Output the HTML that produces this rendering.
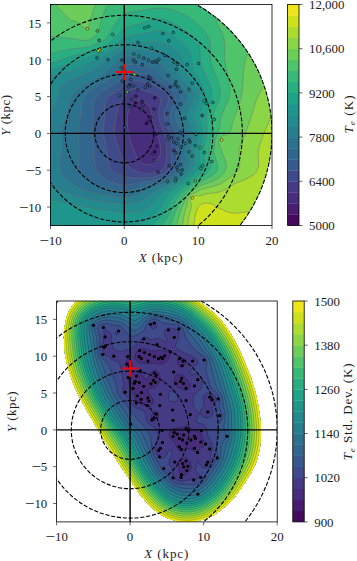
<!DOCTYPE html>
<html><head><meta charset="utf-8"><title>Te map</title>
<style>html,body{margin:0;padding:0;background:#fff}svg text{font-family:"Liberation Serif","DejaVu Serif",serif;fill:#1c1c1c}</style>
</head><body>
<svg width="357" height="561" viewBox="0 0 357 561" style="display:block">
<rect width="357" height="561" fill="#fff"/>
<defs>
<clipPath id="c1"><circle cx="124.3" cy="133.4" r="147.7"/></clipPath>
<clipPath id="f1"><rect x="50.5" y="4.5" width="221.5" height="221.0"/></clipPath>
<clipPath id="f2"><rect x="56.6" y="301.0" width="220.6" height="220.9"/></clipPath>
</defs>
<g clip-path="url(#f1)"><g clip-path="url(#c1)">
<g transform="scale(0.1)" stroke="#707070" stroke-opacity="0.8" stroke-width="6">
<path d="M475 2284l15 0 15 0 15 0 15 0 14 0 15 0 15 0 15 0 14 0 15 0 15 0 15 0 14 0 15 0 15 0 15 0 14 0 15 0 15 0 15 0 15 0 14 0 15 0 15 0 15 0 14 0 15 0 15 0 15 0 14 0 15 0 15 0 15 0 15 0 14 0 15 0 15 0 15 0 14 0 15 0 15 0 15 0 14 0 15 0 15 0 15 0 14 0 15 0 15 0 15 0 15 0 14 0 15 0 15 0 15 0 14 0 15 0 15 0 15 0 14 0 15 0 15 0 15 0 15 0 14 0 15 0 15 0 15 0 14 0 15 0 15 0 15 0 14 0 15 0 15 0 15 0 14 0 15 0 15 0 15 0 15 0 14 0 15 0 15 0 15 0 14 0 15 0 15 0 15 0 14 0 15 0 15 0 15 0 15 0 14 0 15 0 15 0 15 0 14 0 15 0 15 0 15 0 14 0 15 0 15 0 15 0 14 0 15 0 15 0 15 0 15 0 14 0 15 0 15 0 15 0 14 0 15 0 15 0 15 0 14 0 15 0 15 0 15 0 15 0 14 0 15 0 15 0 15 0 14 0 15 0 15 0 15 0 14 0 15 0 15 0 15 0 14 0 15 0 15 0 15 0 15 0 14 0 15 0 15 0 15 0 14 0 15 0 15 0 15 0 14 0 15 0 15 0 15 0 15 0 0-14 0-15 0-15 0-14 0-15 0-15 0-15 0-14 0-15 0-15 0-15 0-14 0-15 0-15 0-15 0-14 0-15 0-15 0-14 0-15 0-15 0-15 0-14 0-15 0-15 0-15 0-14 0-15 0-15 0-15 0-14 0-15 0-15 0-14 0-15 0-15 0-15 0-14 0-15 0-15 0-15 0-14 0-15 0-15 0-15 0-14 0-15 0-15 0-14 0-15 0-15 0-15 0-14 0-15 0-15 0-15 0-14 0-15 0-15 0-15 0-14 0-15 0-15 0-14 0-15 0-15 0-15 0-14 0-15 0-15 0-15 0-14 0-15 0-15 0-15 0-14 0-15 0-15 0-14 0-15 0-15 0-15 0-14 0-15 0-15 0-15 0-14 0-15 0-15 0-15 0-14 0-15 0-15 0-14 0-15 0-15 0-15 0-14 0-15 0-15 0-15 0-14 0-15 0-15 0-15 0-14 0-15 0-15 0-14 0-15 0-15 0-15 0-14 0-15 0-15 0-15 0-14 0-15 0-15 0-15 0-14 0-15 0-15 0-14 0-15 0-15 0-15 0-14 0-15 0-15 0-15 0-14 0-15 0-15 0-15 0-14 0-15 0-15 0-14 0-15 0-15 0-15 0-14 0-15 0-15 0-15 0-14 0-15 0-15 0-15 0-14 0-15 0-15 0-14-15 0-15 0-15 0-15 0-14 0-15 0-15 0-15 0-14 0-15 0-15 0-15 0-14 0-15 0-15 0-15 0-15 0-14 0-15 0-15 0-15 0-14 0-15 0-15 0-15 0-14 0-15 0-15 0-15 0-14 0-15 0-15 0-15 0-15 0-14 0-15 0-15 0-15 0-14 0-15 0-15 0-15 0-14 0-15 0-15 0-15 0-15 0-14 0-15 0-15 0-15 0-14 0-15 0-15 0-15 0-14 0-15 0-15 0-15 0-14 0-15 0-15 0-15 0-15 0-14 0-15 0-15 0-15 0-14 0-15 0-15 0-15 0-14 0-15 0-15 0-15 0-15 0-14 0-15 0-15 0-15 0-14 0-15 0-15 0-15 0-14 0-15 0-15 0-15 0-14 0-15 0-15 0-15 0-15 0-14 0-15 0-15 0-15 0-14 0-15 0-15 0-15 0-14 0-15 0-15 0-15 0-15 0-14 0-15 0-15 0-15 0-14 0-15 0-15 0-15 0-14 0-15 0-15 0-15 0-14 0-15 0-15 0-15 0-15 0-14 0-15 0-15 0-15 0-14 0-15 0-15 0-15 0-14 0-15 0-15 0-15 0-15 0-14 0-15 0-15 0-15 0-14 0-15 0-15 0-15 0-14 0-15 0-15 0-15 0-14 0-15 0-15 0-15 0-15 0 0 14 0 15 0 15 0 14 0 15 0 15 0 15 0 14 0 15 0 15 0 15 0 14 0 15 0 15 0 15 0 14 0 15 0 15 0 14 0 15 0 15 0 15 0 14 0 15 0 15 0 15 0 14 0 15 0 15 0 15 0 14 0 15 0 15 0 14 0 15 0 15 0 15 0 14 0 15 0 15 0 15 0 14 0 15 0 15 0 15 0 14 0 15 0 15 0 14 0 15 0 15 0 15 0 14 0 15 0 15 0 15 0 14 0 15 0 15 0 15 0 14 0 15 0 15 0 14 0 15 0 15 0 15 0 14 0 15 0 15 0 15 0 14 0 15 0 15 0 15 0 14 0 15 0 15 0 14 0 15 0 15 0 15 0 14 0 15 0 15 0 15 0 14 0 15 0 15 0 15 0 14 0 15 0 15 0 14 0 15 0 15 0 15 0 14 0 15 0 15 0 15 0 14 0 15 0 15 0 15 0 14 0 15 0 15 0 14 0 15 0 15 0 15 0 14 0 15 0 15 0 15 0 14 0 15 0 15 0 15 0 14 0 15 0 15 0 14 0 15 0 15 0 15 0 14 0 15 0 15 0 15 0 14 0 15 0 15 0 15 0 14 0 15 0 15 0 14 0 15 0 15 0 15 0 14 0 15 0 15 0 15 0 14 0 15 0 15 0 15 0 14 0 15 0 15 0 14z" fill="#460a5d" fill-rule="evenodd"/>
<path d="M475 2284l15 0 15 0 15 0 15 0 14 0 15 0 15 0 15 0 14 0 15 0 15 0 15 0 14 0 15 0 15 0 15 0 14 0 15 0 15 0 15 0 15 0 14 0 15 0 15 0 15 0 14 0 15 0 15 0 15 0 14 0 15 0 15 0 15 0 15 0 14 0 15 0 15 0 15 0 14 0 15 0 15 0 15 0 14 0 15 0 15 0 15 0 14 0 15 0 15 0 15 0 15 0 14 0 15 0 15 0 15 0 14 0 15 0 15 0 15 0 14 0 15 0 15 0 15 0 15 0 14 0 15 0 15 0 15 0 14 0 15 0 15 0 15 0 14 0 15 0 15 0 15 0 14 0 15 0 15 0 15 0 15 0 14 0 15 0 15 0 15 0 14 0 15 0 15 0 15 0 14 0 15 0 15 0 15 0 15 0 14 0 15 0 15 0 15 0 14 0 15 0 15 0 15 0 14 0 15 0 15 0 15 0 14 0 15 0 15 0 15 0 15 0 14 0 15 0 15 0 15 0 14 0 15 0 15 0 15 0 14 0 15 0 15 0 15 0 15 0 14 0 15 0 15 0 15 0 14 0 15 0 15 0 15 0 14 0 15 0 15 0 15 0 14 0 15 0 15 0 15 0 15 0 14 0 15 0 15 0 15 0 14 0 15 0 15 0 15 0 14 0 15 0 15 0 15 0 15 0 0-14 0-15 0-15 0-14 0-15 0-15 0-15 0-14 0-15 0-15 0-15 0-14 0-15 0-15 0-15 0-14 0-15 0-15 0-14 0-15 0-15 0-15 0-14 0-15 0-15 0-15 0-14 0-15 0-15 0-15 0-14 0-15 0-15 0-14 0-15 0-15 0-15 0-14 0-15 0-15 0-15 0-14 0-15 0-15 0-15 0-14 0-15 0-15 0-14 0-15 0-15 0-15 0-14 0-15 0-15 0-15 0-14 0-15 0-15 0-15 0-14 0-15 0-15 0-14 0-15 0-15 0-15 0-14 0-15 0-15 0-15 0-14 0-15 0-15 0-15 0-14 0-15 0-15 0-14 0-15 0-15 0-15 0-14 0-15 0-15 0-15 0-14 0-15 0-15 0-15 0-14 0-15 0-15 0-14 0-15 0-15 0-15 0-14 0-15 0-15 0-15 0-14 0-15 0-15 0-15 0-14 0-15 0-15 0-14 0-15 0-15 0-15 0-14 0-15 0-15 0-15 0-14 0-15 0-15 0-15 0-14 0-15 0-15 0-14 0-15 0-15 0-15 0-14 0-15 0-15 0-15 0-14 0-15 0-15 0-15 0-14 0-15 0-15 0-14 0-15 0-15 0-15 0-14 0-15 0-15 0-15 0-14 0-15 0-15 0-15 0-14 0-15 0-15 0-14-15 0-15 0-15 0-15 0-14 0-15 0-15 0-15 0-14 0-15 0-15 0-15 0-14 0-15 0-15 0-15 0-15 0-14 0-15 0-15 0-15 0-14 0-15 0-15 0-15 0-14 0-15 0-15 0-15 0-14 0-15 0-15 0-15 0-15 0-14 0-15 0-15 0-15 0-14 0-15 0-15 0-15 0-14 0-15 0-15 0-15 0-15 0-14 0-15 0-15 0-15 0-14 0-15 0-15 0-15 0-14 0-15 0-15 0-15 0-14 0-15 0-15 0-15 0-15 0-14 0-15 0-15 0-15 0-14 0-15 0-15 0-15 0-14 0-15 0-15 0-15 0-15 0-14 0-15 0-15 0-15 0-14 0-15 0-15 0-15 0-14 0-15 0-15 0-15 0-14 0-15 0-15 0-15 0-15 0-14 0-15 0-15 0-15 0-14 0-15 0-15 0-15 0-14 0-15 0-15 0-15 0-15 0-14 0-15 0-15 0-15 0-14 0-15 0-15 0-15 0-14 0-15 0-15 0-15 0-14 0-15 0-15 0-15 0-15 0-14 0-15 0-15 0-15 0-14 0-15 0-15 0-15 0-14 0-15 0-15 0-15 0-15 0-14 0-15 0-15 0-15 0-14 0-15 0-15 0-15 0-14 0-15 0-15 0-15 0-14 0-15 0-15 0-15 0-15 0 0 14 0 15 0 15 0 14 0 15 0 15 0 15 0 14 0 15 0 15 0 15 0 14 0 15 0 15 0 15 0 14 0 15 0 15 0 14 0 15 0 15 0 15 0 14 0 15 0 15 0 15 0 14 0 15 0 15 0 15 0 14 0 15 0 15 0 14 0 15 0 15 0 15 0 14 0 15 0 15 0 15 0 14 0 15 0 15 0 15 0 14 0 15 0 15 0 14 0 15 0 15 0 15 0 14 0 15 0 15 0 15 0 14 0 15 0 15 0 15 0 14 0 15 0 15 0 14 0 15 0 15 0 15 0 14 0 15 0 15 0 15 0 14 0 15 0 15 0 15 0 14 0 15 0 15 0 14 0 15 0 15 0 15 0 14 0 15 0 15 0 15 0 14 0 15 0 15 0 15 0 14 0 15 0 15 0 14 0 15 0 15 0 15 0 14 0 15 0 15 0 15 0 14 0 15 0 15 0 15 0 14 0 15 0 15 0 14 0 15 0 15 0 15 0 14 0 15 0 15 0 15 0 14 0 15 0 15 0 15 0 14 0 15 0 15 0 14 0 15 0 15 0 15 0 14 0 15 0 15 0 15 0 14 0 15 0 15 0 15 0 14 0 15 0 15 0 14 0 15 0 15 0 15 0 14 0 15 0 15 0 15 0 14 0 15 0 15 0 15 0 14 0 15 0 15 0 14z" fill="#481c6e" fill-rule="evenodd"/>
<path d="M475 2284l15 0 15 0 15 0 15 0 14 0 15 0 15 0 15 0 14 0 15 0 15 0 15 0 14 0 15 0 15 0 15 0 14 0 15 0 15 0 15 0 15 0 14 0 15 0 15 0 15 0 14 0 15 0 15 0 15 0 14 0 15 0 15 0 15 0 15 0 14 0 15 0 15 0 15 0 14 0 15 0 15 0 15 0 14 0 15 0 15 0 15 0 14 0 15 0 15 0 15 0 15 0 14 0 15 0 15 0 15 0 14 0 15 0 15 0 15 0 14 0 15 0 15 0 15 0 15 0 14 0 15 0 15 0 15 0 14 0 15 0 15 0 15 0 14 0 15 0 15 0 15 0 14 0 15 0 15 0 15 0 15 0 14 0 15 0 15 0 15 0 14 0 15 0 15 0 15 0 14 0 15 0 15 0 15 0 15 0 14 0 15 0 15 0 15 0 14 0 15 0 15 0 15 0 14 0 15 0 15 0 15 0 14 0 15 0 15 0 15 0 15 0 14 0 15 0 15 0 15 0 14 0 15 0 15 0 15 0 14 0 15 0 15 0 15 0 15 0 14 0 15 0 15 0 15 0 14 0 15 0 15 0 15 0 14 0 15 0 15 0 15 0 14 0 15 0 15 0 15 0 15 0 14 0 15 0 15 0 15 0 14 0 15 0 15 0 15 0 14 0 15 0 15 0 15 0 15 0 0-14 0-15 0-15 0-14 0-15 0-15 0-15 0-14 0-15 0-15 0-15 0-14 0-15 0-15 0-15 0-14 0-15 0-15 0-14 0-15 0-15 0-15 0-14 0-15 0-15 0-15 0-14 0-15 0-15 0-15 0-14 0-15 0-15 0-14 0-15 0-15 0-15 0-14 0-15 0-15 0-15 0-14 0-15 0-15 0-15 0-14 0-15 0-15 0-14 0-15 0-15 0-15 0-14 0-15 0-15 0-15 0-14 0-15 0-15 0-15 0-14 0-15 0-15 0-14 0-15 0-15 0-15 0-14 0-15 0-15 0-15 0-14 0-15 0-15 0-15 0-14 0-15 0-15 0-14 0-15 0-15 0-15 0-14 0-15 0-15 0-15 0-14 0-15 0-15 0-15 0-14 0-15 0-15 0-14 0-15 0-15 0-15 0-14 0-15 0-15 0-15 0-14 0-15 0-15 0-15 0-14 0-15 0-15 0-14 0-15 0-15 0-15 0-14 0-15 0-15 0-15 0-14 0-15 0-15 0-15 0-14 0-15 0-15 0-14 0-15 0-15 0-15 0-14 0-15 0-15 0-15 0-14 0-15 0-15 0-15 0-14 0-15 0-15 0-14 0-15 0-15 0-15 0-14 0-15 0-15 0-15 0-14 0-15 0-15 0-15 0-14 0-15 0-15 0-14-15 0-15 0-15 0-15 0-14 0-15 0-15 0-15 0-14 0-15 0-15 0-15 0-14 0-15 0-15 0-15 0-15 0-14 0-15 0-15 0-15 0-14 0-15 0-15 0-15 0-14 0-15 0-15 0-15 0-14 0-15 0-15 0-15 0-15 0-14 0-15 0-15 0-15 0-14 0-15 0-15 0-15 0-14 0-15 0-15 0-15 0-15 0-14 0-15 0-15 0-15 0-14 0-15 0-15 0-15 0-14 0-15 0-15 0-15 0-14 0-15 0-15 0-15 0-15 0-14 0-15 0-15 0-15 0-14 0-15 0-15 0-15 0-14 0-15 0-15 0-15 0-15 0-14 0-15 0-15 0-15 0-14 0-15 0-15 0-15 0-14 0-15 0-15 0-15 0-14 0-15 0-15 0-15 0-15 0-14 0-15 0-15 0-15 0-14 0-15 0-15 0-15 0-14 0-15 0-15 0-15 0-15 0-14 0-15 0-15 0-15 0-14 0-15 0-15 0-15 0-14 0-15 0-15 0-15 0-14 0-15 0-15 0-15 0-15 0-14 0-15 0-15 0-15 0-14 0-15 0-15 0-15 0-14 0-15 0-15 0-15 0-15 0-14 0-15 0-15 0-15 0-14 0-15 0-15 0-15 0-14 0-15 0-15 0-15 0-14 0-15 0-15 0-15 0-15 0 0 14 0 15 0 15 0 14 0 15 0 15 0 15 0 14 0 15 0 15 0 15 0 14 0 15 0 15 0 15 0 14 0 15 0 15 0 14 0 15 0 15 0 15 0 14 0 15 0 15 0 15 0 14 0 15 0 15 0 15 0 14 0 15 0 15 0 14 0 15 0 15 0 15 0 14 0 15 0 15 0 15 0 14 0 15 0 15 0 15 0 14 0 15 0 15 0 14 0 15 0 15 0 15 0 14 0 15 0 15 0 15 0 14 0 15 0 15 0 15 0 14 0 15 0 15 0 14 0 15 0 15 0 15 0 14 0 15 0 15 0 15 0 14 0 15 0 15 0 15 0 14 0 15 0 15 0 14 0 15 0 15 0 15 0 14 0 15 0 15 0 15 0 14 0 15 0 15 0 15 0 14 0 15 0 15 0 14 0 15 0 15 0 15 0 14 0 15 0 15 0 15 0 14 0 15 0 15 0 15 0 14 0 15 0 15 0 14 0 15 0 15 0 15 0 14 0 15 0 15 0 15 0 14 0 15 0 15 0 15 0 14 0 15 0 15 0 14 0 15 0 15 0 15 0 14 0 15 0 15 0 15 0 14 0 15 0 15 0 15 0 14 0 15 0 15 0 14 0 15 0 15 0 15 0 14 0 15 0 15 0 15 0 14 0 15 0 15 0 15 0 14 0 15 0 15 0 14z" fill="#472d7b" fill-rule="evenodd"/>
<path d="M475 2284l15 0 15 0 15 0 15 0 14 0 15 0 15 0 15 0 14 0 15 0 15 0 15 0 14 0 15 0 15 0 15 0 14 0 15 0 15 0 15 0 15 0 14 0 15 0 15 0 15 0 14 0 15 0 15 0 15 0 14 0 15 0 15 0 15 0 15 0 14 0 15 0 15 0 15 0 14 0 15 0 15 0 15 0 14 0 15 0 15 0 15 0 14 0 15 0 15 0 15 0 15 0 14 0 15 0 15 0 15 0 14 0 15 0 15 0 15 0 14 0 15 0 15 0 15 0 15 0 14 0 15 0 15 0 15 0 14 0 15 0 15 0 15 0 14 0 15 0 15 0 15 0 14 0 15 0 15 0 15 0 15 0 14 0 15 0 15 0 15 0 14 0 15 0 15 0 15 0 14 0 15 0 15 0 15 0 15 0 14 0 15 0 15 0 15 0 14 0 15 0 15 0 15 0 14 0 15 0 15 0 15 0 14 0 15 0 15 0 15 0 15 0 14 0 15 0 15 0 15 0 14 0 15 0 15 0 15 0 14 0 15 0 15 0 15 0 15 0 14 0 15 0 15 0 15 0 14 0 15 0 15 0 15 0 14 0 15 0 15 0 15 0 14 0 15 0 15 0 15 0 15 0 14 0 15 0 15 0 15 0 14 0 15 0 15 0 15 0 14 0 15 0 15 0 15 0 15 0 0-14 0-15 0-15 0-14 0-15 0-15 0-15 0-14 0-15 0-15 0-15 0-14 0-15 0-15 0-15 0-14 0-15 0-15 0-14 0-15 0-15 0-15 0-14 0-15 0-15 0-15 0-14 0-15 0-15 0-15 0-14 0-15 0-15 0-14 0-15 0-15 0-15 0-14 0-15 0-15 0-15 0-14 0-15 0-15 0-15 0-14 0-15 0-15 0-14 0-15 0-15 0-15 0-14 0-15 0-15 0-15 0-14 0-15 0-15 0-15 0-14 0-15 0-15 0-14 0-15 0-15 0-15 0-14 0-15 0-15 0-15 0-14 0-15 0-15 0-15 0-14 0-15 0-15 0-14 0-15 0-15 0-15 0-14 0-15 0-15 0-15 0-14 0-15 0-15 0-15 0-14 0-15 0-15 0-14 0-15 0-15 0-15 0-14 0-15 0-15 0-15 0-14 0-15 0-15 0-15 0-14 0-15 0-15 0-14 0-15 0-15 0-15 0-14 0-15 0-15 0-15 0-14 0-15 0-15 0-15 0-14 0-15 0-15 0-14 0-15 0-15 0-15 0-14 0-15 0-15 0-15 0-14 0-15 0-15 0-15 0-14 0-15 0-15 0-14 0-15 0-15 0-15 0-14 0-15 0-15 0-15 0-14 0-15 0-15 0-15 0-14 0-15 0-15 0-14-15 0-15 0-15 0-15 0-14 0-15 0-15 0-15 0-14 0-15 0-15 0-15 0-14 0-15 0-15 0-15 0-15 0-14 0-15 0-15 0-15 0-14 0-15 0-15 0-15 0-14 0-15 0-15 0-15 0-14 0-15 0-15 0-15 0-15 0-14 0-15 0-15 0-15 0-14 0-15 0-15 0-15 0-14 0-15 0-15 0-15 0-15 0-14 0-15 0-15 0-15 0-14 0-15 0-15 0-15 0-14 0-15 0-15 0-15 0-14 0-15 0-15 0-15 0-15 0-14 0-15 0-15 0-15 0-14 0-15 0-15 0-15 0-14 0-15 0-15 0-15 0-15 0-14 0-15 0-15 0-15 0-14 0-15 0-15 0-15 0-14 0-15 0-15 0-15 0-14 0-15 0-15 0-15 0-15 0-14 0-15 0-15 0-15 0-14 0-15 0-15 0-15 0-14 0-15 0-15 0-15 0-15 0-14 0-15 0-15 0-15 0-14 0-15 0-15 0-15 0-14 0-15 0-15 0-15 0-14 0-15 0-15 0-15 0-15 0-14 0-15 0-15 0-15 0-14 0-15 0-15 0-15 0-14 0-15 0-15 0-15 0-15 0-14 0-15 0-15 0-15 0-14 0-15 0-15 0-15 0-14 0-15 0-15 0-15 0-14 0-15 0-15 0-15 0-15 0 0 14 0 15 0 15 0 14 0 15 0 15 0 15 0 14 0 15 0 15 0 15 0 14 0 15 0 15 0 15 0 14 0 15 0 15 0 14 0 15 0 15 0 15 0 14 0 15 0 15 0 15 0 14 0 15 0 15 0 15 0 14 0 15 0 15 0 14 0 15 0 15 0 15 0 14 0 15 0 15 0 15 0 14 0 15 0 15 0 15 0 14 0 15 0 15 0 14 0 15 0 15 0 15 0 14 0 15 0 15 0 15 0 14 0 15 0 15 0 15 0 14 0 15 0 15 0 14 0 15 0 15 0 15 0 14 0 15 0 15 0 15 0 14 0 15 0 15 0 15 0 14 0 15 0 15 0 14 0 15 0 15 0 15 0 14 0 15 0 15 0 15 0 14 0 15 0 15 0 15 0 14 0 15 0 15 0 14 0 15 0 15 0 15 0 14 0 15 0 15 0 15 0 14 0 15 0 15 0 15 0 14 0 15 0 15 0 14 0 15 0 15 0 15 0 14 0 15 0 15 0 15 0 14 0 15 0 15 0 15 0 14 0 15 0 15 0 14 0 15 0 15 0 15 0 14 0 15 0 15 0 15 0 14 0 15 0 15 0 15 0 14 0 15 0 15 0 14 0 15 0 15 0 15 0 14 0 15 0 15 0 15 0 14 0 15 0 15 0 15 0 14 0 15 0 15 0 14zM1435 1638l-14-8-14-9-16-14-11-15-4-5-5-10-7-14-3-7-3-8-5-15-4-15-7-14-7-15-3-8-3-7-7-15-5-13-6-16-5-15-4-12-4-17-4-15-3-15-3-14-3-15-3-15-2-15-3-14-2-15-1-15 0-15-1-14 1-15 0-15 1-15 1-14 1-15 3-15 4-14 4-15 5-15 6-15 3-7 4-7 9-15 10-15 7-9 6-6 9-6 14-5 15 0 15 3 15 4 15 4 14 6 15 6 8 3 7 4 15 11 12 15 8 14 6 15 3 10 5 20 2 14 3 15 2 15 2 14 2 15 3 15 3 15 5 14 3 9 7 21 6 15 6 14 6 15 4 9 2 6 6 15 4 14 3 11 5 19 3 14 4 15 3 15 2 15 2 14 2 15 1 15 1 15 0 14-2 15-4 15-2 7-3 8-7 14-5 9-5 6-10 12-15 10-14 7-15 11-6 4-9 6-15 5-14 2-15-1-15-4-15-6z" fill="#443b84" fill-rule="evenodd"/>
<path d="M475 2284l15 0 15 0 15 0 15 0 14 0 15 0 15 0 15 0 14 0 15 0 15 0 15 0 14 0 15 0 15 0 15 0 14 0 15 0 15 0 15 0 15 0 14 0 15 0 15 0 15 0 14 0 15 0 15 0 15 0 14 0 15 0 15 0 15 0 15 0 14 0 15 0 15 0 15 0 14 0 15 0 15 0 15 0 14 0 15 0 15 0 15 0 14 0 15 0 15 0 15 0 15 0 14 0 15 0 15 0 15 0 14 0 15 0 15 0 15 0 14 0 15 0 15 0 15 0 15 0 14 0 15 0 15 0 15 0 14 0 15 0 15 0 15 0 14 0 15 0 15 0 15 0 14 0 15 0 15 0 15 0 15 0 14 0 15 0 15 0 15 0 14 0 15 0 15 0 15 0 14 0 15 0 15 0 15 0 15 0 14 0 15 0 15 0 15 0 14 0 15 0 15 0 15 0 14 0 15 0 15 0 15 0 14 0 15 0 15 0 15 0 15 0 14 0 15 0 15 0 15 0 14 0 15 0 15 0 15 0 14 0 15 0 15 0 15 0 15 0 14 0 15 0 15 0 15 0 14 0 15 0 15 0 15 0 14 0 15 0 15 0 15 0 14 0 15 0 15 0 15 0 15 0 14 0 15 0 15 0 15 0 14 0 15 0 15 0 15 0 14 0 15 0 15 0 15 0 15 0 0-14 0-15 0-15 0-14 0-15 0-15 0-15 0-14 0-15 0-15 0-15 0-14 0-15 0-15 0-15 0-14 0-15 0-15 0-14 0-15 0-15 0-15 0-14 0-15 0-15 0-15 0-14 0-15 0-15 0-15 0-14 0-15 0-15 0-14 0-15 0-15 0-15 0-14 0-15 0-15 0-15 0-14 0-15 0-15 0-15 0-14 0-15 0-15 0-14 0-15 0-15 0-15 0-14 0-15 0-15 0-15 0-14 0-15 0-15 0-15 0-14 0-15 0-15 0-14 0-15 0-15 0-15 0-14 0-15 0-15 0-15 0-14 0-15 0-15 0-15 0-14 0-15 0-15 0-14 0-15 0-15 0-15 0-14 0-15 0-15 0-15 0-14 0-15 0-15 0-15 0-14 0-15 0-15 0-14 0-15 0-15 0-15 0-14 0-15 0-15 0-15 0-14 0-15 0-15 0-15 0-14 0-15 0-15 0-14 0-15 0-15 0-15 0-14 0-15 0-15 0-15 0-14 0-15 0-15 0-15 0-14 0-15 0-15 0-14 0-15 0-15 0-15 0-14 0-15 0-15 0-15 0-14 0-15 0-15 0-15 0-14 0-15 0-15 0-14 0-15 0-15 0-15 0-14 0-15 0-15 0-15 0-14 0-15 0-15 0-15 0-14 0-15 0-15 0-14-15 0-15 0-15 0-15 0-14 0-15 0-15 0-15 0-14 0-15 0-15 0-15 0-14 0-15 0-15 0-15 0-15 0-14 0-15 0-15 0-15 0-14 0-15 0-15 0-15 0-14 0-15 0-15 0-15 0-14 0-15 0-15 0-15 0-15 0-14 0-15 0-15 0-15 0-14 0-15 0-15 0-15 0-14 0-15 0-15 0-15 0-15 0-14 0-15 0-15 0-15 0-14 0-15 0-15 0-15 0-14 0-15 0-15 0-15 0-14 0-15 0-15 0-15 0-15 0-14 0-15 0-15 0-15 0-14 0-15 0-15 0-15 0-14 0-15 0-15 0-15 0-15 0-14 0-15 0-15 0-15 0-14 0-15 0-15 0-15 0-14 0-15 0-15 0-15 0-14 0-15 0-15 0-15 0-15 0-14 0-15 0-15 0-15 0-14 0-15 0-15 0-15 0-14 0-15 0-15 0-15 0-15 0-14 0-15 0-15 0-15 0-14 0-15 0-15 0-15 0-14 0-15 0-15 0-15 0-14 0-15 0-15 0-15 0-15 0-14 0-15 0-15 0-15 0-14 0-15 0-15 0-15 0-14 0-15 0-15 0-15 0-15 0-14 0-15 0-15 0-15 0-14 0-15 0-15 0-15 0-14 0-15 0-15 0-15 0-14 0-15 0-15 0-15 0-15 0 0 14 0 15 0 15 0 14 0 15 0 15 0 15 0 14 0 15 0 15 0 15 0 14 0 15 0 15 0 15 0 14 0 15 0 15 0 14 0 15 0 15 0 15 0 14 0 15 0 15 0 15 0 14 0 15 0 15 0 15 0 14 0 15 0 15 0 14 0 15 0 15 0 15 0 14 0 15 0 15 0 15 0 14 0 15 0 15 0 15 0 14 0 15 0 15 0 14 0 15 0 15 0 15 0 14 0 15 0 15 0 15 0 14 0 15 0 15 0 15 0 14 0 15 0 15 0 14 0 15 0 15 0 15 0 14 0 15 0 15 0 15 0 14 0 15 0 15 0 15 0 14 0 15 0 15 0 14 0 15 0 15 0 15 0 14 0 15 0 15 0 15 0 14 0 15 0 15 0 15 0 14 0 15 0 15 0 14 0 15 0 15 0 15 0 14 0 15 0 15 0 15 0 14 0 15 0 15 0 15 0 14 0 15 0 15 0 14 0 15 0 15 0 15 0 14 0 15 0 15 0 15 0 14 0 15 0 15 0 15 0 14 0 15 0 15 0 14 0 15 0 15 0 15 0 14 0 15 0 15 0 15 0 14 0 15 0 15 0 15 0 14 0 15 0 15 0 14 0 15 0 15 0 15 0 14 0 15 0 15 0 15 0 14 0 15 0 15 0 15 0 14 0 15 0 15 0 14zM1480 1741l-13-2-17-4-15-3-14-3-15-4-15-3-15-4-15-4-11-4-18-8-13-7-17-12-14-13-6-4-9-10-5-5-10-12-14-18-9-14-6-12-9-18-6-14-5-15-6-15-4-12-6-17-5-15-4-11-6-19-5-14-4-10-6-20-5-15-3-10-6-19-3-15-3-14-2-15 1-15 1-15 1-14 2-15 3-15 2-15 3-14 2-15 3-15 3-15 2-14 3-15 2-15 2-14 2-15 3-15 3-15 5-14 6-15 8-15 10-15 6-6 6-8 9-10 4-5 10-12 12-18 3-5 6-9 9-15 11-15 4-4 12-10 17-8 15-4 15-1 14 1 15 3 15 3 15 4 7 2 8 2 14 4 15 4 15 4 15 4 14 3 15 4 13 4 17 6 14 6 7 3 8 4 15 9 15 16 5 15 2 15 0 14-1 15-3 15-3 15-3 14-3 15-3 15-1 15-1 14 0 15 1 15 1 14 3 15 4 15 2 6 2 9 5 14 5 15 2 6 4 9 6 15 5 14 6 15 6 15 3 10 6 19 4 15 3 15 2 9 3 20 2 15 1 15 1 14 1 15 0 15 1 15 0 14 0 15 0 15-1 15 0 14-1 15-2 15-2 14-3 15-5 15-6 15-4 7-5 7-10 12-15 11-13 7-16 6-15 5-9 4-20 6-15 4-15 4-15 2-14 0z" fill="#3e4a89" fill-rule="evenodd"/>
<path d="M475 2284l15 0 15 0 15 0 15 0 14 0 15 0 15 0 15 0 14 0 15 0 15 0 15 0 14 0 15 0 15 0 15 0 14 0 15 0 15 0 15 0 15 0 14 0 15 0 15 0 15 0 14 0 15 0 15 0 15 0 14 0 15 0 15 0 15 0 15 0 14 0 15 0 15 0 15 0 14 0 15 0 15 0 15 0 14 0 15 0 15 0 15 0 14 0 15 0 15 0 15 0 15 0 14 0 15 0 15 0 15 0 14 0 15 0 15 0 15 0 14 0 15 0 15 0 15 0 15 0 14 0 15 0 15 0 15 0 14 0 15 0 15 0 15 0 14 0 15 0 15 0 15 0 14 0 15 0 15 0 15 0 15 0 14 0 15 0 15 0 15 0 14 0 15 0 15 0 15 0 14 0 15 0 15 0 15 0 15 0 14 0 15 0 15 0 15 0 14 0 15 0 15 0 15 0 14 0 15 0 15 0 15 0 14 0 15 0 15 0 15 0 15 0 14 0 15 0 15 0 15 0 14 0 15 0 15 0 15 0 14 0 15 0 15 0 15 0 15 0 14 0 15 0 15 0 15 0 14 0 15 0 15 0 15 0 14 0 15 0 15 0 15 0 14 0 15 0 15 0 15 0 15 0 14 0 15 0 15 0 15 0 14 0 15 0 15 0 15 0 14 0 15 0 15 0 15 0 15 0 0-14 0-15 0-15 0-14 0-15 0-15 0-15 0-14 0-15 0-15 0-15 0-14 0-15 0-15 0-15 0-14 0-15 0-15 0-14 0-15 0-15 0-15 0-14 0-15 0-15 0-15 0-14 0-15 0-15 0-15 0-14 0-15 0-15 0-14 0-15 0-15 0-15 0-14 0-15 0-15 0-15 0-14 0-15 0-15 0-15 0-14 0-15 0-15 0-14 0-15 0-15 0-15 0-14 0-15 0-15 0-15 0-14 0-15 0-15 0-15 0-14 0-15 0-15 0-14 0-15 0-15 0-15 0-14 0-15 0-15 0-15 0-14 0-15 0-15 0-15 0-14 0-15 0-15 0-14 0-15 0-15 0-15 0-14 0-15 0-15 0-15 0-14 0-15 0-15 0-15 0-14 0-15 0-15 0-14 0-15 0-15 0-15 0-14 0-15 0-15 0-15 0-14 0-15 0-15 0-15 0-14 0-15 0-15 0-14 0-15 0-15 0-15 0-14 0-15 0-15 0-15 0-14 0-15 0-15 0-15 0-14 0-15 0-15 0-14 0-15 0-15 0-15 0-14 0-15 0-15 0-15 0-14 0-15 0-15 0-15 0-14 0-15 0-15 0-14 0-15 0-15 0-15 0-14 0-15 0-15 0-15 0-14 0-15 0-15 0-15 0-14 0-15 0-15 0-14-15 0-15 0-15 0-15 0-14 0-15 0-15 0-15 0-14 0-15 0-15 0-15 0-14 0-15 0-15 0-15 0-15 0-14 0-15 0-15 0-15 0-14 0-15 0-15 0-15 0-14 0-15 0-15 0-15 0-14 0-15 0-15 0-15 0-15 0-14 0-15 0-15 0-15 0-14 0-15 0-15 0-15 0-14 0-15 0-15 0-15 0-15 0-14 0-15 0-15 0-15 0-14 0-15 0-15 0-15 0-14 0-15 0-15 0-15 0-14 0-15 0-15 0-15 0-15 0-14 0-15 0-15 0-15 0-14 0-15 0-15 0-15 0-14 0-15 0-15 0-15 0-15 0-14 0-15 0-15 0-15 0-14 0-15 0-15 0-15 0-14 0-15 0-15 0-15 0-14 0-15 0-15 0-15 0-15 0-14 0-15 0-15 0-15 0-14 0-15 0-15 0-15 0-14 0-15 0-15 0-15 0-15 0-14 0-15 0-15 0-15 0-14 0-15 0-15 0-15 0-14 0-15 0-15 0-15 0-14 0-15 0-15 0-15 0-15 0-14 0-15 0-15 0-15 0-14 0-15 0-15 0-15 0-14 0-15 0-15 0-15 0-15 0-14 0-15 0-15 0-15 0-14 0-15 0-15 0-15 0-14 0-15 0-15 0-15 0-14 0-15 0-15 0-15 0-15 0 0 14 0 15 0 15 0 14 0 15 0 15 0 15 0 14 0 15 0 15 0 15 0 14 0 15 0 15 0 15 0 14 0 15 0 15 0 14 0 15 0 15 0 15 0 14 0 15 0 15 0 15 0 14 0 15 0 15 0 15 0 14 0 15 0 15 0 14 0 15 0 15 0 15 0 14 0 15 0 15 0 15 0 14 0 15 0 15 0 15 0 14 0 15 0 15 0 14 0 15 0 15 0 15 0 14 0 15 0 15 0 15 0 14 0 15 0 15 0 15 0 14 0 15 0 15 0 14 0 15 0 15 0 15 0 14 0 15 0 15 0 15 0 14 0 15 0 15 0 15 0 14 0 15 0 15 0 14 0 15 0 15 0 15 0 14 0 15 0 15 0 15 0 14 0 15 0 15 0 15 0 14 0 15 0 15 0 14 0 15 0 15 0 15 0 14 0 15 0 15 0 15 0 14 0 15 0 15 0 15 0 14 0 15 0 15 0 14 0 15 0 15 0 15 0 14 0 15 0 15 0 15 0 14 0 15 0 15 0 15 0 14 0 15 0 15 0 14 0 15 0 15 0 15 0 14 0 15 0 15 0 15 0 14 0 15 0 15 0 15 0 14 0 15 0 15 0 14 0 15 0 15 0 15 0 14 0 15 0 15 0 15 0 14 0 15 0 15 0 15 0 14 0 15 0 15 0 14zM1258 1769l-15-4-14-4-15-5-7-2-8-3-15-5-15-6-14-8-14-7-16-13-14-17-7-15-5-14-3-10-6-20-4-15-3-14-2-14-3-16-2-14-2-15-2-15-2-15-3-14-3-15-3-15-4-15-3-14-3-14-3-16-2-15-2-14-2-15-1-15-1-14-1-15-1-15 0-15 0-14 1-15 0-15 1-15 1-14 1-15 2-15 1-15 1-14 0-15 0-15 0-14 0-15 0-15 0-15 1-14 2-15 2-12 5-18 6-14 4-9 3-6 9-15 15-15 17-11 6-3 9-6 15-8 15-9 9-7 5-3 15-11 15-12 15-12 6-6 9-7 8-8 6-5 12-9 18-14 15-8 14-6 7-2 8-2 15-2 15-1 14 0 15 2 15 2 15 3 15 3 14 4 15 4 9 2 21 6 14 5 11 4 19 7 15 7 14 7 15 7 15 8 14 8 15 9 9 6 6 4 15 10 15 13 15 16 9 15 5 14 2 16-1 15-3 14-5 15-5 15-6 15-6 14-5 14-6 16-4 15-3 14-1 15 0 15 3 14 3 15 4 15 4 12 6 17 6 15 3 7 3 8 6 15 5 13 7 16 5 15 3 10 5 19 3 15 2 15 1 14 1 15 1 15 0 15 0 14 0 15-1 15-1 15 0 14 1 15 1 15 1 15 0 14 0 15-1 15-2 14-2 15-5 15-4 11-9 18-6 10-3 5-11 14-15 13-15 10-12 7-18 8-14 6-15 5-15 4-15 4-8 3-21 5-15 2-15 2-14 0-15 0-15 0-15 1-14 0-15 0-15 1-15 0-15 0-14 0-15-1-15 0-15-2-14-2-15-3-15-3z" fill="#38598c" fill-rule="evenodd"/>
<path d="M475 2284l15 0 15 0 15 0 15 0 14 0 15 0 15 0 15 0 14 0 15 0 15 0 15 0 14 0 15 0 15 0 15 0 14 0 15 0 15 0 15 0 15 0 14 0 15 0 15 0 15 0 14 0 15 0 15 0 15 0 14 0 15 0 15 0 15 0 15 0 14 0 15 0 15 0 15 0 14 0 15 0 15 0 15 0 14 0 15 0 15 0 15 0 14 0 15 0 15 0 15 0 15 0 14 0 15 0 15 0 15 0 14 0 15 0 15 0 15 0 14 0 15 0 15 0 15 0 15 0 14 0 15 0 15 0 15 0 14 0 15 0 15 0 15 0 14 0 15 0 15 0 15 0 14 0 15 0 15 0 15 0 15 0 14 0 15 0 15 0 15 0 14 0 15 0 15 0 15 0 14 0 15 0 15 0 15 0 15 0 14 0 15 0 15 0 15 0 14 0 15 0 15 0 15 0 14 0 15 0 15 0 15 0 14 0 15 0 15 0 15 0 15 0 14 0 15 0 15 0 15 0 14 0 15 0 15 0 15 0 14 0 15 0 15 0 15 0 15 0 14 0 15 0 15 0 15 0 14 0 15 0 15 0 15 0 14 0 15 0 15 0 15 0 14 0 15 0 15 0 15 0 15 0 14 0 15 0 15 0 15 0 14 0 15 0 15 0 15 0 14 0 15 0 15 0 15 0 15 0 0-14 0-15 0-15 0-14 0-15 0-15 0-15 0-14 0-15 0-15 0-15 0-14 0-15 0-15 0-15 0-14 0-15 0-15 0-14 0-15 0-15 0-15 0-14 0-15 0-15 0-15 0-14 0-15 0-15 0-15 0-14 0-15 0-15 0-14 0-15 0-15 0-15 0-14 0-15 0-15 0-15 0-14 0-15 0-15 0-15 0-14 0-15 0-15 0-14 0-15 0-15 0-15 0-14 0-15 0-15 0-15 0-14 0-15 0-15 0-15 0-14 0-15 0-15 0-14 0-15 0-15 0-15 0-14 0-15 0-15 0-15 0-14 0-15 0-15 0-15 0-14 0-15 0-15 0-14 0-15 0-15 0-15 0-14 0-15 0-15 0-15 0-14 0-15 0-15 0-15 0-14 0-15 0-15 0-14 0-15 0-15 0-15 0-14 0-15 0-15 0-15 0-14 0-15 0-15 0-15 0-14 0-15 0-15 0-14 0-15 0-15 0-15 0-14 0-15 0-15 0-15 0-14 0-15 0-15 0-15 0-14 0-15 0-15 0-14 0-15 0-15 0-15 0-14 0-15 0-15 0-15 0-14 0-15 0-15 0-15 0-14 0-15 0-15 0-14 0-15 0-15 0-15 0-14 0-15 0-15 0-15 0-14 0-15 0-15 0-15 0-14 0-15 0-15 0-14-15 0-15 0-15 0-15 0-14 0-15 0-15 0-15 0-14 0-15 0-15 0-15 0-14 0-15 0-15 0-15 0-15 0-14 0-15 0-15 0-15 0-14 0-15 0-15 0-15 0-14 0-15 0-15 0-15 0-14 0-15 0-15 0-15 0-15 0-14 0-15 0-15 0-15 0-14 0-15 0-15 0-15 0-14 0-15 0-15 0-15 0-15 0-14 0-15 0-15 0-15 0-14 0-15 0-15 0-15 0-14 0-15 0-15 0-15 0-14 0-15 0-15 0-15 0-15 0-14 0-15 0-15 0-15 0-14 0-15 0-15 0-15 0-14 0-15 0-15 0-15 0-15 0-14 0-15 0-15 0-15 0-14 0-15 0-15 0-15 0-14 0-15 0-15 0-15 0-14 0-15 0-15 0-15 0-15 0-14 0-15 0-15 0-15 0-14 0-15 0-15 0-15 0-14 0-15 0-15 0-15 0-15 0-14 0-15 0-15 0-15 0-14 0-15 0-15 0-15 0-14 0-15 0-15 0-15 0-14 0-15 0-15 0-15 0-15 0-14 0-15 0-15 0-15 0-14 0-15 0-15 0-15 0-14 0-15 0-15 0-15 0-15 0-14 0-15 0-15 0-15 0-14 0-15 0-15 0-15 0-14 0-15 0-15 0-15 0-14 0-15 0-15 0-15 0-15 0 0 14 0 15 0 15 0 14 0 15 0 15 0 15 0 14 0 15 0 15 0 15 0 14 0 15 0 15 0 15 0 14 0 15 0 15 0 14 0 15 0 15 0 15 0 14 0 15 0 15 0 15 0 14 0 15 0 15 0 15 0 14 0 15 0 15 0 14 0 15 0 15 0 15 0 14 0 15 0 15 0 15 0 14 0 15 0 15 0 15 0 14 0 15 0 15 0 14 0 15 0 15 0 15 0 14 0 15 0 15 0 15 0 14 0 15 0 15 0 15 0 14 0 15 0 15 0 14 0 15 0 15 0 15 0 14 0 15 0 15 0 15 0 14 0 15 0 15 0 15 0 14 0 15 0 15 0 14 0 15 0 15 0 15 0 14 0 15 0 15 0 15 0 14 0 15 0 15 0 15 0 14 0 15 0 15 0 14 0 15 0 15 0 15 0 14 0 15 0 15 0 15 0 14 0 15 0 15 0 15 0 14 0 15 0 15 0 14 0 15 0 15 0 15 0 14 0 15 0 15 0 15 0 14 0 15 0 15 0 15 0 14 0 15 0 15 0 14 0 15 0 15 0 15 0 14 0 15 0 15 0 15 0 14 0 15 0 15 0 15 0 14 0 15 0 15 0 14 0 15 0 15 0 15 0 14 0 15 0 15 0 15 0 14 0 15 0 15 0 15 0 14 0 15 0 15 0 14zM1184 1843l-15-4-14-3-15-5-10-3-20-8-14-6-15-8-15-8-15-10-7-4-7-7-11-8-4-4-13-11-15-15-13-14-3-5-8-10-7-13-6-17-4-14-3-15-2-14-2-16-1-14 0-15-1-15 0-14-1-15 0-15-1-15-1-14-1-15-2-15-1-15-2-14-1-15-2-15-2-15-1-14-1-15-1-15-1-14 0-15 0-15 0-15 0-14 0-15 1-15 1-15 0-14 1-15 1-15 0-15 1-14 0-15 0-15 0-14 0-15 0-15 0-15 1-14 1-11 3-19 4-15 5-14 3-9 3-6 8-15 4-4 8-11 7-6 9-8 5-5 13-10 17-12 15-10 11-7 18-11 7-4 8-4 15-8 14-9 15-8 15-9 11-6 18-12 6-3 9-6 14-9 16-9 9-6 6-3 14-9 15-12 7-5 8-6 13-9 16-9 15-5 15-4 15-3 14 0 15 0 15 2 15 2 11 2 18 5 15 4 15 4 7 2 8 3 14 5 15 6 15 7 15 8 14 10 8 5 7 5 13 10 17 11 5 4 9 6 14 9 16 10 7 4 8 5 14 10 15 12 15 12 7 6 8 8 6 6 9 11 12 19 6 14 3 15 0 15-2 15-3 14-5 15-6 15-5 11-9 18-6 15-6 15-4 15-3 14-2 13 0 17 1 14 3 15 3 15 5 15 3 7 2 7 6 15 6 15 6 15 6 14 3 10 7 20 4 15 4 14 2 15 2 15 1 14 0 15 0 15 0 15-1 14-1 15-1 15-1 15 0 14 0 15 1 15 1 15 0 14 0 15-1 15-2 12-3 17-4 15-6 15-8 14-8 14-12 16-13 15-5 4-12 10-17 13-15 9-15 8-15 6-15 6-7 3-7 2-15 5-15 4-13 3-16 4-15 3-15 3-15 2-14 2-15 2-15 3-15 3-14 3-15 3-8 2-7 1-15 4-15 3-14 3-15 3-15 2-15 2-14 2-15 2-15 1-15 0-14-1-15-2-15-2-15-3z" fill="#31668e" fill-rule="evenodd"/>
<path d="M475 2284l15 0 15 0 15 0 15 0 14 0 15 0 15 0 15 0 14 0 15 0 15 0 15 0 14 0 15 0 15 0 15 0 14 0 15 0 15 0 15 0 15 0 14 0 15 0 15 0 15 0 14 0 15 0 15 0 15 0 14 0 15 0 15 0 15 0 15 0 14 0 15 0 15 0 15 0 14 0 15 0 15 0 15 0 14 0 15 0 15 0 15 0 14 0 15 0 15 0 15 0 15 0 14 0 15 0 15 0 15 0 14 0 15 0 15 0 15 0 14 0 15 0 15 0 15 0 15 0 14 0 15 0 15 0 15 0 14 0 15 0 15 0 15 0 14 0 15 0 15 0 15 0 14 0 15 0 15 0 15 0 15 0 14 0 15 0 15 0 15 0 14 0 15 0 15 0 15 0 14 0 15 0 15 0 15 0 15 0 14 0 15 0 15 0 15 0 14 0 15 0 15 0 15 0 14 0 15 0 15 0 15 0 14 0 15 0 15 0 15 0 15 0 14 0 15 0 15 0 15 0 14 0 15 0 15 0 15 0 14 0 15 0 15 0 15 0 15 0 14 0 15 0 15 0 15 0 14 0 15 0 15 0 15 0 14 0 15 0 15 0 15 0 14 0 15 0 15 0 15 0 15 0 14 0 15 0 15 0 15 0 14 0 15 0 15 0 15 0 14 0 15 0 15 0 15 0 15 0 0-14 0-15 0-15 0-14 0-15 0-15 0-15 0-14 0-15 0-15 0-15 0-14 0-15 0-15 0-15 0-14 0-15 0-15 0-14 0-15 0-15 0-15 0-14 0-15 0-15 0-15 0-14 0-15 0-15 0-15 0-14 0-15 0-15 0-14 0-15 0-15 0-15 0-14 0-15 0-15 0-15 0-14 0-15 0-15 0-15 0-14 0-15 0-15 0-14 0-15 0-15 0-15 0-14 0-15 0-15 0-15 0-14 0-15 0-15 0-15 0-14 0-15 0-15 0-14 0-15 0-15 0-15 0-14 0-15 0-15 0-15 0-14 0-15 0-15 0-15 0-14 0-15 0-15 0-14 0-15 0-15 0-15 0-14 0-15 0-15 0-15 0-14 0-15 0-15 0-15 0-14 0-15 0-15 0-14 0-15 0-15 0-15 0-14 0-15 0-15 0-15 0-14 0-15 0-15 0-15 0-14 0-15 0-15 0-14 0-15 0-15 0-15 0-14 0-15 0-15 0-15 0-14 0-15 0-15 0-15 0-14 0-15 0-15 0-14 0-15 0-15 0-15 0-14 0-15 0-15 0-15 0-14 0-15 0-15 0-15 0-14 0-15 0-15 0-14 0-15 0-15 0-15 0-14 0-15 0-15 0-15 0-14 0-15 0-15 0-15 0-14 0-15 0-15 0-14-15 0-15 0-15 0-15 0-14 0-15 0-15 0-15 0-14 0-15 0-15 0-15 0-14 0-15 0-15 0-15 0-15 0-14 0-15 0-15 0-15 0-14 0-15 0-15 0-15 0-14 0-15 0-15 0-15 0-14 0-15 0-15 0-15 0-15 0-14 0-15 0-15 0-15 0-14 0-15 0-15 0-15 0-14 0-15 0-15 0-15 0-15 0-14 0-15 0-15 0-15 0-14 0-15 0-15 0-15 0-14 0-15 0-15 0-15 0-14 0-15 0-15 0-15 0-15 0-14 0-15 0-15 0-15 0-14 0-15 0-15 0-15 0-14 0-15 0-15 0-15 0-15 0-14 0-15 0-15 0-15 0-14 0-15 0-15 0-15 0-14 0-15 0-15 0-15 0-14 0-15 0-15 0-15 0-15 0-14 0-15 0-15 0-15 0-14 0-15 0-15 0-15 0-14 0-15 0-15 0-15 0-15 0-14 0-15 0-15 0-15 0-14 0-15 0-15 0-15 0-14 0-15 0-15 0-15 0-14 0-15 0-15 0-15 0-15 0-14 0-15 0-15 0-15 0-14 0-15 0-15 0-15 0-14 0-15 0-15 0-15 0-15 0-14 0-15 0-15 0-15 0-14 0-15 0-15 0-15 0-14 0-15 0-15 0-15 0-14 0-15 0-15 0-15 0-15 0 0 14 0 15 0 15 0 14 0 15 0 15 0 15 0 14 0 15 0 15 0 15 0 14 0 15 0 15 0 15 0 14 0 15 0 15 0 14 0 15 0 15 0 15 0 14 0 15 0 15 0 15 0 14 0 15 0 15 0 15 0 14 0 15 0 15 0 14 0 15 0 15 0 15 0 14 0 15 0 15 0 15 0 14 0 15 0 15 0 15 0 14 0 15 0 15 0 14 0 15 0 15 0 15 0 14 0 15 0 15 0 15 0 14 0 15 0 15 0 15 0 14 0 15 0 15 0 14 0 15 0 15 0 15 0 14 0 15 0 15 0 15 0 14 0 15 0 15 0 15 0 14 0 15 0 15 0 14 0 15 0 15 0 15 0 14 0 15 0 15 0 15 0 14 0 15 0 15 0 15 0 14 0 15 0 15 0 14 0 15 0 15 0 15 0 14 0 15 0 15 0 15 0 14 0 15 0 15 0 15 0 14 0 15 0 15 0 14 0 15 0 15 0 15 0 14 0 15 0 15 0 15 0 14 0 15 0 15 0 15 0 14 0 15 0 15 0 14 0 15 0 15 0 15 0 14 0 15 0 15 0 15 0 14 0 15 0 15 0 15 0 14 0 15 0 15 0 14 0 15 0 15 0 15 0 14 0 15 0 15 0 15 0 14 0 15 0 15 0 15 0 14 0 15 0 15 0 14zM1125 1902l-15-3-14-3-15-4-15-4-15-4-14-5-15-5-7-2-8-3-15-6-14-5-15-6-15-7-7-3-8-3-15-8-6-3-8-5-15-10-15-11-5-4-10-8-6-6-8-9-7-6-8-10-4-5-11-14-9-15-6-10-8-20-3-15-2-14-1-15 0-15 0-15 0-14 2-15 1-15 1-14 1-15 1-15 1-15 0-14 0-15 0-15-1-15-1-14-1-15-1-15-1-15-1-14 0-15-1-15 0-14 0-15 1-15 1-15 2-14 1-15 2-15 2-15 2-14 2-15 1-11 3-19 2-14 1-15 2-15 1-14 2-15 2-15 2-15 2-14 3-15 3-15 5-15 2-6 3-8 6-15 6-10 11-20 11-14 7-9 6-6 9-9 6-6 9-7 9-7 5-4 15-11 15-9 10-6 5-3 15-8 7-4 7-3 15-7 8-4 7-4 15-7 9-4 5-3 15-7 8-5 7-4 15-9 14-10 9-6 6-5 13-10 17-13 14-12 6-5 9-8 7-6 8-8 7-7 8-8 6-7 9-9 6-5 8-8 9-7 6-4 15-8 7-3 8-3 14-3 15-1 15-1 15 1 14 1 15 2 15 2 10 2 20 4 14 4 15 4 8 3 7 2 15 5 14 6 15 7 15 7 15 9 12 8 17 13 15 13 15 14 4 4 10 11 4 4 11 9 6 6 9 6 11 8 19 14 14 11 7 5 8 6 11 9 19 14 14 13 15 13 4 4 11 12 14 17 9 15 6 13 6 16 2 15 0 15-3 15-4 14-5 15-6 15-4 8-3 7-7 14-5 11-8 19-6 15-4 14-2 15 0 15 1 14 3 15 5 15 5 15 5 14 7 15 6 15 3 5 4 10 6 14 4 12 7 18 3 15 3 14 1 15 0 15 0 14-1 15-1 15-1 15-1 14-1 15-1 15 0 15-1 14 0 15 0 15 0 15 0 14-1 15-1 15-2 14-3 15-4 15-5 15-5 10-11 19-4 5-7 10-8 9-5 6-10 9-5 5-9 8-9 7-6 5-14 10-16 10-8 5-6 3-15 7-9 4-6 3-15 6-15 5-14 5-15 5-15 4-6 2-9 2-14 4-15 3-15 3-10 2-19 6-15 4-14 5-16 6-14 6-8 3-7 3-15 6-15 5-15 5-14 5-15 5-15 4-15 3-14 3-15 2-15 2-15 1-14 0-15-1-15-1-15-2-15-2-14-2-15-3-15-3z" fill="#2c728e" fill-rule="evenodd"/>
<path d="M475 2284l15 0 15 0 15 0 15 0 14 0 15 0 15 0 15 0 14 0 15 0 15 0 15 0 14 0 15 0 15 0 15 0 14 0 15 0 15 0 15 0 15 0 14 0 15 0 15 0 15 0 14 0 15 0 15 0 15 0 14 0 15 0 15 0 15 0 15 0 14 0 15 0 15 0 15 0 14 0 15 0 15 0 15 0 14 0 15 0 15 0 15 0 14 0 15 0 15 0 15 0 15 0 14 0 15 0 15 0 15 0 14 0 15 0 15 0 15 0 14 0 15 0 15 0 15 0 15 0 14 0 15 0 15 0 15 0 14 0 15 0 15 0 15 0 14 0 15 0 15 0 15 0 14 0 15 0 15 0 15 0 15 0 14 0 15 0 15 0 15 0 14 0 15 0 15 0 15 0 14 0 15 0 15 0 15 0 15 0 14 0 15 0 15 0 15 0 14 0 15 0 15 0 15 0 14 0 15 0 15 0 15 0 14 0 15 0 15 0 15 0 15 0 14 0 15 0 15 0 15 0 14 0 15 0 15 0 15 0 14 0 15 0 15 0 15 0 15 0 14 0 15 0 15 0 15 0 14 0 15 0 15 0 15 0 14 0 15 0 15 0 15 0 14 0 15 0 15 0 15 0 15 0 14 0 15 0 15 0 15 0 14 0 15 0 15 0 15 0 14 0 15 0 15 0 15 0 15 0 0-14 0-15 0-15 0-14 0-15 0-15 0-15 0-14 0-15 0-15 0-15 0-14 0-15 0-15 0-15 0-14 0-15 0-15 0-14 0-15 0-15 0-15 0-14 0-15 0-15 0-15 0-14 0-15 0-15 0-15 0-14 0-15 0-15 0-14 0-15 0-15 0-15 0-14 0-15 0-15 0-15 0-14 0-15 0-15 0-15 0-14 0-15 0-15 0-14 0-15 0-15 0-15 0-14 0-15 0-15 0-15 0-14 0-15 0-15 0-15 0-14 0-15 0-15 0-14 0-15 0-15 0-15 0-14 0-15 0-15 0-15 0-14 0-15 0-15 0-15 0-14 0-15 0-15 0-14 0-15 0-15 0-15 0-14 0-15 0-15 0-15 0-14 0-15 0-15 0-15 0-14 0-15 0-15 0-14 0-15 0-15 0-15 0-14 0-15 0-15 0-15 0-14 0-15 0-15 0-15 0-14 0-15 0-15 0-14 0-15 0-15 0-15 0-14 0-15 0-15 0-15 0-14 0-15 0-15 0-15 0-14 0-15 0-15 0-14 0-15 0-15 0-15 0-14 0-15 0-15 0-15 0-14 0-15 0-15 0-15 0-14 0-15 0-15 0-14 0-15 0-15 0-15 0-14 0-15 0-15 0-15 0-14 0-15 0-15 0-15 0-14 0-15 0-15 0-14-15 0-15 0-15 0-15 0-14 0-15 0-15 0-15 0-14 0-15 0-15 0-15 0-14 0-15 0-15 0-15 0-15 0-14 0-15 0-15 0-15 0-14 0-15 0-15 0-15 0-14 0-15 0-15 0-15 0-14 0-15 0-15 0-15 0-15 0-14 0-15 0-15 0-15 0-14 0-15 0-15 0-15 0-14 0-15 0-15 0-15 0-15 0-14 0-15 0-15 0-15 0-14 0-15 0-15 0-15 0-14 0-15 0-15 0-15 0-14 0-15 0-15 0-15 0-15 0-14 0-15 0-15 0-15 0-14 0-15 0-15 0-15 0-14 0-15 0-15 0-15 0-15 0-14 0-15 0-15 0-15 0-14 0-15 0-15 0-15 0-14 0-15 0-15 0-15 0-14 0-15 0-15 0-15 0-15 0-14 0-15 0-15 0-15 0-14 0-15 0-15 0-15 0-14 0-15 0-15 0-15 0-15 0-14 0-15 0-15 0-15 0-14 0-15 0-15 0-15 0-14 0-15 0-15 0-15 0-14 0-15 0-15 0-15 0-15 0-14 0-15 0-15 0-15 0-14 0-15 0-15 0-15 0-14 0-15 0-15 0-15 0-15 0-14 0-15 0-15 0-15 0-14 0-15 0-15 0-15 0-14 0-15 0-15 0-15 0-14 0-15 0-15 0-15 0-15 0 0 14 0 15 0 15 0 14 0 15 0 15 0 15 0 14 0 15 0 15 0 15 0 14 0 15 0 15 0 15 0 14 0 15 0 15 0 14 0 15 0 15 0 15 0 14 0 15 0 15 0 15 0 14 0 15 0 15 0 15 0 14 0 15 0 15 0 14 0 15 0 15 0 15 0 14 0 15 0 15 0 15 0 14 0 15 0 15 0 15 0 14 0 15 0 15 0 14 0 15 0 15 0 15 0 14 0 15 0 15 0 15 0 14 0 15 0 15 0 15 0 14 0 15 0 15 0 14 0 15 0 15 0 15 0 14 0 15 0 15 0 15 0 14 0 15 0 15 0 15 0 14 0 15 0 15 0 14 0 15 0 15 0 15 0 14 0 15 0 15 0 15 0 14 0 15 0 15 0 15 0 14 0 15 0 15 0 14 0 15 0 15 0 15 0 14 0 15 0 15 0 15 0 14 0 15 0 15 0 15 0 14 0 15 0 15 0 14 0 15 0 15 0 15 0 14 0 15 0 15 0 15 0 14 0 15 0 15 0 15 0 14 0 15 0 15 0 14 0 15 0 15 0 15 0 14 0 15 0 15 0 15 0 14 0 15 0 15 0 15 0 14 0 15 0 15 0 14 0 15 0 15 0 15 0 14 0 15 0 15 0 15 0 14 0 15 0 15 0 15 0 14 0 15 0 15 0 14zM1096 1961l-15-3-15-2-15-3-14-3-15-3-7-1-8-2-15-3-14-4-15-3-14-3-16-4-15-4-14-3-14-4-16-5-15-4-14-6-15-6-15-6-15-7-14-7-7-3-8-4-15-8-6-3-9-5-15-9-14-10-9-5-6-5-12-10-17-15-15-14-14-15-12-15-4-5-7-10-8-12-8-17-4-15-2-15 1-14 1-15 1-15 2-15 2-14 2-15 2-15 2-14 1-10 3-20 1-15 2-14 0-15 1-15 0-15 0-14 0-15 0-15-1-15 0-14 0-15 1-15 1-14 1-15 2-15 2-15 2-11 4-18 3-15 3-15 4-14 4-15 5-15 4-15 3-9 6-20 4-15 4-14 5-15 4-15 5-15 4-14 4-15 4-15 4-12 5-17 5-15 5-11 8-19 6-12 12-17 3-5 8-10 7-7 7-7 8-7 9-8 6-4 14-11 15-10 8-5 7-3 15-9 14-8 15-7 15-8 15-8 14-8 15-7 15-8 14-7 16-8 13-7 16-9 10-6 20-12 14-12 7-5 8-7 8-8 7-6 9-9 6-5 9-9 5-5 11-10 4-4 12-11 17-15 15-13 15-12 5-4 10-8 10-7 5-3 15-9 5-3 9-4 15-5 15-3 15-2 14-1 15 0 15 0 8 1 21 2 15 2 15 2 15 3 15 2 14 3 15 3 15 4 15 3 14 4 15 5 15 5 15 5 14 7 15 7 15 9 12 7 17 14 15 14 15 16 12 15 10 15 8 10 3 5 11 14 12 15 12 15 6 6 8 9 7 6 8 8 6 6 10 9 5 5 11 10 17 15 16 14 15 15 14 15 13 15 10 14 8 12 7 18 5 14 1 15-2 15-4 15-5 14-2 6-4 9-7 15-4 7-4 8-7 14-4 8-3 7-7 15-5 13-4 16-2 15-1 15 2 14 3 15 2 9 2 6 5 15 7 14 6 15 7 15 3 6 4 9 6 14 5 14 4 16 3 15 1 14 0 15-1 15-1 14-2 15-2 15-2 15-2 14-2 15-1 15-2 15 0 14-1 15 0 15 0 15 0 14 0 15 0 15-2 14-2 15-3 15-5 15-6 14-4 6-5 9-10 13-14 17-14 14-16 15-15 12-15 11-9 7-5 3-15 9-15 9-15 8-14 7-15 7-15 6-15 6-10 3-19 8-15 5-7 2-8 3-15 5-14 4-10 3-20 6-15 5-7 4-7 4-15 8-15 9-14 8-15 9-11 6-19 9-12 6-18 7-14 5-9 2-6 2-15 4-15 2-14 3-15 1-15 1-15 1-14 0-15 0-15-1-15-1-15-1-14-2-15-1-15-2-15-3-14-2z" fill="#277e8e" fill-rule="evenodd"/>
<path d="M475 2284l15 0 15 0 15 0 15 0 14 0 15 0 15 0 15 0 14 0 15 0 15 0 15 0 14 0 15 0 15 0 15 0 14 0 15 0 15 0 15 0 15 0 14 0 15 0 15 0 15 0 14 0 15 0 15 0 15 0 14 0 15 0 15 0 15 0 15 0 14 0 15 0 15 0 15 0 14 0 15 0 15 0 15 0 14 0 15 0 15 0 15 0 14 0 15 0 15 0 15 0 15 0 14 0 15 0 15 0 15 0 14 0 15 0 15 0 15 0 14 0 15 0 15 0 15 0 15 0 14 0 15 0 15 0 15 0 14 0 15 0 15 0 15 0 14 0 15 0 15 0 15 0 14 0 15 0 15 0 15 0 15 0 14 0 15 0 15 0 15 0 14 0 15 0 15 0 15 0 14 0 15 0 15 0 15 0 15 0 14 0 15 0 15 0 15 0 14 0 15 0 15 0 15 0 14 0 15 0 15 0 15 0 14 0 15 0 15 0 15 0 15 0 14 0 15 0 15 0 15 0 14 0 15 0 15 0 15 0 14 0 15 0 15 0 15 0 15 0 14 0 15 0 15 0 15 0 14 0 15 0 15 0 15 0 14 0 15 0 15 0 15 0 14 0 15 0 15 0 15 0 15 0 14 0 15 0 15 0 15 0 14 0 15 0 15 0 15 0 14 0 15 0 15 0 15 0 15 0 0-14 0-15 0-15 0-14 0-15 0-15 0-15 0-14 0-15 0-15 0-15 0-14 0-15 0-15 0-15 0-14 0-15 0-15 0-14 0-15 0-15 0-15 0-14 0-15 0-15 0-15 0-14 0-15 0-15 0-15 0-14 0-15 0-15 0-14 0-15 0-15 0-15 0-14 0-15 0-15 0-15 0-14 0-15 0-15 0-15 0-14 0-15 0-15 0-14 0-15 0-15 0-15 0-14 0-15 0-15 0-15 0-14 0-15 0-15 0-15 0-14 0-15 0-15 0-14 0-15 0-15 0-15 0-14 0-15 0-15 0-15 0-14 0-15 0-15 0-15 0-14 0-15 0-15 0-14 0-15 0-15 0-15 0-14 0-15 0-15 0-15 0-14 0-15 0-15 0-15 0-14 0-15 0-15 0-14 0-15 0-15 0-15 0-14 0-15 0-15 0-15 0-14 0-15 0-15 0-15 0-14 0-15 0-15 0-14 0-15 0-15 0-15 0-14 0-15 0-15 0-15 0-14 0-15 0-15 0-15 0-14 0-15 0-15 0-14 0-15 0-15 0-15 0-14 0-15 0-15 0-15 0-14 0-15 0-15 0-15 0-14 0-15 0-15 0-14 0-15 0-15 0-15 0-14 0-15 0-15 0-15 0-14 0-15 0-15 0-15 0-14 0-15 0-15 0-14-15 0-15 0-15 0-15 0-14 0-15 0-15 0-15 0-14 0-15 0-15 0-15 0-14 0-15 0-15 0-15 0-15 0-14 0-15 0-15 0-15 0-14 0-15 0-15 0-15 0-14 0-15 0-15 0-15 0-14 0-15 0-15 0-15 0-15 0-14 0-15 0-15 0-15 0-14 0-15 0-15 0-15 0-14 0-15 0-15 0-15 0-15 0-14 0-15 0-15 0-15 0-14 0-15 0-15 0-15 0-14 0-15 0-15 0-15 0-14 0-15 0-15 0-15 0-15 0-14 0-15 0-15 0-15 0-14 0-15 0-15 0-15 0-14 0-15 0-15 0-15 0-15 0-14 0-15 0-15 0-15 0-14 0-15 0-15 0-15 0-14 0-15 0-15 0-15 0-14 0-15 0-15 0-15 0-15 0-14 0-15 0-15 0-15 0-14 0-15 0-15 0-15 0-14 0-15 0-15 0-15 0-15 0-14 0-15 0-15 0-15 0-14 0-15 0-15 0-15 0-14 0-15 0-15 0-15 0-14 0-15 0-15 0-15 0-15 0-14 0-15 0-15 0-15 0-14 0-15 0-15 0-15 0-14 0-15 0-15 0-15 0-15 0-14 0-15 0-15 0-15 0-14 0-15 0-15 0-15 0-14 0-15 0-15 0-15 0-14 0-15 0-15 0-15 0-15 0 0 14 0 15 0 15 0 14 0 15 0 15 0 15 0 14 0 15 0 15 0 15 0 14 0 15 0 15 0 15 0 14 0 15 0 15 0 14 0 15 0 15 0 15 0 14 0 15 0 15 0 15 0 14 0 15 0 15 0 15 0 14 0 15 0 15 0 14 0 15 0 15 0 15 0 14 0 15 0 15 0 15 0 14 0 15 0 15 0 15 0 14 0 15 0 15 0 14 0 15 0 15 0 15 0 14 0 15 0 15 0 15 0 14 0 15 0 15 0 15 0 14 0 15 0 15 0 14 0 15 0 15 0 15 0 14 0 15 0 15 0 15 0 14 0 15 0 15 0 15 0 14 0 15 0 15 0 10 5-10 7-15 3-5 6-10 8-14 9-15 7-10 11-20 4-5 5-9 8-15 8-15 7-15 6-14 5-15 4-15 4-15 3-14 3-15 3-15 3-12 6-17 7-15 11-15 5-5 10-9 5-4 15-11 14-9 11-6 19-9 12-6 17-6 15-6 6-2 9-3 15-6 15-5 14-6 15-5 11-5 19-7 14-7 15-8 14-7 16-9 10-6 19-11 6-4 9-5 15-9 15-10 7-5 7-5 15-10 15-10 7-5 8-5 13-9 16-10 8-5 7-4 15-8 5-3 9-5 15-10 15-9 9-5 6-4 14-9 15-9 13-8 17-9 12-6 17-7 15-5 9-2 6-2 15-3 14-2 15-1 15-1 15 0 14 1 15 1 15 1 15 2 15 1 14 1 14 2 16 1 15 2 14 1 15 2 15 2 15 2 14 2 12 2 18 5 15 4 14 5 15 5 15 6 10 5 5 3 15 8 6 4 8 5 13 9 16 15 10 15 6 10 8 19 4 15 2 6 3 9 4 15 5 14 3 9 2 6 6 15 7 14 8 15 7 10 3 5 11 15 14 14 15 15 16 15 15 14 14 15 14 15 12 15 4 6 6 9 8 14 6 15 4 15 2 14 1 15-2 15-3 15-5 14-2 6-4 9-7 15-4 9-3 6-7 14-5 9-3 6-7 15-5 12-5 17-3 15 0 15 2 14 4 15 2 8 3 7 6 15 6 14 6 15 7 15 2 6 3 9 5 14 4 15 3 14 1 16 1 14-1 15-1 12-3 17-3 15-3 15-3 15-3 14-2 15-2 15-2 15-1 14-1 15 0 15 1 15 0 14 1 15 0 15-1 14-2 15-2 15-4 14-5 15-7 15-10 15-7 8-6 7-9 8-6 6-9 8-7 7-8 6-10 9-5 4-13 11-16 11-5 3-10 7-12 8-17 11-7 4-8 4-15 8-15 8-14 8-15 7-15 7-15 7-15 6-7 4-7 4-15 7-7 3-8 5-15 7-6 3-8 5-15 8-15 10-9 7-6 4-13 10-16 13-15 11-9 6-6 4-14 9-15 7-15 7-7 2-8 3-15 4-14 4-15 2-15 2-15 1-14 1-15 0-15 0-15 0-14 0-15-1-15 0-15 0-8-1-21-2-15-1-15-2-15-2-14-2-15-2-15-2-10-2-19-2-15-3-15-2-15-2-14-2-15-3-15-2-15-3-15-3-14-3-15-3-15-3-15-3-14-3-15-4-13-3-17-4-14-4-15-4-9-3-6-2-15-4-15-4-13-4-16-6-15-5-12-4-17-7-15-6-15-6-15-7-6-4-8-4-15-8-15-10-11-7-18-15-15-14-13-15-10-15-7-12-9-17-6-14 0 14 0 14 0 15 0 15 0 14 0 15 0 15 0 15 0 14 0 15 0 15 0 15 0 14 0 15 0 15 0 15 0 14 0 15 0 15 0 14 0 15 0 15 0 15 0 14 0 15 0 15 0 15 0 14 0 15 0 15 0 15 0 14 0 15 0 15 0 14z" fill="#238a8d" fill-rule="evenodd"/>
<path d="M475 2284l15 0 15 0 15 0 15 0 14 0 15 0 15 0 15 0 14 0 15 0 15 0 15 0 14 0 15 0 15 0 15 0 14 0 15 0 15 0 15 0 15 0 14 0 15 0 15 0 15 0 14 0 15 0 15 0 15 0 14 0 15 0 15 0 15 0 15 0 14 0 15 0 15 0 15 0 14 0 15 0 15 0 15 0 14 0 15 0 15 0 15 0 14 0 15 0 15 0 15 0 15 0 14 0 15 0 15 0 15 0 14 0 15 0 15 0 15 0 14 0 15 0 15 0 15 0 15 0 14 0 15 0 15 0 15 0 14 0 15 0 15 0 15 0 14 0 15 0 15 0 15 0 14 0 15 0 15 0 15 0 15 0 14 0 15 0 15 0 15 0 14 0 15 0 15 0 15 0 14 0 15 0 15 0 15 0 15 0 14 0 15 0 15 0 15 0 14 0 15 0 15 0 15 0 14 0 15 0 15 0 15 0 14 0 15 0 15 0 15 0 15 0 14 0 15 0 15 0 15 0 14 0 15 0 15 0 15 0 14 0 15 0 15 0 15 0 15 0 14 0 15 0 15 0 15 0 14 0 15 0 15 0 15 0 14 0 15 0 15 0 15 0 14 0 15 0 15 0 15 0 15 0 14 0 15 0 15 0 15 0 14 0 15 0 15 0 15 0 14 0 15 0 15 0 15 0 15 0 0-14 0-15 0-15 0-14 0-15 0-15 0-15 0-14 0-15 0-15 0-15 0-14 0-15 0-15 0-15 0-14 0-15 0-15 0-14 0-15 0-15 0-15 0-14 0-15 0-15 0-15 0-14 0-15 0-15 0-15 0-14 0-15 0-15 0-14 0-15 0-15 0-15 0-14 0-15 0-15 0-15 0-14 0-15 0-15 0-15 0-14 0-15 0-15 0-14 0-15 0-15 0-15 0-14 0-15 0-15 0-15 0-14 0-15 0-15 0-15 0-14 0-15 0-15 0-14 0-15 0-15 0-15 0-14 0-15 0-15 0-15 0-14 0-15 0-15 0-15 0-14 0-15 0-15 0-14 0-15 0-15 0-15 0-14 0-15 0-15 0-15 0-14 0-15 0-15 0-15 0-14 0-15 0-15 0-14 0-15 0-15 0-15 0-14 0-15 0-15 0-15 0-14 0-15 0-15 0-15 0-14 0-15 0-15 0-14 0-15 0-15 0-15 0-14 0-15 0-15 0-15 0-14 0-15 0-15 0-15 0-14 0-15 0-15 0-14 0-15 0-15 0-15 0-14 0-15 0-15 0-15 0-14 0-15 0-15 0-15 0-14 0-15 0-15 0-14 0-15 0-15 0-15 0-14 0-15 0-15 0-15 0-14 0-15 0-15 0-15 0-14 0-15 0-15 0-14-15 0-15 0-15 0-15 0-14 0-15 0-15 0-15 0-14 0-15 0-15 0-15 0-14 0-15 0-15 0-15 0-15 0-14 0-15 0-15 0-15 0-14 0-15 0-15 0-15 0-14 0-15 0-15 0-15 0-14 0-15 0-15 0-15 0-15 0-14 0-15 0-15 0-15 0-14 0-15 0-15 0-15 0-14 0-15 0-15 0-15 0-15 0-14 0-15 0-15 0-15 0-14 0-15 0-15 0-15 0-14 0-15 0-15 0-15 0-14 0-15 0-15 0-15 0-15 0-14 0-15 0-15 0-15 0-14 0-15 0-15 0-15 0-14 0-15 0-15 0-15 0-15 0-14 0-15 0-15 0-15 0-14 0-15 0-15 0-15 0-14 0-15 0-15 0-15 0-14 0-15 0-15 0-15 0-15 0-14 0-15 0-15 0-15 0-14 0-15 0-15 0-15 0-14 0-15 0-15 0-15 0-15 0-14 0-15 0-15 0-15 0-14 0-15 0-15 0-15 0-14 0-15 0-15 0-15 0-14 0-15 0-15 0-15 0-15 0-14 0-15 0-15 0-15 0-14 0-15 0-15 0-15 0-14 0-15 0-15 0-15 0-15 0-14 0-15 0-15 0-15 0-14 0-15 0-15 0-15 0-14 0-15 0-15 0-15 0-14 0-15 0-15 0-15 0-15 0 0 14 0 15 0 15 0 14 0 15 0 15 0 15 0 14 0 15 0 15 0 15 0 14 0 15 0 15 0 15 0 14 0 15 0 15 0 14 0 15 0 15 0 15 0 14 0 15 0 15 0 15 0 14 0 15 0 15 0 15 0 14 0 15 0 15 0 14 0 15 0 15 0 15 0 14 0 15 0 15 0 15 0 14 0 15 0 15 0 15 0 14 0 15 0 15 0 14 0 15 0 15 0 15 15-9 12-6 18-7 15-4 14-4 15-3 15-4 15-3 14-4 15-4 15-5 15-4 14-5 15-5 15-5 8-2 7-2 14-5 15-5 8-3 7-2 15-5 15-6 14-6 15-6 10-4 20-9 12-6 17-8 13-7 17-8 14-6 15-8 15-7 15-7 15-7 14-7 15-7 15-7 15-7 14-7 15-7 6-3 9-4 15-8 5-3 9-5 15-9 15-9 10-6 5-3 14-10 15-9 13-8 17-10 9-4 6-4 14-7 12-4 18-6 15-4 14-3 15-2 15-1 15-1 14 0 15 0 15 1 15 0 15 1 14 0 15-1 15-1 15-2 14-1 15-2 15-1 15 0 14-1 15 0 15 1 15 2 14 2 15 4 15 5 15 5 10 5 19 9 9 6 6 3 15 9 15 10 9 7 5 4 14 11 15 14 14 15 11 15 5 9 4 6 7 14 4 11 7 19 4 15 3 14 3 15 3 15 3 15 4 14 3 10 7 20 6 14 8 15 8 12 13 18 13 14 4 5 9 10 6 6 7 9 7 9 5 6 10 13 11 16 4 8 4 7 7 15 4 11 5 18 2 15 2 14-1 15-1 15-3 15-4 14-5 15-5 15-5 12-8 17-6 15-6 15-5 15-4 14-2 15-1 15 2 14 3 15 4 15 5 15 3 8 2 6 6 15 5 15 5 15 4 14 4 15 2 15 0 15-2 14-2 15-3 15-4 14-2 10-5 20-4 15-3 14-3 12-3 18-2 15-2 14 0 15 0 15 1 15 1 14 0 15 1 15-1 14-1 15-2 15-4 15-3 5-3 9-7 15-4 7-5 8-10 13-15 16-15 15-14 13-15 12-5 5-10 7-9 7-6 5-14 10-15 11-6 4-9 6-13 8-17 11-6 4-8 5-15 9-15 9-10 7-5 3-14 10-15 10-9 6-6 5-13 10-17 14-14 14-15 15-14 16-13 15-13 14-4 5-10 10-5 4-11 11-19 14-14 11-6 4-9 6-15 8-15 8-14 6-15 5-15 4-15 4-15 2-12 1-17 2-15 0-15-1-14 0-15-1-15-1-15-1-14-1-15-1-15-1-15-1-15-1-14-1-15-1-15-2-15-2-14-3-15-2-15-2-15-2-14-2-15-2-15-1-15-2-14-2-15-2-15-2-15-3-15-3-13-3-16-3-15-3-15-2-14-2-15-2-14-3-16-2-14-3-15-3-15-3-13-3-17-4-14-4-15-3-15-3-15-3-14-3-15-2-15-3-15-4-14-3-15-4-15-4-15-4-14-5-15-4-15-6-15-5-15-6 0 11 0 15 0 14 0 15 0 15 0 14 0 15 0 15 0 15 0 14 0 15 0 15 0 15 0 14 0 15 0 15 0 15 0 14 0 15 0 15 0 14z" fill="#1f968b" fill-rule="evenodd"/>
<path d="M475 2284l15 0 15 0 15 0 15 0 14 0 15 0 15 0 15 0 14 0 15 0 15 0 15 0 14 0 15 0 15 0 15 0 14 0 15 0 15 0 15 0 15 0 14 0 15 0 15 0 15 0 14 0 15 0 15 0 15 0 14 0 15 0 15 0 15 0 15 0 14 0 15 0 15 0 15 0 14 0 15 0 15 0 15 0 14 0 15 0 15 0 15 0 14 0 15 0 15 0 15 0 15 0 14 0 15 0 15 0 15 0 14 0 15 0 15 0 15 0 14 0 15 0 15 0 15 0 15 0 14 0 15 0 15 0 15 0 14 0 15 0 15 0 15 0 14 0 15 0 15 0 15 0 14 0 15 0 15 0 15 0 15 0 14 0 15 0 15 0 15 0 14 0 15 0 15 0 15 0 14 0 15 0 15 0 15 0 15 0 14 0 15 0 15 0 15 0 14 0 15 0 15 0 15 0 14 0 15 0 15 0 15 0 14 0 15 0 15 0 15 0 15 0 14 0 15 0 15 0 15 0 14 0 15 0 15 0 15 0 14 0 15 0 15 0 15 0 15 0 14 0 15 0 15 0 15 0 14 0 15 0 15 0 15 0 14 0 15 0 15 0 15 0 14 0 15 0 15 0 15 0 15 0 14 0 15 0 15 0 15 0 14 0 15 0 15 0 15 0 14 0 15 0 15 0 15 0 15 0 0-14 0-15 0-15 0-14 0-15 0-15 0-15 0-14 0-15 0-15 0-15 0-14 0-15 0-15 0-15 0-14 0-15 0-15 0-14 0-15 0-15 0-15 0-14 0-15 0-15 0-15 0-14 0-15 0-15 0-15 0-14 0-15 0-15 0-14 0-15 0-15 0-15 0-14 0-15 0-15 0-15 0-14 0-15 0-15 0-15 0-14 0-15 0-15 0-14 0-15 0-15 0-15 0-14 0-15 0-15 0-15 0-14 0-15 0-15 0-15 0-14 0-15 0-15 0-14 0-15 0-15 0-15 0-14 0-15 0-15 0-15 0-14 0-15 0-15 0-15 0-14 0-15 0-15 0-14 0-15 0-15 0-15 0-14 0-15 0-15 0-15 0-14 0-15 0-15 0-15 0-14 0-15 0-15 0-14 0-15 0-15 0-15 0-14 0-15 0-15 0-15 0-14 0-15 0-15 0-15 0-14 0-15 0-15 0-14 0-15 0-15 0-15 0-14 0-15 0-15 0-15 0-14 0-15 0-15 0-15 0-14 0-15 0-15 0-14 0-15 0-15 0-15 0-14 0-15 0-15 0-15 0-14 0-15 0-15 0-15 0-14 0-15 0-15 0-14 0-15 0-15 0-15 0-14 0-15 0-15 0-15 0-14 0-15 0-15 0-15 0-14 0-15 0-15 0-14-15 0-15 0-15 0-15 0-14 0-15 0-15 0-15 0-14 0-15 0-15 0-15 0-14 0-15 0-15 0-15 0-15 0-14 0-15 0-15 0-15 0-14 0-15 0-15 0-15 0-14 0-15 0-15 0-15 0-14 0-15 0-15 0-15 0-15 0-14 0-15 0-15 0-15 0-14 0-15 0-15 0-15 0-14 0-15 0-15 0-15 0-15 0-14 0-15 0-15 0-15 0-14 0-15 0-15 0-15 0-14 0-15 0-15 0-15 0-14 0-15 0-15 0-15 0-15 0-14 0-15 0-15 0-15 0-14 0-15 0-15 0-15 0-14 0-15 0-15 0-15 0-15 0-14 0-15 0-15 0-15 0-14 0-15 0-15 0-15 0-14 0-15 0-15 0-15 0-14 0-15 0-15 0-15 0-15 0-14 0-15 0-15 0-15 0-14 0-15 0-15 0-15 0-14 0-15 0-15 0-15 0-15 0-14 0-15 0-15 0-15 0-14 0-15 0-15 0-15 0-14 0-15 0-15 0-15 0-14 0-15 0-15 0-15 0-15 0-14 0-15 0-15 0-15 0-14 0-15 0-15 0-15 0-14 0-15 0-15 0-15 0-15 0-14 0-15 0-15 0-15 0-14 0-15 0-15 0-15 0-14 0-15 0-15 0-15 0-14 0-15 0-15 0-15 0-15 0 0 14 0 15 0 15 0 14 0 15 0 15 0 15 0 14 0 15 0 15 0 15 0 14 0 15 0 15 0 15 0 14 0 15 0 15 0 14 0 15 0 15 0 15 0 14 0 15 0 15 0 15 0 14 0 15 0 15 0 15 0 14 0 15 0 15 0 14 0 15 0 15 0 15 0 14 0 15 0 15 0 15 0 14 0 15 0 15 0 15 0 14 0 10 15-5 15-3 6-2 9-2 15-3 14-4 15-4 7-1 8-3 15-4 14-4 13-4 17-6 15-5 11-4 18-6 15-5 9-4 20-6 15-5 10-3 20-7 15-5 8-3 6-2 15-6 15-5 15-6 14-6 14-5 16-5 15-5 11-4 18-7 15-5 8-3 7-3 15-5 14-6 15-6 15-7 7-3 8-3 14-7 10-4 5-3 15-8 7-4 8-4 14-10 15-10 8-5 7-6 13-9 16-13 15-12 7-5 8-6 12-8 18-12 6-3 8-5 15-7 8-3 7-3 15-5 14-4 11-3 19-3 15-3 14-2 15-2 15-2 15-1 15-3 14-2 15-3 15-3 15-4 14-4 15-3 15-4 15-3 11-2 18-2 15-2 15 0 14 2 13 2 17 5 15 5 12 5 17 9 11 6 19 11 5 3 10 7 11 8 18 13 15 12 6 5 9 7 9 7 5 4 15 11 15 12 15 14 15 16 12 17 8 15 7 14 6 15 5 15 4 15 2 7 2 7 3 15 3 15 2 15 3 14 2 10 4 20 4 15 4 14 6 15 6 15 5 9 3 5 8 15 4 6 5 9 10 14 10 15 4 8 5 7 9 15 9 15 7 14 7 15 5 15 3 8 2 7 3 14 2 15 2 15 0 14-1 15-2 15-3 15-3 14-4 15-5 15-5 15-5 14-6 15-4 15-5 15-3 14-2 15-1 15 1 14 2 15 2 15 3 15 2 7 2 7 3 15 3 15 3 15 2 14 2 15 0 13 0 17-2 14-2 15-3 15-4 14-3 15-4 15-4 15-3 14-3 15-2 7-1 8-2 15-1 14-1 15 1 15 1 15 1 14 1 15 1 15 0 14 0 15-2 15-2 15-5 14-5 11-15 19-12 15-13 14-5 4-10 11-4 4-12 11-17 15-16 12-14 12-6 5-9 7-10 8-5 3-15 11-15 12-14 12-9 6-6 4-15 10-15 11-5 4-9 7-10 8-5 5-12 10-15 15-13 14-4 6-8 9-7 11-12 19-3 6-5 8-7 15-3 5-5 10-8 14-10 15-6 8-7 7-8 8-7 7-8 7-8 7-7 6-11 9-18 15-15 11-4 4-11 8-9 6-5 4-15 11-15 9-9 6-6 3-14 8-8 4-7 3-15 5-15 5-15 4-14 3-15 2-15 2-15 2-14 1-15 1-15 0-15 1-11 0-18 0-15 0-15 0-15 0-14 0-15-1-15 0-15 0-14 0-15 0-15 1-15-1-14 0-15-1-15 0-15-1-14 0-15 0-15 0-15 0-15 1-14 0-15 1-15 0-15 0-14-1-15-1-15-1-15 0-14-1-15 0-15 0-15 1-15 1-14 0-15 1-15 1-15 0-14-1-15 0-15 0-15 0-14 1-15 0-15 0-15 1-14 0-15 0-15-2-15-3-15-5 0 10 0 15 0 14z" fill="#1fa287" fill-rule="evenodd"/>
<path d="M1490 2284l19 0 15 0 15 0 14 0 15 0 15 0 15 0 14 0 15 0 15 0 15 0 15 0 14 0 15 0 15 0 15 0 14 0 15 0 15 0 15 0 14 0 15 0 15 0 15 0 15 0 14 0 15 0 15 0 15 0 14 0 15 0 15 0 15 0 14 0 15 0 15 0 15 0 14 0 15 0 15 0 15 0 15 0 14 0 15 0 15 0 15 0 14 0 15 0 15 0 15 0 14 0 15 0 15 0 15 0 15 0 14 0 15 0 15 0 15 0 14 0 15 0 15 0 15 0 14 0 15 0 15 0 15 0 14 0 15 0 15 0 15 0 15 0 14 0 15 0 15 0 15 0 14 0 15 0 15 0 15 0 14 0 15 0 15 0 15 0 15 0 0-14 0-15 0-15 0-14 0-15 0-15 0-15 0-14 0-15 0-15 0-15 0-14 0-15 0-15 0-15 0-14 0-15 0-15 0-14 0-15 0-15 0-15 0-14 0-15 0-15 0-15 0-14 0-15 0-15 0-15 0-14 0-15 0-15 0-14 0-15 0-15 0-15 0-14 0-15 0-15 0-15 0-14 0-15 0-15 0-15 0-14 0-15 0-15 0-14 0-15 0-15 0-15 0-14 0-15 0-15 0-15 0-14 0-15 0-15 0-15 0-14 0-15 0-15 0-14 0-15 0-15 0-15 0-14 0-15 0-15 0-15 0-14 0-15 0-15 0-15 0-14 0-15 0-15 0-14 0-15 0-15 0-15 0-14 0-15 0-15 0-15 0-14 0-15 0-15 0-15 0-14 0-15 0-15 0-14 0-15 0-15 0-15 0-14 0-15 0-15 0-15 0-14 0-15 0-15 0-15 0-14 0-15 0-15 0-14 0-15 0-15 0-15 0-14 0-15 0-15 0-15 0-14 0-15 0-15 0-15 0-14 0-15 0-15 0-14 0-15 0-15 0-15 0-14 0-15 0-15 0-15 0-14 0-15 0-15 0-15 0-14 0-15 0-15 0-14 0-15 0-15 0-15 0-14 0-15 0-15 0-15 0-14 0-15 0-15 0-15 0-14 0-15 0-15 0-14-15 0-15 0-15 0-15 0-14 0-15 0-15 0-15 0-14 0-15 0-15 0-15 0-14 0-15 0-15 0-15 0-15 0-14 0-15 0-15 0-15 0-14 0-15 0-15 0-15 0-14 0-15 0-15 0-15 0-14 0-15 0-15 0-15 0-15 0-14 0-15 0-15 0-15 0-14 0-15 0-15 0-15 0-14 0-15 0-15 0-15 0-15 0-14 0-15 0-15 0-15 0-14 0-15 0-15 0-15 0-14 0-15 0-15 0-15 0-14 0-15 0-15 0-15 0-15 0-14 0-15 0-15 0-15 0-14 0-15 0-15 0-15 0-14 0-15 0-15 0-15 0-15 0-14 0-15 0-15 0-15 0-14 0-15 0-15 0-15 0-14 0-15 0-15 0-15 0-14 0-15 0-15 0-15 0-15 0-14 0-15 0-15 0-15 0-14 0-15 0-15 0-15 0-14 0-15 0-15 0-15 0-15 0-14 0-15 0-15 0-15 0-14 0-15 0-15 0-15 0-14 0-15 0-15 0-15 0-14 0-15 0-15 0-15 0-15 0-14 0-15 0-15 0-15 0-14 0-15 0-15 0-15 0-14 0-15 0-15 0-15 0-15 0-14 0-15 0-15 0-15 0-14 0-15 0-15 0-15 0-14 0-15 0-15 0-15 0-14 0-15 0-15 0-15 0-15 0 0 14 0 15 0 15 0 14 0 15 0 15 0 15 0 14 0 15 0 15 0 15 0 14 0 15 0 15 0 15 0 14 0 15 0 15 0 14 0 15 0 15 0 15 0 14 0 15 0 15 0 15 0 14 0 15 0 15 0 15 0 14 0 15 0 15 0 14 0 15 0 15 0 15 0 14 0 15 0 15 0 15 0 14 12 0 18-3 15-3 15-4 14-4 15-5 15-5 15-5 14-5 15-6 11-4 19-7 14-6 6-2 9-3 15-4 15-4 10-3 19-5 15-4 15-4 9-2 20-5 15-4 15-4 8-2 7-1 14-4 15-4 15-4 15-5 14-4 15-5 7-2 8-3 15-5 15-6 14-5 15-6 11-5 19-8 13-6 16-10 9-5 6-4 14-11 15-14 15-14 15-16 15-15 14-15 15-14 15-14 15-13 15-11 9-7 5-3 15-9 15-8 15-7 6-2 8-4 15-5 15-4 15-5 14-3 15-4 15-3 15-4 15-3 14-5 15-4 15-5 15-4 14-5 15-4 15-4 15-4 14-3 15-2 15-2 15-1 14 0 15 2 14 2 16 4 15 5 14 6 15 6 15 8 15 8 13 8 16 10 7 4 8 5 15 10 14 9 9 6 6 4 15 10 15 10 8 5 7 4 14 10 15 10 8 6 7 5 13 9 16 13 15 13 4 4 11 12 12 17 3 5 4 10 4 15 3 15 2 14 1 12 2 18 1 14 0 15 1 15 0 15 1 14 1 15 2 15 3 15 3 14 4 15 5 15 5 15 5 14 6 15 6 12 8 17 6 14 9 16 6 13 8 16 7 14 7 16 6 15 5 14 5 15 4 15 3 11 3 18 1 15 1 15-1 14-2 15-2 13-4 17-5 14-4 15-6 15-5 15-5 14-5 15-5 15-4 15-2 8-3 21-2 15-1 14 1 15 0 15 1 15 2 14 1 15 1 15 1 15 0 14 0 15 0 15-1 7 0 8-2 14-2 15-3 15-3 14-4 15-3 15-3 15-3 14-3 15-2 15-1 11-1 18 0 15 0 15 2 15 1 14 2 15 2 15 1 14 0 15-1 15-2 15-4 14-7 15-8 14-13 16-15 14-16 13-15 12-6 5-9 7-9 8-6 4-13 10-16 14-15 12-4 4-11 9-7 5-7 7-11 8-4 4-15 11-15 13-15 15-14 12-5 4-10 9-7 6-8 7-7 8-8 7-6 7-8 11-4 4-11 15-9 15-6 10-10 19-5 9-2 6-7 14-5 11-10 19-5 8-4 7-9 14-11 15-6 7-6 8-9 10-4 5-10 11-15 15-15 15-15 15-14 15-15 15-15 14-15 14z" fill="#28ae80" fill-rule="evenodd"/>
<path d="M1591 2284l21 0 15 0 15 0 15 0 15 0 14 0 15 0 15 0 15 0 14 0 15 0 15 0 15 0 14 0 15 0 15 0 15 0 15 0 14 0 15 0 15 0 15 0 14 0 15 0 15 0 15 0 14 0 15 0 15 0 15 0 14 0 15 0 15 0 15 0 15 0 14 0 15 0 15 0 15 0 14 0 15 0 15 0 15 0 14 0 15 0 15 0 15 0 15 0 14 0 15 0 15 0 15 0 14 0 15 0 15 0 15 0 14 0 15 0 15 0 15 0 14 0 15 0 15 0 15 0 15 0 14 0 15 0 15 0 15 0 14 0 15 0 15 0 15 0 14 0 15 0 15 0 15 0 15 0 0-14 0-15 0-15 0-14 0-15 0-15 0-15 0-14 0-15 0-15 0-15 0-14 0-15 0-15 0-15 0-14 0-15 0-15 0-14 0-15 0-15 0-15 0-14 0-15 0-15 0-15 0-14 0-15 0-15 0-15 0-14 0-15 0-15 0-14 0-15 0-15 0-15 0-14 0-15 0-15 0-15 0-14 0-15 0-15 0-15 0-14 0-15 0-15 0-14 0-15 0-15 0-15 0-14 0-15 0-15 0-15 0-14 0-15 0-15 0-15 0-14 0-15 0-15 0-14 0-15 0-15 0-15 0-14 0-15 0-15 0-15 0-14 0-15 0-15 0-15 0-14 0-15 0-15 0-14 0-15 0-15 0-15 0-14 0-15 0-15 0-15 0-14 0-15 0-15 0-15 0-14 0-15 0-15 0-14 0-15 0-15 0-15 0-14 0-15 0-15 0-15 0-14 0-15 0-15 0-15 0-14 0-15 0-15 0-14 0-15 0-15 0-15 0-14 0-15 0-15 0-15 0-14 0-15 0-15 0-15 0-14 0-15 0-15 0-14 0-15 0-15 0-15 0-14 0-15 0-15 0-15 0-14 0-15 0-15 0-15 0-14 0-15 0-15 0-14 0-15 0-15 0-15 0-14 0-15 0-15 0-15 0-14 0-15 0-15 0-15 0-14 0-15 0-15 0-14-15 0-15 0-15 0-15 0-14 0-15 0-15 0-15 0-14 0-15 0-15 0-15 0-14 0-15 0-15 0-15 0-15 0-14 0-15 0-15 0-15 0-14 0-15 0-15 0-15 0-14 0-15 0-15 0-15 0-14 0-15 0-15 0-15 0-15 0-14 0-15 0-15 0-15 0-14 0-15 0-15 0-15 0-14 0-15 0-15 0-15 0-15 0-14 0-15 0-15 0-15 0-14 0-15 0-15 0-15 0-14 0-15 0-15 0-15 0-14 0-15 0-15 0-15 0-15 0-14 0-15 0-15 0-15 0-14 0-15 0-15 0-15 0-14 0-15 0-15 0-15 0-15 0-14 0-15 0-15 0-15 0-14 0-15 0-15 0-15 0-14 0-15 0-15 0-15 0-14 0-15 0-15 0-15 0-15 0-14 0-15 0-15 0-15 0-14 0-15 0-15 0-15 0-14 0-15 0-15 0-15 0-15 0-14 0-15 0-15 0-15 0-14 0-15 0-15 0-15 0-14 0-15 0-15 0-15 0-14 0-15 0-15 0-15 0-15 0-14 0-15 0-15 0-15 0-14 0-15 0-15 0-15 0-14 0-15 0-15 0-15 0-15 0-14 0-15 0-15 0-15 0-14 0-15 0-15 0-15 0-14 0-15 0-15 0-15 0-14 0-15 0-15 0-15 0-15 0 0 14 0 15 0 15 0 14 0 15 0 15 0 15 0 14 0 15 0 15 0 15 0 14 0 15 0 15 0 15 0 14 0 15 0 15 0 14 0 15 0 15 0 15 0 14 0 15 0 15 0 15 0 14 0 15 0 15 0 15 0 14 0 15 0 15 0 14 0 15 0 13 15-2 15-2 15-3 15-4 14-5 15-4 15-5 10-3 19-5 15-4 15-3 10-2 19-4 15-3 15-3 15-2 14-2 8-1 7-1 15-2 15-2 15-1 14-2 15-1 15-2 15-2 9-2 20-3 15-4 15-4 11-3 18-7 15-5 8-3 7-3 15-7 12-5 17-8 12-7 18-11 5-3 9-9 7-6 8-10 4-5 11-15 9-14 6-9 4-6 9-15 8-15 8-13 10-16 5-8 4-7 10-14 10-15 5-9 5-6 10-12 15-16 15-13 15-11 11-7 18-10 12-5 18-6 14-4 15-4 15-3 15-2 14-3 15-2 15-2 15-2 15-3 14-2 15-3 15-2 15-3 14-2 15-2 15-2 15-2 14-1 15-1 15-1 15 0 14 1 15 0 15 2 15 1 15 2 10 2 19 4 15 4 15 4 8 3 6 2 15 5 15 6 15 6 14 6 11 4 19 10 11 5 19 10 8 5 6 4 15 9 15 10 8 6 7 5 12 10 17 14 15 13 15 13 4 4 10 9 6 6 9 8 6 7 9 9 5 5 10 11 14 19 10 15 5 8 4 6 8 15 3 6 4 9 5 15 5 14 3 15 3 15 1 15 1 14 0 15 0 15 0 14 0 15-1 15 0 15 1 14 1 15 1 15 2 15 3 14 4 15 4 15 5 15 2 6 3 8 6 15 5 15 6 14 6 15 4 10 8 20 5 14 6 15 5 15 4 15 4 14 3 15 3 15 2 15 2 14 0 15 0 15-2 14-2 15-4 15-4 15-6 14-6 15-3 8-3 7-7 15-5 11-8 18-6 15-6 15-4 14-4 15-2 11-2 18-1 15 0 15-1 15 0 14 0 15 0 15-1 15-1 14-1 15-2 15-2 15-3 14-2 15-3 15-4 14-3 15-3 14-4 16-3 14-2 15-2 15-1 15 0 14 0 15 2 15 2 15 3 14 3 15 2 11 3 18 2 15 1 15-1 15-3 14-6 15-9 15-12 15-5 4-10 10-5 4-13 11-16 11-5 4-10 6-12 9-17 10-6 4-9 6-12 9-18 13-14 12-5 4-10 9-7 6-8 8-8 7-7 6-10 9-17 14-15 15-15 15-14 15-13 14-4 6-8 9-7 9-4 6-10 15-10 14-6 11-9 19-5 11-9 18-6 14-7 16-7 14-7 15-8 15-8 15-7 11-12 18-11 15-7 9-4 6-11 12-14 17-11 15-4 6-7 8z" fill="#38b977" fill-rule="evenodd"/>
<path d="M1677 2284l9 0 15 0 15 0 15 0 14 0 15 0 15 0 15 0 14 0 15 0 15 0 15 0 15 0 14 0 15 0 15 0 15 0 14 0 15 0 15 0 15 0 14 0 15 0 15 0 15 0 14 0 15 0 15 0 15 0 15 0 14 0 15 0 15 0 15 0 14 0 15 0 15 0 15 0 14 0 15 0 15 0 15 0 15 0 14 0 15 0 15 0 15 0 14 0 15 0 15 0 15 0 14 0 15 0 15 0 15 0 14 0 15 0 15 0 15 0 15 0 14 0 15 0 15 0 15 0 14 0 15 0 15 0 15 0 14 0 15 0 15 0 15 0 15 0 0-14 0-15 0-15 0-14 0-15 0-15 0-15 0-14 0-15 0-15 0-15 0-14 0-15 0-15 0-15 0-14 0-15 0-15 0-14 0-15 0-15 0-15 0-14 0-15 0-15 0-15 0-14 0-15 0-15 0-15 0-14 0-15 0-15 0-14 0-15 0-15 0-15 0-14 0-15 0-15 0-15 0-14 0-15 0-15 0-15 0-14 0-15 0-15 0-14 0-15 0-15 0-15 0-14 0-15 0-15 0-15 0-14 0-15 0-15 0-15 0-14 0-15 0-15 0-14 0-15 0-15 0-15 0-14 0-15 0-15 0-15 0-14 0-15 0-15 0-15 0-14 0-15 0-15 0-14 0-15 0-15 0-15 0-14 0-15 0-15 0-15 0-14 0-15 0-15 0-15 0-14 0-15 0-15 0-14 0-15 0-15 0-15 0-14 0-15 0-15 0-15 0-14 0-15 0-15 0-15 0-14 0-15 0-15 0-14 0-15 0-15 0-15 0-14 0-15 0-15 0-15 0-14 0-15 0-15 0-15 0-14 0-15 0-15 0-14 0-15 0-15 0-15 0-14 0-15 0-15 0-15 0-14 0-15 0-15 0-15 0-14 0-15 0-15 0-14 0-15 0-15 0-15 0-14 0-15 0-15 0-15 0-14 0-15 0-15 0-15 0-14 0-15 0-15 0-14-15 0-15 0-15 0-15 0-14 0-15 0-15 0-15 0-14 0-15 0-15 0-15 0-14 0-15 0-15 0-15 0-15 0-14 0-15 0-15 0-15 0-14 0-15 0-15 0-15 0-14 0-15 0-15 0-15 0-14 0-15 0-15 0-15 0-15 0-14 0-15 0-15 0-15 0-14 0-15 0-14 0 11 14 3 5 4 10 3 15 0 14 0 15-2 15-1 15-2 14-1 15 0 15 0 15 1 14 2 15 4 15 5 15 8 14 8 14 9 16 6 10 10 19 5 11 8 19 5 14 2 7 2 8 4 15 3 15 2 14 2 15 1 15 0 11 1 18 0 15 0 15 0 14-1 15 0 15 0 15 0 14 0 11 2 19 1 15 3 14 2 15 3 15 2 15 2 8 5 21 3 15 3 14 3 15 3 15 4 15 3 14 2 15 3 15 2 15 2 14 2 15 1 15 0 15 0 14 0 15-2 15-2 14-2 11-5 19-4 15-5 14-6 15-7 15-3 7-3 8-8 14-4 8-3 7-8 15-3 7-4 8-7 14-4 11-7 19-3 14-3 15-2 9-3 21-1 14-2 15-3 15-2 15-3 14-4 15-5 15-6 15-6 14-6 15-3 10-6 19-3 15-2 15-2 15-2 14-2 15-2 15-1 15 0 14 1 15 3 15 5 15 5 14 5 15 6 15 5 14 4 15 3 15 2 15-1 14-3 15-6 15-9 11-15 15-15 13-7 5-7 5-15 10-15 8-11 7-19 9-10 5-19 10-10 5-20 10-7 5-7 4-15 9-15 11-6 5-9 8-8 7-6 6-11 9-17 14-17 15-14 14-14 16-11 14-5 7-6 8-9 14-10 16-5 7-4 7-8 15-8 15-7 14-6 15-6 15-5 12-7 17-5 15-3 7-2 8-6 15-6 14-6 15-7 15-7 15-7 14-3 5-6 10-8 15-10 14zM795 399l20 3 15 2 15 0 14 0 15-2 14-3 16-7 14-7 15-10 9-6 6-5 11-10 4-4 8-10 7-11 8-19 5-15 4-14 3-15 3-15 3-14 3-12 6-18 5-15 4-12 6-17 5-15 4-11 6-18 6-15 2-7 4-8 6-15 5-9 3-5 10-15 14-15 16-14-13 0-15 0-15 0-15 0-14 0-15 0-15 0-15 0-14 0-15 0-15 0-15 0-15 0-14 0-15 0-15 0-15 0-14 0-15 0-15 0-15 0-14 0-15 0-15 0-15 0-15 0-14 0-15 0-15 0-15 0-14 0-15 0-15 0-15 0-14 0-15 0-15 0-15 0-14 0-15 0-15 0-15 0-15 0 0 14 0 15 0 15 0 14 0 15 0 15 0 15 0 14 0 15 0 15 0 15 0 14 0 15 0 15 0 15 0 14 0 15 0 15 0 14 0 15 0 15 0 15 0 14 0 13 15-1 15 0 15 0 15 1 14 1 12 1 18 2 15 1 14 2 15 1 15 2 15 1 14 2 15 1 15 1 15 2 14 1 15 2 15 3 15 3 15 4 9 2z" fill="#50c46a" fill-rule="evenodd"/>
<path d="M1753 2284l22 0 15 0 14 0 15 0 15 0 15 0 15 0 14 0 15 0 15 0 15 0 14 0 15 0 15 0 15 0 14 0 15 0 15 0 15 0 14 0 15 0 15 0 15 0 15 0 14 0 15 0 15 0 15 0 14 0 15 0 15 0 15 0 14 0 15 0 15 0 15 0 15 0 14 0 15 0 15 0 15 0 14 0 15 0 15 0 15 0 14 0 15 0 15 0 15 0 14 0 15 0 15 0 15 0 15 0 14 0 15 0 15 0 15 0 14 0 15 0 15 0 15 0 14 0 15 0 15 0 15 0 15 0 0-14 0-15 0-15 0-14 0-15 0-15 0-15 0-14 0-15 0-15 0-15 0-14 0-15 0-15 0-15 0-14 0-15 0-15 0-14 0-15 0-15 0-15 0-14 0-15 0-15 0-15 0-14 0-15 0-15 0-15 0-14 0-15 0-15 0-14 0-15 0-15 0-15 0-14 0-15 0-15 0-15 0-14 0-15 0-15 0-15 0-14 0-15 0-15 0-14 0-15 0-15 0-15 0-14 0-15 0-15 0-15 0-14 0-15 0-15 0-15 0-14 0-15 0-15 0-14 0-15 0-15 0-15 0-14 0-15 0-15 0-15 0-14 0-15 0-15 0-15 0-14 0-15 0-15 0-14 0-15 0-15 0-15 0-14 0-15 0-15 0-15 0-14 0-15 0-15 0-15 0-14 0-15 0-15 0-14 0-15 0-15 0-15 0-14 0-15 0-15 0-15 0-14 0-15 0-15 0-15 0-14 0-15 0-15 0-14 0-15 0-15 0-15 0-14 0-15 0-15 0-15 0-14 0-15 0-15 0-15 0-14 0-15 0-15 0-14 0-15 0-15 0-15 0-14 0-15 0-15 0-15 0-14 0-15 0-15 0-15 0-14 0-15 0-15 0-14 0-15 0-15 0-15 0-14 0-15 0-15 0-15 0-14 0-15 0-15 0-15 0-14 0-15 0-15 0-14-15 0-15 0-15 0-15 0-14 0-15 0-15 0-15 0-14 0-15 0-15 0-15 0-14 0-15 0-11 0 2 14 1 15 1 15 1 14 0 15 0 15 0 15 0 14 0 15 0 15-1 15 0 14 0 15 0 15 0 15 0 14 1 15 0 15 1 14 0 15 1 15 0 15 0 14 0 15-1 15-2 15-3 14-5 15-7 15-7 15-8 14-8 13-8 17-6 12-8 17-6 15-5 15-5 14-3 15-3 10-4 20-2 14-3 15-2 15-2 15-2 11-2 18-1 15-1 14-2 15-1 15-1 15 0 14-1 15-1 15-1 15-1 14-1 15-1 13-2 17-2 14-2 15-2 15-3 14-3 15-1 7-2 8-4 15-4 14-5 15-4 15-6 15-5 13-6 16-6 15-2 6-4 9-5 14-6 15-5 15-5 14-5 15-4 15-4 15-3 14-4 14-4 16-4 15-4 14-2 6-4 9-9 15-16 15-16 5-15 4-14 5-15 7-9 8-6 6-6 9-6 14-3 14 1 16 4 15 5 14 5 12 8 18 4 15 3 13 5 16 5 15 5 10 9 19 5 14 7 16 5 14 3 15 1 15 0 15-2 14-4 15-7 15-9 15-8 11-15 16-15 13-4 4-11 7-10 8-19 10-7 4-8 4-15 7-10 4-19 8-15 5-15 5-15 6-14 5-15 6-15 6-7 3-8 4-14 8-5 3-10 7-10 8-5 4-14 10-15 11-6 4-9 6-11 9-16 15-11 14-6 12-10 18-5 15-6 14-6 15-3 6-4 9-7 14-4 10-7 20-6 15-2 6-2 8-5 15-4 15-3 13-5 16-3 15-4 15-3 12-5 17-5 15-5 13-7 16zM823 266l7 6 15 7 14 1 15-5 9-9 6-7 4-8 4-14 3-15 3-15 3-15 4-14 4-15 4-15 5-15 5-14 5-15 5-15 5-15 5-13 6-16 5-15 4-10-15-4-15 0-15 0-14 0-15 0-15 0-15 0-14 0-15 0-15 0-15 0-14 0-15 0-15 0-15 0-15 0-14 0-15 0-15 0-15 0-14 0-15 0-15 0-15 0-14 0-15 0-15 0-15 0-13 0 12 14 11 15 5 8 5 7 10 12 14 17 14 15 16 15 15 14 14 15 13 15 11 15 6 7 7 7 8 7 15 6 12 2 17 3 15 5 15 7 15 10 5 5 9 8 7 6 8 9 8 6z" fill="#6ccd5a" fill-rule="evenodd"/>
<path d="M1817 2284l17 0 15 0 15 0 14 0 15 0 15 0 15 0 14 0 15 0 15 0 15 0 14 0 15 0 15 0 15 0 14 0 15 0 15 0 15 0 15 0 14 0 15 0 15 0 15 0 14 0 15 0 15 0 15 0 14 0 15 0 15 0 15 0 15 0 14 0 15 0 15 0 15 0 14 0 15 0 15 0 15 0 14 0 15 0 15 0 15 0 14 0 15 0 15 0 15 0 15 0 14 0 15 0 15 0 15 0 14 0 15 0 15 0 15 0 14 0 15 0 15 0 15 0 15 0 0-14 0-15 0-15 0-14 0-15 0-15 0-15 0-14 0-15 0-15 0-15 0-14 0-15 0-15 0-15 0-14 0-15 0-15 0-14 0-15 0-15 0-15 0-14 0-15 0-15 0-15 0-14 0-15 0-15 0-15 0-14 0-15 0-15 0-14 0-15 0-15 0-15 0-14 0-15 0-15 0-15 0-14 0-15 0-15 0-15 0-14 0-15 0-15 0-14 0-15 0-15 0-15 0-14 0-15 0-15 0-15 0-14 0-15 0-15 0-15 0-14 0-15 0-15 0-14 0-15 0-15 0-15 0-14 0-15 0-15 0-15 0-14 0-15 0-15 0-15 0-14 0-15 0-15 0-14 0-15 0-15 0-15 0-14 0-15 0-15 0-15 0-14 0-15 0-15 0-15 0-14 0-15 0-15 0-14 0-15 0-15 0-15 0-14 0-15 0-15 0-15 0-14 0-15-10 0-5 4-15 11-15 12-15 13-4 4-10 10-5 5-10 10-4 5-11 12-13 17-10 15-6 9-4 6-8 14-3 5-6 10-7 15-8 14-6 15-3 6-3 9-5 15-6 14-4 15-5 15-5 15-4 14-5 15-4 15-3 10-6 19-5 15-4 11-6 18-5 15-4 9-6 21-5 14-3 9-2 6-5 15-5 15-3 8-2 6-5 15-5 15-3 7-2 8-6 14-6 15-6 15-7 14-2 6-5 9-6 15-4 9-3 6-5 14-5 15-2 7-2 8-2 15-1 14 0 15 1 15 1 15 2 14 2 15 2 15 1 14 0 15-2 15-2 8-1 7-5 14-8 15-9 15-6 7-7 8-8 7-8 7-7 6-11 9-18 15-15 11-5 4-10 7-10 7-5 3-15 10-14 10-12 7-18 9-11 5-18 8-15 6-15 4-15 4-14 4-15 4-15 3-15 4-15 3-14 4-15 5-15 6-9 4-6 3-14 8-7 4-8 4-15 6-11 5-18 8-11 7-17 14-9 15-6 15-2 10-2 19-2 15-2 15-4 14-4 14-6 16-5 15-4 14-4 15-3 15-4 15-2 14-2 10-3 20-3 15-2 14-2 15-4 15-3 14z" fill="#8bd646" fill-rule="evenodd"/>
<path d="M1874 2284l19 0 15 0 15 0 14 0 15 0 15 0 15 0 14 0 15 0 15 0 15 0 14 0 15 0 15 0 15 0 15 0 14 0 15 0 15 0 15 0 14 0 15 0 15 0 15 0 14 0 15 0 15 0 15 0 15 0 14 0 15 0 15 0 15 0 14 0 15 0 15 0 15 0 14 0 15 0 15 0 15 0 14 0 15 0 15 0 15 0 15 0 14 0 15 0 15 0 15 0 14 0 15 0 15 0 15 0 14 0 15 0 15 0 15 0 15 0 0-14 0-15 0-15 0-14 0-15 0-15 0-15 0-14 0-15 0-15 0-15 0-14 0-15 0-15 0-15 0-14 0-15 0-15 0-14 0-15 0-15 0-15 0-14 0-15 0-15 0-15 0-14 0-15 0-15 0-15 0-14 0-15 0-15 0-14 0-15 0-15 0-15 0-14 0-15 0-15 0-15 0-14 0-15 0-15 0-15 0-14 0-15 0-15 0-14 0-15 0-15 0-15 0-14 0-15 0-15 0-15 0-14 0-15 0-15 0-15 0-14 0-15 0-15 0-14 0-15 0-15 0-15 0-14 0-15 0-15 0-15 0-14 0-15 0-15 0-15 0-14 0-15 0-15 0-14 0-10-8 10-7 9-4 5-10 15-8 15-8 14-7 15-6 15-6 15-7 14-3 9-3 6-6 15-6 15-6 14-6 15-3 7-3 8-6 15-6 14-6 15-5 15-3 8-3 6-5 15-5 15-5 15-5 14-4 15-3 14-3 16-1 14-1 15 0 15 1 15 1 14 1 15 1 15 0 14 0 15-1 15-2 15-3 14-5 15-3 6-4 9-10 15-13 14-17 14-15 9-11 7-18 9-11 6-19 8-15 6-14 6-15 6-7 3-8 3-15 6-14 6-15 7-15 7-15 9-10 6-19 13-15 10-11 7-19 11-7 3-7 4-15 6-14 5-16 5-14 3-15 3-15 2-15 1-14 2-15 1-15 2-15 3-15 3-14 4-15 5-15 5-15 3-14 1-15-1-15-1-15 2-14 6-12 10-3 6-4 9-1 15 3 14 2 8 2 7 4 15 0 14-3 15-3 12-5 18-4 14-4 15-2 9-4 21-2 14-3 15-2 15-1 15-2 14-1 7 0 8-2 15-2 14z" fill="#addc30" fill-rule="evenodd"/>
<path d="M1940 2284l12 0 15 0 15 0 14 0 15 0 15 0 15 0 14 0 15 0 15 0 15 0 15 0 14 0 15 0 15 0 15 0 14 0 15 0 15 0 15 0 14 0 15 0 15 0 15 0 15 0 14 0 15 0 15 0 15 0 14 0 15 0 15 0 15 0 14 0 15 0 15 0 15 0 14 0 15 0 15 0 15 0 15 0 14 0 15 0 15 0 15 0 14 0 15 0 15 0 15 0 14 0 15 0 15 0 15 0 15 0 0-14 0-15 0-15 0-14 0-15 0-15 0-15 0-14 0-15 0-15 0-15 0-14 0-15 0-15 0-15 0-14 0-15 0-15-8 15-7 15-12 14-18 14-15 7-14 5-12 4-18 4-15 3-14 3-15 2-13 3-17 2-14 2-15 1-15 2-15 0-15 1-14 1-15 2-15 2-11 1-18 3-15 2-15 2-15 2-14 1-15 0-15 0-15-2-14-3-15-3-15-5-15-5-15-6-14-7-15-7-15-7-15-7-14-8-14-9-16-10-6-4-9-5-14-6-12-4-18-4-15-1-15 1-14 3-15 5-15 7-6 4-9 6-8 8-6 9-4 6-6 15-5 13-5 16-4 15-4 15-2 8-1 7-3 14-2 15-2 15-2 15-2 14 0 15 0 15 0 14z" fill="#cde11d" fill-rule="evenodd"/>
</g>
</g>
<circle cx="124.3" cy="133.4" r="29.5" fill="none" stroke="#000" stroke-width="1.1" stroke-dasharray="4.1 1.8"/>
<circle cx="124.3" cy="133.4" r="59.1" fill="none" stroke="#000" stroke-width="1.1" stroke-dasharray="4.1 1.8"/>
<circle cx="124.3" cy="133.4" r="88.6" fill="none" stroke="#000" stroke-width="1.1" stroke-dasharray="4.1 1.8"/>
<circle cx="124.3" cy="133.4" r="118.1" fill="none" stroke="#000" stroke-width="1.1" stroke-dasharray="4.1 1.8"/>
<circle cx="124.3" cy="133.4" r="147.7" fill="none" stroke="#000" stroke-width="1.1" stroke-dasharray="4.1 1.8"/>
<path d="M124.3 4.5V225.5M50.5 133.4H272.0" stroke="#000" stroke-width="1.4" fill="none"/>
<g stroke="#000" stroke-width="0.5"><circle cx="87.5" cy="28.8" r="1.4" fill="#d2e21b"/><circle cx="97.4" cy="30.9" r="1.4" fill="#58c765"/><circle cx="112.8" cy="34.5" r="1.4" fill="#2ab07f"/><circle cx="99.1" cy="40.4" r="1.4" fill="#20928c"/><circle cx="99.5" cy="49.6" r="1.4" fill="#dfe318"/><circle cx="98.3" cy="50.8" r="1.4" fill="#dfe318"/><circle cx="97.0" cy="58.0" r="1.4" fill="#20928c"/><circle cx="107.9" cy="59.7" r="1.4" fill="#2a788e"/><circle cx="144.8" cy="27.8" r="1.4" fill="#1fa187"/><circle cx="148.6" cy="26.5" r="1.4" fill="#1f998a"/><circle cx="138.1" cy="42.5" r="1.4" fill="#2b758e"/><circle cx="151.4" cy="48.2" r="1.4" fill="#1f9a8a"/><circle cx="133.8" cy="54.0" r="1.4" fill="#218e8d"/><circle cx="138.8" cy="56.1" r="1.4" fill="#1e9c89"/><circle cx="143.8" cy="58.0" r="1.4" fill="#2a788e"/><circle cx="133.4" cy="60.1" r="1.4" fill="#30698e"/><circle cx="135.5" cy="62.2" r="1.4" fill="#33638d"/><circle cx="121.8" cy="60.1" r="1.4" fill="#3a538b"/><circle cx="148.6" cy="60.1" r="1.4" fill="#238a8d"/><circle cx="142.3" cy="64.6" r="1.4" fill="#3a548c"/><circle cx="152.8" cy="62.2" r="1.4" fill="#365c8d"/><circle cx="121.2" cy="67.7" r="1.4" fill="#306a8e"/><circle cx="123.9" cy="69.8" r="1.4" fill="#23888e"/><circle cx="134.5" cy="74.4" r="1.4" fill="#9bd93c"/><circle cx="148.6" cy="76.5" r="1.4" fill="#404688"/><circle cx="150.7" cy="78.6" r="1.4" fill="#3e4a89"/><circle cx="130.7" cy="79.7" r="1.4" fill="#33638d"/><circle cx="122.3" cy="81.1" r="1.4" fill="#38598c"/><circle cx="129.6" cy="84.9" r="1.4" fill="#453882"/><circle cx="147.6" cy="83.9" r="1.4" fill="#3e4a89"/><circle cx="149.7" cy="86.0" r="1.4" fill="#355f8d"/><circle cx="133.4" cy="86.0" r="1.4" fill="#2b748e"/><circle cx="162.8" cy="33.5" r="1.4" fill="#26818e"/><circle cx="173.3" cy="32.4" r="1.4" fill="#20928c"/><circle cx="168.7" cy="40.8" r="1.4" fill="#25848e"/><circle cx="198.6" cy="63.5" r="1.4" fill="#2c738e"/><circle cx="187.1" cy="64.6" r="1.4" fill="#26828e"/><circle cx="164.9" cy="55.5" r="1.4" fill="#2e6e8e"/><circle cx="155.4" cy="60.8" r="1.4" fill="#21908d"/><circle cx="158.9" cy="59.3" r="1.4" fill="#29798e"/><circle cx="156.8" cy="62.2" r="1.4" fill="#3a548c"/><circle cx="173.9" cy="62.2" r="1.4" fill="#20928c"/><circle cx="177.5" cy="64.6" r="1.4" fill="#26818e"/><circle cx="176.5" cy="69.2" r="1.4" fill="#34618d"/><circle cx="168.1" cy="75.5" r="1.4" fill="#30698e"/><circle cx="176.0" cy="81.8" r="1.4" fill="#2f6c8e"/><circle cx="175.0" cy="84.9" r="1.4" fill="#355e8d"/><circle cx="177.9" cy="87.0" r="1.4" fill="#2c718e"/><circle cx="170.2" cy="87.0" r="1.4" fill="#472d7b"/><circle cx="192.3" cy="83.2" r="1.4" fill="#23898e"/><circle cx="128.4" cy="86.7" r="1.4" fill="#34618d"/><circle cx="145.3" cy="87.3" r="1.4" fill="#365d8d"/><circle cx="137.9" cy="89.8" r="1.4" fill="#365d8d"/><circle cx="127.3" cy="91.9" r="1.4" fill="#4ec36b"/><circle cx="119.3" cy="95.7" r="1.4" fill="#2f6c8e"/><circle cx="135.7" cy="96.1" r="1.4" fill="#481b6d"/><circle cx="131.5" cy="99.3" r="1.4" fill="#3d4e8a"/><circle cx="154.7" cy="97.8" r="1.4" fill="#460a5d"/><circle cx="142.1" cy="101.4" r="1.4" fill="#482475"/><circle cx="135.3" cy="102.8" r="1.4" fill="#46085c"/><circle cx="143.2" cy="104.5" r="1.4" fill="#3d4d8a"/><circle cx="130.5" cy="106.6" r="1.4" fill="#39558c"/><circle cx="154.1" cy="109.1" r="1.4" fill="#463480"/><circle cx="141.7" cy="109.1" r="1.4" fill="#375a8c"/><circle cx="167.0" cy="113.5" r="1.4" fill="#3f4788"/><circle cx="150.9" cy="117.6" r="1.4" fill="#453581"/><circle cx="148.4" cy="121.4" r="1.4" fill="#46327e"/><circle cx="146.3" cy="123.5" r="1.4" fill="#460b5e"/><circle cx="167.4" cy="123.9" r="1.4" fill="#355e8d"/><circle cx="124.8" cy="127.7" r="1.4" fill="#31668e"/><circle cx="156.4" cy="134.0" r="1.4" fill="#481668"/><circle cx="168.5" cy="136.1" r="1.4" fill="#34618d"/><circle cx="171.6" cy="137.8" r="1.4" fill="#3c508b"/><circle cx="167.4" cy="139.9" r="1.4" fill="#2d708e"/><circle cx="177.9" cy="138.6" r="1.4" fill="#2e6d8e"/><circle cx="173.7" cy="142.0" r="1.4" fill="#31678e"/><circle cx="176.9" cy="143.5" r="1.4" fill="#2e6e8e"/><circle cx="156.8" cy="146.2" r="1.4" fill="#453581"/><circle cx="154.7" cy="151.9" r="1.4" fill="#46085c"/><circle cx="153.0" cy="154.0" r="1.4" fill="#3c508b"/><circle cx="173.7" cy="150.4" r="1.4" fill="#453781"/><circle cx="175.8" cy="152.9" r="1.4" fill="#32648e"/><circle cx="189.0" cy="89.4" r="1.4" fill="#228d8d"/><circle cx="180.5" cy="91.9" r="1.4" fill="#365c8d"/><circle cx="180.5" cy="104.1" r="1.4" fill="#2d718e"/><circle cx="204.3" cy="100.7" r="1.4" fill="#2fb47c"/><circle cx="206.4" cy="103.5" r="1.4" fill="#1fa187"/><circle cx="212.8" cy="102.4" r="1.4" fill="#1f9a8a"/><circle cx="202.2" cy="115.5" r="1.4" fill="#32648e"/><circle cx="184.7" cy="118.3" r="1.4" fill="#2f6b8e"/><circle cx="214.3" cy="119.3" r="1.4" fill="#25ab82"/><circle cx="180.5" cy="132.3" r="1.4" fill="#34608d"/><circle cx="182.6" cy="134.0" r="1.4" fill="#375a8c"/><circle cx="195.9" cy="134.4" r="1.4" fill="#20938c"/><circle cx="221.6" cy="139.9" r="1.4" fill="#ece51b"/><circle cx="189.0" cy="139.9" r="1.4" fill="#297b8e"/><circle cx="185.3" cy="143.5" r="1.4" fill="#25838e"/><circle cx="190.0" cy="142.0" r="1.4" fill="#2e6f8e"/><circle cx="195.3" cy="145.6" r="1.4" fill="#23898e"/><circle cx="200.1" cy="147.7" r="1.4" fill="#56c667"/><circle cx="189.0" cy="151.9" r="1.4" fill="#20938c"/><circle cx="204.3" cy="152.5" r="1.4" fill="#218f8d"/><circle cx="192.1" cy="156.1" r="1.4" fill="#23888e"/><circle cx="181.1" cy="146.6" r="1.4" fill="#2a778e"/><circle cx="153.8" cy="160.4" r="1.4" fill="#3b528b"/><circle cx="158.0" cy="172.0" r="1.4" fill="#3f4889"/><circle cx="169.2" cy="165.7" r="1.4" fill="#424186"/><circle cx="211.8" cy="161.5" r="1.4" fill="#22a884"/><circle cx="202.3" cy="165.7" r="1.4" fill="#2ab07f"/><circle cx="200.8" cy="168.4" r="1.4" fill="#22a785"/><circle cx="180.5" cy="164.6" r="1.4" fill="#33628d"/><circle cx="177.0" cy="167.1" r="1.4" fill="#33628d"/><circle cx="182.2" cy="169.9" r="1.4" fill="#2e6f8e"/><circle cx="178.0" cy="170.5" r="1.4" fill="#287d8e"/><circle cx="181.2" cy="174.1" r="1.4" fill="#2d708e"/><circle cx="175.9" cy="178.3" r="1.4" fill="#24878e"/><circle cx="175.5" cy="181.0" r="1.4" fill="#1f968b"/><circle cx="167.5" cy="181.4" r="1.4" fill="#26818e"/><circle cx="188.2" cy="183.5" r="1.4" fill="#1f978b"/><circle cx="195.3" cy="181.0" r="1.4" fill="#63cb5f"/><circle cx="192.4" cy="197.8" r="1.4" fill="#ece51b"/></g>
<path d="M115.8 72.0h17M124.3 63.8v16.5" stroke="#f00" stroke-width="1.8" fill="none"/>
</g>
<rect x="50.5" y="4.5" width="221.5" height="221.0" fill="none" stroke="#000" stroke-width="0.8"/>
<text x="50.5" y="244.9" font-size="12.9" text-anchor="middle"><tspan textLength="9.6" lengthAdjust="spacingAndGlyphs">−</tspan>10</text>
<text x="124.3" y="244.9" font-size="12.9" text-anchor="middle">0</text>
<text x="198.2" y="244.9" font-size="12.9" text-anchor="middle">10</text>
<text x="272.0" y="244.9" font-size="12.9" text-anchor="middle">20</text>
<text x="41.2" y="27.6" font-size="12.9" text-anchor="end">15</text>
<text x="41.2" y="64.5" font-size="12.9" text-anchor="end">10</text>
<text x="41.2" y="101.3" font-size="12.9" text-anchor="end">5</text>
<text x="41.2" y="138.1" font-size="12.9" text-anchor="end">0</text>
<text x="41.2" y="174.9" font-size="12.9" text-anchor="end"><tspan textLength="9.6" lengthAdjust="spacingAndGlyphs">−</tspan>5</text>
<text x="41.2" y="211.8" font-size="12.9" text-anchor="end"><tspan textLength="9.6" lengthAdjust="spacingAndGlyphs">−</tspan>10</text>
<rect x="287.6" y="214.45" width="11.4" height="11.05" fill="#460a5d"/>
<rect x="287.6" y="203.40" width="11.4" height="11.35" fill="#481c6e"/>
<rect x="287.6" y="192.35" width="11.4" height="11.35" fill="#472d7b"/>
<rect x="287.6" y="181.30" width="11.4" height="11.35" fill="#443b84"/>
<rect x="287.6" y="170.25" width="11.4" height="11.35" fill="#3e4a89"/>
<rect x="287.6" y="159.20" width="11.4" height="11.35" fill="#38598c"/>
<rect x="287.6" y="148.15" width="11.4" height="11.35" fill="#31668e"/>
<rect x="287.6" y="137.10" width="11.4" height="11.35" fill="#2c728e"/>
<rect x="287.6" y="126.05" width="11.4" height="11.35" fill="#277e8e"/>
<rect x="287.6" y="115.00" width="11.4" height="11.35" fill="#238a8d"/>
<rect x="287.6" y="103.95" width="11.4" height="11.35" fill="#1f968b"/>
<rect x="287.6" y="92.90" width="11.4" height="11.35" fill="#1fa287"/>
<rect x="287.6" y="81.85" width="11.4" height="11.35" fill="#28ae80"/>
<rect x="287.6" y="70.80" width="11.4" height="11.35" fill="#38b977"/>
<rect x="287.6" y="59.75" width="11.4" height="11.35" fill="#50c46a"/>
<rect x="287.6" y="48.70" width="11.4" height="11.35" fill="#6ccd5a"/>
<rect x="287.6" y="37.65" width="11.4" height="11.35" fill="#8bd646"/>
<rect x="287.6" y="26.60" width="11.4" height="11.35" fill="#addc30"/>
<rect x="287.6" y="15.55" width="11.4" height="11.35" fill="#cde11d"/>
<rect x="287.6" y="4.50" width="11.4" height="11.35" fill="#efe51c"/>
<rect x="287.6" y="4.5" width="11.4" height="221.0" fill="none" stroke="#000" stroke-width="0.8"/>
<text x="309.0" y="230.2" font-size="12.9">5000</text>
<text x="309.0" y="186.0" font-size="12.9">6400</text>
<text x="309.0" y="141.8" font-size="12.9">7800</text>
<text x="309.0" y="97.6" font-size="12.9">9200</text>
<text x="309.0" y="53.4" font-size="12.9">10,600</text>
<text x="309.0" y="9.2" font-size="12.9">12,000</text>
<path d="M50.5 225.5v3.5M124.3 225.5v3.5M198.2 225.5v3.5M272.0 225.5v3.5M50.5 22.9h-3.5M50.5 59.8h-3.5M50.5 96.6h-3.5M50.5 133.4h-3.5M50.5 170.2h-3.5M50.5 207.1h-3.5M299.0 225.5h3.5M299.0 181.3h3.5M299.0 137.1h3.5M299.0 92.9h3.5M299.0 48.7h3.5M299.0 4.5h3.5" stroke="#000" stroke-width="0.6" fill="none"/>
<text x="160.7" y="261.5" font-size="13" text-anchor="middle" textLength="44"><tspan font-style="italic">X</tspan> (kpc)</text>
<text transform="translate(10.3 115.3) rotate(-90)" font-size="13" text-anchor="middle" textLength="41"><tspan font-style="italic">Y</tspan> (kpc)</text>
<text transform="translate(353.0 114.5) rotate(-90)" font-size="13" text-anchor="middle" textLength="38"><tspan font-style="italic">T</tspan><tspan font-style="italic" font-size="9.2" dy="2.2">e</tspan><tspan dy="-2.2"> (K)</tspan></text>
<g clip-path="url(#f2)">
<clipPath id="c2"><path transform="scale(0.1)" d="M1773 5211l14 3 10 1 10 2 10 1 10 1 10 0 10 1 10 1 10 0 10-1 10 0 10-1 10 0 10 0 10-1 10-1 10-2 10-1 10-2 10-2 10-2 10-3 10-2 7-2 13-4 10-3 9-3 11-3 10-4 8-3 12-5 9-5 11-5 9-5 11-5 8-5 12-7 5-3 5-4 9-6 11-8 10-7 7-5 13-10 10-7 10-8 6-5 12-10 11-10 11-10 10-9 10-9 10-10 10-9 10-11 10-10 10-12 9-10 8-10 8-10 5-6 10-14 8-10 7-10 5-7 9-13 7-10 4-6 9-14 6-10 5-7 9-13 7-10 4-7 8-13 6-10 6-8 8-12 6-10 6-10 5-10 5-8 7-12 3-5 3-5 5-10 5-10 5-10 5-10 5-10 4-10 4-10 4-9 5-11 3-10 2-6 5-14 3-10 2-9 3-11 3-10 2-10 2-9 3-11 2-10 2-10 2-10 2-10 2-10 1-10 1-10 0-10 1-10 2-10 1-10 1-10 0-10 0-10 1-10 0-10 1-10 0-10 0-10 0-10 0-10 0-10 0-10-1-10 0-10-1-8 0-12 0-10-1-10-1-10-1-10 0-10-2-10-1-10-1-10-2-10-1-7-2-13-1-10-2-10-1-10-2-10-1-10-1-10-2-10-1-10-2-10-2-10-2-10-2-10-2-10-3-10-2-10-2-8-2-12-3-10-2-10-3-8-3-12-2-10-3-10-2-7-4-13-3-10-3-10-3-10-3-10-3-10-3-10-3-10-3-10-3-10-3-10-4-10-2-6-5-14-4-10-4-10-4-10-3-6-5-14-4-10-4-10-4-10-3-7-5-13-5-10-4-10-3-10-3-6-5-14-4-10-5-10-4-10-4-10-4-10-4-8-5-12-5-10-5-10-4-10-5-10-5-10-5-10-5-10-5-10-5-10-5-10-5-10-5-10-5-10-5-10-6-10-6-10-4-7-7-13-6-10-7-10-6-10-4-5-3-5-6-10-6-10-5-7-8-13-7-10-5-6-9-14-8-10-8-10-5-7-9-13-9-10-9-10-9-10-4-4-5-6-5-4-5-6-5-4-7-6-11-10-11-10-11-9-10-9-10-7-6-5-13-10-11-8-10-8-4-4-6-5-6-5-13-10-11-8-10-7-6-5-14-10-10-7-10-7-8-6-12-7-10-6-10-7-10-6-5-4-5-3-10-6-10-6-10-5-10-4-10-5-10-4-10-4-7-3-13-5-10-4-10-3-10-3-10-3-10-3-10-3-10-2-10-3-10-2-10-2-10-2-10-1-10-2-10-1-10-2-10-1-10-2-10-1-10-1-10 0-10-1-10-2-10-1-10 0-10-1-10-1-10-1-10 0-10-1-10-1-10 0-10-1-10-1-10-1-10 0-10-1-10-1-10 0-10 0-10 0-10 0-10-1-10 0-10-1-10 0-10 0-10 0-10 0-10 1-10 1-10 0-10 0-10 0-10 0-10 0-10 0-10 1-10 0-10 1-10 1-10 0-10 0-10 1-10 0-10 1-10 1-10 1-10 1-10 1-10 1-10 1-10 1-10 1-10 1-10 2-10 1-10 2-10 2-10 2-10 2-10 2-10 2-10 2-10 3-10 3-10 2-10 3-10 2-10 3-10 3-10 4-10 3-7 3-13 5-10 4-10 4-10 5-10 5-10 5-10 5-10 6-10 7-6 4-13 10-11 10-10 9-10 9-10 11-9 11-8 10-8 10-5 7-9 13-6 10-5 9-6 11-4 8-5 12-4 10-3 10-3 10-4 10-3 10-3 10-2 10-3 10-2 10-2 10-2 10-2 10-2 10-1 10-1 10-1 10 0 10-1 10-1 10 0 10-1 10-1 10 0 10-1 10 0 10 1 10 0 10 0 10 0 10 1 10 1 10 0 10 0 10 1 10 1 10 1 10 1 10 1 10 1 10 1 10 1 10 2 10 2 10 1 10 2 10 3 10 1 10 2 10 2 10 2 8 4 12 2 10 3 10 1 7 4 13 3 10 2 10 4 10 3 10 3 10 3 10 3 10 3 10 2 6 6 14 3 10 4 10 4 10 3 8 5 12 4 10 4 10 4 10 3 8 6 12 4 10 6 10 4 10 5 10 5 10 4 10 5 10 5 10 5 10 5 10 6 10 5 10 5 9 6 11 4 8 7 12 3 7 8 13 5 10 6 10 6 10 5 9 6 11 4 8 7 12 3 5 3 5 6 10 6 10 5 9 7 11 3 7 8 13 5 10 6 10 6 10 5 10 5 10 5 9 7 11 3 6 8 14 6 10 6 10 6 10 4 8 8 12 6 10 6 10 6 10 4 7 8 13 6 10 6 10 6 10 4 6 10 14 6 10 4 7 9 13 6 10 5 9 7 11 3 5 4 5 6 9 7 11 3 6 9 14 6 10 5 8 8 12 7 10 5 9 8 11 6 10 6 10 7 10 3 6 9 14 6 10 5 8 9 12 7 10 4 7 9 13 7 10 4 7 8 13 7 10 5 7 10 13 6 10 4 6 9 14 7 10 4 7 9 13 7 10 4 6 4 4 6 10 8 10 7 10 5 7 10 13 7 10 7 10 6 8 9 12 9 10 8 10 4 5 5 5 5 7 10 13 9 10 9 10 9 10 9 10 4 5 5 5 5 5 6 5 4 4 7 6 10 10 11 10 11 10 11 9 10 8 5 3 5 4 8 6 12 9 10 7 8 4 12 7 6 3 14 7 6 3 14 7 7 3 13 6 10 4 10 3 10 3 10 3 10 3 10 3 10 2 10 2z" clip-rule="evenodd"/></clipPath><g clip-path="url(#c2)"><g transform="scale(0.1)" stroke="#000" stroke-opacity="0.5" stroke-width="4.5">
<path d="M527 5271l10 0 10 0 10 0 10 0 10 0 10 0 10 0 10 0 10 0 10 0 10 0 10 0 10 0 10 0 10 0 10 0 10 0 10 0 10 0 10 0 10 0 10 0 10 0 10 0 10 0 10 0 10 0 10 0 10 0 10 0 10 0 10 0 10 0 10 0 10 0 10 0 10 0 10 0 10 0 10 0 10 0 10 0 10 0 10 0 10 0 10 0 10 0 10 0 10 0 10 0 10 0 10 0 10 0 10 0 10 0 10 0 10 0 10 0 10 0 10 0 10 0 10 0 10 0 10 0 10 0 10 0 10 0 10 0 10 0 10 0 10 0 10 0 10 0 10 0 10 0 10 0 10 0 10 0 10 0 10 0 10 0 10 0 10 0 10 0 10 0 10 0 10 0 10 0 10 0 10 0 10 0 10 0 10 0 10 0 10 0 10 0 10 0 10 0 10 0 10 0 10 0 10 0 10 0 10 0 10 0 10 0 10 0 10 0 10 0 10 0 10 0 10 0 10 0 10 0 10 0 10 0 10 0 10 0 10 0 10 0 10 0 10 0 10 0 10 0 10 0 10 0 10 0 10 0 10 0 10 0 10 0 10 0 10 0 10 0 10 0 10 0 10 0 10 0 10 0 10 0 10 0 10 0 10 0 10 0 10 0 10 0 10 0 10 0 10 0 10 0 10 0 10 0 10 0 10 0 10 0 10 0 10 0 10 0 10 0 10 0 10 0 10 0 10 0 10 0 10 0 10 0 10 0 10 0 10 0 10 0 10 0 10 0 10 0 10 0 10 0 10 0 10 0 10 0 10 0 10 0 10 0 10 0 10 0 10 0 10 0 10 0 10 0 10 0 10 0 10 0 10 0 10 0 10 0 10 0 10 0 10 0 10 0 10 0 10 0 10 0 10 0 10 0 10 0 10 0 10 0 10 0 10 0 10 0 10 0 10 0 10 0 10 0 10 0 10 0 10 0 10 0 10 0 10 0 10 0 10 0 10 0 10 0 10 0 10 0 10 0 10 0 10 0 10 0 0-10 0-10 0-10 0-10 0-10 0-10 0-10 0-10 0-10 0-10 0-10 0-10 0-10 0-10 0-10 0-10 0-10 0-10 0-10 0-10 0-10 0-10 0-10 0-10 0-10 0-10 0-10 0-10 0-10 0-10 0-10 0-10 0-10 0-10 0-10 0-10 0-10 0-10 0-10 0-10 0-10 0-10 0-10 0-10 0-10 0-10 0-10 0-10 0-10 0-10 0-10 0-10 0-10 0-10 0-10 0-10 0-10 0-10 0-10 0-10 0-10 0-10 0-10 0-10 0-10 0-10 0-10 0-10 0-10 0-10 0-10 0-10 0-10 0-10 0-10 0-10 0-10 0-10 0-10 0-10 0-10 0-10 0-10 0-10 0-10 0-10 0-10 0-10 0-10 0-10 0-10 0-10 0-10 0-10 0-10 0-10 0-10 0-10 0-10 0-10 0-10 0-10 0-10 0-10 0-10 0-10 0-10 0-10 0-10 0-10 0-10 0-10 0-10 0-10 0-10 0-10 0-10 0-10 0-10 0-10 0-10 0-10 0-10 0-10 0-10 0-10 0-10 0-10 0-10 0-10 0-10 0-10 0-10 0-10 0-10 0-10 0-10 0-10 0-10 0-10 0-10 0-10 0-10 0-10 0-10 0-10 0-10 0-10 0-10 0-10 0-10 0-10 0-10 0-10 0-10 0-10 0-10 0-10 0-10 0-10 0-10 0-10 0-10 0-10 0-10 0-10 0-10 0-10 0-10 0-10 0-10 0-10 0-10 0-10 0-10 0-10 0-10 0-10 0-10 0-10 0-10 0-10 0-10 0-10 0-10 0-10 0-10 0-10 0-10 0-10 0-10 0-10 0-10 0-10 0-10 0-10 0-10 0-10 0-10 0-10 0-10 0-10 0-10 0-10 0-10 0-10 0-10 0-10 0-10 0-10 0-10 0-10 0-10 0-10 0-10 0-10 0-10 0-10 0-10 0-10 0-10 0-10 0-10 0-10 0-10 0-10 0-10 0-10 0-10 0-10 0-10 0-10 0-10 0-10 0-10 0-10 0-10 0-10 0-10 0-10 0-10 0-10 0-10 0-10 0-10 0-10 0-10 0-10 0-10 0-10-10 0-10 0-10 0-10 0-10 0-10 0-10 0-10 0-10 0-10 0-10 0-10 0-10 0-10 0-10 0-10 0-10 0-10 0-10 0-10 0-10 0-10 0-10 0-10 0-10 0-10 0-10 0-10 0-10 0-10 0-10 0-10 0-10 0-10 0-10 0-10 0-10 0-10 0-10 0-10 0-10 0-10 0-10 0-10 0-10 0-10 0-10 0-10 0-10 0-10 0-10 0-10 0-10 0-10 0-10 0-10 0-10 0-10 0-10 0-10 0-10 0-10 0-10 0-10 0-10 0-10 0-10 0-10 0-10 0-10 0-10 0-10 0-10 0-10 0-10 0-10 0-10 0-10 0-10 0-10 0-10 0-10 0-10 0-10 0-10 0-10 0-10 0-10 0-10 0-10 0-10 0-10 0-10 0-10 0-10 0-10 0-10 0-10 0-10 0-10 0-10 0-10 0-10 0-10 0-10 0-10 0-10 0-10 0-10 0-10 0-10 0-10 0-10 0-10 0-10 0-10 0-10 0-10 0-10 0-10 0-10 0-10 0-10 0-10 0-10 0-10 0-10 0-10 0-10 0-10 0-10 0-10 0-10 0-10 0-10 0-10 0-10 0-10 0-10 0-10 0-10 0-10 0-10 0-10 0-10 0-10 0-10 0-10 0-10 0-10 0-10 0-10 0-10 0-10 0-10 0-10 0-10 0-10 0-10 0-10 0-10 0-10 0-10 0-10 0-10 0-10 0-10 0-10 0-10 0-10 0-10 0-10 0-10 0-10 0-10 0-10 0-10 0-10 0-10 0-10 0-10 0-10 0-10 0-10 0-10 0-10 0-10 0-10 0-10 0-10 0-10 0-10 0-10 0-10 0-10 0-10 0-10 0-10 0-10 0-10 0-10 0-10 0-10 0-10 0-10 0-10 0-10 0-10 0-10 0-10 0-10 0-10 0-10 0-10 0-10 0-10 0-10 0-10 0-10 0-10 0-10 0-10 0-10 0-10 0-10 0-10 0-10 0-10 0 0 10 0 10 0 10 0 10 0 10 0 10 0 10 0 10 0 10 0 10 0 10 0 10 0 10 0 10 0 10 0 10 0 10 0 10 0 10 0 10 0 10 0 10 0 10 0 10 0 10 0 10 0 10 0 10 0 10 0 10 0 10 0 10 0 10 0 10 0 10 0 10 0 10 0 10 0 10 0 10 0 10 0 10 0 10 0 10 0 10 0 10 0 10 0 10 0 10 0 10 0 10 0 10 0 10 0 10 0 10 0 10 0 10 0 10 0 10 0 10 0 10 0 10 0 10 0 10 0 10 0 10 0 10 0 10 0 10 0 10 0 10 0 10 0 10 0 10 0 10 0 10 0 10 0 10 0 10 0 10 0 10 0 10 0 10 0 10 0 10 0 10 0 10 0 10 0 10 0 10 0 10 0 10 0 10 0 10 0 10 0 10 0 10 0 10 0 10 0 10 0 10 0 10 0 10 0 10 0 10 0 10 0 10 0 10 0 10 0 10 0 10 0 10 0 10 0 10 0 10 0 10 0 10 0 10 0 10 0 10 0 10 0 10 0 10 0 10 0 10 0 10 0 10 0 10 0 10 0 10 0 10 0 10 0 10 0 10 0 10 0 10 0 10 0 10 0 10 0 10 0 10 0 10 0 10 0 10 0 10 0 10 0 10 0 10 0 10 0 10 0 10 0 10 0 10 0 10 0 10 0 10 0 10 0 10 0 10 0 10 0 10 0 10 0 10 0 10 0 10 0 10 0 10 0 10 0 10 0 10 0 10 0 10 0 10 0 10 0 10 0 10 0 10 0 10 0 10 0 10 0 10 0 10 0 10 0 10 0 10 0 10 0 10 0 10 0 10 0 10 0 10 0 10 0 10 0 10 0 10 0 10 0 10 0 10 0 10 0 10 0 10 0 10 0 10 0 10 0 10 0 10 0 10 0 10 0 10 0 10 0 10 0 10 0 10 0 10 0 10 0 10 0 10 0 10 0 10 0 10 0 10 0 10 0 10 0 10 0 10 0 10 0 10 0 10 0 10 0 10 0 10 0 10 0 10 0 10 0 10 0 10 0 10 0 10 0 10 0 10 0 10 0 10 0 10 0 10 0 10 0 10 0 10 0 10 0 10 0 10z" fill="#472d7b" fill-rule="evenodd"/>
<path d="M527 5271l10 0 10 0 10 0 10 0 10 0 10 0 10 0 10 0 10 0 10 0 10 0 10 0 10 0 10 0 10 0 10 0 10 0 10 0 10 0 10 0 10 0 10 0 10 0 10 0 10 0 10 0 10 0 10 0 10 0 10 0 10 0 10 0 10 0 10 0 10 0 10 0 10 0 10 0 10 0 10 0 10 0 10 0 10 0 10 0 10 0 10 0 10 0 10 0 10 0 10 0 10 0 10 0 10 0 10 0 10 0 10 0 10 0 10 0 10 0 10 0 10 0 10 0 10 0 10 0 10 0 10 0 10 0 10 0 10 0 10 0 10 0 10 0 10 0 10 0 10 0 10 0 10 0 10 0 10 0 10 0 10 0 10 0 10 0 10 0 10 0 10 0 10 0 10 0 10 0 10 0 10 0 10 0 10 0 10 0 10 0 10 0 10 0 10 0 10 0 10 0 10 0 10 0 10 0 10 0 10 0 10 0 10 0 10 0 10 0 10 0 10 0 10 0 10 0 10 0 10 0 10 0 10 0 10 0 10 0 10 0 10 0 10 0 10 0 10 0 10 0 10 0 10 0 10 0 10 0 10 0 10 0 10 0 10 0 10 0 10 0 10 0 10 0 10 0 10 0 10 0 10 0 10 0 10 0 10 0 10 0 10 0 10 0 10 0 10 0 10 0 10 0 10 0 10 0 10 0 10 0 10 0 10 0 10 0 10 0 10 0 10 0 10 0 10 0 10 0 10 0 10 0 10 0 10 0 10 0 10 0 10 0 10 0 10 0 10 0 10 0 10 0 10 0 10 0 10 0 10 0 10 0 10 0 10 0 10 0 10 0 10 0 10 0 10 0 10 0 10 0 10 0 10 0 10 0 10 0 10 0 10 0 10 0 10 0 10 0 10 0 10 0 10 0 10 0 10 0 10 0 10 0 10 0 10 0 10 0 10 0 10 0 10 0 10 0 10 0 10 0 10 0 10 0 10 0 10 0 10 0 10 0 10 0 10 0 10 0 10 0 10 0 10 0 10 0 0-10 0-10 0-10 0-10 0-10 0-10 0-10 0-10 0-10 0-10 0-10 0-10 0-10 0-10 0-10 0-10 0-10 0-10 0-10 0-10 0-10 0-10 0-10 0-10 0-10 0-10 0-10 0-10 0-10 0-10 0-10 0-10 0-10 0-10 0-10 0-10 0-10 0-10 0-10 0-10 0-10 0-10 0-10 0-10 0-10 0-10 0-10 0-10 0-10 0-10 0-10 0-10 0-10 0-10 0-10 0-10 0-10 0-10 0-10 0-10 0-10 0-10 0-10 0-10 0-10 0-10 0-10 0-10 0-10 0-10 0-10 0-10 0-10 0-10 0-10 0-10 0-10 0-10 0-10 0-10 0-10 0-10 0-10 0-10 0-10 0-10 0-10 0-10 0-10 0-10 0-10 0-10 0-10 0-10 0-10 0-10 0-10 0-10 0-10 0-10 0-10 0-10 0-10 0-10 0-10 0-10 0-10 0-10 0-10 0-10 0-10 0-10 0-10 0-10 0-10 0-10 0-10 0-10 0-10 0-10 0-10 0-10 0-10 0-10 0-10 0-10 0-10 0-10 0-10 0-10 0-10 0-10 0-10 0-10 0-10 0-10 0-10 0-10 0-10 0-10 0-10 0-10 0-10 0-10 0-10 0-10 0-10 0-10 0-10 0-10 0-10 0-10 0-10 0-10 0-10 0-10 0-10 0-10 0-10 0-10 0-10 0-10 0-10 0-10 0-10 0-10 0-10 0-10 0-10 0-10 0-10 0-10 0-10 0-10 0-10 0-10 0-10 0-10 0-10 0-10 0-10 0-10 0-10 0-10 0-10 0-10 0-10 0-10 0-10 0-10 0-10 0-10 0-10 0-10 0-10 0-10 0-10 0-10 0-10 0-10 0-10 0-10 0-10 0-10 0-10 0-10 0-10 0-10 0-10 0-10 0-10 0-10 0-10 0-10 0-10 0-10 0-10 0-10 0-10 0-10 0-10 0-10 0-10 0-10 0-10 0-10 0-10 0-10 0-10 0-10 0-10 0-10 0-10 0-10 0-10 0-10 0-10 0-10 0-10 0-10 0-10 0-10 0-10 0-10 0-10 0-10 0-10 0-10 0-10 0-10-10 0-10 0-10 0-10 0-10 0-10 0-10 0-10 0-10 0-10 0-10 0-10 0-10 0-10 0-10 0-10 0-10 0-10 0-10 0-10 0-10 0-10 0-10 0-10 0-10 0-10 0-10 0-10 0-10 0-10 0-10 0-10 0-10 0-10 0-10 0-10 0-10 0-10 0-10 0-10 0-10 0-10 0-10 0-10 0-10 0-10 0-10 0-10 0-10 0-10 0-10 0-10 0-10 0-10 0-10 0-10 0-10 0-10 0-10 0-10 0-10 0-10 0-10 0-10 0-10 0-10 0-10 0-10 0-10 0-10 0-10 0-10 0-10 0-10 0-10 0-10 0-10 0-10 0-10 0-10 0-10 0-10 0-10 0-10 0-10 0-10 0-10 0-10 0-10 0-10 0-10 0-10 0-10 0-10 0-10 0-10 0-10 0-10 0-10 0-10 0-10 0-10 0-10 0-10 0-10 0-10 0-10 0-10 0-10 0-10 0-10 0-10 0-10 0-10 0-10 0-10 0-10 0-10 0-10 0-10 0-10 0-10 0-10 0-10 0-10 0-10 0-10 0-10 0-10 0-10 0-10 0-10 0-10 0-10 0-10 0-10 0-10 0-10 0-10 0-10 0-10 0-10 0-10 0-10 0-10 0-10 0-10 0-10 0-10 0-10 0-10 0-10 0-10 0-10 0-10 0-10 0-10 0-10 0-10 0-10 0-10 0-10 0-10 0-10 0-10 0-10 0-10 0-10 0-10 0-10 0-10 0-10 0-10 0-10 0-10 0-10 0-10 0-10 0-10 0-10 0-10 0-10 0-10 0-10 0-10 0-10 0-10 0-10 0-10 0-10 0-10 0-10 0-10 0-10 0-10 0-10 0-10 0-10 0-10 0-10 0-10 0-10 0-10 0-10 0-10 0-10 0-10 0-10 0-10 0-10 0-10 0-10 0-10 0-10 0-10 0-10 0-10 0-10 0-10 0-10 0-10 0-10 0-10 0-10 0-10 0-10 0-10 0-10 0 0 10 0 10 0 10 0 10 0 10 0 10 0 10 0 10 0 10 0 10 0 10 0 10 0 10 0 10 0 10 0 10 0 10 0 10 0 10 0 10 0 10 0 10 0 10 0 10 0 10 0 10 0 10 0 10 0 10 0 10 0 10 0 10 0 10 0 10 0 10 0 10 0 10 0 10 0 10 0 10 0 10 0 10 0 10 0 10 0 10 0 10 0 10 0 10 0 10 0 10 0 10 0 10 0 10 0 10 0 10 0 10 0 10 0 10 0 10 0 10 0 10 0 10 0 10 0 10 0 10 0 10 0 10 0 10 0 10 0 10 0 10 0 10 0 10 0 10 0 10 0 10 0 10 0 10 0 10 0 10 0 10 0 10 0 10 0 10 0 10 0 10 0 10 0 10 0 10 0 10 0 10 0 10 0 10 0 10 0 10 0 10 0 10 0 10 0 10 0 10 0 10 0 10 0 10 0 10 0 10 0 10 0 10 0 10 0 10 0 10 0 10 0 10 0 10 0 10 0 10 0 10 0 10 0 10 0 10 0 10 0 10 0 10 0 10 0 10 0 10 0 10 0 10 0 10 0 10 0 10 0 10 0 10 0 10 0 10 0 10 0 10 0 10 0 10 0 10 0 10 0 10 0 10 0 10 0 10 0 10 0 10 0 10 0 10 0 10 0 10 0 10 0 10 0 10 0 10 0 10 0 10 0 10 0 10 0 10 0 10 0 10 0 10 0 10 0 10 0 10 0 10 0 10 0 10 0 10 0 10 0 10 0 10 0 10 0 10 0 10 0 10 0 10 0 10 0 10 0 10 0 10 0 10 0 10 0 10 0 10 0 10 0 10 0 10 0 10 0 10 0 10 0 10 0 10 0 10 0 10 0 10 0 10 0 10 0 10 0 10 0 10 0 10 0 10 0 10 0 10 0 10 0 10 0 10 0 10 0 10 0 10 0 10 0 10 0 10 0 10 0 10 0 10 0 10 0 10 0 10 0 10 0 10 0 10 0 10 0 10 0 10 0 10 0 10 0 10 0 10 0 10 0 10 0 10 0 10 0 10 0 10 0 10 0 10 0 10 0 10 0 10 0 10 0 10 0 10 0 10 0 10 0 10 0 10 0 10 0 10zM1467 4063l-6-2-14-5-10-4-10-5-10-4-6-2-14-5-10-4-10-7-5-4-5-5-3-5-6-10-4-10-3-10-2-10-3-10-2-10-3-10-4-8-7-12-8-10-5-6-10-14-5-10-3-10-3-10-2-10-2-10-2-10-2-10-1-10-1-10 0-10 1-10 3-10 4-10 3-5 4-5 6-9 10-10 10-9 10-7 10-4 10-3 10-2 10-1 10 1 10 4 10 9 6 11 4 10 4 10 4 10 5 10 7 10 10 8 10 2 10-4 6-6 4-4 5-6 5-8 7-12 3-6 9-14 8-10 11-10 12-6 10-1 10 1 10 3 5 3 5 4 6 6 4 7 7 13 3 10 1 10 1 10 0 10-1 10-1 8-2 12-3 10-3 10-4 10-6 10-9 10-13 10-10 4-10 3-10 2-9 1-11 2-10 3-9 5-7 10-2 10 2 10 5 10 7 10 4 5 5 5 5 6 4 4 6 9 7 11 3 8 4 12 1 10 0 10-2 10-3 6-9 14-11 9-10 4-10 1-10 0-10-2zM1527 4201l-10-10-3-10-1-10 1-10 3-9 6-11 4-6 4-4 6-6 7-4 13-5 10 2 5 3 5 6 5 14 1 10 0 10-3 10-3 8-8 12-12 10-10 4-10 0-10-4zM1817 4753l-10-7-4-5-4-10-3-10-1-10-2-10-2-10-3-10-3-10-3-10-3-10-2-10 0-10 2-10 5-10 9-10 13-10 11-6 9-4 11-2 10-1 10 2 10 3 10 6 10 9 10 13 5 10 4 10 2 10 2 10 0 10-1 10-1 10-4 10-4 10-3 6-9 14-10 10-11 9-10 6-10 5-10 3-10 0-10-1zM1287 3683l-10-6-6-6-4-4-3-6-5-10-2-8 0-12 1-10 4-10 5-10 10-8 7-2 13 2 10 7 9 11 4 10 3 10 0 10 0 10-1 10-3 10-8 10-14 4-10-2zM1417 3634l-9-3-11-4-10-4-10-6-7-6-11-10-7-10-3-10-1-10 2-10 2-10 4-10 4-10 6-10 8-10 11-10 12-7 6-3 14-3 10 0 10 0 10 2 10 3 10 3 10 2 10 3 10 3 10 2 10 1 10 1 10 0 10 0 10-1 10-1 10-1 10 0 10 0 10 0 10 0 10 1 10 1 10 1 10 1 10 2 10 3 10 5 10 10 5 12 1 10-3 10-3 7-6 13-4 6-10 14-9 10-11 9-10 7-9 4-11 4-10 3-10 2-10 0-10 0-10 0-10-2-10-2-10-2-10-2-10-1-10 0-10 0-10 1-10 1-10 1-10 1-10 0-10 1-10 0-10-1-10-1zM1807 4514l-9-3-11-7-10-11-7-12-3-6-5-14-4-10-4-10-6-10-8-10-9-10-4-4-6-6-4-4-5-6-5-6-8-14-4-10-2-10 0-10 1-10 3-8 7-12 10-10 13-9 10-5 10-3 10-1 10-1 10-1 10 0 10-2 10-2 10-3 6-3 14-5 10-3 6-2 14-1 10 1 10 4 10 5 10 7 5 4 5 5 7 5 13 9 10 5 10 4 8 2 12 4 10 5 10 7 4 4 6 10 4 10 4 10 2 6 6 14 4 9 6 11 4 7 7 13 3 9 2 11-2 9-8 11-12 8-10 6-8 6-10 10-9 10-11 10-12 5-10 1-10-2-6-4-14-9-10-7-8-4-12-3-10 0-10 2-10 3-10 6-10 5-10 6-10 4-10 1-10-1zM1827 3893l-10-4-10-4-10-4-10-4-10-5-10-7-5-4-5-4-5-6-5-7-5-13-1-10 0-10 1-10 2-10 3-10 4-10 4-10 8-10 14-7 10-2 10 1 10 2 10 4 10 5 10 7 10 9 10 11 9 10 7 10 4 7 9 13 7 10 4 7 6 13-1 10-5 9-9 11-11 8-10 4-10 3-10 0-10-1-10-2zM1797 3667l-6-6-4-5-6-15-3-10-2-10-1-10 1-10 3-10 8-10 10-4 10-1 10 1 10 3 10 6 8 5 9 10 3 6 5 14-2 10-3 8-8 12-11 10-11 7-10 3-10 0-10-4z" fill="#443b84" fill-rule="evenodd"/>
<path d="M527 5271l10 0 10 0 10 0 10 0 10 0 10 0 10 0 10 0 10 0 10 0 10 0 10 0 10 0 10 0 10 0 10 0 10 0 10 0 10 0 10 0 10 0 10 0 10 0 10 0 10 0 10 0 10 0 10 0 10 0 10 0 10 0 10 0 10 0 10 0 10 0 10 0 10 0 10 0 10 0 10 0 10 0 10 0 10 0 10 0 10 0 10 0 10 0 10 0 10 0 10 0 10 0 10 0 10 0 10 0 10 0 10 0 10 0 10 0 10 0 10 0 10 0 10 0 10 0 10 0 10 0 10 0 10 0 10 0 10 0 10 0 10 0 10 0 10 0 10 0 10 0 10 0 10 0 10 0 10 0 10 0 10 0 10 0 10 0 10 0 10 0 10 0 10 0 10 0 10 0 10 0 10 0 10 0 10 0 10 0 10 0 10 0 10 0 10 0 10 0 10 0 10 0 10 0 10 0 10 0 10 0 10 0 10 0 10 0 10 0 10 0 10 0 10 0 10 0 10 0 10 0 10 0 10 0 10 0 10 0 10 0 10 0 10 0 10 0 10 0 10 0 10 0 10 0 10 0 10 0 10 0 10 0 10 0 10 0 10 0 10 0 10 0 10 0 10 0 10 0 10 0 10 0 10 0 10 0 10 0 10 0 10 0 10 0 10 0 10 0 10 0 10 0 10 0 10 0 10 0 10 0 10 0 10 0 10 0 10 0 10 0 10 0 10 0 10 0 10 0 10 0 10 0 10 0 10 0 10 0 10 0 10 0 10 0 10 0 10 0 10 0 10 0 10 0 10 0 10 0 10 0 10 0 10 0 10 0 10 0 10 0 10 0 10 0 10 0 10 0 10 0 10 0 10 0 10 0 10 0 10 0 10 0 10 0 10 0 10 0 10 0 10 0 10 0 10 0 10 0 10 0 10 0 10 0 10 0 10 0 10 0 10 0 10 0 10 0 10 0 10 0 10 0 10 0 10 0 10 0 10 0 10 0 10 0 10 0 10 0 10 0 10 0 10 0 10 0 0-10 0-10 0-10 0-10 0-10 0-10 0-10 0-10 0-10 0-10 0-10 0-10 0-10 0-10 0-10 0-10 0-10 0-10 0-10 0-10 0-10 0-10 0-10 0-10 0-10 0-10 0-10 0-10 0-10 0-10 0-10 0-10 0-10 0-10 0-10 0-10 0-10 0-10 0-10 0-10 0-10 0-10 0-10 0-10 0-10 0-10 0-10 0-10 0-10 0-10 0-10 0-10 0-10 0-10 0-10 0-10 0-10 0-10 0-10 0-10 0-10 0-10 0-10 0-10 0-10 0-10 0-10 0-10 0-10 0-10 0-10 0-10 0-10 0-10 0-10 0-10 0-10 0-10 0-10 0-10 0-10 0-10 0-10 0-10 0-10 0-10 0-10 0-10 0-10 0-10 0-10 0-10 0-10 0-10 0-10 0-10 0-10 0-10 0-10 0-10 0-10 0-10 0-10 0-10 0-10 0-10 0-10 0-10 0-10 0-10 0-10 0-10 0-10 0-10 0-10 0-10 0-10 0-10 0-10 0-10 0-10 0-10 0-10 0-10 0-10 0-10 0-10 0-10 0-10 0-10 0-10 0-10 0-10 0-10 0-10 0-10 0-10 0-10 0-10 0-10 0-10 0-10 0-10 0-10 0-10 0-10 0-10 0-10 0-10 0-10 0-10 0-10 0-10 0-10 0-10 0-10 0-10 0-10 0-10 0-10 0-10 0-10 0-10 0-10 0-10 0-10 0-10 0-10 0-10 0-10 0-10 0-10 0-10 0-10 0-10 0-10 0-10 0-10 0-10 0-10 0-10 0-10 0-10 0-10 0-10 0-10 0-10 0-10 0-10 0-10 0-10 0-10 0-10 0-10 0-10 0-10 0-10 0-10 0-10 0-10 0-10 0-10 0-10 0-10 0-10 0-10 0-10 0-10 0-10 0-10 0-10 0-10 0-10 0-10 0-10 0-10 0-10 0-10 0-10 0-10 0-10 0-10 0-10 0-10 0-10 0-10 0-10 0-10 0-10 0-10 0-10 0-10 0-10 0-10 0-10 0-10 0-10 0-10 0-10 0-10 0-10 0-10 0-10 0-10 0-10 0-10 0-10 0-10 0-10 0-10-10 0-10 0-10 0-10 0-10 0-10 0-10 0-10 0-10 0-10 0-10 0-10 0-10 0-10 0-10 0-10 0-10 0-10 0-10 0-10 0-10 0-10 0-10 0-10 0-10 0-10 0-10 0-10 0-10 0-10 0-10 0-10 0-10 0-10 0-10 0-10 0-10 0-10 0-10 0-10 0-10 0-10 0-10 0-10 0-10 0-10 0-10 0-10 0-10 0-10 0-10 0-10 0-10 0-10 0-10 0-10 0-10 0-10 0-10 0-10 0-10 0-10 0-10 0-10 0-10 0-10 0-10 0-10 0-10 0-10 0-10 0-10 0-10 0-10 0-10 0-10 0-10 0-10 0-10 0-10 0-10 0-10 0-10 0-10 0-10 0-10 0-10 0-10 0-10 0-10 0-10 0-10 0-10 0-10 0-10 0-10 0-10 0-10 0-10 0-10 0-10 0-10 0-10 0-10 0-10 0-10 0-10 0-10 0-10 0-10 0-10 0-10 0-10 0-10 0-10 0-10 0-10 0-10 0-10 0-10 0-10 0-10 0-10 0-10 0-10 0-10 0-10 0-10 0-10 0-10 0-10 0-10 0-10 0-10 0-10 0-10 0-10 0-10 0-10 0-10 0-10 0-10 0-10 0-10 0-10 0-10 0-10 0-10 0-10 0-10 0-10 0-10 0-10 0-10 0-10 0-10 0-10 0-10 0-10 0-10 0-10 0-10 0-10 0-10 0-10 0-10 0-10 0-10 0-10 0-10 0-10 0-10 0-10 0-10 0-10 0-10 0-10 0-10 0-10 0-10 0-10 0-10 0-10 0-10 0-10 0-10 0-10 0-10 0-10 0-10 0-10 0-10 0-10 0-10 0-10 0-10 0-10 0-10 0-10 0-10 0-10 0-10 0-10 0-10 0-10 0-10 0-10 0-10 0-10 0-10 0-10 0-10 0-10 0-10 0-10 0-10 0-10 0-10 0-10 0-10 0-10 0-10 0-10 0-10 0-10 0-10 0-10 0-10 0 0 10 0 10 0 10 0 10 0 10 0 10 0 10 0 10 0 10 0 10 0 10 0 10 0 10 0 10 0 10 0 10 0 10 0 10 0 10 0 10 0 10 0 10 0 10 0 10 0 10 0 10 0 10 0 10 0 10 0 10 0 10 0 10 0 10 0 10 0 10 0 10 0 10 0 10 0 10 0 10 0 10 0 10 0 10 0 10 0 10 0 10 0 10 0 10 0 10 0 10 0 10 0 10 0 10 0 10 0 10 0 10 0 10 0 10 0 10 0 10 0 10 0 10 0 10 0 10 0 10 0 10 0 10 0 10 0 10 0 10 0 10 0 10 0 10 0 10 0 10 0 10 0 10 0 10 0 10 0 10 0 10 0 10 0 10 0 10 0 10 0 10 0 10 0 10 0 10 0 10 0 10 0 10 0 10 0 10 0 10 0 10 0 10 0 10 0 10 0 10 0 10 0 10 0 10 0 10 0 10 0 10 0 10 0 10 0 10 0 10 0 10 0 10 0 10 0 10 0 10 0 10 0 10 0 10 0 10 0 10 0 10 0 10 0 10 0 10 0 10 0 10 0 10 0 10 0 10 0 10 0 10 0 10 0 10 0 10 0 10 0 10 0 10 0 10 0 10 0 10 0 10 0 10 0 10 0 10 0 10 0 10 0 10 0 10 0 10 0 10 0 10 0 10 0 10 0 10 0 10 0 10 0 10 0 10 0 10 0 10 0 10 0 10 0 10 0 10 0 10 0 10 0 10 0 10 0 10 0 10 0 10 0 10 0 10 0 10 0 10 0 10 0 10 0 10 0 10 0 10 0 10 0 10 0 10 0 10 0 10 0 10 0 10 0 10 0 10 0 10 0 10 0 10 0 10 0 10 0 10 0 10 0 10 0 10 0 10 0 10 0 10 0 10 0 10 0 10 0 10 0 10 0 10 0 10 0 10 0 10 0 10 0 10 0 10 0 10 0 10 0 10 0 10 0 10 0 10 0 10 0 10 0 10 0 10 0 10 0 10 0 10 0 10 0 10 0 10 0 10 0 10 0 10 0 10 0 10 0 10 0 10 0 10 0 10 0 10 0 10 0 10 0 10 0 10 0 10 0 10 0 10 0 10 0 10 0 10 0 10zM1777 4803l-10-4-10-5-10-7-5-6-5-6-7-14-2-10 0-10 1-10 1-10 0-10-1-10-2-8-7-12-8-10-5-5-4-5-6-8-6-12-1-10 0-10 1-10 2-10 4-10 5-10 5-8 8-12 5-10 3-10-1-10-3-10-5-10-7-7-10-2-9 9-6 10-5 8-5 12-5 8-7 12-9 10-4 4-10 6-10 3-10 0-10-3-10-5-7-5-10-10-7-10-6-9-5-11-4-10-3-10-2-10-1-10 0-10 0-10 1-10 2-10 2-8 4-12 4-10 2-6 6-14 4-10 4-10 2-10 0-10-2-10-3-10-3-10-4-10-3-10-3-10-3-10-5-7-10-10-10-6-10-5-10-4-10-6-10-7-6-5-4-4-5-6-5-6-8-14-4-10-3-10-1-10-1-10-1-10-1-10-1-8-4-12-6-9-10-9-10-6-9-6-11-5-10-4-10-3-10-3-10-4-10-5-10-6-10-8-10-11-7-11-3-5-7-15-3-8-5-12-5-10-7-10-10-10-13-8-10-7-7-5-10-10-7-10-4-10-2-9 0-11 1-10 3-10 2-10 2-10 2-10 0-10-1-10-2-10-2-10-2-10-2-10-2-10-1-10 0-10 0-10 0-10-1-10-1-10-3-10-3-8-5-12-3-10-4-10-4-10-3-10-4-10-5-10-7-10-5-4-10-5-10-3-10-2-10-4-10-4-10-7-10-7-4-4-6-5-5-5-5-4-8-6-12-7-10-6-8-7-8-10-4-4-3-6-4-10-3-8-2-12-1-10-1-10 0-10 2-10 1-10 2-10 3-10 3-10 2-10 1-9 2-11 1-10 1-10 0-10 0-10-1-10-1-10-2-10 2-10 8-7 10 1 10 5 10 8 10 9 5 4 5 6 5 4 5 7 8 13 0 10-2 10-1 10-1 10 1 10 1 10 3 10 1 7 4 13 3 10 2 10 4 10 4 10 3 6 4 4 6 5 9 5 11 5 10 4 10 4 10 1 10 0 10-3 10-3 10-3 10-3 9-2 11-2 10-1 10-2 10-2 8-3 12-6 6-4 12-10 12-10 10-8 10-8 5-4 5-5 6-5 4-5 4-5 6-10 6-10 4-5 3-5 7-7 10-8 10-5 10-2 10 0 10 2 10 5 8 5 12 9 10 5 10 1 10-2 10-2 10-3 10-2 10-2 10-1 10 1 10 2 10 3 10 5 10 6 10 8 10 8 9 4 11-3 2-7-2-10-3-10-4-10-3-6-6-14-3-10-3-10-2-10-1-10 2-10 3-7 10-11 10-6 10-3 10-1 10 0 10 1 10 1 10 1 10 2 10 2 7 1 13 6 7 4 8 10 5 10 2 10 1 10 0 10 0 10-1 10-2 10-2 10-4 10-4 8-8 12-7 10-5 8-4 12 3 10 5 10 6 10 9 10 11 10 10 6 9 4 11 5 10 4 10 4 10 5 10 5 10 5 10 5 10 5 10 5 10 4 8 3 12 6 9 4 11 7 5 3 5 5 7 5 3 5 5 5 4 10 1 10-3 10-7 10-8 10-10 10-12 10-10 7-10 8-6 5-4 5-5 5-5 10-1 10 5 10 6 6 8 4 12 2 10-1 10-1 10 0 10 1 10 3 10 4 10 7 6 5 4 4 4 6 6 10 3 10 3 10 1 10 0 10-1 10-2 10-2 10-3 10-4 10-4 10-6 10-5 8-10 12-10 9-10 8-10 7-7 6-9 10-4 8-3 12 0 10 0 10 0 10 0 10-1 10-1 10-1 10 0 10 2 10 4 9 9 11 9 10 9 10 10 10 3 6 5 4 5 10 1 10-3 10-4 10-4 8-5 12-4 10-4 10-2 10 3 10 12 9 10 3 10 2 10 1 10 3 6 2 14 7 10 8 5 5 5 7 8 13 2 8 4 12 1 10 1 10 1 10 1 10 2 10 3 10 4 10 3 6 9 14 6 10 5 10 5 10 5 10 3 10 3 10 2 10 1 10 0 10-1 10-2 10-3 10-3 8-6 12-4 9-3 11 0 10 3 10 3 10 1 10 0 10-1 10-2 10-4 10-5 10-7 10-5 7-10 9-6 4-14 6-10 2-10 1-10-2-10-6-10-9-8-12-6-10-4-10-9-10-13 6-3 14-1 10-1 10-1 10-1 10 0 10 0 10 3 10 4 10 10 10 10 10 6 10 0 10-3 10-10 10-13 8-10 5-10 3-10 2-10 0-10 0-10 0-10 0-10 1-7 1-13 3-10 2-10 1-10 2-10 1-10 0-10 0-10-2-10-2-10-3zM1157 3341l-4-10 4-8 10-6 10 0 7 4 2 10-7 10-12 3-10-3zM1517 3282l-8-11-2-8 1-12 6-10 13-9 10-2 7 1 13 7 8 13 2 10-3 10-7 10-10 5-10 2-10-1-10-5zM2047 4174l-6-3-14-7-10-8-5-5-5-6-5-4-4-10 2-10 4-10 6-10 6-10 6-10 5-7 9-13 3-10 1-10-1-10-2-6-3-14-2-10-1-10 1-10 1-10 4-10 5-10 5-6 5-4 5-3 10-5 8-2 12-1 10 1 10 3 10 3 7 4 13 9 10 10 9 11 4 10 3 10 0 10-1 10-3 10-5 10-7 9-9 11-9 10-6 10-2 10 1 10 2 10 2 10 3 10 1 10-1 10-6 10-6 6-5 4-5 3-10 5-6 2-14 4-10 1-10 0-10-2zM1697 4011l10 4 10 1 10 1 10 0 10 0 10-1 10-5 7-10 3-8 3-12 1-10 0-10-3-10-8-10-13-9-10-5-10-5-10-4-10-4-7-3-13-2-8 12-2 9 0 11-1 10-1 10-1 10 0 10 0 10 3 10 10 10z" fill="#3e4a89" fill-rule="evenodd"/>
<path d="M527 5271l10 0 10 0 10 0 10 0 10 0 10 0 10 0 10 0 10 0 10 0 10 0 10 0 10 0 10 0 10 0 10 0 10 0 10 0 10 0 10 0 10 0 10 0 10 0 10 0 10 0 10 0 10 0 10 0 10 0 10 0 10 0 10 0 10 0 10 0 10 0 10 0 10 0 10 0 10 0 10 0 10 0 10 0 10 0 10 0 10 0 10 0 10 0 10 0 10 0 10 0 10 0 10 0 10 0 10 0 10 0 10 0 10 0 10 0 10 0 10 0 10 0 10 0 10 0 10 0 10 0 10 0 10 0 10 0 10 0 10 0 10 0 10 0 10 0 10 0 10 0 10 0 10 0 10 0 10 0 10 0 10 0 10 0 10 0 10 0 10 0 10 0 10 0 10 0 10 0 10 0 10 0 10 0 10 0 10 0 10 0 10 0 10 0 10 0 10 0 10 0 10 0 10 0 10 0 10 0 10 0 10 0 10 0 10 0 10 0 10 0 10 0 10 0 10 0 10 0 10 0 10 0 10 0 10 0 10 0 10 0 10 0 10 0 10 0 10 0 10 0 10 0 10 0 10 0 10 0 10 0 10 0 10 0 10 0 10 0 10 0 10 0 10 0 10 0 10 0 10 0 10 0 10 0 10 0 10 0 10 0 10 0 10 0 10 0 10 0 10 0 10 0 10 0 10 0 10 0 10 0 10 0 10 0 10 0 10 0 10 0 10 0 10 0 10 0 10 0 10 0 10 0 10 0 10 0 10 0 10 0 10 0 10 0 10 0 10 0 10 0 10 0 10 0 10 0 10 0 10 0 10 0 10 0 10 0 10 0 10 0 10 0 10 0 10 0 10 0 10 0 10 0 10 0 10 0 10 0 10 0 10 0 10 0 10 0 10 0 10 0 10 0 10 0 10 0 10 0 10 0 10 0 10 0 10 0 10 0 10 0 10 0 10 0 10 0 10 0 10 0 10 0 10 0 10 0 10 0 10 0 10 0 10 0 10 0 10 0 10 0 10 0 10 0 10 0 0-10 0-10 0-10 0-10 0-10 0-10 0-10 0-10 0-10 0-10 0-10 0-10 0-10 0-10 0-10 0-10 0-10 0-10 0-10 0-10 0-10 0-10 0-10 0-10 0-10 0-10 0-10 0-10 0-10 0-10 0-10 0-10 0-10 0-10 0-10 0-10 0-10 0-10 0-10 0-10 0-10 0-10 0-10 0-10 0-10 0-10 0-10 0-10 0-10 0-10 0-10 0-10 0-10 0-10 0-10 0-10 0-10 0-10 0-10 0-10 0-10 0-10 0-10 0-10 0-10 0-10 0-10 0-10 0-10 0-10 0-10 0-10 0-10 0-10 0-10 0-10 0-10 0-10 0-10 0-10 0-10 0-10 0-10 0-10 0-10 0-10 0-10 0-10 0-10 0-10 0-10 0-10 0-10 0-10 0-10 0-10 0-10 0-10 0-10 0-10 0-10 0-10 0-10 0-10 0-10 0-10 0-10 0-10 0-10 0-10 0-10 0-10 0-10 0-10 0-10 0-10 0-10 0-10 0-10 0-10 0-10 0-10 0-10 0-10 0-10 0-10 0-10 0-10 0-10 0-10 0-10 0-10 0-10 0-10 0-10 0-10 0-10 0-10 0-10 0-10 0-10 0-10 0-10 0-10 0-10 0-10 0-10 0-10 0-10 0-10 0-10 0-10 0-10 0-10 0-10 0-10 0-10 0-10 0-10 0-10 0-10 0-10 0-10 0-10 0-10 0-10 0-10 0-10 0-10 0-10 0-10 0-10 0-10 0-10 0-10 0-10 0-10 0-10 0-10 0-10 0-10 0-10 0-10 0-10 0-10 0-10 0-10 0-10 0-10 0-10 0-10 0-10 0-10 0-10 0-10 0-10 0-10 0-10 0-10 0-10 0-10 0-10 0-10 0-10 0-10 0-10 0-10 0-10 0-10 0-10 0-10 0-10 0-10 0-10 0-10 0-10 0-10 0-10 0-10 0-10 0-10 0-10 0-10 0-10 0-10 0-10 0-10 0-10 0-10 0-10 0-10 0-10 0-10 0-10 0-10 0-10 0-10 0-10 0-10 0-10 0-10 0-10 0-10 0-10 0-10 0-10 0-10 0-10 0-10 0-10-10 0-10 0-10 0-10 0-10 0-10 0-10 0-10 0-10 0-10 0-10 0-10 0-10 0-10 0-10 0-10 0-10 0-10 0-10 0-10 0-10 0-10 0-10 0-10 0-10 0-10 0-10 0-10 0-10 0-10 0-10 0-10 0-10 0-10 0-10 0-10 0-10 0-10 0-10 0-10 0-10 0-10 0-10 0-10 0-10 0-10 0-10 0-10 0-10 0-10 0-10 0-10 0-10 0-10 0-10 0-10 0-10 0-10 0-10 0-10 0-10 0-10 0-10 0-10 0-10 0-10 0-10 0-10 0-10 0-10 0-10 0-10 0-10 0-10 0-10 0-10 0-10 0-10 0-10 0-10 0-10 0-10 0-10 0-10 0-10 0-10 0-10 0-10 0-10 0-10 0-10 0-10 0-10 0-10 0-10 0-10 0-10 0-10 0-10 0-10 0-10 0-10 0-10 0-10 0-10 0-10 0-10 0-10 0-10 0-10 0-10 0-10 0-10 0-10 0-10 0-10 0-10 0-10 0-10 0-10 0-10 0-10 0-10 0-10 0-10 0-10 0-10 0-10 0-10 0-10 0-10 0-10 0-10 0-10 0-10 0-10 0-10 0-10 0-10 0-10 0-10 0-10 0-10 0-10 0-10 0-10 0-10 0-10 0-10 0-10 0-10 0-10 0-10 0-10 0-10 0-10 0-10 0-10 0-10 0-10 0-10 0-10 0-10 0-10 0-10 0-10 0-10 0-10 0-10 0-10 0-10 0-10 0-10 0-10 0-10 0-10 0-10 0-10 0-10 0-10 0-10 0-10 0-10 0-10 0-10 0-10 0-10 0-10 0-10 0-10 0-10 0-10 0-10 0-10 0-10 0-10 0-10 0-10 0-10 0-10 0-10 0-10 0-10 0-10 0-10 0-10 0-10 0-10 0-10 0-10 0-10 0-10 0-10 0-10 0-10 0-10 0-10 0-10 0-10 0-10 0-10 0-10 0-10 0-10 0-10 0-10 0-10 0-10 0 0 10 0 10 0 10 0 10 0 10 0 10 0 10 0 10 0 10 0 10 0 10 0 10 0 10 0 10 0 10 0 10 0 10 0 10 0 10 0 10 0 10 0 10 0 10 0 10 0 10 0 10 0 10 0 10 0 10 0 10 0 10 0 10 0 10 0 10 0 10 0 10 0 10 0 10 0 10 0 10 0 10 0 10 0 10 0 10 0 10 0 10 0 10 0 10 0 10 0 10 0 10 0 10 0 10 0 10 0 10 0 10 0 10 0 10 0 10 0 10 0 10 0 10 0 10 0 10 0 10 0 10 0 10 0 10 0 10 0 10 0 10 0 10 0 10 0 10 0 10 0 10 0 10 0 10 0 10 0 10 0 10 0 10 0 10 0 10 0 10 0 10 0 10 0 10 0 10 0 10 0 10 0 10 0 10 0 10 0 10 0 10 0 10 0 10 0 10 0 10 0 10 0 10 0 10 0 10 0 10 0 10 0 10 0 10 0 10 0 10 0 10 0 10 0 10 0 10 0 10 0 10 0 10 0 10 0 10 0 10 0 10 0 10 0 10 0 10 0 10 0 10 0 10 0 10 0 10 0 10 0 10 0 10 0 10 0 10 0 10 0 10 0 10 0 10 0 10 0 10 0 10 0 10 0 10 0 10 0 10 0 10 0 10 0 10 0 10 0 10 0 10 0 10 0 10 0 10 0 10 0 10 0 10 0 10 0 10 0 10 0 10 0 10 0 10 0 10 0 10 0 10 0 10 0 10 0 10 0 10 0 10 0 10 0 10 0 10 0 10 0 10 0 10 0 10 0 10 0 10 0 10 0 10 0 10 0 10 0 10 0 10 0 10 0 10 0 10 0 10 0 10 0 10 0 10 0 10 0 10 0 10 0 10 0 10 0 10 0 10 0 10 0 10 0 10 0 10 0 10 0 10 0 10 0 10 0 10 0 10 0 10 0 10 0 10 0 10 0 10 0 10 0 10 0 10 0 10 0 10 0 10 0 10 0 10 0 10 0 10 0 10 0 10 0 10 0 10 0 10 0 10 0 10 0 10 0 10 0 10 0 10 0 10 0 10 0 10 0 10 0 10 0 10 0 10 0 10 0 10 0 10 0 10 0 10 0 10 0 10zM1797 4842l-10-2-10-3-10-3-10-3-10-3-10-5-10-6-9-6-11-9-9-11-7-10-4-5-3-5-5-10-7-10-5-6-10-10-10-9-5-5-5-4-6-6-10-10-4-5-3-5-6-10-4-10-4-10-3-7-5-13-5-8-7-12-7-10-6-7-8-13-7-10-5-9-5-11-5-10-4-10-3-10-3-8-3-12-2-10-2-10-1-10-2-10-1-10 0-10-1-10 0-10-1-10-1-10-1-10-2-10-3-9-3-11-4-10-3-6-6-14-4-6-7-14-6-10-7-10-7-10-7-10-6-7-9-13-8-10-9-10-4-5-5-5-5-6-4-4-6-6-10-10-4-4-6-5-5-5-5-5-4-5-6-8-6-12-4-5-3-5-7-9-9-11-9-10-9-10-9-10-4-4-4-6-6-7-8-13-7-10-5-8-7-12-7-10-6-7-10-12-10-11-9-10-9-10-8-10-4-6-8-14-5-10-4-10-3-8-3-12-2-10-3-10-2-9-2-11-2-10-2-10-2-10-3-10-3-10-4-10-4-10-4-10-4-8-4-12-4-10-3-10-4-10-4-10-3-10-4-10-4-9-4-11-4-10-5-10-5-10-6-10-6-8-8-12-9-10-10-10-9-10-9-10-5-5-3-5-7-9-6-11-4-8-4-12-3-10-2-10-1-10-2-10-1-10-1-10 0-10 0-10 1-10 0-10 1-10 1-10 1-10 0-10 0-10 0-10-1-10-1-10-1-10-2-10-3-10-3-10-3-10-3-10-3-10 0-10 2-10 5-10 10-10 13-7 6-3 14-4 10-2 10-1 10 1 10 1 10 2 10 3 10 3 10 3 10 2 10 2 9 0 11 1 10 0 10 1 10 1 10 2 10 3 10 5 10 6 10 8 10 9 4 4 6 8 9 12 7 10 4 6 4 4 6 8 10 9 10 8 10 4 10 3 10 1 10-2 10-3 10-3 9-5 11-5 7-5 13-7 10-7 10-6 10-7 10-9 4-4 6-10 4-10 4-10 2-7 5-13 5-10 6-10 4-6 10-11 10-8 9-5 11-5 10-3 10-1 10-1 10 2 10 2 10 4 10 5 10 6 10 7 8 4 12 6 10 3 7 1 13 2 10 1 10 1 10 1 10 1 10 1 10 2 10 1 10 1 10 2 10 1 10 2 10 2 6 2 14 7 5 3 5 4 7 6 9 10 4 7 7 13 3 8 4 12 3 10 3 10 3 10 3 10 3 10 5 10 5 10 6 10 5 7 10 13 7 10 8 10 5 6 4 4 6 8 10 12 8 10 8 10 4 4 5 6 5 5 5 5 5 5 6 5 13 10 11 7 5 3 5 3 10 6 10 7 6 4 4 4 7 6 8 10 5 8 6 12 2 10 2 10 0 10-1 10-1 10-2 10-2 10-1 10-1 10 0 10 2 10 2 10 3 10 3 10 3 10 3 10 2 8 4 12 2 10 2 10 2 9 3 11 2 10 3 10 2 6 7 14 3 6 10 13 10 11 10 9 10 10 10 10 10 10 9 11 7 10 4 7 7 13 3 10 2 10 1 10 1 10-1 10-1 10-2 10-2 10-1 10 0 10 1 10 2 6 7 14 3 6 7 14 3 7 4 13 2 10 0 10-1 10-2 10-3 10-4 10-6 10-6 10-4 6-9 14-6 10-3 10-2 8-1 12-1 10 0 10 0 10 1 10 1 10 0 10 0 10-2 10-2 10-2 10-1 10-2 10 0 10 0 10 0 10 0 10 1 10 0 10 0 10 0 10 1 10 0 10 1 10 1 10 1 10 1 10 1 10 0 10-1 10-2 10-4 10-5 10-5 10-7 10-4 7-8 13-6 10-6 8-8 12-8 10-4 5-5 5-5 6-5 4-5 5-5 5-5 5-4 5-6 8-6 12-4 8-5 12-4 10-5 10-6 9-9 11-11 10-10 6-6 4-14 7-6 3-14 7-10 3-10 3-10 2-10 1-10 1-10 0-10-1-10 0-10 0-10 0-10-1-10 0-10-1-10 0-10-1-10-1-10-1z" fill="#38598c" fill-rule="evenodd"/>
<path d="M527 5271l10 0 10 0 10 0 10 0 10 0 10 0 10 0 10 0 10 0 10 0 10 0 10 0 10 0 10 0 10 0 10 0 10 0 10 0 10 0 10 0 10 0 10 0 10 0 10 0 10 0 10 0 10 0 10 0 10 0 10 0 10 0 10 0 10 0 10 0 10 0 10 0 10 0 10 0 10 0 10 0 10 0 10 0 10 0 10 0 10 0 10 0 10 0 10 0 10 0 10 0 10 0 10 0 10 0 10 0 10 0 10 0 10 0 10 0 10 0 10 0 10 0 10 0 10 0 10 0 10 0 10 0 10 0 10 0 10 0 10 0 10 0 10 0 10 0 10 0 10 0 10 0 10 0 10 0 10 0 10 0 10 0 10 0 10 0 10 0 10 0 10 0 10 0 10 0 10 0 10 0 10 0 10 0 10 0 10 0 10 0 10 0 10 0 10 0 10 0 10 0 10 0 10 0 10 0 10 0 10 0 10 0 10 0 10 0 10 0 10 0 10 0 10 0 10 0 10 0 10 0 10 0 10 0 10 0 10 0 10 0 10 0 10 0 10 0 10 0 10 0 10 0 10 0 10 0 10 0 10 0 10 0 10 0 10 0 10 0 10 0 10 0 10 0 10 0 10 0 10 0 10 0 10 0 10 0 10 0 10 0 10 0 10 0 10 0 10 0 10 0 10 0 10 0 10 0 10 0 10 0 10 0 10 0 10 0 10 0 10 0 10 0 10 0 10 0 10 0 10 0 10 0 10 0 10 0 10 0 10 0 10 0 10 0 10 0 10 0 10 0 10 0 10 0 10 0 10 0 10 0 10 0 10 0 10 0 10 0 10 0 10 0 10 0 10 0 10 0 10 0 10 0 10 0 10 0 10 0 10 0 10 0 10 0 10 0 10 0 10 0 10 0 10 0 10 0 10 0 10 0 10 0 10 0 10 0 10 0 10 0 10 0 10 0 10 0 10 0 10 0 10 0 10 0 10 0 10 0 10 0 10 0 10 0 10 0 10 0 10 0 10 0 10 0 10 0 0-10 0-10 0-10 0-10 0-10 0-10 0-10 0-10 0-10 0-10 0-10 0-10 0-10 0-10 0-10 0-10 0-10 0-10 0-10 0-10 0-10 0-10 0-10 0-10 0-10 0-10 0-10 0-10 0-10 0-10 0-10 0-10 0-10 0-10 0-10 0-10 0-10 0-10 0-10 0-10 0-10 0-10 0-10 0-10 0-10 0-10 0-10 0-10 0-10 0-10 0-10 0-10 0-10 0-10 0-10 0-10 0-10 0-10 0-10 0-10 0-10 0-10 0-10 0-10 0-10 0-10 0-10 0-10 0-10 0-10 0-10 0-10 0-10 0-10 0-10 0-10 0-10 0-10 0-10 0-10 0-10 0-10 0-10 0-10 0-10 0-10 0-10 0-10 0-10 0-10 0-10 0-10 0-10 0-10 0-10 0-10 0-10 0-10 0-10 0-10 0-10 0-10 0-10 0-10 0-10 0-10 0-10 0-10 0-10 0-10 0-10 0-10 0-10 0-10 0-10 0-10 0-10 0-10 0-10 0-10 0-10 0-10 0-10 0-10 0-10 0-10 0-10 0-10 0-10 0-10 0-10 0-10 0-10 0-10 0-10 0-10 0-10 0-10 0-10 0-10 0-10 0-10 0-10 0-10 0-10 0-10 0-10 0-10 0-10 0-10 0-10 0-10 0-10 0-10 0-10 0-10 0-10 0-10 0-10 0-10 0-10 0-10 0-10 0-10 0-10 0-10 0-10 0-10 0-10 0-10 0-10 0-10 0-10 0-10 0-10 0-10 0-10 0-10 0-10 0-10 0-10 0-10 0-10 0-10 0-10 0-10 0-10 0-10 0-10 0-10 0-10 0-10 0-10 0-10 0-10 0-10 0-10 0-10 0-10 0-10 0-10 0-10 0-10 0-10 0-10 0-10 0-10 0-10 0-10 0-10 0-10 0-10 0-10 0-10 0-10 0-10 0-10 0-10 0-10 0-10 0-10 0-10 0-10 0-10 0-10 0-10 0-10 0-10 0-10 0-10 0-10 0-10 0-10 0-10 0-10 0-10 0-10 0-10 0-10 0-10 0-10 0-10 0-10 0-10 0-10 0-10 0-10 0-10 0-10 0-10-10 0-10 0-10 0-10 0-10 0-10 0-10 0-10 0-10 0-10 0-10 0-10 0-10 0-10 0-10 0-10 0-10 0-10 0-10 0-10 0-10 0-10 0-10 0-10 0-10 0-10 0-10 0-10 0-10 0-10 0-10 0-10 0-10 0-10 0-10 0-10 0-10 0-10 0-10 0-10 0-10 0-10 0-10 0-10 0-10 0-10 0-10 0-10 0-10 0-10 0-10 0-10 0-10 0-10 0-10 0-10 0-10 0-10 0-10 0-10 0-10 0-10 0-10 0-10 0-10 0-10 0-10 0-10 0-10 0-10 0-10 0-10 0-10 0-10 0-10 0-10 0-10 0-10 0-10 0-10 0-10 0-10 0-10 0-10 0-10 0-10 0-10 0-10 0-10 0-10 0-10 0-10 0-10 0-10 0-10 0-10 0-10 0-10 0-10 0-10 0-10 0-10 0-10 0-10 0-10 0-10 0-10 0-10 0-10 0-10 0-10 0-10 0-10 0-10 0-10 0-10 0-10 0-10 0-10 0-10 0-10 0-10 0-10 0-10 0-10 0-10 0-10 0-10 0-10 0-10 0-10 0-10 0-10 0-10 0-10 0-10 0-10 0-10 0-10 0-10 0-10 0-10 0-10 0-10 0-10 0-10 0-10 0-10 0-10 0-10 0-10 0-10 0-10 0-10 0-10 0-10 0-10 0-10 0-10 0-10 0-10 0-10 0-10 0-10 0-10 0-10 0-10 0-10 0-10 0-10 0-10 0-10 0-10 0-10 0-10 0-10 0-10 0-10 0-10 0-10 0-10 0-10 0-10 0-10 0-10 0-10 0-10 0-10 0-10 0-10 0-10 0-10 0-10 0-10 0-10 0-10 0-10 0-10 0-10 0-10 0-10 0-10 0-10 0-10 0-10 0-10 0-10 0-10 0-10 0-10 0-10 0-10 0-10 0-10 0-10 0-10 0-10 0-10 0-10 0-10 0-10 0-10 0-10 0-10 0-10 0-10 0-10 0-10 0 0 10 0 10 0 10 0 10 0 10 0 10 0 10 0 10 0 10 0 10 0 10 0 10 0 10 0 10 0 10 0 10 0 10 0 10 0 10 0 10 0 10 0 10 0 10 0 10 0 10 0 10 0 10 0 10 0 10 0 10 0 10 0 10 0 10 0 10 0 10 0 10 0 10 0 10 0 10 0 10 0 10 0 10 0 10 0 10 0 10 0 10 0 10 0 10 0 10 0 10 0 10 0 10 0 10 0 10 0 10 0 10 0 10 0 10 0 10 0 10 0 10 0 10 0 10 0 10 0 10 0 10 0 10 0 10 0 10 0 10 0 10 0 10 0 10 0 10 0 10 0 10 0 10 0 10 0 10 0 10 0 10 0 10 0 10 0 10 0 10 0 10 0 10 0 10 0 10 0 10 0 10 0 10 0 10 0 10 0 10 0 10 0 10 0 10 0 10 0 10 0 10 0 10 0 10 0 10 0 10 0 10 0 10 0 10 0 10 0 10 0 10 0 10 0 10 0 10 0 10 0 10 0 10 0 10 0 10 0 10 0 10 0 10 0 10 0 10 0 10 0 10 0 10 0 10 0 10 0 10 0 10 0 10 0 10 0 10 0 10 0 10 0 10 0 10 0 10 0 10 0 10 0 10 0 10 0 10 0 10 0 10 0 10 0 10 0 10 0 10 0 10 0 10 0 10 0 10 0 10 0 10 0 10 0 10 0 10 0 10 0 10 0 10 0 10 0 10 0 10 0 10 0 10 0 10 0 10 0 10 0 10 0 10 0 10 0 10 0 10 0 10 0 10 0 10 0 10 0 10 0 10 0 10 0 10 0 10 0 10 0 10 0 10 0 10 0 10 0 10 0 10 0 10 0 10 0 10 0 10 0 10 0 10 0 10 0 10 0 10 0 10 0 10 0 10 0 10 0 10 0 10 0 10 0 10 0 10 0 10 0 10 0 10 0 10 0 10 0 10 0 10 0 10 0 10 0 10 0 10 0 10 0 10 0 10 0 10 0 10 0 10 0 10 0 10 0 10 0 10 0 10 0 10 0 10 0 10 0 10 0 10 0 10 0 10 0 10 0 10 0 10 0 10 0 10 0 10 0 10 0 10 0 10 0 10 0 10 0 10zM1827 4881l-10-2-10-2-10-2-10-3-10-3-10-4-10-3-10-4-10-4-6-3-14-7-10-7-7-6-12-10-10-10-9-10-8-10-4-5-3-5-7-8-10-12-9-10-9-10-10-10-9-10-7-10-6-8-6-12-4-7-6-13-4-7-6-13-4-7-6-13-4-6-8-14-6-10-5-10-5-10-5-10-5-10-4-10-4-10-4-10-3-10-4-10-4-10-3-8-4-12-4-10-4-10-3-10-4-10-5-10-4-10-4-10-5-10-3-7-6-13-4-7-6-13-4-6-7-14-3-5-8-15-6-10-6-7-10-11-10-9-10-7-10-6-10-6-6-4-14-9-10-9-10-11-7-11-3-5-6-15-4-10-4-10-4-10-5-10-5-10-6-10-6-8-8-12-7-10-5-7-9-13-6-10-5-6-9-14-6-10-5-7-7-13-7-10-6-9-6-11-4-5-3-5-6-10-6-10-5-9-5-11-5-9-5-11-5-9-5-11-5-10-4-10-4-10-4-10-3-10-4-10-5-10-4-10-4-10-5-10-3-6-5-14-4-10-3-10-4-10-4-10-3-10-4-10-3-8-4-12-3-10-3-9-3-11-3-10-4-9-4-11-5-10-4-10-5-10-5-10-5-10-5-10-4-10-3-7-4-13-3-10-3-10-1-10-2-10-1-10-1-10-1-10-1-10 0-10 0-10 0-10 0-10 0-10 0-10 0-10-1-10-1-10-1-8-1-12-2-10-2-10-3-10-4-10-3-10-3-10-2-6-3-14-1-10 0-10 2-10 4-10 7-10 11-10 10-6 8-4 12-5 10-4 10-3 10-3 10-2 10-1 10-1 10 0 10 0 10 0 10 1 10 1 10 2 10 1 10 1 10 2 10 1 10 2 10 2 10 3 10 3 10 3 10 5 10 5 10 6 10 7 6 4 4 4 9 6 11 9 10 7 6 4 14 9 10 5 10 5 7 1 13 2 10-2 10-2 10-5 5-3 5-3 10-7 10-9 9-11 8-10 7-10 6-8 9-12 9-10 9-10 12-10 11-7 6-3 14-6 10-4 10-2 10-1 10-1 10 0 10 1 10 2 10 2 10 3 10 3 10 3 10 3 10 2 10 3 10 2 10 2 10 2 10 3 10 2 10 2 10 2 10 2 10 3 10 2 10 2 10 2 10 3 9 3 11 5 10 5 10 7 5 3 5 5 7 5 10 10 8 10 5 7 10 13 7 10 3 6 10 14 8 10 8 10 4 6 4 4 6 8 10 11 10 11 7 10 8 10 5 6 4 4 6 9 9 11 7 10 4 6 10 14 6 10 4 6 10 14 7 10 9 10 4 5 5 5 5 6 4 4 6 7 10 13 8 10 6 10 5 10 5 10 4 10 2 9 3 11 3 10 2 10 2 10 2 10 2 10 2 10 3 10 3 10 2 10 3 10 3 10 3 10 2 10 3 10 2 8 4 12 2 10 4 10 2 10 3 10 3 10 2 6 5 14 3 10 5 10 4 10 3 6 8 14 6 10 6 10 6 10 4 8 6 12 4 9 4 11 3 10 2 10 1 7 2 13 1 10 0 10 1 10 1 10 1 10 2 10 2 10 3 10 3 10 3 10 3 10 2 10 2 10 0 10 1 10-1 10-1 10-1 10-1 10-2 10-2 10-2 10-2 10-1 10-1 10 1 10 1 10 3 10 2 9 4 11 3 10 3 10 2 10 1 10 0 10-2 10-3 10-6 10-6 10-6 9-7 11-3 5-3 5-4 10-3 8-3 12-2 10-1 10-1 10-1 10-1 10 0 10 1 10 0 10-1 10 0 10-2 10-2 10-3 10-4 10-5 10-5 9-8 11-6 10-6 8-8 12-8 10-4 6-10 14-6 10-4 5-4 5-6 8-9 12-7 10-4 7-7 13-3 5-3 5-6 10-6 10-5 7-10 13-10 10-10 9-10 7-6 4-14 9-10 6-8 5-12 7-6 3-14 6-10 4-10 2-10 1-10 1-10 1-10 1-10 0-10 0-10 0-10-1-10-1-10-2-10-2z" fill="#31668e" fill-rule="evenodd"/>
<path d="M527 5271l10 0 10 0 10 0 10 0 10 0 10 0 10 0 10 0 10 0 10 0 10 0 10 0 10 0 10 0 10 0 10 0 10 0 10 0 10 0 10 0 10 0 10 0 10 0 10 0 10 0 10 0 10 0 10 0 10 0 10 0 10 0 10 0 10 0 10 0 10 0 10 0 10 0 10 0 10 0 10 0 10 0 10 0 10 0 10 0 10 0 10 0 10 0 10 0 10 0 10 0 10 0 10 0 10 0 10 0 10 0 10 0 10 0 10 0 10 0 10 0 10 0 10 0 10 0 10 0 10 0 10 0 10 0 10 0 10 0 10 0 10 0 10 0 10 0 10 0 10 0 10 0 10 0 10 0 10 0 10 0 10 0 10 0 10 0 10 0 10 0 10 0 10 0 10 0 10 0 10 0 10 0 10 0 10 0 10 0 10 0 10 0 10 0 10 0 10 0 10 0 10 0 10 0 10 0 10 0 10 0 10 0 10 0 10 0 10 0 10 0 10 0 10 0 10 0 10 0 10 0 10 0 10 0 10 0 10 0 10 0 10 0 10 0 10 0 10 0 10 0 10 0 10 0 10 0 10 0 10 0 10 0 10 0 10 0 10 0 10 0 10 0 10 0 10 0 10 0 10 0 10 0 10 0 10 0 10 0 10 0 10 0 10 0 10 0 10 0 10 0 10 0 10 0 10 0 10 0 10 0 10 0 10 0 10 0 10 0 10 0 10 0 10 0 10 0 10 0 10 0 10 0 10 0 10 0 10 0 10 0 10 0 10 0 10 0 10 0 10 0 10 0 10 0 10 0 10 0 10 0 10 0 10 0 10 0 10 0 10 0 10 0 10 0 10 0 10 0 10 0 10 0 10 0 10 0 10 0 10 0 10 0 10 0 10 0 10 0 10 0 10 0 10 0 10 0 10 0 10 0 10 0 10 0 10 0 10 0 10 0 10 0 10 0 10 0 10 0 10 0 10 0 10 0 10 0 10 0 10 0 10 0 10 0 10 0 10 0 10 0 10 0 10 0 10 0 0-10 0-10 0-10 0-10 0-10 0-10 0-10 0-10 0-10 0-10 0-10 0-10 0-10 0-10 0-10 0-10 0-10 0-10 0-10 0-10 0-10 0-10 0-10 0-10 0-10 0-10 0-10 0-10 0-10 0-10 0-10 0-10 0-10 0-10 0-10 0-10 0-10 0-10 0-10 0-10 0-10 0-10 0-10 0-10 0-10 0-10 0-10 0-10 0-10 0-10 0-10 0-10 0-10 0-10 0-10 0-10 0-10 0-10 0-10 0-10 0-10 0-10 0-10 0-10 0-10 0-10 0-10 0-10 0-10 0-10 0-10 0-10 0-10 0-10 0-10 0-10 0-10 0-10 0-10 0-10 0-10 0-10 0-10 0-10 0-10 0-10 0-10 0-10 0-10 0-10 0-10 0-10 0-10 0-10 0-10 0-10 0-10 0-10 0-10 0-10 0-10 0-10 0-10 0-10 0-10 0-10 0-10 0-10 0-10 0-10 0-10 0-10 0-10 0-10 0-10 0-10 0-10 0-10 0-10 0-10 0-10 0-10 0-10 0-10 0-10 0-10 0-10 0-10 0-10 0-10 0-10 0-10 0-10 0-10 0-10 0-10 0-10 0-10 0-10 0-10 0-10 0-10 0-10 0-10 0-10 0-10 0-10 0-10 0-10 0-10 0-10 0-10 0-10 0-10 0-10 0-10 0-10 0-10 0-10 0-10 0-10 0-10 0-10 0-10 0-10 0-10 0-10 0-10 0-10 0-10 0-10 0-10 0-10 0-10 0-10 0-10 0-10 0-10 0-10 0-10 0-10 0-10 0-10 0-10 0-10 0-10 0-10 0-10 0-10 0-10 0-10 0-10 0-10 0-10 0-10 0-10 0-10 0-10 0-10 0-10 0-10 0-10 0-10 0-10 0-10 0-10 0-10 0-10 0-10 0-10 0-10 0-10 0-10 0-10 0-10 0-10 0-10 0-10 0-10 0-10 0-10 0-10 0-10 0-10 0-10 0-10 0-10 0-10 0-10 0-10 0-10 0-10 0-10 0-10 0-10 0-10 0-10 0-10 0-10 0-10 0-10 0-10 0-10 0-10 0-10 0-10 0-10 0-10 0-10 0-10-10 0-10 0-10 0-10 0-10 0-10 0-10 0-10 0-10 0-10 0-10 0-10 0-10 0-10 0-10 0-10 0-10 0-10 0-10 0-10 0-10 0-10 0-10 0-10 0-10 0-10 0-10 0-10 0-10 0-10 0-10 0-10 0-10 0-10 0-10 0-10 0-10 0-10 0-10 0-10 0-10 0-10 0-10 0-10 0-10 0-10 0-10 0-10 0-10 0-10 0-10 0-10 0-10 0-10 0-10 0-10 0-10 0-10 0-10 0-10 0-10 0-10 0-10 0-10 0-10 0-10 0-10 0-10 0-10 0-10 0-10 0-10 0-10 0-10 0-10 0-10 0-10 0-10 0-10 0-10 0-10 0-10 0-10 0-10 0-10 0-10 0-10 0-10 0-10 0-10 0-10 0-10 0-10 0-10 0-10 0-10 0-10 0-10 0-10 0-10 0-10 0-10 0-10 0-10 0-10 0-10 0-10 0-10 0-10 0-10 0-10 0-10 0-10 0-10 0-10 0-10 0-10 0-10 0-10 0-10 0-10 0-10 0-10 0-10 0-10 0-10 0-10 0-10 0-10 0-10 0-10 0-10 0-10 0-10 0-10 0-10 0-10 0-10 0-10 0-10 0-10 0-10 0-10 0-10 0-10 0-10 0-10 0-10 0-10 0-10 0-10 0-10 0-10 0-10 0-10 0-10 0-10 0-10 0-10 0-10 0-10 0-10 0-10 0-10 0-10 0-10 0-10 0-10 0-10 0-10 0-10 0-10 0-10 0-10 0-10 0-10 0-10 0-10 0-10 0-10 0-10 0-10 0-10 0-10 0-10 0-10 0-10 0-10 0-10 0-10 0-10 0-10 0-10 0-10 0-10 0-10 0-10 0-10 0-10 0-10 0-10 0-10 0-10 0-10 0-10 0-10 0-10 0-10 0-10 0-10 0-10 0-10 0-10 0-10 0-10 0-10 0-10 0-10 0-10 0-10 0-10 0-10 0-10 0-10 0-10 0-10 0-10 0-10 0 0 10 0 10 0 10 0 10 0 10 0 10 0 10 0 10 0 10 0 10 0 10 0 10 0 10 0 10 0 10 0 10 0 10 0 10 0 10 0 10 0 10 0 10 0 10 0 10 0 10 0 10 0 10 0 10 0 10 0 10 0 10 0 10 0 10 0 10 0 10 0 10 0 10 0 10 0 10 0 10 0 10 0 10 0 10 0 10 0 10 0 10 0 10 0 10 0 10 0 10 0 10 0 10 0 10 0 10 0 10 0 10 0 10 0 10 0 10 0 10 0 10 0 10 0 10 0 10 0 10 0 10 0 10 0 10 0 10 0 10 0 10 0 10 0 10 0 10 0 10 0 10 0 10 0 10 0 10 0 10 0 10 0 10 0 10 0 10 0 10 0 10 0 10 0 10 0 10 0 10 0 10 0 10 0 10 0 10 0 10 0 10 0 10 0 10 0 10 0 10 0 10 0 10 0 10 0 10 0 10 0 10 0 10 0 10 0 10 0 10 0 10 0 10 0 10 0 10 0 10 0 10 0 10 0 10 0 10 0 10 0 10 0 10 0 10 0 10 0 10 0 10 0 10 0 10 0 10 0 10 0 10 0 10 0 10 0 10 0 10 0 10 0 10 0 10 0 10 0 10 0 10 0 10 0 10 0 10 0 10 0 10 0 10 0 10 0 10 0 10 0 10 0 10 0 10 0 10 0 10 0 10 0 10 0 10 0 10 0 10 0 10 0 10 0 10 0 10 0 10 0 10 0 10 0 10 0 10 0 10 0 10 0 10 0 10 0 10 0 10 0 10 0 10 0 10 0 10 0 10 0 10 0 10 0 10 0 10 0 10 0 10 0 10 0 10 0 10 0 10 0 10 0 10 0 10 0 10 0 10 0 10 0 10 0 10 0 10 0 10 0 10 0 10 0 10 0 10 0 10 0 10 0 10 0 10 0 10 0 10 0 10 0 10 0 10 0 10 0 10 0 10 0 10 0 10 0 10 0 10 0 10 0 10 0 10 0 10 0 10 0 10 0 10 0 10 0 10 0 10 0 10 0 10 0 10 0 10 0 10 0 10 0 10 0 10 0 10 0 10 0 10 0 10 0 10 0 10 0 10 0 10 0 10 0 10 0 10 0 10zM1847 4922l-7-1-13-2-10-3-10-2-10-2-10-4-10-3-8-4-12-5-10-5-10-4-10-5-10-5-9-6-11-7-10-8-5-5-5-4-7-6-11-10-9-10-9-10-4-5-4-5-6-7-10-12-9-11-8-10-8-10-5-5-4-5-6-7-9-13-6-10-5-8-7-12-3-5-8-15-5-10-5-10-6-10-5-10-6-10-5-9-5-11-5-9-5-11-5-9-5-11-5-9-5-11-4-10-5-10-5-10-5-10-5-10-5-10-5-10-4-10-5-10-5-10-5-10-4-10-5-10-3-6-7-14-3-5-8-15-5-10-6-10-5-10-6-7-10-13-9-10-11-9-10-8-10-9-4-4-6-5-4-5-6-5-4-5-6-6-10-13-6-11-4-6-7-14-6-10-6-10-5-10-6-9-6-11-4-5-3-5-7-9-7-11-7-10-6-8-7-12-7-10-6-9-6-11-4-5-8-15-6-10-6-9-6-11-4-6-8-14-6-10-6-10-5-10-5-8-5-12-5-8-6-12-4-7-6-13-4-8-5-12-4-10-4-10-4-10-3-6-6-14-4-9-5-11-4-10-4-10-3-10-4-8-4-12-4-10-3-10-4-10-4-10-3-10-3-10-3-10-3-10-3-10-3-10-3-7-4-13-4-10-2-6-4-14-3-10-3-8-3-12-3-10-3-10-2-10-3-10-2-10-1-10-1-10-2-10-1-10-1-10 0-10-1-10-1-10 0-10-1-10-1-10-1-10-1-10-1-10-1-10-2-10-1-10-2-10-3-10-2-7-3-13-2-10-2-10-2-10-2-10 0-10 0-10 1-9 3-11 5-10 6-10 6-8 10-10 10-7 9-5 11-6 10-4 10-4 10-3 7-3 13-4 10-2 10-2 10-1 10-1 10-1 10-1 10 0 10 1 10 0 10 1 10 0 10 1 10 2 10 2 10 2 10 2 10 3 10 3 10 3 7 2 13 6 9 4 11 6 8 4 12 8 10 5 10 6 10 6 10 5 10 5 10 3 10 2 10-2 10-4 6-4 14-10 10-9 10-8 10-9 5-4 5-4 6-6 12-10 12-8 10-7 10-5 10-4 10-4 10-4 10-3 10-2 10-1 10-1 10 0 10 0 10 1 10 1 10 2 10 2 10 2 9 1 11 2 10 2 10 2 10 2 10 2 10 2 10 3 10 3 10 2 10 3 10 2 10 3 7 2 13 4 10 4 7 2 13 6 9 4 11 6 7 4 13 10 10 8 10 9 10 10 10 10 10 11 10 11 10 11 9 10 9 10 8 10 4 4 6 6 4 5 5 5 5 6 4 4 6 8 10 12 9 10 8 10 8 10 5 8 9 12 7 10 4 7 9 13 6 10 5 9 7 11 7 10 6 9 8 11 7 10 5 8 8 12 6 10 6 10 5 10 4 10 5 10 4 10 2 7 5 13 4 10 4 10 3 10 3 10 3 10 4 10 3 10 3 10 3 10 3 10 2 7 4 13 3 10 3 10 3 10 3 10 3 10 3 10 3 10 3 10 2 7 4 13 3 10 3 9 4 11 4 10 2 7 5 13 4 10 4 10 5 10 2 7 5 13 4 10 3 10 2 10 3 10 2 10 2 10 2 10 2 10 2 10 2 10 2 10 2 10 2 10 3 10 2 10 2 10 2 10 1 10 1 10 0 10 1 10 0 10 0 10-1 10 0 10 0 10-1 10 0 10 0 10 0 10 0 10 0 10 2 10 2 10 1 7 3 13 1 10 1 10 1 10 1 10-1 10-1 10-2 10-3 10-3 10-4 10-3 6-7 14-3 8-5 12-3 10-4 10-2 10-3 10-2 10-2 10-2 10-1 10-2 10-2 10-2 10-2 10-2 10-3 10-3 8-5 12-4 10-6 10-5 9-7 11-3 5-3 5-6 10-7 10-4 5-3 5-7 10-6 10-4 7-8 13-7 10-5 7-8 13-7 10-5 8-8 12-7 10-5 7-10 12-10 11-10 10-10 9-10 8-10 8-7 5-13 10-10 7-10 9-6 4-14 9-10 4-10 4-10 2-10 2-10 1-10 1-10 0-10 1-10 0-10-1-10 0-10 0-10-2z" fill="#2c728e" fill-rule="evenodd"/>
<path d="M527 5271l10 0 10 0 10 0 10 0 10 0 10 0 10 0 10 0 10 0 10 0 10 0 10 0 10 0 10 0 10 0 10 0 10 0 10 0 10 0 10 0 10 0 10 0 10 0 10 0 10 0 10 0 10 0 10 0 10 0 10 0 10 0 10 0 10 0 10 0 10 0 10 0 10 0 10 0 10 0 10 0 10 0 10 0 10 0 10 0 10 0 10 0 10 0 10 0 10 0 10 0 10 0 10 0 10 0 10 0 10 0 10 0 10 0 10 0 10 0 10 0 10 0 10 0 10 0 10 0 10 0 10 0 10 0 10 0 10 0 10 0 10 0 10 0 10 0 10 0 10 0 10 0 10 0 10 0 10 0 10 0 10 0 10 0 10 0 10 0 10 0 10 0 10 0 10 0 10 0 10 0 10 0 10 0 10 0 10 0 10 0 10 0 10 0 10 0 10 0 10 0 10 0 10 0 10 0 10 0 10 0 10 0 10 0 10 0 10 0 10 0 10 0 10 0 10 0 10 0 10 0 10 0 10 0 10 0 10 0 10 0 10 0 10 0 10 0 10 0 10 0 10 0 10 0 10 0 10 0 10 0 10 0 10 0 10 0 10 0 10 0 10 0 10 0 10 0 10 0 10 0 10 0 10 0 10 0 10 0 10 0 10 0 10 0 10 0 10 0 10 0 10 0 10 0 10 0 10 0 10 0 10 0 10 0 10 0 10 0 10 0 10 0 10 0 10 0 10 0 10 0 10 0 10 0 10 0 10 0 10 0 10 0 10 0 10 0 10 0 10 0 10 0 10 0 10 0 10 0 10 0 10 0 10 0 10 0 10 0 10 0 10 0 10 0 10 0 10 0 10 0 10 0 10 0 10 0 10 0 10 0 10 0 10 0 10 0 10 0 10 0 10 0 10 0 10 0 10 0 10 0 10 0 10 0 10 0 10 0 10 0 10 0 10 0 10 0 10 0 10 0 10 0 10 0 10 0 10 0 10 0 10 0 10 0 10 0 10 0 10 0 10 0 10 0 10 0 0-10 0-10 0-10 0-10 0-10 0-10 0-10 0-10 0-10 0-10 0-10 0-10 0-10 0-10 0-10 0-10 0-10 0-10 0-10 0-10 0-10 0-10 0-10 0-10 0-10 0-10 0-10 0-10 0-10 0-10 0-10 0-10 0-10 0-10 0-10 0-10 0-10 0-10 0-10 0-10 0-10 0-10 0-10 0-10 0-10 0-10 0-10 0-10 0-10 0-10 0-10 0-10 0-10 0-10 0-10 0-10 0-10 0-10 0-10 0-10 0-10 0-10 0-10 0-10 0-10 0-10 0-10 0-10 0-10 0-10 0-10 0-10 0-10 0-10 0-10 0-10 0-10 0-10 0-10 0-10 0-10 0-10 0-10 0-10 0-10 0-10 0-10 0-10 0-10 0-10 0-10 0-10 0-10 0-10 0-10 0-10 0-10 0-10 0-10 0-10 0-10 0-10 0-10 0-10 0-10 0-10 0-10 0-10 0-10 0-10 0-10 0-10 0-10 0-10 0-10 0-10 0-10 0-10 0-10 0-10 0-10 0-10 0-10 0-10 0-10 0-10 0-10 0-10 0-10 0-10 0-10 0-10 0-10 0-10 0-10 0-10 0-10 0-10 0-10 0-10 0-10 0-10 0-10 0-10 0-10 0-10 0-10 0-10 0-10 0-10 0-10 0-10 0-10 0-10 0-10 0-10 0-10 0-10 0-10 0-10 0-10 0-10 0-10 0-10 0-10 0-10 0-10 0-10 0-10 0-10 0-10 0-10 0-10 0-10 0-10 0-10 0-10 0-10 0-10 0-10 0-10 0-10 0-10 0-10 0-10 0-10 0-10 0-10 0-10 0-10 0-10 0-10 0-10 0-10 0-10 0-10 0-10 0-10 0-10 0-10 0-10 0-10 0-10 0-10 0-10 0-10 0-10 0-10 0-10 0-10 0-10 0-10 0-10 0-10 0-10 0-10 0-10 0-10 0-10 0-10 0-10 0-10 0-10 0-10 0-10 0-10 0-10 0-10 0-10 0-10 0-10 0-10 0-10 0-10 0-10 0-10 0-10 0-10 0-10 0-10 0-10 0-10 0-10 0-10 0-10 0-10 0-10 0-10 0-10 0-10-10 0-10 0-10 0-10 0-10 0-10 0-10 0-10 0-10 0-10 0-10 0-10 0-10 0-10 0-10 0-10 0-10 0-10 0-10 0-10 0-10 0-10 0-10 0-10 0-10 0-10 0-10 0-10 0-10 0-10 0-10 0-10 0-10 0-10 0-10 0-10 0-10 0-10 0-10 0-10 0-10 0-10 0-10 0-10 0-10 0-10 0-10 0-10 0-10 0-10 0-10 0-10 0-10 0-10 0-10 0-10 0-10 0-10 0-10 0-10 0-10 0-10 0-10 0-10 0-10 0-10 0-10 0-10 0-10 0-10 0-10 0-10 0-10 0-10 0-10 0-10 0-10 0-10 0-10 0-10 0-10 0-10 0-10 0-10 0-10 0-10 0-10 0-10 0-10 0-10 0-10 0-10 0-10 0-10 0-10 0-10 0-10 0-10 0-10 0-10 0-10 0-10 0-10 0-10 0-10 0-10 0-10 0-10 0-10 0-10 0-10 0-10 0-10 0-10 0-10 0-10 0-10 0-10 0-10 0-10 0-10 0-10 0-10 0-10 0-10 0-10 0-10 0-10 0-10 0-10 0-10 0-10 0-10 0-10 0-10 0-10 0-10 0-10 0-10 0-10 0-10 0-10 0-10 0-10 0-10 0-10 0-10 0-10 0-10 0-10 0-10 0-10 0-10 0-10 0-10 0-10 0-10 0-10 0-10 0-10 0-10 0-10 0-10 0-10 0-10 0-10 0-10 0-10 0-10 0-10 0-10 0-10 0-10 0-10 0-10 0-10 0-10 0-10 0-10 0-10 0-10 0-10 0-10 0-10 0-10 0-10 0-10 0-10 0-10 0-10 0-10 0-10 0-10 0-10 0-10 0-10 0-10 0-10 0-10 0-10 0-10 0-10 0-10 0-10 0-10 0-10 0-10 0-10 0-10 0-10 0-10 0-10 0-10 0-10 0-10 0-10 0-10 0-10 0-10 0-10 0-10 0-10 0-10 0-10 0-10 0-10 0-10 0-10 0 0 10 0 10 0 10 0 10 0 10 0 10 0 10 0 10 0 10 0 10 0 10 0 10 0 10 0 10 0 10 0 10 0 10 0 10 0 10 0 10 0 10 0 10 0 10 0 10 0 10 0 10 0 10 0 10 0 10 0 10 0 10 0 10 0 10 0 10 0 10 0 10 0 10 0 10 0 10 0 10 0 10 0 10 0 10 0 10 0 10 0 10 0 10 0 10 0 10 0 10 0 10 0 10 0 10 0 10 0 10 0 10 0 10 0 10 0 10 0 10 0 10 0 10 0 10 0 10 0 10 0 10 0 10 0 10 0 10 0 10 0 10 0 10 0 10 0 10 0 10 0 10 0 10 0 10 0 10 0 10 0 10 0 10 0 10 0 10 0 10 0 10 0 10 0 10 0 10 0 10 0 10 0 10 0 10 0 10 0 10 0 10 0 10 0 10 0 10 0 10 0 10 0 10 0 10 0 10 0 10 0 10 0 10 0 10 0 10 0 10 0 10 0 10 0 10 0 10 0 10 0 10 0 10 0 10 0 10 0 10 0 10 0 10 0 10 0 10 0 10 0 10 0 10 0 10 0 10 0 10 0 10 0 10 0 10 0 10 0 10 0 10 0 10 0 10 0 10 0 10 0 10 0 10 0 10 0 10 0 10 0 10 0 10 0 10 0 10 0 10 0 10 0 10 0 10 0 10 0 10 0 10 0 10 0 10 0 10 0 10 0 10 0 10 0 10 0 10 0 10 0 10 0 10 0 10 0 10 0 10 0 10 0 10 0 10 0 10 0 10 0 10 0 10 0 10 0 10 0 10 0 10 0 10 0 10 0 10 0 10 0 10 0 10 0 10 0 10 0 10 0 10 0 10 0 10 0 10 0 10 0 10 0 10 0 10 0 10 0 10 0 10 0 10 0 10 0 10 0 10 0 10 0 10 0 10 0 10 0 10 0 10 0 10 0 10 0 10 0 10 0 10 0 10 0 10 0 10 0 10 0 10 0 10 0 10 0 10 0 10 0 10 0 10 0 10 0 10 0 10 0 10 0 10 0 10 0 10 0 10 0 10 0 10 0 10 0 10 0 10 0 10 0 10 0 10 0 10 0 10 0 10 0 10 0 10 0 10 0 10zM1827 4952l-10-2-10-3-10-2-10-3-10-3-10-4-8-4-12-5-9-5-11-5-8-5-12-6-6-4-14-9-10-8-10-9-4-4-6-4-6-6-4-4-6-6-10-10-4-4-5-6-5-5-3-5-7-8-10-12-8-10-7-10-5-5-3-5-7-8-9-12-7-10-4-4-3-6-7-10-6-10-4-6-8-14-6-10-6-10-5-10-5-8-6-12-4-6-7-14-3-5-7-15-6-10-5-10-6-10-5-10-5-10-5-10-5-10-6-9-5-11-5-8-5-12-5-9-5-11-5-9-5-11-5-9-5-11-5-10-5-10-5-9-6-11-4-7-7-13-3-5-9-15-7-10-4-5-4-5-6-6-10-11-10-10-10-11-10-12-9-10-7-10-4-4-4-6-6-9-7-11-7-10-6-9-7-11-6-10-7-9-7-11-7-10-6-8-8-12-7-10-5-8-7-12-7-10-6-9-6-11-4-6-8-14-6-10-6-10-6-10-4-6-8-14-5-10-6-10-5-10-6-10-5-10-5-9-6-11-4-8-5-12-5-9-4-11-4-10-4-10-5-10-3-6-6-14-4-8-5-12-4-10-4-10-4-10-3-7-5-13-4-10-3-10-4-10-3-10-4-10-3-10-3-10-3-10-3-10-3-10-4-10-3-10-3-10-2-7-3-13-3-10-2-10-2-6-3-14-2-10-3-10-2-9-2-11-2-10-1-10-1-10-2-10-1-10-1-10-1-10-1-10-1-10-1-10-2-10-1-10-1-10-1-10-2-10-1-10-1-10-2-10-1-10-2-10-2-9-2-11-1-10-1-10-1-10 0-10 0-10 0-10 1-10 3-10 3-10 4-10 4-7 9-13 9-10 11-10 11-8 10-6 10-6 10-4 10-5 10-4 10-4 10-3 10-3 10-2 10-2 10-2 7-1 13-1 10-1 10-1 10 0 10 1 10 0 10 0 10 1 10 1 10 2 10 1 10 2 10 2 10 2 10 3 10 3 10 3 8 2 12 5 10 5 10 4 10 5 10 5 10 5 10 5 10 5 10 3 10 1 9-3 11-6 7-4 13-8 10-7 7-5 13-9 10-6 8-5 12-7 6-3 14-6 10-3 10-4 10-3 10-3 10-2 10-2 10-1 10-1 10 0 10 0 10 1 10 0 10 1 10 2 10 1 10 2 10 1 10 1 10 2 10 2 10 2 10 2 10 3 10 3 10 2 10 3 10 3 10 2 6 2 14 5 10 3 10 4 10 4 9 4 11 6 7 4 13 8 10 7 7 5 12 10 11 10 10 9 10 10 10 10 10 10 10 11 10 10 10 10 10 10 9 10 10 10 9 10 9 10 3 5 5 5 5 7 10 12 9 11 8 10 3 5 4 5 6 9 7 11 3 5 4 5 6 10 6 10 4 8 8 12 6 10 6 10 7 10 3 6 9 14 5 10 6 10 5 10 5 10 5 10 5 10 4 10 5 10 4 10 5 10 2 7 6 13 3 10 4 10 4 10 3 10 3 10 4 10 3 10 3 10 3 10 3 10 3 10 3 10 3 10 2 7 4 13 3 10 3 10 4 10 3 10 3 10 3 10 3 10 3 10 3 10 4 10 3 10 3 10 3 10 4 10 3 10 3 10 3 10 2 8 4 12 3 10 2 10 3 10 2 10 3 10 3 10 2 10 2 10 2 10 3 10 1 9 2 11 2 10 1 10 1 10 1 10 0 10 1 10 0 10 0 10 0 10 1 10 0 10 0 10 0 10 1 10-1 10 0 10 1 10 0 10 1 10 1 10 1 10 0 10 1 10 0 10 0 10 0 10-1 10-2 10-2 10-2 10-3 10-3 10-3 10-4 10-3 10-3 10-2 10-3 10-3 10-2 10-3 10-3 10-2 8-3 12-2 10-3 10-3 10-3 10-3 10-3 7-5 13-4 10-4 10-5 10-6 10-5 10-5 10-6 10-6 10-4 6-9 14-6 10-5 9-6 11-4 5-3 5-7 10-6 10-4 5-3 5-7 10-7 10-3 5-4 5-6 8-10 12-9 10-9 10-11 10-11 10-10 8-10 8-5 4-5 4-8 6-12 10-10 8-10 7-7 5-13 7-6 3-14 6-10 2-9 2-11 2-10 1-10 1-10 1-10 0-10 1-10 0-10-1-10 0-10-1-10-1-10-2z" fill="#277e8e" fill-rule="evenodd"/>
<path d="M527 5271l10 0 10 0 10 0 10 0 10 0 10 0 10 0 10 0 10 0 10 0 10 0 10 0 10 0 10 0 10 0 10 0 10 0 10 0 10 0 10 0 10 0 10 0 10 0 10 0 10 0 10 0 10 0 10 0 10 0 10 0 10 0 10 0 10 0 10 0 10 0 10 0 10 0 10 0 10 0 10 0 10 0 10 0 10 0 10 0 10 0 10 0 10 0 10 0 10 0 10 0 10 0 10 0 10 0 10 0 10 0 10 0 10 0 10 0 10 0 10 0 10 0 10 0 10 0 10 0 10 0 10 0 10 0 10 0 10 0 10 0 10 0 10 0 10 0 10 0 10 0 10 0 10 0 10 0 10 0 10 0 10 0 10 0 10 0 10 0 10 0 10 0 10 0 10 0 10 0 10 0 10 0 10 0 10 0 10 0 10 0 10 0 10 0 10 0 10 0 10 0 10 0 10 0 10 0 10 0 10 0 10 0 10 0 10 0 10 0 10 0 10 0 10 0 10 0 10 0 10 0 10 0 10 0 10 0 10 0 10 0 10 0 10 0 10 0 10 0 10 0 10 0 10 0 10 0 10 0 10 0 10 0 10 0 10 0 10 0 10 0 10 0 10 0 10 0 10 0 10 0 10 0 10 0 10 0 10 0 10 0 10 0 10 0 10 0 10 0 10 0 10 0 10 0 10 0 10 0 10 0 10 0 10 0 10 0 10 0 10 0 10 0 10 0 10 0 10 0 10 0 10 0 10 0 10 0 10 0 10 0 10 0 10 0 10 0 10 0 10 0 10 0 10 0 10 0 10 0 10 0 10 0 10 0 10 0 10 0 10 0 10 0 10 0 10 0 10 0 10 0 10 0 10 0 10 0 10 0 10 0 10 0 10 0 10 0 10 0 10 0 10 0 10 0 10 0 10 0 10 0 10 0 10 0 10 0 10 0 10 0 10 0 10 0 10 0 10 0 10 0 10 0 10 0 10 0 10 0 10 0 10 0 10 0 10 0 10 0 10 0 10 0 10 0 10 0 0-10 0-10 0-10 0-10 0-10 0-10 0-10 0-10 0-10 0-10 0-10 0-10 0-10 0-10 0-10 0-10 0-10 0-10 0-10 0-10 0-10 0-10 0-10 0-10 0-10 0-10 0-10 0-10 0-10 0-10 0-10 0-10 0-10 0-10 0-10 0-10 0-10 0-10 0-10 0-10 0-10 0-10 0-10 0-10 0-10 0-10 0-10 0-10 0-10 0-10 0-10 0-10 0-10 0-10 0-10 0-10 0-10 0-10 0-10 0-10 0-10 0-10 0-10 0-10 0-10 0-10 0-10 0-10 0-10 0-10 0-10 0-10 0-10 0-10 0-10 0-10 0-10 0-10 0-10 0-10 0-10 0-10 0-10 0-10 0-10 0-10 0-10 0-10 0-10 0-10 0-10 0-10 0-10 0-10 0-10 0-10 0-10 0-10 0-10 0-10 0-10 0-10 0-10 0-10 0-10 0-10 0-10 0-10 0-10 0-10 0-10 0-10 0-10 0-10 0-10 0-10 0-10 0-10 0-10 0-10 0-10 0-10 0-10 0-10 0-10 0-10 0-10 0-10 0-10 0-10 0-10 0-10 0-10 0-10 0-10 0-10 0-10 0-10 0-10 0-10 0-10 0-10 0-10 0-10 0-10 0-10 0-10 0-10 0-10 0-10 0-10 0-10 0-10 0-10 0-10 0-10 0-10 0-10 0-10 0-10 0-10 0-10 0-10 0-10 0-10 0-10 0-10 0-10 0-10 0-10 0-10 0-10 0-10 0-10 0-10 0-10 0-10 0-10 0-10 0-10 0-10 0-10 0-10 0-10 0-10 0-10 0-10 0-10 0-10 0-10 0-10 0-10 0-10 0-10 0-10 0-10 0-10 0-10 0-10 0-10 0-10 0-10 0-10 0-10 0-10 0-10 0-10 0-10 0-10 0-10 0-10 0-10 0-10 0-10 0-10 0-10 0-10 0-10 0-10 0-10 0-10 0-10 0-10 0-10 0-10 0-10 0-10 0-10 0-10 0-10 0-10 0-10 0-10 0-10 0-10 0-10 0-10 0-10 0-10 0-10 0-10 0-10 0-10 0-10 0-10 0-10 0-10 0-10 0-10 0-10-10 0-10 0-10 0-10 0-10 0-10 0-10 0-10 0-10 0-10 0-10 0-10 0-10 0-10 0-10 0-10 0-10 0-10 0-10 0-10 0-10 0-10 0-10 0-10 0-10 0-10 0-10 0-10 0-10 0-10 0-10 0-10 0-10 0-10 0-10 0-10 0-10 0-10 0-10 0-10 0-10 0-10 0-10 0-10 0-10 0-10 0-10 0-10 0-10 0-10 0-10 0-10 0-10 0-10 0-10 0-10 0-10 0-10 0-10 0-10 0-10 0-10 0-10 0-10 0-10 0-10 0-10 0-10 0-10 0-10 0-10 0-10 0-10 0-10 0-10 0-10 0-10 0-10 0-10 0-10 0-10 0-10 0-10 0-10 0-10 0-10 0-10 0-10 0-10 0-10 0-10 0-10 0-10 0-10 0-10 0-10 0-10 0-10 0-10 0-10 0-10 0-10 0-10 0-10 0-10 0-10 0-10 0-10 0-10 0-10 0-10 0-10 0-10 0-10 0-10 0-10 0-10 0-10 0-10 0-10 0-10 0-10 0-10 0-10 0-10 0-10 0-10 0-10 0-10 0-10 0-10 0-10 0-10 0-10 0-10 0-10 0-10 0-10 0-10 0-10 0-10 0-10 0-10 0-10 0-10 0-10 0-10 0-10 0-10 0-10 0-10 0-10 0-10 0-10 0-10 0-10 0-10 0-10 0-10 0-10 0-10 0-10 0-10 0-10 0-10 0-10 0-10 0-10 0-10 0-10 0-10 0-10 0-10 0-10 0-10 0-10 0-10 0-10 0-10 0-10 0-10 0-10 0-10 0-10 0-10 0-10 0-10 0-10 0-10 0-10 0-10 0-10 0-10 0-10 0-10 0-10 0-10 0-10 0-10 0-10 0-10 0-10 0-10 0-10 0-10 0-10 0-10 0-10 0-10 0-10 0-10 0-10 0-10 0-10 0-10 0-10 0-10 0-10 0-10 0-10 0-10 0-10 0-10 0-10 0-10 0-10 0-10 0-10 0 0 10 0 10 0 10 0 10 0 10 0 10 0 10 0 10 0 10 0 10 0 10 0 10 0 10 0 10 0 10 0 10 0 10 0 10 0 10 0 10 0 10 0 10 0 10 0 10 0 10 0 10 0 10 0 10 0 10 0 10 0 10 0 10 0 10 0 10 0 10 0 10 0 10 0 10 0 10 0 10 0 10 0 10 0 10 0 10 0 10 0 10 0 10 0 10 0 10 0 10 0 10 0 10 0 10 0 10 0 10 0 10 0 10 0 10 0 10 0 10 0 10 0 10 0 10 0 10 0 10 0 10 0 10 0 10 0 10 0 10 0 10 0 10 0 10 0 10 0 10 0 10 0 10 0 10 0 10 0 10 0 10 0 10 0 10 0 10 0 10 0 10 0 10 0 10 0 10 0 10 0 10 0 10 0 10 0 10 0 10 0 10 0 10 0 10 0 10 0 10 0 10 0 10 0 10 0 10 0 10 0 10 0 10 0 10 0 10 0 10 0 10 0 10 0 10 0 10 0 10 0 10 0 10 0 10 0 10 0 10 0 10 0 10 0 10 0 10 0 10 0 10 0 10 0 10 0 10 0 10 0 10 0 10 0 10 0 10 0 10 0 10 0 10 0 10 0 10 0 10 0 10 0 10 0 10 0 10 0 10 0 10 0 10 0 10 0 10 0 10 0 10 0 10 0 10 0 10 0 10 0 10 0 10 0 10 0 10 0 10 0 10 0 10 0 10 0 10 0 10 0 10 0 10 0 10 0 10 0 10 0 10 0 10 0 10 0 10 0 10 0 10 0 10 0 10 0 10 0 10 0 10 0 10 0 10 0 10 0 10 0 10 0 10 0 10 0 10 0 10 0 10 0 10 0 10 0 10 0 10 0 10 0 10 0 10 0 10 0 10 0 10 0 10 0 10 0 10 0 10 0 10 0 10 0 10 0 10 0 10 0 10 0 10 0 10 0 10 0 10 0 10 0 10 0 10 0 10 0 10 0 10 0 10 0 10 0 10 0 10 0 10 0 10 0 10 0 10 0 10 0 10 0 10 0 10 0 10 0 10 0 10 0 10 0 10 0 10 0 10 0 10 0 10 0 10 0 10 0 10 0 10 0 10 0 10 0 10 0 10zM1817 4982l-10-2-10-3-10-2-10-3-10-3-10-4-8-4-12-5-8-5-12-6-7-4-13-7-10-6-9-7-11-8-10-8-4-4-6-5-5-5-5-4-6-6-11-10-10-10-8-10-5-5-4-5-6-7-10-12-8-11-7-10-5-5-3-5-7-9-9-11-7-10-4-5-3-5-7-9-6-11-4-5-3-5-6-10-6-10-5-7-7-13-3-5-3-5-5-10-6-10-6-10-5-10-5-8-6-12-4-7-7-13-6-10-5-10-5-10-6-10-5-10-6-9-5-11-5-8-6-12-4-8-6-12-4-7-6-13-4-7-6-13-4-7-7-13-3-5-8-15-5-10-6-10-6-10-5-7-8-13-8-10-4-4-4-6-6-7-10-12-8-11-9-10-8-10-5-7-9-13-8-10-7-10-6-7-9-13-7-10-4-5-3-5-7-9-7-11-7-10-6-8-7-12-7-10-6-10-6-10-4-5-3-5-6-10-5-10-6-9-6-11-4-6-8-14-6-10-6-9-6-11-4-7-7-13-3-5-8-15-5-10-6-10-5-10-5-10-5-10-4-10-4-10-5-10-3-7-6-13-4-9-5-11-4-10-5-10-4-10-4-10-4-10-4-9-4-11-4-10-4-10-3-10-4-10-3-10-4-10-3-10-3-10-3-10-3-10-4-10-3-10-3-10-2-8-3-12-3-10-2-10-2-8-2-12-3-10-2-10-2-10-2-10-2-10-2-10-1-10-2-10-1-10-2-10-1-10-1-10-1-10-1-10-1-10-2-10-1-10-1-10-1-10-1-10-2-10-1-10-1-10-1-10-1-10-2-10 0-10-1-10 0-10 0-10 0-10 0-10 1-10 2-10 2-10 2-10 4-10 4-10 5-10 6-10 5-7 10-11 10-10 10-9 5-3 5-4 9-6 11-6 8-4 12-5 10-4 10-4 10-4 10-3 10-2 10-3 10-2 10-1 10-2 10-1 10-1 10-1 10 0 10 0 10 0 10 0 10 1 10 1 10 1 10 1 10 1 10 1 10 2 10 2 10 2 10 3 10 2 10 3 10 3 10 4 10 4 7 2 13 6 10 4 10 4 10 2 10 0 10-3 5-3 15-8 10-5 10-6 10-5 10-6 10-4 10-4 10-4 10-3 10-3 10-3 10-3 10-3 10-2 8-1 12-1 10-1 10 0 10 0 10 0 10 0 10 1 10 1 10 1 10 1 10 1 10 2 10 1 10 1 10 2 10 2 10 2 10 2 10 3 8 2 12 4 10 2 10 3 10 3 10 4 10 3 10 4 10 3 9 4 11 6 9 4 11 7 6 3 14 10 10 7 10 8 7 5 12 10 11 10 10 10 10 9 10 10 10 10 10 10 10 10 10 10 10 10 10 11 10 10 9 10 9 10 8 10 4 5 4 5 6 8 10 12 7 10 3 5 4 5 6 9 7 11 3 5 3 5 6 10 6 10 5 8 8 12 6 10 6 10 6 10 4 8 7 12 3 6 8 14 5 10 5 10 5 10 5 10 5 10 4 10 3 7 6 13 4 9 5 11 3 10 4 10 4 10 4 10 3 10 3 10 4 10 3 10 3 10 3 10 3 10 3 10 4 10 3 10 3 10 3 10 2 6 5 14 3 10 2 8 4 12 4 10 2 9 4 11 3 10 3 10 3 10 3 10 3 10 3 10 3 10 3 10 2 8 4 12 3 10 3 10 3 10 2 10 3 10 2 8 3 12 2 10 3 10 2 10 2 10 2 10 1 10 2 10 1 10 1 10 1 10 0 10 1 10 0 10 1 10 0 10 0 10 1 10 0 10 1 10 0 10 0 10 0 10-1 10 0 10 1 10 0 10 0 10 0 10 0 10 0 10-1 10 0 10-1 10-1 10-2 10-2 10-2 10-2 10-2 10-2 10-3 10-2 10-2 10-2 6-3 14-2 10-3 10-2 7-4 13-3 10-3 10-3 10-3 10-4 10-3 10-4 10-3 8-5 12-4 10-5 10-4 10-6 10-5 10-5 10-5 10-6 10-5 8-7 12-6 10-6 10-6 10-5 8-8 12-7 10-5 8-8 12-7 10-5 7-10 13-8 10-8 10-4 4-5 6-5 5-5 5-5 5-5 5-5 4-7 6-11 10-12 9-10 7-5 4-5 4-9 6-11 8-10 7-8 5-12 7-5 3-15 7-8 3-12 4-10 2-10 3-8 1-12 2-10 2-10 1-10 1-10 0-10 1-10 0-10-1-10 0-10-1-10-2-10-2z" fill="#238a8d" fill-rule="evenodd"/>
<path d="M527 5271l10 0 10 0 10 0 10 0 10 0 10 0 10 0 10 0 10 0 10 0 10 0 10 0 10 0 10 0 10 0 10 0 10 0 10 0 10 0 10 0 10 0 10 0 10 0 10 0 10 0 10 0 10 0 10 0 10 0 10 0 10 0 10 0 10 0 10 0 10 0 10 0 10 0 10 0 10 0 10 0 10 0 10 0 10 0 10 0 10 0 10 0 10 0 10 0 10 0 10 0 10 0 10 0 10 0 10 0 10 0 10 0 10 0 10 0 10 0 10 0 10 0 10 0 10 0 10 0 10 0 10 0 10 0 10 0 10 0 10 0 10 0 10 0 10 0 10 0 10 0 10 0 10 0 10 0 10 0 10 0 10 0 10 0 10 0 10 0 10 0 10 0 10 0 10 0 10 0 10 0 10 0 10 0 10 0 10 0 10 0 10 0 10 0 10 0 10 0 10 0 10 0 10 0 10 0 10 0 10 0 10 0 10 0 10 0 10 0 10 0 10 0 10 0 10 0 10 0 10 0 10 0 10 0 10 0 10 0 10 0 10 0 10 0 10 0 10 0 10 0 10 0 10 0 10 0 10 0 10 0 10 0 10 0 10 0 10 0 10 0 10 0 10 0 10 0 10 0 10 0 10 0 10 0 10 0 10 0 10 0 10 0 10 0 10 0 10 0 10 0 10 0 10 0 10 0 10 0 10 0 10 0 10 0 10 0 10 0 10 0 10 0 10 0 10 0 10 0 10 0 10 0 10 0 10 0 10 0 10 0 10 0 10 0 10 0 10 0 10 0 10 0 10 0 10 0 10 0 10 0 10 0 10 0 10 0 10 0 10 0 10 0 10 0 10 0 10 0 10 0 10 0 10 0 10 0 10 0 10 0 10 0 10 0 10 0 10 0 10 0 10 0 10 0 10 0 10 0 10 0 10 0 10 0 10 0 10 0 10 0 10 0 10 0 10 0 10 0 10 0 10 0 10 0 10 0 10 0 10 0 10 0 10 0 10 0 10 0 10 0 10 0 10 0 10 0 0-10 0-10 0-10 0-10 0-10 0-10 0-10 0-10 0-10 0-10 0-10 0-10 0-10 0-10 0-10 0-10 0-10 0-10 0-10 0-10 0-10 0-10 0-10 0-10 0-10 0-10 0-10 0-10 0-10 0-10 0-10 0-10 0-10 0-10 0-10 0-10 0-10 0-10 0-10 0-10 0-10 0-10 0-10 0-10 0-10 0-10 0-10 0-10 0-10 0-10 0-10 0-10 0-10 0-10 0-10 0-10 0-10 0-10 0-10 0-10 0-10 0-10 0-10 0-10 0-10 0-10 0-10 0-10 0-10 0-10 0-10 0-10 0-10 0-10 0-10 0-10 0-10 0-10 0-10 0-10 0-10 0-10 0-10 0-10 0-10 0-10 0-10 0-10 0-10 0-10 0-10 0-10 0-10 0-10 0-10 0-10 0-10 0-10 0-10 0-10 0-10 0-10 0-10 0-10 0-10 0-10 0-10 0-10 0-10 0-10 0-10 0-10 0-10 0-10 0-10 0-10 0-10 0-10 0-10 0-10 0-10 0-10 0-10 0-10 0-10 0-10 0-10 0-10 0-10 0-10 0-10 0-10 0-10 0-10 0-10 0-10 0-10 0-10 0-10 0-10 0-10 0-10 0-10 0-10 0-10 0-10 0-10 0-10 0-10 0-10 0-10 0-10 0-10 0-10 0-10 0-10 0-10 0-10 0-10 0-10 0-10 0-10 0-10 0-10 0-10 0-10 0-10 0-10 0-10 0-10 0-10 0-10 0-10 0-10 0-10 0-10 0-10 0-10 0-10 0-10 0-10 0-10 0-10 0-10 0-10 0-10 0-10 0-10 0-10 0-10 0-10 0-10 0-10 0-10 0-10 0-10 0-10 0-10 0-10 0-10 0-10 0-10 0-10 0-10 0-10 0-10 0-10 0-10 0-10 0-10 0-10 0-10 0-10 0-10 0-10 0-10 0-10 0-10 0-10 0-10 0-10 0-10 0-10 0-10 0-10 0-10 0-10 0-10 0-10 0-10 0-10 0-10 0-10 0-10 0-10 0-10 0-10 0-10 0-10 0-10 0-10 0-10 0-10 0-10 0-10 0-10 0-10 0-10 0-10 0-10-10 0-10 0-10 0-10 0-10 0-10 0-10 0-10 0-10 0-10 0-10 0-10 0-10 0-10 0-10 0-10 0-10 0-10 0-10 0-10 0-10 0-10 0-10 0-10 0-10 0-10 0-10 0-10 0-10 0-10 0-10 0-10 0-10 0-10 0-10 0-10 0-10 0-10 0-10 0-10 0-10 0-10 0-10 0-10 0-10 0-10 0-10 0-10 0-10 0-10 0-10 0-10 0-10 0-10 0-10 0-10 0-10 0-10 0-10 0-10 0-10 0-10 0-10 0-10 0-10 0-10 0-10 0-10 0-10 0-10 0-10 0-10 0-10 0-10 0-10 0-10 0-10 0-10 0-10 0-10 0-10 0-10 0-10 0-10 0-10 0-10 0-10 0-10 0-10 0-10 0-10 0-10 0-10 0-10 0-10 0-10 0-10 0-10 0-10 0-10 0-10 0-10 0-10 0-10 0-10 0-10 0-10 0-10 0-10 0-10 0-10 0-10 0-10 0-10 0-10 0-10 0-10 0-10 0-10 0-10 0-10 0-10 0-10 0-10 0-10 0-10 0-10 0-10 0-10 0-10 0-10 0-10 0-10 0-10 0-10 0-10 0-10 0-10 0-10 0-10 0-10 0-10 0-10 0-10 0-10 0-10 0-10 0-10 0-10 0-10 0-10 0-10 0-10 0-10 0-10 0-10 0-10 0-10 0-10 0-10 0-10 0-10 0-10 0-10 0-10 0-10 0-10 0-10 0-10 0-10 0-10 0-10 0-10 0-10 0-10 0-10 0-10 0-10 0-10 0-10 0-10 0-10 0-10 0-10 0-10 0-10 0-10 0-10 0-10 0-10 0-10 0-10 0-10 0-10 0-10 0-10 0-10 0-10 0-10 0-10 0-10 0-10 0-10 0-10 0-10 0-10 0-10 0-10 0-10 0-10 0-10 0-10 0-10 0-10 0-10 0-10 0-10 0-10 0-10 0-10 0-10 0-10 0-10 0-10 0-10 0-10 0-10 0-10 0 0 10 0 10 0 10 0 10 0 10 0 10 0 10 0 10 0 10 0 10 0 10 0 10 0 10 0 10 0 10 0 10 0 10 0 10 0 10 0 10 0 10 0 10 0 10 0 10 0 10 0 10 0 10 0 10 0 10 0 10 0 10 0 10 0 10 0 10 0 10 0 10 0 10 0 10 0 10 0 10 0 10 0 10 0 10 0 10 0 10 0 10 0 10 0 10 0 10 0 10 0 10 0 10 0 10 0 10 0 10 0 10 0 10 0 10 0 10 0 10 0 10 0 10 0 10 0 10 0 10 0 10 0 10 0 10 0 10 0 10 0 10 0 10 0 10 0 10 0 10 0 10 0 10 0 10 0 10 0 10 0 10 0 10 0 10 0 10 0 10 0 10 0 10 0 10 0 10 0 10 0 10 0 10 0 10 0 10 0 10 0 10 0 10 0 10 0 10 0 10 0 10 0 10 0 10 0 10 0 10 0 10 0 10 0 10 0 10 0 10 0 10 0 10 0 10 0 10 0 10 0 10 0 10 0 10 0 10 0 10 0 10 0 10 0 10 0 10 0 10 0 10 0 10 0 10 0 10 0 10 0 10 0 10 0 10 0 10 0 10 0 10 0 10 0 10 0 10 0 10 0 10 0 10 0 10 0 10 0 10 0 10 0 10 0 10 0 10 0 10 0 10 0 10 0 10 0 10 0 10 0 10 0 10 0 10 0 10 0 10 0 10 0 10 0 10 0 10 0 10 0 10 0 10 0 10 0 10 0 10 0 10 0 10 0 10 0 10 0 10 0 10 0 10 0 10 0 10 0 10 0 10 0 10 0 10 0 10 0 10 0 10 0 10 0 10 0 10 0 10 0 10 0 10 0 10 0 10 0 10 0 10 0 10 0 10 0 10 0 10 0 10 0 10 0 10 0 10 0 10 0 10 0 10 0 10 0 10 0 10 0 10 0 10 0 10 0 10 0 10 0 10 0 10 0 10 0 10 0 10 0 10 0 10 0 10 0 10 0 10 0 10 0 10 0 10 0 10 0 10 0 10 0 10 0 10 0 10 0 10 0 10 0 10 0 10 0 10 0 10 0 10 0 10 0 10 0 10 0 10 0 10 0 10 0 10 0 10 0 10zM1817 5012l-10-2-10-2-10-3-10-2-10-3-10-4-10-4-10-4-10-5-10-5-10-5-10-6-10-6-10-6-5-4-5-3-9-7-11-8-10-9-10-9-4-4-6-5-5-5-5-5-5-5-5-5-5-5-5-5-3-5-7-7-10-12-8-11-8-10-4-4-4-6-6-8-9-12-8-10-7-10-6-7-9-13-6-10-5-7-8-13-7-10-5-8-7-12-3-5-3-5-5-10-6-10-6-9-6-11-4-7-7-13-3-5-8-15-6-10-6-10-5-10-5-8-6-12-4-6-8-14-5-10-6-10-5-10-5-10-5-10-6-10-5-10-5-9-5-11-5-8-6-12-4-6-7-14-6-10-6-10-6-10-5-7-9-13-7-10-4-5-3-5-7-8-8-12-8-10-4-4-4-6-6-7-9-13-7-10-4-4-4-6-6-7-9-13-7-10-4-5-3-5-7-9-7-11-7-10-6-8-8-12-6-10-6-9-6-11-4-5-9-15-5-10-6-9-6-11-4-7-8-13-5-10-7-10-6-10-4-7-7-13-3-5-8-15-5-10-6-10-5-10-6-10-4-10-5-10-5-10-4-10-5-10-4-10-3-5-7-15-3-6-6-14-4-8-5-12-4-10-4-10-4-10-3-6-5-14-4-10-3-10-4-10-4-10-3-10-3-10-4-10-3-10-3-10-3-10-3-10-3-10-3-10-3-10-3-10-2-10-2-10-2-6-3-14-2-10-2-10-3-10-2-10-1-10-2-10-2-10-1-10-2-9-1-11-1-10-1-10-1-10-1-10-2-10-1-10-1-10-1-8-1-12-1-10-1-10-1-10-1-10-1-10-1-10-1-10 0-10 0-10 0-10 0-10 1-10 1-10 1-10 1-10 2-10 2-7 4-13 4-10 2-6 7-14 3-7 8-13 8-10 4-5 5-5 5-5 5-5 5-4 7-6 13-10 10-6 7-4 13-6 9-4 11-5 10-4 10-3 10-3 10-3 8-2 12-2 10-2 10-2 10-1 10-2 8-1 12-1 10 0 10 0 10 0 10 0 10 0 10 0 10 1 10 1 10 1 10 1 10 1 10 1 10 2 10 2 8 1 12 3 10 2 10 3 10 2 10 4 10 3 10 3 10 3 10 2 10-2 9-3 11-5 10-4 10-5 10-4 10-4 10-3 10-3 10-3 10-3 10-2 10-3 10-2 10-2 10-2 10-1 10-1 10-1 10 0 10-1 10 0 10 1 10 0 10 1 10 1 10 1 10 1 10 1 10 1 10 2 10 1 10 2 10 2 10 1 10 2 8 2 12 4 10 2 10 3 10 3 10 3 10 3 7 2 13 5 10 4 10 4 10 4 7 3 13 8 10 6 10 6 10 6 6 4 14 10 10 8 10 8 5 4 5 5 6 5 4 4 7 6 11 10 11 10 10 10 11 10 10 10 10 10 10 10 10 10 10 10 9 10 9 10 8 10 4 5 5 5 5 7 10 13 7 10 8 10 5 8 8 12 6 10 6 10 7 10 3 6 9 14 6 10 5 9 7 11 3 6 8 14 6 10 6 10 5 10 5 10 5 10 5 10 5 10 4 10 5 10 5 10 4 10 5 10 2 7 5 13 4 10 4 10 4 10 3 9 4 11 3 10 3 9 4 11 3 10 3 10 4 10 3 10 3 9 4 11 3 10 3 10 4 10 3 10 3 10 4 10 3 10 3 10 3 10 3 10 3 10 3 10 3 10 3 10 2 7 4 13 3 10 3 10 3 10 3 10 3 10 3 10 2 10 3 10 3 10 2 10 3 10 2 10 2 10 2 10 2 10 2 10 2 10 1 10 1 10 1 10 1 10 1 10 0 10 1 10 0 10 1 10 0 10 1 10 0 10 1 10 0 10 0 10 0 10 0 10 0 10 0 10 0 10 0 10 0 10-1 10 0 10-1 10 0 10-1 10-1 10-1 10-2 10-2 10-1 10-2 10-2 10-2 10-2 10-2 10-2 10-2 10-2 6-3 14-3 10-3 10-3 10-3 10-3 10-2 6-5 14-4 10-3 10-4 10-4 9-5 11-4 10-5 10-5 10-5 10-5 10-6 10-5 10-5 10-5 8-8 12-6 10-6 10-6 10-4 7-8 13-7 10-5 7-9 13-7 10-4 6-10 14-8 10-8 10-4 5-5 5-5 6-4 4-6 6-4 4-6 6-4 4-6 5-6 5-4 4-7 6-13 10-10 7-5 3-5 4-10 6-10 7-5 3-5 3-10 6-10 6-10 5-10 5-10 4-10 4-10 4-10 3-10 3-10 2-10 3-10 2-10 2-10 1-10 1-10 1-10 0-10 1-10-1-10 0-10-1-10-1-10-2z" fill="#1f968b" fill-rule="evenodd"/>
<path d="M527 5271l10 0 10 0 10 0 10 0 10 0 10 0 10 0 10 0 10 0 10 0 10 0 10 0 10 0 10 0 10 0 10 0 10 0 10 0 10 0 10 0 10 0 10 0 10 0 10 0 10 0 10 0 10 0 10 0 10 0 10 0 10 0 10 0 10 0 10 0 10 0 10 0 10 0 10 0 10 0 10 0 10 0 10 0 10 0 10 0 10 0 10 0 10 0 10 0 10 0 10 0 10 0 10 0 10 0 10 0 10 0 10 0 10 0 10 0 10 0 10 0 10 0 10 0 10 0 10 0 10 0 10 0 10 0 10 0 10 0 10 0 10 0 10 0 10 0 10 0 10 0 10 0 10 0 10 0 10 0 10 0 10 0 10 0 10 0 10 0 10 0 10 0 10 0 10 0 10 0 10 0 10 0 10 0 10 0 10 0 10 0 10 0 10 0 10 0 10 0 10 0 10 0 10 0 10 0 10 0 10 0 10 0 10 0 10 0 10 0 10 0 10 0 10 0 10 0 10 0 10 0 10 0 10 0 10 0 10 0 10 0 10 0 10 0 10 0 10 0 10 0 10 0 10 0 10 0 10 0 10 0 10 0 10 0 10 0 10 0 10 0 10 0 10 0 10 0 10 0 10 0 10 0 10 0 10 0 10 0 10 0 10 0 10 0 10 0 10 0 10 0 10 0 10 0 10 0 10 0 10 0 10 0 10 0 10 0 10 0 10 0 10 0 10 0 10 0 10 0 10 0 10 0 10 0 10 0 10 0 10 0 10 0 10 0 10 0 10 0 10 0 10 0 10 0 10 0 10 0 10 0 10 0 10 0 10 0 10 0 10 0 10 0 10 0 10 0 10 0 10 0 10 0 10 0 10 0 10 0 10 0 10 0 10 0 10 0 10 0 10 0 10 0 10 0 10 0 10 0 10 0 10 0 10 0 10 0 10 0 10 0 10 0 10 0 10 0 10 0 10 0 10 0 10 0 10 0 10 0 10 0 10 0 10 0 10 0 10 0 10 0 10 0 10 0 10 0 0-10 0-10 0-10 0-10 0-10 0-10 0-10 0-10 0-10 0-10 0-10 0-10 0-10 0-10 0-10 0-10 0-10 0-10 0-10 0-10 0-10 0-10 0-10 0-10 0-10 0-10 0-10 0-10 0-10 0-10 0-10 0-10 0-10 0-10 0-10 0-10 0-10 0-10 0-10 0-10 0-10 0-10 0-10 0-10 0-10 0-10 0-10 0-10 0-10 0-10 0-10 0-10 0-10 0-10 0-10 0-10 0-10 0-10 0-10 0-10 0-10 0-10 0-10 0-10 0-10 0-10 0-10 0-10 0-10 0-10 0-10 0-10 0-10 0-10 0-10 0-10 0-10 0-10 0-10 0-10 0-10 0-10 0-10 0-10 0-10 0-10 0-10 0-10 0-10 0-10 0-10 0-10 0-10 0-10 0-10 0-10 0-10 0-10 0-10 0-10 0-10 0-10 0-10 0-10 0-10 0-10 0-10 0-10 0-10 0-10 0-10 0-10 0-10 0-10 0-10 0-10 0-10 0-10 0-10 0-10 0-10 0-10 0-10 0-10 0-10 0-10 0-10 0-10 0-10 0-10 0-10 0-10 0-10 0-10 0-10 0-10 0-10 0-10 0-10 0-10 0-10 0-10 0-10 0-10 0-10 0-10 0-10 0-10 0-10 0-10 0-10 0-10 0-10 0-10 0-10 0-10 0-10 0-10 0-10 0-10 0-10 0-10 0-10 0-10 0-10 0-10 0-10 0-10 0-10 0-10 0-10 0-10 0-10 0-10 0-10 0-10 0-10 0-10 0-10 0-10 0-10 0-10 0-10 0-10 0-10 0-10 0-10 0-10 0-10 0-10 0-10 0-10 0-10 0-10 0-10 0-10 0-10 0-10 0-10 0-10 0-10 0-10 0-10 0-10 0-10 0-10 0-10 0-10 0-10 0-10 0-10 0-10 0-10 0-10 0-10 0-10 0-10 0-10 0-10 0-10 0-10 0-10 0-10 0-10 0-10 0-10 0-10 0-10 0-10 0-10 0-10 0-10 0-10 0-10 0-10 0-10 0-10 0-10 0-10 0-10 0-10 0-10 0-10 0-10 0-10 0-10 0-10 0-10 0-10 0-10-10 0-10 0-10 0-10 0-10 0-10 0-10 0-10 0-10 0-10 0-10 0-10 0-10 0-10 0-10 0-10 0-10 0-10 0-10 0-10 0-10 0-10 0-10 0-10 0-10 0-10 0-10 0-10 0-10 0-10 0-10 0-10 0-10 0-10 0-10 0-10 0-10 0-10 0-10 0-10 0-10 0-10 0-10 0-10 0-10 0-10 0-10 0-10 0-10 0-10 0-10 0-10 0-10 0-10 0-10 0-10 0-10 0-10 0-10 0-10 0-10 0-10 0-10 0-10 0-10 0-10 0-10 0-10 0-10 0-10 0-10 0-10 0-10 0-10 0-10 0-10 0-10 0-10 0-10 0-10 0-10 0-10 0-10 0-10 0-10 0-10 0-10 0-10 0-10 0-10 0-10 0-10 0-10 0-10 0-10 0-10 0-10 0-10 0-10 0-10 0-10 0-10 0-10 0-10 0-10 0-10 0-10 0-10 0-10 0-10 0-10 0-10 0-10 0-10 0-10 0-10 0-10 0-10 0-10 0-10 0-10 0-10 0-10 0-10 0-10 0-10 0-10 0-10 0-10 0-10 0-10 0-10 0-10 0-10 0-10 0-10 0-10 0-10 0-10 0-10 0-10 0-10 0-10 0-10 0-10 0-10 0-10 0-10 0-10 0-10 0-10 0-10 0-10 0-10 0-10 0-10 0-10 0-10 0-10 0-10 0-10 0-10 0-10 0-10 0-10 0-10 0-10 0-10 0-10 0-10 0-10 0-10 0-10 0-10 0-10 0-10 0-10 0-10 0-10 0-10 0-10 0-10 0-10 0-10 0-10 0-10 0-10 0-10 0-10 0-10 0-10 0-10 0-10 0-10 0-10 0-10 0-10 0-10 0-10 0-10 0-10 0-10 0-10 0-10 0-10 0-10 0-10 0-10 0-10 0-10 0-10 0-10 0-10 0-10 0-10 0-10 0-10 0-10 0-10 0-10 0-10 0-10 0-10 0-10 0-10 0-10 0-10 0-10 0 0 10 0 10 0 10 0 10 0 10 0 10 0 10 0 10 0 10 0 10 0 10 0 10 0 10 0 10 0 10 0 10 0 10 0 10 0 10 0 10 0 10 0 10 0 10 0 10 0 10 0 10 0 10 0 10 0 10 0 10 0 10 0 10 0 10 0 10 0 10 0 10 0 10 0 10 0 10 0 10 0 10 0 10 0 10 0 10 0 10 0 10 0 10 0 10 0 10 0 10 0 10 0 10 0 10 0 10 0 10 0 10 0 10 0 10 0 10 0 10 0 10 0 10 0 10 0 10 0 10 0 10 0 10 0 10 0 10 0 10 0 10 0 10 0 10 0 10 0 10 0 10 0 10 0 10 0 10 0 10 0 10 0 10 0 10 0 10 0 10 0 10 0 10 0 10 0 10 0 10 0 10 0 10 0 10 0 10 0 10 0 10 0 10 0 10 0 10 0 10 0 10 0 10 0 10 0 10 0 10 0 10 0 10 0 10 0 10 0 10 0 10 0 10 0 10 0 10 0 10 0 10 0 10 0 10 0 10 0 10 0 10 0 10 0 10 0 10 0 10 0 10 0 10 0 10 0 10 0 10 0 10 0 10 0 10 0 10 0 10 0 10 0 10 0 10 0 10 0 10 0 10 0 10 0 10 0 10 0 10 0 10 0 10 0 10 0 10 0 10 0 10 0 10 0 10 0 10 0 10 0 10 0 10 0 10 0 10 0 10 0 10 0 10 0 10 0 10 0 10 0 10 0 10 0 10 0 10 0 10 0 10 0 10 0 10 0 10 0 10 0 10 0 10 0 10 0 10 0 10 0 10 0 10 0 10 0 10 0 10 0 10 0 10 0 10 0 10 0 10 0 10 0 10 0 10 0 10 0 10 0 10 0 10 0 10 0 10 0 10 0 10 0 10 0 10 0 10 0 10 0 10 0 10 0 10 0 10 0 10 0 10 0 10 0 10 0 10 0 10 0 10 0 10 0 10 0 10 0 10 0 10 0 10 0 10 0 10 0 10 0 10 0 10 0 10 0 10 0 10 0 10 0 10 0 10 0 10 0 10 0 10 0 10 0 10 0 10 0 10 0 10 0 10 0 10 0 10 0 10 0 10 0 10 0 10 0 10 0 10zM1807 5033l-8-2-12-3-10-2-10-3-6-2-14-5-10-4-10-4-10-5-10-5-10-6-10-5-9-6-11-7-10-7-8-6-12-9-10-8-10-9-10-10-4-4-6-5-4-5-6-5-4-5-6-6-10-11-10-12-9-11-8-10-8-10-5-7-10-13-7-10-8-10-5-6-10-14-7-10-6-10-7-9-7-11-3-5-3-5-6-10-6-10-5-8-7-12-3-5-3-5-6-10-6-10-5-9-6-11-4-7-7-13-6-10-6-10-6-10-5-9-6-11-4-6-8-14-5-10-6-10-5-10-5-10-6-10-5-9-6-11-4-7-6-13-4-6-7-14-6-10-5-10-6-10-6-9-6-11-4-5-3-5-7-9-7-11-7-10-6-7-9-13-8-10-8-10-5-7-9-13-8-10-7-10-6-7-9-13-7-10-4-5-3-5-7-10-7-10-6-10-7-9-6-11-4-5-3-5-6-10-6-10-5-8-7-12-6-10-6-10-5-10-6-9-6-11-4-6-8-14-6-10-6-10-5-10-5-8-6-12-4-6-7-14-6-10-5-10-5-10-5-10-5-10-4-10-3-5-6-15-4-7-6-13-4-8-5-12-5-10-4-10-4-10-4-10-5-10-3-7-5-13-4-10-3-10-4-10-4-10-3-10-4-10-3-9-3-11-4-10-3-10-3-10-3-10-3-10-3-10-2-10-3-10-2-10-3-10-2-10-2-10-3-10-2-10-2-10-2-10-2-10-1-10-2-8-2-12-1-10-1-10-1-10-1-10-1-10-2-10-1-9-1-11-1-10-1-10-1-10-1-10-1-10-1-10-1-10-1-10 0-10-1-10 0-10 0-10 1-10 0-10 1-10 1-10 1-10 1-10 2-10 3-10 2-10 4-10 3-10 5-10 4-10 6-10 6-10 7-10 8-10 5-5 5-5 5-5 5-5 5-4 8-6 12-9 10-6 10-5 10-5 10-4 10-4 10-4 6-3 14-4 10-3 10-2 10-3 10-2 10-2 10-1 10-2 7-1 13-1 10-1 10-1 10 0 10 0 10 0 10 0 10 0 10 0 10 1 10 1 10 0 10 1 10 1 10 2 10 1 10 2 10 2 10 1 10 2 10 3 10 2 10 3 10 3 10 2 10 1 10-2 8-3 12-5 10-3 10-4 10-3 10-3 7-2 13-3 10-3 10-2 9-2 11-2 10-2 10-1 10-2 10-1 10 0 10-1 10 0 10 0 10 0 10 0 10 1 10 0 10 1 10 1 10 1 10 2 10 1 10 1 8 1 12 2 10 2 10 2 10 2 10 2 10 2 10 3 10 3 9 2 11 4 10 3 10 3 10 4 10 3 8 3 12 5 10 5 10 5 9 5 11 7 6 3 14 9 10 7 6 4 4 4 9 6 11 9 10 8 10 9 5 4 5 5 6 5 4 4 7 6 11 10 10 10 11 10 11 10 10 10 10 10 10 10 10 10 9 10 9 10 8 10 4 5 4 5 6 8 10 12 7 10 3 5 4 5 6 9 7 11 3 5 4 5 6 10 6 10 4 7 8 13 7 10 5 10 7 10 3 7 8 13 5 10 6 10 5 10 5 10 5 10 5 10 5 10 5 10 5 10 4 10 5 10 4 10 3 8 5 12 4 10 4 10 4 10 3 9 4 11 4 10 2 8 4 12 3 10 3 9 4 11 4 10 2 7 5 13 3 10 2 7 5 13 3 10 2 7 5 13 3 10 2 6 5 14 3 10 2 9 4 11 3 10 3 10 3 10 3 10 3 10 3 10 3 10 3 10 2 9 3 11 3 10 3 10 3 10 2 10 2 10 3 10 1 7 3 13 2 10 2 10 2 10 1 10 2 10 1 10 1 10 1 10 0 10 1 10 1 10 0 10 1 10 1 10 0 10 1 10 0 9 1 11 0 10 0 10 0 10-1 10 1 10 0 10 0 10 0 10-1 9 0 11-1 10-1 10 0 10-1 10-1 10-2 10-1 10-2 10-1 10-2 10-2 10-2 10-2 10-2 8-3 12-2 10-2 10-3 10-2 10-3 10-4 10-3 10-3 10-3 10-4 10-4 10-4 10-4 10-4 10-5 10-4 10-3 5-7 15-3 5-3 5-5 10-5 10-6 10-5 10-6 9-7 11-3 5-3 5-6 10-6 10-5 8-7 12-7 10-6 8-8 12-7 10-5 7-9 13-8 10-8 10-5 6-4 4-6 7-10 10-10 10-10 10-10 9-5 4-5 4-7 6-13 10-10 7-5 3-5 3-10 7-10 6-7 4-13 8-10 6-10 4-10 5-10 5-6 2-14 6-10 3-10 3-10 3-10 3-10 2-10 2-10 2-10 2-10 1-10 0-10 1-10 0-10 0-10 0-10-1-10-2-10-1-10-2z" fill="#1fa287" fill-rule="evenodd"/>
<path d="M527 5271l10 0 10 0 10 0 10 0 10 0 10 0 10 0 10 0 10 0 10 0 10 0 10 0 10 0 10 0 10 0 10 0 10 0 10 0 10 0 10 0 10 0 10 0 10 0 10 0 10 0 10 0 10 0 10 0 10 0 10 0 10 0 10 0 10 0 10 0 10 0 10 0 10 0 10 0 10 0 10 0 10 0 10 0 10 0 10 0 10 0 10 0 10 0 10 0 10 0 10 0 10 0 10 0 10 0 10 0 10 0 10 0 10 0 10 0 10 0 10 0 10 0 10 0 10 0 10 0 10 0 10 0 10 0 10 0 10 0 10 0 10 0 10 0 10 0 10 0 10 0 10 0 10 0 10 0 10 0 10 0 10 0 10 0 10 0 10 0 10 0 10 0 10 0 10 0 10 0 10 0 10 0 10 0 10 0 10 0 10 0 10 0 10 0 10 0 10 0 10 0 10 0 10 0 10 0 10 0 10 0 10 0 10 0 10 0 10 0 10 0 10 0 10 0 10 0 10 0 10 0 10 0 10 0 10 0 10 0 10 0 10 0 10 0 10 0 10 0 10 0 10 0 10 0 10 0 10 0 10 0 10 0 10 0 10 0 10 0 10 0 10 0 10 0 10 0 10 0 10 0 10 0 10 0 10 0 10 0 10 0 10 0 10 0 10 0 10 0 10 0 10 0 10 0 10 0 10 0 10 0 10 0 10 0 10 0 10 0 10 0 10 0 10 0 10 0 10 0 10 0 10 0 10 0 10 0 10 0 10 0 10 0 10 0 10 0 10 0 10 0 10 0 10 0 10 0 10 0 10 0 10 0 10 0 10 0 10 0 10 0 10 0 10 0 10 0 10 0 10 0 10 0 10 0 10 0 10 0 10 0 10 0 10 0 10 0 10 0 10 0 10 0 10 0 10 0 10 0 10 0 10 0 10 0 10 0 10 0 10 0 10 0 10 0 10 0 10 0 10 0 10 0 10 0 10 0 10 0 10 0 10 0 10 0 10 0 10 0 10 0 10 0 10 0 10 0 0-10 0-10 0-10 0-10 0-10 0-10 0-10 0-10 0-10 0-10 0-10 0-10 0-10 0-10 0-10 0-10 0-10 0-10 0-10 0-10 0-10 0-10 0-10 0-10 0-10 0-10 0-10 0-10 0-10 0-10 0-10 0-10 0-10 0-10 0-10 0-10 0-10 0-10 0-10 0-10 0-10 0-10 0-10 0-10 0-10 0-10 0-10 0-10 0-10 0-10 0-10 0-10 0-10 0-10 0-10 0-10 0-10 0-10 0-10 0-10 0-10 0-10 0-10 0-10 0-10 0-10 0-10 0-10 0-10 0-10 0-10 0-10 0-10 0-10 0-10 0-10 0-10 0-10 0-10 0-10 0-10 0-10 0-10 0-10 0-10 0-10 0-10 0-10 0-10 0-10 0-10 0-10 0-10 0-10 0-10 0-10 0-10 0-10 0-10 0-10 0-10 0-10 0-10 0-10 0-10 0-10 0-10 0-10 0-10 0-10 0-10 0-10 0-10 0-10 0-10 0-10 0-10 0-10 0-10 0-10 0-10 0-10 0-10 0-10 0-10 0-10 0-10 0-10 0-10 0-10 0-10 0-10 0-10 0-10 0-10 0-10 0-10 0-10 0-10 0-10 0-10 0-10 0-10 0-10 0-10 0-10 0-10 0-10 0-10 0-10 0-10 0-10 0-10 0-10 0-10 0-10 0-10 0-10 0-10 0-10 0-10 0-10 0-10 0-10 0-10 0-10 0-10 0-10 0-10 0-10 0-10 0-10 0-10 0-10 0-10 0-10 0-10 0-10 0-10 0-10 0-10 0-10 0-10 0-10 0-10 0-10 0-10 0-10 0-10 0-10 0-10 0-10 0-10 0-10 0-10 0-10 0-10 0-10 0-10 0-10 0-10 0-10 0-10 0-10 0-10 0-10 0-10 0-10 0-10 0-10 0-10 0-10 0-10 0-10 0-10 0-10 0-10 0-10 0-10 0-10 0-10 0-10 0-10 0-10 0-10 0-10 0-10 0-10 0-10 0-10 0-10 0-10 0-10 0-10 0-10 0-10 0-10 0-10 0-10 0-10 0-10 0-10 0-10 0-10 0-10 0-10 0-10 0-10 0-10 0-10-10 0-10 0-10 0-10 0-10 0-10 0-10 0-10 0-10 0-10 0-10 0-10 0-10 0-10 0-10 0-10 0-10 0-10 0-10 0-10 0-10 0-10 0-10 0-10 0-10 0-10 0-10 0-10 0-10 0-10 0-10 0-10 0-10 0-10 0-10 0-10 0-10 0-10 0-10 0-10 0-10 0-10 0-10 0-10 0-10 0-10 0-10 0-10 0-10 0-10 0-10 0-10 0-10 0-10 0-10 0-10 0-10 0-10 0-10 0-10 0-10 0-10 0-10 0-10 0-10 0-10 0-10 0-10 0-10 0-10 0-10 0-10 0-10 0-10 0-10 0-10 0-10 0-10 0-10 0-10 0-10 0-10 0-10 0-10 0-10 0-10 0-10 0-10 0-10 0-10 0-10 0-10 0-10 0-10 0-10 0-10 0-10 0-10 0-10 0-10 0-10 0-10 0-10 0-10 0-10 0-10 0-10 0-10 0-10 0-10 0-10 0-10 0-10 0-10 0-10 0-10 0-10 0-10 0-10 0-10 0-10 0-10 0-10 0-10 0-10 0-10 0-10 0-10 0-10 0-10 0-10 0-10 0-10 0-10 0-10 0-10 0-10 0-10 0-10 0-10 0-10 0-10 0-10 0-10 0-10 0-10 0-10 0-10 0-10 0-10 0-10 0-10 0-10 0-10 0-10 0-10 0-10 0-10 0-10 0-10 0-10 0-10 0-10 0-10 0-10 0-10 0-10 0-10 0-10 0-10 0-10 0-10 0-10 0-10 0-10 0-10 0-10 0-10 0-10 0-10 0-10 0-10 0-10 0-10 0-10 0-10 0-10 0-10 0-10 0-10 0-10 0-10 0-10 0-10 0-10 0-10 0-10 0-10 0-10 0-10 0-10 0-10 0-10 0-10 0-10 0-10 0-10 0-10 0-10 0-10 0-10 0-10 0-10 0-10 0-10 0-10 0-10 0-10 0-10 0-10 0-10 0-10 0-10 0-10 0-10 0-10 0-10 0-10 0 0 10 0 10 0 10 0 10 0 10 0 10 0 10 0 10 0 10 0 10 0 10 0 10 0 10 0 10 0 10 0 10 0 10 0 10 0 10 0 10 0 10 0 10 0 10 0 10 0 10 0 10 0 10 0 10 0 10 0 10 0 10 0 10 0 10 0 10 0 10 0 10 0 10 0 10 0 10 0 10 0 10 0 10 0 10 0 10 0 10 0 10 0 10 0 10 0 10 0 10 0 10 0 10 0 10 0 10 0 10 0 10 0 10 0 10 0 10 0 10 0 10 0 10 0 10 0 10 0 10 0 10 0 10 0 10 0 10 0 10 0 10 0 10 0 10 0 10 0 10 0 10 0 10 0 10 0 10 0 10 0 10 0 10 0 10 0 10 0 10 0 10 0 10 0 10 0 10 0 10 0 10 0 10 0 10 0 10 0 10 0 10 0 10 0 10 0 10 0 10 0 10 0 10 0 10 0 10 0 10 0 10 0 10 0 10 0 10 0 10 0 10 0 10 0 10 0 10 0 10 0 10 0 10 0 10 0 10 0 10 0 10 0 10 0 10 0 10 0 10 0 10 0 10 0 10 0 10 0 10 0 10 0 10 0 10 0 10 0 10 0 10 0 10 0 10 0 10 0 10 0 10 0 10 0 10 0 10 0 10 0 10 0 10 0 10 0 10 0 10 0 10 0 10 0 10 0 10 0 10 0 10 0 10 0 10 0 10 0 10 0 10 0 10 0 10 0 10 0 10 0 10 0 10 0 10 0 10 0 10 0 10 0 10 0 10 0 10 0 10 0 10 0 10 0 10 0 10 0 10 0 10 0 10 0 10 0 10 0 10 0 10 0 10 0 10 0 10 0 10 0 10 0 10 0 10 0 10 0 10 0 10 0 10 0 10 0 10 0 10 0 10 0 10 0 10 0 10 0 10 0 10 0 10 0 10 0 10 0 10 0 10 0 10 0 10 0 10 0 10 0 10 0 10 0 10 0 10 0 10 0 10 0 10 0 10 0 10 0 10 0 10 0 10 0 10 0 10 0 10 0 10 0 10 0 10 0 10 0 10 0 10 0 10 0 10 0 10 0 10 0 10 0 10 0 10 0 10 0 10 0 10 0 10 0 10 0 10 0 10zM1797 5052l-10-3-10-2-10-3-10-3-10-3-10-4-7-3-13-6-8-4-12-6-7-4-13-7-10-6-10-7-10-7-10-7-7-6-12-10-11-10-10-9-10-9-10-10-10-11-10-11-8-10-8-10-4-4-5-6-5-6-10-13-8-11-7-10-5-5-3-5-7-8-8-12-7-10-5-6-9-14-7-10-4-6-9-14-6-10-5-7-7-13-6-10-6-10-6-10-5-7-7-13-3-5-3-5-5-10-6-10-6-9-6-11-4-6-8-14-6-10-5-10-6-10-5-8-6-12-4-6-7-14-6-10-6-10-5-10-6-10-5-10-5-9-6-11-4-7-7-13-6-10-6-10-6-10-5-6-9-14-7-10-4-5-3-5-7-9-8-11-8-10-4-5-3-5-7-9-7-11-8-10-5-7-9-13-7-10-4-5-3-5-7-9-7-11-7-10-6-9-7-11-3-5-3-5-6-10-6-10-5-7-7-13-6-10-6-10-6-10-5-9-6-11-4-6-8-14-6-10-6-9-6-11-4-7-7-13-3-5-8-15-5-10-6-10-5-10-6-10-4-10-5-10-5-10-5-10-4-10-5-10-5-10-5-10-4-10-5-10-3-6-6-14-4-10-4-10-4-10-4-10-4-10-4-9-4-11-4-10-2-6-5-14-3-10-3-10-4-10-3-10-3-10-3-10-3-10-3-8-3-12-3-10-2-10-2-6-3-14-2-10-3-10-2-9-2-11-2-10-2-10-2-10-2-10-1-10-2-10-1-10-1-10-1-10-1-10-1-10-2-10-1-10-1-10-1-10-1-10-1-10-1-10-1-10-1-10 0-10-1-10 0-10-1-10 1-10 0-10 0-10 1-10 0-10 1-10 1-10 2-10 2-10 2-10 2-10 3-10 4-10 4-10 4-10 3-7 7-13 3-5 3-5 7-10 8-10 9-10 10-10 12-10 11-9 10-6 8-5 12-7 7-3 13-6 10-4 10-4 10-4 6-2 14-4 10-2 10-3 10-2 10-2 10-2 10-2 10-1 10-2 10-1 10-1 10 0 10-1 10 0 10 0 10 0 10 0 10 0 10 0 10 1 10 0 10 1 10 1 10 1 10 1 10 1 10 2 10 1 10 2 10 2 10 2 10 2 10 2 10 2 10 0 10-2 10-3 7-3 13-4 10-2 10-3 10-2 10-2 10-2 10-3 10-1 10-2 10-2 10-1 10-1 10-1 10-1 10 0 10 0 10 0 10 0 10 0 10 0 10 0 10 1 10 1 10 1 10 1 10 1 10 1 7 1 13 2 10 2 10 1 10 2 10 2 10 2 10 2 10 3 10 3 10 3 10 2 10 3 9 3 11 4 10 4 6 2 14 6 10 4 10 5 10 5 10 6 7 4 13 8 10 6 9 6 11 9 10 7 5 4 5 4 8 6 12 10 10 9 10 9 10 10 10 9 10 9 5 4 5 5 6 5 4 4 7 6 10 10 10 10 11 10 9 10 9 10 4 5 5 5 5 6 10 13 9 11 8 10 3 5 4 5 6 9 8 11 6 10 6 9 7 11 3 6 9 14 6 10 5 8 8 12 6 10 5 10 6 10 5 9 6 11 4 8 6 12 4 8 6 12 4 8 6 12 4 9 6 11 4 10 5 10 4 10 4 10 4 10 3 9 5 11 3 10 4 10 4 10 3 10 4 10 3 10 3 10 4 10 3 10 4 10 3 10 4 10 3 10 4 10 3 10 3 10 4 10 3 10 3 9 4 11 3 10 3 10 3 10 3 10 3 10 3 10 3 10 3 10 2 7 4 13 3 10 3 10 3 10 3 10 2 10 2 7 4 13 2 10 2 10 2 8 3 12 2 10 2 10 2 10 1 9 2 11 1 10 1 10 1 10 1 10 1 10 1 10 1 10 0 10 1 10 1 10 1 10 0 10 1 10 0 10 0 10 0 10 0 10 0 10 0 10 0 10 1 10-1 10 0 10-1 10 0 10-1 10-1 10 0 10-1 10-2 10-1 10-2 10-1 10-1 10-2 8-2 12-2 10-3 10-2 10-2 10-2 10-3 10-2 10-2 6-4 14-3 10-3 7-4 13-4 10-4 10-4 10-4 10-4 10-5 10-4 10-5 10-5 10-5 10-5 10-6 10-6 10-5 10-5 10-5 7-8 13-6 10-6 9-6 11-4 6-9 14-7 10-4 6-10 14-6 10-4 5-4 5-6 8-9 12-8 10-8 10-5 5-4 5-6 6-4 4-6 6-4 4-6 6-5 4-5 5-6 5-4 4-7 6-13 10-10 8-10 6-9 6-11 7-10 7-10 6-10 6-7 4-13 6-8 4-12 6-10 4-10 4-10 3-10 3-10 3-10 3-10 3-10 2-10 2-10 2-10 1-10 1-10 1-10 0-10 0-10 0-10 0-10-1-10-1-10-2-10-1-10-2z" fill="#28ae80" fill-rule="evenodd"/>
<path d="M527 5271l10 0 10 0 10 0 10 0 10 0 10 0 10 0 10 0 10 0 10 0 10 0 10 0 10 0 10 0 10 0 10 0 10 0 10 0 10 0 10 0 10 0 10 0 10 0 10 0 10 0 10 0 10 0 10 0 10 0 10 0 10 0 10 0 10 0 10 0 10 0 10 0 10 0 10 0 10 0 10 0 10 0 10 0 10 0 10 0 10 0 10 0 10 0 10 0 10 0 10 0 10 0 10 0 10 0 10 0 10 0 10 0 10 0 10 0 10 0 10 0 10 0 10 0 10 0 10 0 10 0 10 0 10 0 10 0 10 0 10 0 10 0 10 0 10 0 10 0 10 0 10 0 10 0 10 0 10 0 10 0 10 0 10 0 10 0 10 0 10 0 10 0 10 0 10 0 10 0 10 0 10 0 10 0 10 0 10 0 10 0 10 0 10 0 10 0 10 0 10 0 10 0 10 0 10 0 10 0 10 0 10 0 10 0 10 0 10 0 10 0 10 0 10 0 10 0 10 0 10 0 10 0 10 0 10 0 10 0 10 0 10 0 10 0 10 0 10 0 10 0 10 0 10 0 10 0 10 0 10 0 10 0 10 0 10 0 10 0 10 0 10 0 10 0 10 0 10 0 10 0 10 0 10 0 10 0 10 0 10 0 10 0 10 0 10 0 10 0 10 0 10 0 10 0 10 0 10 0 10 0 10 0 10 0 10 0 10 0 10 0 10 0 10 0 10 0 10 0 10 0 10 0 10 0 10 0 10 0 10 0 10 0 10 0 10 0 10 0 10 0 10 0 10 0 10 0 10 0 10 0 10 0 10 0 10 0 10 0 10 0 10 0 10 0 10 0 10 0 10 0 10 0 10 0 10 0 10 0 10 0 10 0 10 0 10 0 10 0 10 0 10 0 10 0 10 0 10 0 10 0 10 0 10 0 10 0 10 0 10 0 10 0 10 0 10 0 10 0 10 0 10 0 10 0 10 0 10 0 10 0 10 0 10 0 10 0 10 0 10 0 10 0 10 0 10 0 0-10 0-10 0-10 0-10 0-10 0-10 0-10 0-10 0-10 0-10 0-10 0-10 0-10 0-10 0-10 0-10 0-10 0-10 0-10 0-10 0-10 0-10 0-10 0-10 0-10 0-10 0-10 0-10 0-10 0-10 0-10 0-10 0-10 0-10 0-10 0-10 0-10 0-10 0-10 0-10 0-10 0-10 0-10 0-10 0-10 0-10 0-10 0-10 0-10 0-10 0-10 0-10 0-10 0-10 0-10 0-10 0-10 0-10 0-10 0-10 0-10 0-10 0-10 0-10 0-10 0-10 0-10 0-10 0-10 0-10 0-10 0-10 0-10 0-10 0-10 0-10 0-10 0-10 0-10 0-10 0-10 0-10 0-10 0-10 0-10 0-10 0-10 0-10 0-10 0-10 0-10 0-10 0-10 0-10 0-10 0-10 0-10 0-10 0-10 0-10 0-10 0-10 0-10 0-10 0-10 0-10 0-10 0-10 0-10 0-10 0-10 0-10 0-10 0-10 0-10 0-10 0-10 0-10 0-10 0-10 0-10 0-10 0-10 0-10 0-10 0-10 0-10 0-10 0-10 0-10 0-10 0-10 0-10 0-10 0-10 0-10 0-10 0-10 0-10 0-10 0-10 0-10 0-10 0-10 0-10 0-10 0-10 0-10 0-10 0-10 0-10 0-10 0-10 0-10 0-10 0-10 0-10 0-10 0-10 0-10 0-10 0-10 0-10 0-10 0-10 0-10 0-10 0-10 0-10 0-10 0-10 0-10 0-10 0-10 0-10 0-10 0-10 0-10 0-10 0-10 0-10 0-10 0-10 0-10 0-10 0-10 0-10 0-10 0-10 0-10 0-10 0-10 0-10 0-10 0-10 0-10 0-10 0-10 0-10 0-10 0-10 0-10 0-10 0-10 0-10 0-10 0-10 0-10 0-10 0-10 0-10 0-10 0-10 0-10 0-10 0-10 0-10 0-10 0-10 0-10 0-10 0-10 0-10 0-10 0-10 0-10 0-10 0-10 0-10 0-10 0-10 0-10 0-10 0-10 0-10 0-10 0-10 0-10 0-10 0-10 0-10 0-10 0-10 0-10 0-10 0-10 0-10 0-10 0-10 0-10-10 0-10 0-10 0-10 0-10 0-10 0-10 0-10 0-10 0-10 0-10 0-10 0-10 0-10 0-10 0-10 0-10 0-10 0-10 0-10 0-10 0-10 0-10 0-10 0-10 0-10 0-10 0-10 0-10 0-10 0-10 0-10 0-10 0-10 0-10 0-10 0-10 0-10 0-10 0-10 0-10 0-10 0-10 0-10 0-10 0-10 0-10 0-10 0-10 0-10 0-10 0-10 0-10 0-10 0-10 0-10 0-10 0-10 0-10 0-10 0-10 0-10 0-10 0-10 0-10 0-10 0-10 0-10 0-10 0-10 0-10 0-10 0-10 0-10 0-10 0-10 0-10 0-10 0-10 0-10 0-10 0-10 0-10 0-10 0-10 0-10 0-10 0-10 0-10 0-10 0-10 0-10 0-10 0-10 0-10 0-10 0-10 0-10 0-10 0-10 0-10 0-10 0-10 0-10 0-10 0-10 0-10 0-10 0-10 0-10 0-10 0-10 0-10 0-10 0-10 0-10 0-10 0-10 0-10 0-10 0-10 0-10 0-10 0-10 0-10 0-10 0-10 0-10 0-10 0-10 0-10 0-10 0-10 0-10 0-10 0-10 0-10 0-10 0-10 0-10 0-10 0-10 0-10 0-10 0-10 0-10 0-10 0-10 0-10 0-10 0-10 0-10 0-10 0-10 0-10 0-10 0-10 0-10 0-10 0-10 0-10 0-10 0-10 0-10 0-10 0-10 0-10 0-10 0-10 0-10 0-10 0-10 0-10 0-10 0-10 0-10 0-10 0-10 0-10 0-10 0-10 0-10 0-10 0-10 0-10 0-10 0-10 0-10 0-10 0-10 0-10 0-10 0-10 0-10 0-10 0-10 0-10 0-10 0-10 0-10 0-10 0-10 0-10 0-10 0-10 0-10 0-10 0-10 0-10 0-10 0-10 0-10 0-10 0-10 0-10 0-10 0-10 0-10 0-10 0-10 0-10 0-10 0-10 0-10 0-10 0-10 0-10 0-10 0 0 10 0 10 0 10 0 10 0 10 0 10 0 10 0 10 0 10 0 10 0 10 0 10 0 10 0 10 0 10 0 10 0 10 0 10 0 10 0 10 0 10 0 10 0 10 0 10 0 10 0 10 0 10 0 10 0 10 0 10 0 10 0 10 0 10 0 10 0 10 0 10 0 10 0 10 0 10 0 10 0 10 0 10 0 10 0 10 0 10 0 10 0 10 0 10 0 10 0 10 0 10 0 10 0 10 0 10 0 10 0 10 0 10 0 10 0 10 0 10 0 10 0 10 0 10 0 10 0 10 0 10 0 10 0 10 0 10 0 10 0 10 0 10 0 10 0 10 0 10 0 10 0 10 0 10 0 10 0 10 0 10 0 10 0 10 0 10 0 10 0 10 0 10 0 10 0 10 0 10 0 10 0 10 0 10 0 10 0 10 0 10 0 10 0 10 0 10 0 10 0 10 0 10 0 10 0 10 0 10 0 10 0 10 0 10 0 10 0 10 0 10 0 10 0 10 0 10 0 10 0 10 0 10 0 10 0 10 0 10 0 10 0 10 0 10 0 10 0 10 0 10 0 10 0 10 0 10 0 10 0 10 0 10 0 10 0 10 0 10 0 10 0 10 0 10 0 10 0 10 0 10 0 10 0 10 0 10 0 10 0 10 0 10 0 10 0 10 0 10 0 10 0 10 0 10 0 10 0 10 0 10 0 10 0 10 0 10 0 10 0 10 0 10 0 10 0 10 0 10 0 10 0 10 0 10 0 10 0 10 0 10 0 10 0 10 0 10 0 10 0 10 0 10 0 10 0 10 0 10 0 10 0 10 0 10 0 10 0 10 0 10 0 10 0 10 0 10 0 10 0 10 0 10 0 10 0 10 0 10 0 10 0 10 0 10 0 10 0 10 0 10 0 10 0 10 0 10 0 10 0 10 0 10 0 10 0 10 0 10 0 10 0 10 0 10 0 10 0 10 0 10 0 10 0 10 0 10 0 10 0 10 0 10 0 10 0 10 0 10 0 10 0 10 0 10 0 10 0 10 0 10 0 10 0 10 0 10 0 10 0 10 0 10 0 10 0 10 0 10 0 10 0 10 0 10 0 10 0 10 0 10 0 10 0 10 0 10 0 10zM1797 5072l-10-2-10-2-10-3-10-3-10-3-10-3-10-4-10-4-10-5-10-5-10-5-10-6-9-6-11-6-5-4-5-3-10-7-10-7-10-8-5-5-5-4-6-6-11-10-11-10-10-10-10-10-9-10-9-10-4-5-4-5-6-7-10-12-9-11-7-10-4-4-4-6-6-8-9-12-7-10-4-4-4-6-6-8-8-12-7-10-5-7-8-13-7-10-5-8-7-12-6-10-6-10-6-10-5-7-8-13-6-10-5-10-6-10-5-7-7-13-6-10-6-10-6-10-5-8-7-12-3-5-3-5-5-10-6-10-6-10-5-10-5-8-7-12-3-5-8-15-5-10-6-10-6-10-5-9-6-11-4-6-8-14-6-10-6-8-8-12-7-10-5-6-9-14-8-10-7-10-6-8-8-12-7-10-5-6-10-14-7-10-7-10-6-9-7-11-7-10-6-9-7-11-6-10-7-10-6-10-4-7-7-13-6-10-7-10-5-10-5-8-6-12-4-5-8-15-6-10-6-9-6-11-4-6-7-14-6-10-5-10-6-10-5-10-6-10-5-8-6-12-4-8-6-12-4-9-5-11-5-9-5-11-5-10-4-10-5-10-5-10-4-10-5-10-4-10-3-6-6-14-4-9-4-11-4-10-3-10-4-10-4-10-4-10-3-10-3-10-4-10-3-10-3-10-4-10-3-10-3-10-2-10-3-10-3-10-2-10-3-10-2-10-2-10-3-10-2-10-2-10-2-10-2-10-2-10-2-10-1-10-2-10-1-10-1-10-1-10-1-10-1-10-2-10-1-10 0-10-1-10-1-10-1-10-1-10-1-10-1-10-1-10 0-10 0-10 0-10 0-10 0-10 1-10 0-10 1-10 0-10 2-10 1-10 2-10 2-10 3-10 2-10 4-10 3-10 4-10 4-10 5-10 5-10 6-10 4-5 3-5 7-9 10-11 10-10 10-10 10-8 10-7 7-5 13-8 10-5 10-5 10-4 10-4 8-4 12-4 10-4 7-2 13-3 10-3 10-2 6-2 14-3 10-1 10-2 10-2 10-1 10-1 10-1 10-1 10-1 10 0 10 0 10 0 10 0 10-1 10 1 10 0 10 0 10 1 10 0 10 1 10 1 10 1 10 1 10 1 10 2 10 1 10 2 10 2 10 1 10 1 10 0 8-2 12-3 10-3 10-2 10-2 10-2 10-1 10-2 10-2 10-2 10-2 10-1 10-1 10-1 10-1 10 0 10-1 10 0 10 0 10 0 10 0 10 0 10 1 10 0 10 1 10 1 10 1 10 1 10 1 10 1 10 1 10 2 10 1 10 2 10 2 10 1 10 2 10 3 10 2 10 3 10 3 10 2 10 3 6 2 14 5 10 4 10 3 10 4 10 4 10 5 10 5 10 5 9 5 11 7 5 3 5 4 10 6 10 7 5 3 5 4 8 6 12 9 10 8 10 9 6 4 4 4 8 6 10 10 11 10 11 10 10 9 10 9 10 9 10 9 4 4 6 6 5 4 5 6 5 4 5 6 4 4 6 7 10 11 10 12 8 10 8 10 4 6 10 13 8 11 7 10 5 9 8 11 6 10 6 10 6 10 4 7 9 13 6 10 5 9 6 11 4 7 8 13 5 10 5 10 5 10 5 10 5 10 5 10 5 10 5 10 5 10 4 10 3 7 6 13 4 10 4 10 4 10 4 10 4 10 4 10 4 10 3 10 3 9 4 11 3 10 3 8 5 12 4 10 3 10 3 10 4 10 3 10 4 10 3 10 4 10 3 10 4 10 3 10 3 10 3 10 3 10 4 10 3 10 3 10 3 10 3 10 2 9 4 11 3 10 3 10 2 10 3 10 3 10 2 10 3 10 3 10 2 10 2 10 2 10 3 10 2 10 2 10 1 9 2 11 1 10 2 10 1 10 1 10 1 10 1 10 1 10 0 10 1 10 1 10 1 10 1 10 0 10 1 10 0 10 1 10 0 10 0 10 0 10 0 10 0 10 0 10 0 10 0 10-1 10 0 10-1 10-1 10 0 10-1 10-1 10-2 10-1 10-2 10-1 10-2 10-2 10-2 10-2 10-2 10-2 10-2 10-3 10-2 10-3 10-3 9-3 11-4 10-3 10-3 10-4 10-3 7-5 13-4 10-5 10-5 10-4 10-5 10-5 10-6 10-5 10-6 10-6 10-4 8-7 12-3 5-3 5-6 10-7 10-4 6-8 14-6 10-6 9-7 11-7 10-6 8-8 12-7 10-5 6-10 13-9 11-8 10-9 10-4 5-5 5-5 5-5 5-5 4-6 6-4 4-7 6-11 10-12 10-10 8-10 7-7 5-13 9-10 6-7 5-13 8-10 6-10 6-10 5-10 4-10 5-10 4-10 4-10 4-10 3-10 3-10 3-10 2-10 3-10 2-10 2-10 2-10 1-10 1-10 0-10 0-10 1-10 0-10-1-10 0-10-2-10-1-10-2-10-2z" fill="#38b977" fill-rule="evenodd"/>
<path d="M527 5271l10 0 10 0 10 0 10 0 10 0 10 0 10 0 10 0 10 0 10 0 10 0 10 0 10 0 10 0 10 0 10 0 10 0 10 0 10 0 10 0 10 0 10 0 10 0 10 0 10 0 10 0 10 0 10 0 10 0 10 0 10 0 10 0 10 0 10 0 10 0 10 0 10 0 10 0 10 0 10 0 10 0 10 0 10 0 10 0 10 0 10 0 10 0 10 0 10 0 10 0 10 0 10 0 10 0 10 0 10 0 10 0 10 0 10 0 10 0 10 0 10 0 10 0 10 0 10 0 10 0 10 0 10 0 10 0 10 0 10 0 10 0 10 0 10 0 10 0 10 0 10 0 10 0 10 0 10 0 10 0 10 0 10 0 10 0 10 0 10 0 10 0 10 0 10 0 10 0 10 0 10 0 10 0 10 0 10 0 10 0 10 0 10 0 10 0 10 0 10 0 10 0 10 0 10 0 10 0 10 0 10 0 10 0 10 0 10 0 10 0 10 0 10 0 10 0 10 0 10 0 10 0 10 0 10 0 10 0 10 0 10 0 10 0 10 0 10 0 10 0 10 0 10 0 10 0 10 0 10 0 10 0 10 0 10 0 10 0 10 0 10 0 10 0 10 0 10 0 10 0 10 0 10 0 10 0 10 0 10 0 10 0 10 0 10 0 10 0 10 0 10 0 10 0 10 0 10 0 10 0 10 0 10 0 10 0 10 0 10 0 10 0 10 0 10 0 10 0 10 0 10 0 10 0 10 0 10 0 10 0 10 0 10 0 10 0 10 0 10 0 10 0 10 0 10 0 10 0 10 0 10 0 10 0 10 0 10 0 10 0 10 0 10 0 10 0 10 0 10 0 10 0 10 0 10 0 10 0 10 0 10 0 10 0 10 0 10 0 10 0 10 0 10 0 10 0 10 0 10 0 10 0 10 0 10 0 10 0 10 0 10 0 10 0 10 0 10 0 10 0 10 0 10 0 10 0 10 0 10 0 10 0 10 0 10 0 10 0 10 0 10 0 10 0 10 0 0-10 0-10 0-10 0-10 0-10 0-10 0-10 0-10 0-10 0-10 0-10 0-10 0-10 0-10 0-10 0-10 0-10 0-10 0-10 0-10 0-10 0-10 0-10 0-10 0-10 0-10 0-10 0-10 0-10 0-10 0-10 0-10 0-10 0-10 0-10 0-10 0-10 0-10 0-10 0-10 0-10 0-10 0-10 0-10 0-10 0-10 0-10 0-10 0-10 0-10 0-10 0-10 0-10 0-10 0-10 0-10 0-10 0-10 0-10 0-10 0-10 0-10 0-10 0-10 0-10 0-10 0-10 0-10 0-10 0-10 0-10 0-10 0-10 0-10 0-10 0-10 0-10 0-10 0-10 0-10 0-10 0-10 0-10 0-10 0-10 0-10 0-10 0-10 0-10 0-10 0-10 0-10 0-10 0-10 0-10 0-10 0-10 0-10 0-10 0-10 0-10 0-10 0-10 0-10 0-10 0-10 0-10 0-10 0-10 0-10 0-10 0-10 0-10 0-10 0-10 0-10 0-10 0-10 0-10 0-10 0-10 0-10 0-10 0-10 0-10 0-10 0-10 0-10 0-10 0-10 0-10 0-10 0-10 0-10 0-10 0-10 0-10 0-10 0-10 0-10 0-10 0-10 0-10 0-10 0-10 0-10 0-10 0-10 0-10 0-10 0-10 0-10 0-10 0-10 0-10 0-10 0-10 0-10 0-10 0-10 0-10 0-10 0-10 0-10 0-10 0-10 0-10 0-10 0-10 0-10 0-10 0-10 0-10 0-10 0-10 0-10 0-10 0-10 0-10 0-10 0-10 0-10 0-10 0-10 0-10 0-10 0-10 0-10 0-10 0-10 0-10 0-10 0-10 0-10 0-10 0-10 0-10 0-10 0-10 0-10 0-10 0-10 0-10 0-10 0-10 0-10 0-10 0-10 0-10 0-10 0-10 0-10 0-10 0-10 0-10 0-10 0-10 0-10 0-10 0-10 0-10 0-10 0-10 0-10 0-10 0-10 0-10 0-10 0-10 0-10 0-10 0-10 0-10 0-10 0-10 0-10 0-10 0-10 0-10 0-10 0-10 0-10 0-10 0-10 0-10 0-10 0-10 0-10 0-10 0-10-10 0-10 0-10 0-10 0-10 0-10 0-10 0-10 0-10 0-10 0-10 0-10 0-10 0-10 0-10 0-10 0-10 0-10 0-10 0-10 0-10 0-10 0-10 0-10 0-10 0-10 0-10 0-10 0-10 0-10 0-10 0-10 0-10 0-10 0-10 0-10 0-10 0-10 0-10 0-10 0-10 0-10 0-10 0-10 0-10 0-10 0-10 0-10 0-10 0-10 0-10 0-10 0-10 0-10 0-10 0-10 0-10 0-10 0-10 0-10 0-10 0-10 0-10 0-10 0-10 0-10 0-10 0-10 0-10 0-10 0-10 0-10 0-10 0-10 0-10 0-10 0-10 0-10 0-10 0-10 0-10 0-10 0-10 0-10 0-10 0-10 0-10 0-10 0-10 0-10 0-10 0-10 0-10 0-10 0-10 0-10 0-10 0-10 0-10 0-10 0-10 0-10 0-10 0-10 0-10 0-10 0-10 0-10 0-10 0-10 0-10 0-10 0-10 0-10 0-10 0-10 0-10 0-10 0-10 0-10 0-10 0-10 0-10 0-10 0-10 0-10 0-10 0-10 0-10 0-10 0-10 0-10 0-10 0-10 0-10 0-10 0-10 0-10 0-10 0-10 0-10 0-10 0-10 0-10 0-10 0-10 0-10 0-10 0-10 0-10 0-10 0-10 0-10 0-10 0-10 0-10 0-10 0-10 0-10 0-10 0-10 0-10 0-10 0-10 0-10 0-10 0-10 0-10 0-10 0-10 0-10 0-10 0-10 0-10 0-10 0-10 0-10 0-10 0-10 0-10 0-10 0-10 0-10 0-10 0-10 0-10 0-10 0-10 0-10 0-10 0-10 0-10 0-10 0-10 0-10 0-10 0-10 0-10 0-10 0-10 0-10 0-10 0-10 0-10 0-10 0-10 0-10 0-10 0-10 0-10 0-10 0-10 0-10 0-10 0-10 0-10 0-10 0-10 0-10 0-10 0-10 0-10 0-10 0-10 0-10 0-10 0-10 0-10 0 0 10 0 10 0 10 0 10 0 10 0 10 0 10 0 10 0 10 0 10 0 10 0 10 0 10 0 10 0 10 0 10 0 10 0 10 0 10 0 10 0 10 0 10 0 10 0 10 0 10 0 10 0 10 0 10 0 10 0 10 0 10 0 10 0 10 0 10 0 10 0 10 0 10 0 10 0 10 0 10 0 10 0 10 0 10 0 10 0 10 0 10 0 10 0 10 0 10 0 10 0 10 0 10 0 10 0 10 0 10 0 10 0 10 0 10 0 10 0 10 0 10 0 10 0 10 0 10 0 10 0 10 0 10 0 10 0 10 0 10 0 10 0 10 0 10 0 10 0 10 0 10 0 10 0 10 0 10 0 10 0 10 0 10 0 10 0 10 0 10 0 10 0 10 0 10 0 10 0 10 0 10 0 10 0 10 0 10 0 10 0 10 0 10 0 10 0 10 0 10 0 10 0 10 0 10 0 10 0 10 0 10 0 10 0 10 0 10 0 10 0 10 0 10 0 10 0 10 0 10 0 10 0 10 0 10 0 10 0 10 0 10 0 10 0 10 0 10 0 10 0 10 0 10 0 10 0 10 0 10 0 10 0 10 0 10 0 10 0 10 0 10 0 10 0 10 0 10 0 10 0 10 0 10 0 10 0 10 0 10 0 10 0 10 0 10 0 10 0 10 0 10 0 10 0 10 0 10 0 10 0 10 0 10 0 10 0 10 0 10 0 10 0 10 0 10 0 10 0 10 0 10 0 10 0 10 0 10 0 10 0 10 0 10 0 10 0 10 0 10 0 10 0 10 0 10 0 10 0 10 0 10 0 10 0 10 0 10 0 10 0 10 0 10 0 10 0 10 0 10 0 10 0 10 0 10 0 10 0 10 0 10 0 10 0 10 0 10 0 10 0 10 0 10 0 10 0 10 0 10 0 10 0 10 0 10 0 10 0 10 0 10 0 10 0 10 0 10 0 10 0 10 0 10 0 10 0 10 0 10 0 10 0 10 0 10 0 10 0 10 0 10 0 10 0 10 0 10 0 10 0 10 0 10 0 10 0 10 0 10 0 10 0 10 0 10 0 10 0 10 0 10 0 10 0 10 0 10 0 10 0 10 0 10 0 10 0 10 0 10zM1797 5093l-9-2-11-2-10-3-10-3-7-2-13-4-10-3-6-3-14-6-8-4-12-6-8-4-12-7-5-3-5-3-10-6-10-7-5-4-5-3-9-7-11-9-10-8-10-9-4-4-6-5-5-5-5-5-5-5-5-5-5-5-5-5-4-5-6-6-10-12-10-12-8-10-8-10-4-4-5-6-5-7-10-13-7-10-7-10-6-7-9-13-8-10-7-10-6-9-7-11-7-10-6-8-7-12-6-10-6-10-6-10-5-7-8-13-6-10-6-9-6-11-4-6-8-14-6-10-6-9-6-11-4-5-8-15-6-10-6-9-6-11-4-6-7-14-6-10-6-10-6-10-5-8-6-12-4-6-8-14-5-10-6-10-6-10-5-8-7-12-6-10-7-9-7-11-7-10-6-8-8-12-7-10-5-6-9-14-7-10-4-5-3-5-7-9-7-11-7-10-6-8-8-12-6-10-6-8-7-12-6-10-7-10-6-10-4-6-8-14-6-10-6-10-6-10-4-7-7-13-3-5-3-5-5-10-6-10-6-9-6-11-4-6-8-14-5-10-6-10-5-10-6-9-6-11-4-7-7-13-3-5-7-15-3-5-7-15-3-6-7-14-3-6-7-14-3-6-6-14-4-8-5-12-5-10-4-10-5-10-4-10-4-10-3-6-5-14-4-10-4-10-4-10-3-8-4-12-3-10-3-7-4-13-4-10-2-6-4-14-3-10-3-9-3-11-2-10-3-10-2-7-3-13-2-10-3-10-2-8-2-12-2-10-2-10-2-10-2-8-2-12-1-10-2-10-1-10-1-10-1-10-1-10-1-10-1-10-1-10-1-10-1-10-1-10-1-10-1-10-1-10 0-10-1-10 0-10 0-10 0-10 0-10 1-10 0-10 0-10 1-10 1-10 1-10 2-10 1-10 2-9 3-11 2-10 3-10 2-6 5-14 4-10 4-10 5-10 6-10 6-10 7-10 3-5 4-5 6-7 10-11 10-10 10-9 10-8 7-5 13-9 10-5 10-6 10-4 10-5 10-4 10-4 7-3 13-5 10-3 8-2 12-3 10-2 10-3 9-2 11-2 10-2 10-1 10-2 10-2 10-1 10-1 10-1 10 0 10-1 10 0 10 0 10-1 10 0 10 0 10 0 10 0 10 1 10 0 10 1 10 0 10 1 10 1 10 1 10 1 10 1 10 1 10 2 10 1 10 0 10 0 10-2 10-3 10-2 10-1 10-2 10-1 10-2 10-1 10-2 7-1 13-1 10-1 10-1 10-1 10 0 10 0 10-1 10 0 10 0 10 1 10 0 10 0 10 0 10 1 10 1 10 1 10 1 10 1 10 1 10 1 10 1 10 1 10 2 10 1 10 2 10 2 10 2 10 2 10 2 8 2 12 4 10 2 10 3 10 3 10 4 10 3 10 4 10 4 9 3 11 5 10 5 10 5 10 5 10 7 6 3 14 9 10 6 7 5 13 10 10 7 10 8 7 5 13 10 10 9 10 8 10 9 5 4 5 5 6 5 4 4 7 6 12 10 11 10 10 9 10 10 10 10 10 9 10 11 10 11 9 10 9 10 7 10 5 7 10 13 8 10 7 10 5 8 8 12 7 10 5 9 7 11 3 6 10 14 6 10 4 8 8 12 5 10 6 10 6 10 5 10 5 10 5 10 5 10 5 10 5 10 5 10 5 10 5 10 5 10 4 10 5 10 4 10 2 6 6 14 4 10 4 10 4 10 2 7 5 13 4 10 3 10 4 10 3 10 4 10 4 10 3 9 4 11 4 10 2 8 5 12 3 10 2 6 5 14 4 10 3 10 4 10 3 10 3 10 3 10 3 10 2 8 4 12 3 10 3 10 3 10 3 10 3 10 3 10 2 10 3 10 3 10 3 10 2 10 2 10 3 10 2 10 2 10 2 10 2 10 2 10 2 10 1 10 2 10 1 10 1 10 1 10 2 10 0 8 1 12 1 10 1 10 1 10 1 10 1 10 1 10 0 10 1 10 0 10 0 10 0 10 0 10 0 10 1 10 0 10 0 10 0 10-1 10-1 10 0 10-1 10 0 10-1 10-1 10-2 10-1 10-1 10-1 10-2 10-2 10-2 10-2 10-2 10-2 10-3 10-2 10-2 8-3 12-3 10-3 10-3 10-4 10-3 10-4 10-4 10-3 8-5 12-4 10-5 10-5 10-5 10-5 10-5 10-5 10-6 10-5 8-7 12-3 5-8 15-6 10-6 9-7 11-7 10-6 10-6 10-4 7-9 13-7 10-4 5-3 5-7 10-7 10-8 10-5 7-10 12-9 11-8 10-10 10-10 10-10 10-11 10-11 10-11 10-10 8-10 8-6 4-14 10-10 7-5 3-5 3-10 7-10 6-6 4-14 8-10 5-10 5-10 4-10 5-9 3-11 4-10 3-9 3-11 3-10 3-10 3-10 2-10 2-10 2-10 1-10 1-10 1-10 0-10 1-10 0-10 0-10 0-10-1-10-1-10-1-10-2-10-2z" fill="#50c46a" fill-rule="evenodd"/>
<path d="M527 5271l10 0 10 0 10 0 10 0 10 0 10 0 10 0 10 0 10 0 10 0 10 0 10 0 10 0 10 0 10 0 10 0 10 0 10 0 10 0 10 0 10 0 10 0 10 0 10 0 10 0 10 0 10 0 10 0 10 0 10 0 10 0 10 0 10 0 10 0 10 0 10 0 10 0 10 0 10 0 10 0 10 0 10 0 10 0 10 0 10 0 10 0 10 0 10 0 10 0 10 0 10 0 10 0 10 0 10 0 10 0 10 0 10 0 10 0 10 0 10 0 10 0 10 0 10 0 10 0 10 0 10 0 10 0 10 0 10 0 10 0 10 0 10 0 10 0 10 0 10 0 10 0 10 0 10 0 10 0 10 0 10 0 10 0 10 0 10 0 10 0 10 0 10 0 10 0 10 0 10 0 10 0 10 0 10 0 10 0 10 0 10 0 10 0 10 0 10 0 10 0 10 0 10 0 10 0 10 0 10 0 10 0 10 0 10 0 10 0 10 0 10 0 10 0 10 0 10 0 10 0 10 0 10 0 10 0 10 0 10 0 10 0 10 0 10 0 10 0 10 0 10 0 10 0 10 0 10 0 10 0 10 0 10 0 10 0 10 0 10 0 10 0 10 0 10 0 10 0 10 0 10 0 10 0 10 0 10 0 10 0 10 0 10 0 10 0 10 0 10 0 10 0 10 0 10 0 10 0 10 0 10 0 10 0 10 0 10 0 10 0 10 0 10 0 10 0 10 0 10 0 10 0 10 0 10 0 10 0 10 0 10 0 10 0 10 0 10 0 10 0 10 0 10 0 10 0 10 0 10 0 10 0 10 0 10 0 10 0 10 0 10 0 10 0 10 0 10 0 10 0 10 0 10 0 10 0 10 0 10 0 10 0 10 0 10 0 10 0 10 0 10 0 10 0 10 0 10 0 10 0 10 0 10 0 10 0 10 0 10 0 10 0 10 0 10 0 10 0 10 0 10 0 10 0 10 0 10 0 10 0 10 0 10 0 10 0 10 0 10 0 10 0 10 0 10 0 0-10 0-10 0-10 0-10 0-10 0-10 0-10 0-10 0-10 0-10 0-10 0-10 0-10 0-10 0-10 0-10 0-10 0-10 0-10 0-10 0-10 0-10 0-10 0-10 0-10 0-10 0-10 0-10 0-10 0-10 0-10 0-10 0-10 0-10 0-10 0-10 0-10 0-10 0-10 0-10 0-10 0-10 0-10 0-10 0-10 0-10 0-10 0-10 0-10 0-10 0-10 0-10 0-10 0-10 0-10 0-10 0-10 0-10 0-10 0-10 0-10 0-10 0-10 0-10 0-10 0-10 0-10 0-10 0-10 0-10 0-10 0-10 0-10 0-10 0-10 0-10 0-10 0-10 0-10 0-10 0-10 0-10 0-10 0-10 0-10 0-10 0-10 0-10 0-10 0-10 0-10 0-10 0-10 0-10 0-10 0-10 0-10 0-10 0-10 0-10 0-10 0-10 0-10 0-10 0-10 0-10 0-10 0-10 0-10 0-10 0-10 0-10 0-10 0-10 0-10 0-10 0-10 0-10 0-10 0-10 0-10 0-10 0-10 0-10 0-10 0-10 0-10 0-10 0-10 0-10 0-10 0-10 0-10 0-10 0-10 0-10 0-10 0-10 0-10 0-10 0-10 0-10 0-10 0-10 0-10 0-10 0-10 0-10 0-10 0-10 0-10 0-10 0-10 0-10 0-10 0-10 0-10 0-10 0-10 0-10 0-10 0-10 0-10 0-10 0-10 0-10 0-10 0-10 0-10 0-10 0-10 0-10 0-10 0-10 0-10 0-10 0-10 0-10 0-10 0-10 0-10 0-10 0-10 0-10 0-10 0-10 0-10 0-10 0-10 0-10 0-10 0-10 0-10 0-10 0-10 0-10 0-10 0-10 0-10 0-10 0-10 0-10 0-10 0-10 0-10 0-10 0-10 0-10 0-10 0-10 0-10 0-10 0-10 0-10 0-10 0-10 0-10 0-10 0-10 0-10 0-10 0-10 0-10 0-10 0-10 0-10 0-10 0-10 0-10 0-10 0-10 0-10 0-10 0-10 0-10 0-10 0-10 0-10 0-10 0-10 0-10 0-10 0-10 0-10 0-10 0-10 0-10 0-10 0-10 0-10-10 0-10 0-10 0-10 0-10 0-10 0-10 0-10 0-10 0-10 0-10 0-10 0-10 0-10 0-10 0-10 0-10 0-10 0-10 0-10 0-10 0-10 0-10 0-10 0-10 0-10 0-10 0-10 0-10 0-10 0-10 0-10 0-10 0-10 0-10 0-10 0-10 0-10 0-10 0-10 0-10 0-10 0-10 0-10 0-10 0-10 0-10 0-10 0-10 0-10 0-10 0-10 0-10 0-10 0-10 0-10 0-10 0-10 0-10 0-10 0-10 0-10 0-10 0-10 0-10 0-10 0-10 0-10 0-10 0-10 0-10 0-10 0-10 0-10 0-10 0-10 0-10 0-10 0-10 0-10 0-10 0-10 0-10 0-10 0-10 0-10 0-10 0-10 0-10 0-10 0-10 0-10 0-10 0-10 0-10 0-10 0-10 0-10 0-10 0-10 0-10 0-10 0-10 0-10 0-10 0-10 0-10 0-10 0-10 0-10 0-10 0-10 0-10 0-10 0-10 0-10 0-10 0-10 0-10 0-10 0-10 0-10 0-10 0-10 0-10 0-10 0-10 0-10 0-10 0-10 0-10 0-10 0-10 0-10 0-10 0-10 0-10 0-10 0-10 0-10 0-10 0-10 0-10 0-10 0-10 0-10 0-10 0-10 0-10 0-10 0-10 0-10 0-10 0-10 0-10 0-10 0-10 0-10 0-10 0-10 0-10 0-10 0-10 0-10 0-10 0-10 0-10 0-10 0-10 0-10 0-10 0-10 0-10 0-10 0-10 0-10 0-10 0-10 0-10 0-10 0-10 0-10 0-10 0-10 0-10 0-10 0-10 0-10 0-10 0-10 0-10 0-10 0-10 0-10 0-10 0-10 0-10 0-10 0-10 0-10 0-10 0-10 0-10 0-10 0-10 0-10 0-10 0-10 0-10 0-10 0-10 0-10 0-10 0-10 0-10 0-10 0-10 0-10 0-10 0-10 0-10 0-10 0-10 0-10 0-10 0-10 0-10 0-10 0 0 10 0 10 0 10 0 10 0 10 0 10 0 10 0 10 0 10 0 10 0 10 0 10 0 10 0 10 0 10 0 10 0 10 0 10 0 10 0 10 0 10 0 10 0 10 0 10 0 10 0 10 0 10 0 10 0 10 0 10 0 10 0 10 0 10 0 10 0 10 0 10 0 10 0 10 0 10 0 10 0 10 0 10 0 10 0 10 0 10 0 10 0 10 0 10 0 10 0 10 0 10 0 10 0 10 0 10 0 10 0 10 0 10 0 10 0 10 0 10 0 10 0 10 0 10 0 10 0 10 0 10 0 10 0 10 0 10 0 10 0 10 0 10 0 10 0 10 0 10 0 10 0 10 0 10 0 10 0 10 0 10 0 10 0 10 0 10 0 10 0 10 0 10 0 10 0 10 0 10 0 10 0 10 0 10 0 10 0 10 0 10 0 10 0 10 0 10 0 10 0 10 0 10 0 10 0 10 0 10 0 10 0 10 0 10 0 10 0 10 0 10 0 10 0 10 0 10 0 10 0 10 0 10 0 10 0 10 0 10 0 10 0 10 0 10 0 10 0 10 0 10 0 10 0 10 0 10 0 10 0 10 0 10 0 10 0 10 0 10 0 10 0 10 0 10 0 10 0 10 0 10 0 10 0 10 0 10 0 10 0 10 0 10 0 10 0 10 0 10 0 10 0 10 0 10 0 10 0 10 0 10 0 10 0 10 0 10 0 10 0 10 0 10 0 10 0 10 0 10 0 10 0 10 0 10 0 10 0 10 0 10 0 10 0 10 0 10 0 10 0 10 0 10 0 10 0 10 0 10 0 10 0 10 0 10 0 10 0 10 0 10 0 10 0 10 0 10 0 10 0 10 0 10 0 10 0 10 0 10 0 10 0 10 0 10 0 10 0 10 0 10 0 10 0 10 0 10 0 10 0 10 0 10 0 10 0 10 0 10 0 10 0 10 0 10 0 10 0 10 0 10 0 10 0 10 0 10 0 10 0 10 0 10 0 10 0 10 0 10 0 10 0 10 0 10 0 10 0 10 0 10 0 10 0 10 0 10 0 10 0 10 0 10 0 10 0 10 0 10 0 10 0 10 0 10 0 10 0 10 0 10 0 10 0 10 0 10 0 10zM1787 5112l-10-2-10-3-10-2-10-3-10-3-10-4-10-3-10-5-10-4-10-5-10-5-10-5-10-6-10-7-6-4-14-9-10-7-5-4-5-4-7-6-12-10-11-9-10-10-10-9-10-10-10-10-10-11-9-11-8-10-9-10-4-5-4-5-6-7-10-12-8-11-7-10-5-6-10-13-8-11-7-10-5-6-9-14-7-10-4-5-3-5-7-10-6-10-4-5-3-5-6-10-6-10-5-7-8-13-6-10-6-8-7-12-3-5-8-15-7-10-5-7-7-13-7-10-6-10-6-10-4-7-8-13-6-10-5-10-6-10-5-8-7-12-6-10-6-10-6-10-5-9-6-11-4-6-8-14-6-10-6-10-6-10-4-6-9-14-7-10-4-5-3-5-6-10-7-10-4-4-4-6-6-8-8-12-6-10-6-8-8-12-7-10-5-7-8-13-7-10-5-8-7-12-7-10-6-9-6-11-4-5-8-15-6-10-6-9-6-11-4-6-8-14-5-10-6-10-5-10-6-9-6-11-4-6-8-14-6-10-5-10-6-10-5-9-6-11-4-6-7-14-6-10-5-10-5-10-5-10-5-10-5-10-5-10-6-10-4-10-5-10-5-10-5-10-4-10-5-10-3-6-6-14-4-9-5-11-4-10-4-10-4-10-3-8-4-12-4-10-4-10-3-10-4-10-3-10-4-10-3-10-3-10-3-10-3-10-3-10-3-10-3-10-2-10-3-10-2-10-2-10-3-10-2-10-3-10-1-10-2-10-2-10-2-10-2-10-1-10-2-10-1-10-1-10-1-10-1-8-1-12-1-10-1-10-1-10-1-10-1-10-1-10 0-10-1-10-1-10 0-10 0-10 0-10 0-10 0-10 1-10 0-10 1-10 1-10 0-10 2-10 1-10 2-10 1-7 3-13 2-10 3-10 2-6 5-14 3-10 4-10 4-10 4-7 7-13 3-5 3-5 7-10 7-10 9-10 4-5 5-5 5-6 5-4 5-5 5-5 5-4 7-6 13-9 10-6 8-5 12-6 8-4 12-5 10-4 10-4 10-4 6-3 14-4 10-3 10-3 10-2 10-3 10-2 10-2 10-2 10-2 10-2 10-1 10-2 10-1 10-1 10-1 10-1 10-1 10 0 10 0 10-1 10 0 10-1 10 0 10 0 10 1 10 0 10 0 10 1 10 0 10 1 10 0 10 1 10 1 10 1 10 1 10 1 10 0 10-1 10-2 10-2 10-1 10-1 10-1 10-1 10-1 10-2 9-1 11-1 10-1 10 0 10-1 10 0 10 0 10 0 10 0 10 0 10 0 10 0 10 0 10 1 10 0 10 1 10 0 9 1 11 1 10 2 10 0 10 1 10 2 10 1 10 2 10 1 10 2 10 1 10 2 10 2 10 3 10 2 10 3 10 2 10 3 10 3 10 3 10 4 10 4 10 4 7 2 13 5 10 5 10 5 10 5 10 6 7 4 13 8 10 7 9 5 11 8 10 7 7 5 13 10 10 8 10 8 6 4 4 4 8 6 12 10 10 10 10 8 10 9 10 8 6 5 4 4 8 6 10 10 11 10 10 10 10 10 10 10 9 10 9 10 3 5 5 5 5 7 10 13 7 10 8 10 5 8 9 12 6 10 5 8 8 12 6 10 6 10 7 10 3 6 9 14 6 10 5 10 6 10 4 7 7 13 3 6 7 14 3 6 8 14 2 6 7 14 3 6 7 14 3 7 6 13 4 9 5 11 4 10 4 10 4 10 3 7 5 13 4 10 4 10 4 10 3 10 4 10 4 10 2 7 5 13 4 10 4 10 3 10 4 10 3 10 4 10 3 9 4 11 4 10 2 6 5 14 3 10 2 8 4 12 3 10 3 10 3 10 3 10 3 10 3 10 3 10 3 10 2 7 4 13 2 10 3 10 3 10 3 10 2 10 2 10 3 10 2 10 2 10 2 10 2 10 2 10 2 10 1 10 1 10 2 10 1 10 1 10 1 10 1 10 1 10 1 10 1 10 1 10 1 10 1 10 1 10 0 10 1 10 0 8 1 12 0 10 0 10 0 10 0 10 1 10 0 10-1 10 0 10-1 10 0 10-1 10 0 10-1 10-1 10-1 10-2 10-1 10-1 10-1 10-2 10-2 10-2 10-2 10-3 10-2 10-2 10-3 10-2 10-3 10-3 10-3 10-2 6-5 14-3 10-4 10-4 10-4 8-5 12-4 10-5 10-5 10-5 10-5 10-6 10-5 9-6 11-4 6-8 14-6 10-5 10-7 10-4 7-9 13-6 10-5 8-7 12-7 10-6 9-8 11-7 10-5 7-9 13-7 10-4 5-4 5-6 7-10 12-9 11-9 10-10 10-10 10-11 10-11 10-10 9-10 9-10 8-5 4-5 3-9 7-11 8-10 6-8 6-12 8-10 6-9 6-11 6-9 4-11 6-9 4-11 5-10 4-10 4-10 3-10 3-10 3-10 3-10 2-10 3-10 2-10 2-10 1-10 2-10 1-10 0-10 1-10 0-10 0-10 0-10 0-10-1-10-1-10-1-10-2-10-1-10-2z" fill="#6ccd5a" fill-rule="evenodd"/>
<path d="M527 5271l10 0 10 0 10 0 10 0 10 0 10 0 10 0 10 0 10 0 10 0 10 0 10 0 10 0 10 0 10 0 10 0 10 0 10 0 10 0 10 0 10 0 10 0 10 0 10 0 10 0 10 0 10 0 10 0 10 0 10 0 10 0 10 0 10 0 10 0 10 0 10 0 10 0 10 0 10 0 10 0 10 0 10 0 10 0 10 0 10 0 10 0 10 0 10 0 10 0 10 0 10 0 10 0 10 0 10 0 10 0 10 0 10 0 10 0 10 0 10 0 10 0 10 0 10 0 10 0 10 0 10 0 10 0 10 0 10 0 10 0 10 0 10 0 10 0 10 0 10 0 10 0 10 0 10 0 10 0 10 0 10 0 10 0 10 0 10 0 10 0 10 0 10 0 10 0 10 0 10 0 10 0 10 0 10 0 10 0 10 0 10 0 10 0 10 0 10 0 10 0 10 0 10 0 10 0 10 0 10 0 10 0 10 0 10 0 10 0 10 0 10 0 10 0 10 0 10 0 10 0 10 0 10 0 10 0 10 0 10 0 10 0 10 0 10 0 10 0 10 0 10 0 10 0 10 0 10 0 10 0 10 0 10 0 10 0 10 0 10 0 10 0 10 0 10 0 10 0 10 0 10 0 10 0 10 0 10 0 10 0 10 0 10 0 10 0 10 0 10 0 10 0 10 0 10 0 10 0 10 0 10 0 10 0 10 0 10 0 10 0 10 0 10 0 10 0 10 0 10 0 10 0 10 0 10 0 10 0 10 0 10 0 10 0 10 0 10 0 10 0 10 0 10 0 10 0 10 0 10 0 10 0 10 0 10 0 10 0 10 0 10 0 10 0 10 0 10 0 10 0 10 0 10 0 10 0 10 0 10 0 10 0 10 0 10 0 10 0 10 0 10 0 10 0 10 0 10 0 10 0 10 0 10 0 10 0 10 0 10 0 10 0 10 0 10 0 10 0 10 0 10 0 10 0 10 0 10 0 10 0 10 0 10 0 10 0 10 0 10 0 10 0 10 0 10 0 0-10 0-10 0-10 0-10 0-10 0-10 0-10 0-10 0-10 0-10 0-10 0-10 0-10 0-10 0-10 0-10 0-10 0-10 0-10 0-10 0-10 0-10 0-10 0-10 0-10 0-10 0-10 0-10 0-10 0-10 0-10 0-10 0-10 0-10 0-10 0-10 0-10 0-10 0-10 0-10 0-10 0-10 0-10 0-10 0-10 0-10 0-10 0-10 0-10 0-10 0-10 0-10 0-10 0-10 0-10 0-10 0-10 0-10 0-10 0-10 0-10 0-10 0-10 0-10 0-10 0-10 0-10 0-10 0-10 0-10 0-10 0-10 0-10 0-10 0-10 0-10 0-10 0-10 0-10 0-10 0-10 0-10 0-10 0-10 0-10 0-10 0-10 0-10 0-10 0-10 0-10 0-10 0-10 0-10 0-10 0-10 0-10 0-10 0-10 0-10 0-10 0-10 0-10 0-10 0-10 0-10 0-10 0-10 0-10 0-10 0-10 0-10 0-10 0-10 0-10 0-10 0-10 0-10 0-10 0-10 0-10 0-10 0-10 0-10 0-10 0-10 0-10 0-10 0-10 0-10 0-10 0-10 0-10 0-10 0-10 0-10 0-10 0-10 0-10 0-10 0-10 0-10 0-10 0-10 0-10 0-10 0-10 0-10 0-10 0-10 0-10 0-10 0-10 0-10 0-10 0-10 0-10 0-10 0-10 0-10 0-10 0-10 0-10 0-10 0-10 0-10 0-10 0-10 0-10 0-10 0-10 0-10 0-10 0-10 0-10 0-10 0-10 0-10 0-10 0-10 0-10 0-10 0-10 0-10 0-10 0-10 0-10 0-10 0-10 0-10 0-10 0-10 0-10 0-10 0-10 0-10 0-10 0-10 0-10 0-10 0-10 0-10 0-10 0-10 0-10 0-10 0-10 0-10 0-10 0-10 0-10 0-10 0-10 0-10 0-10 0-10 0-10 0-10 0-10 0-10 0-10 0-10 0-10 0-10 0-10 0-10 0-10 0-10 0-10 0-10 0-10 0-10 0-10 0-10 0-10 0-10 0-10 0-10 0-10 0-10 0-10 0-10 0-10 0-10 0-10 0-10 0-10 0-10 0-10 0-10-10 0-10 0-10 0-10 0-10 0-10 0-10 0-10 0-10 0-10 0-10 0-10 0-10 0-10 0-10 0-10 0-10 0-10 0-10 0-10 0-10 0-10 0-10 0-10 0-10 0-10 0-10 0-10 0-10 0-10 0-10 0-10 0-10 0-10 0-10 0-10 0-10 0-10 0-10 0-10 0-10 0-10 0-10 0-10 0-10 0-10 0-10 0-10 0-10 0-10 0-10 0-10 0-10 0-10 0-10 0-10 0-10 0-10 0-10 0-10 0-10 0-10 0-10 0-10 0-10 0-10 0-10 0-10 0-10 0-10 0-10 0-10 0-10 0-10 0-10 0-10 0-10 0-10 0-10 0-10 0-10 0-10 0-10 0-10 0-10 0-10 0-10 0-10 0-10 0-10 0-10 0-10 0-10 0-10 0-10 0-10 0-10 0-10 0-10 0-10 0-10 0-10 0-10 0-10 0-10 0-10 0-10 0-10 0-10 0-10 0-10 0-10 0-10 0-10 0-10 0-10 0-10 0-10 0-10 0-10 0-10 0-10 0-10 0-10 0-10 0-10 0-10 0-10 0-10 0-10 0-10 0-10 0-10 0-10 0-10 0-10 0-10 0-10 0-10 0-10 0-10 0-10 0-10 0-10 0-10 0-10 0-10 0-10 0-10 0-10 0-10 0-10 0-10 0-10 0-10 0-10 0-10 0-10 0-10 0-10 0-10 0-10 0-10 0-10 0-10 0-10 0-10 0-10 0-10 0-10 0-10 0-10 0-10 0-10 0-10 0-10 0-10 0-10 0-10 0-10 0-10 0-10 0-10 0-10 0-10 0-10 0-10 0-10 0-10 0-10 0-10 0-10 0-10 0-10 0-10 0-10 0-10 0-10 0-10 0-10 0-10 0-10 0-10 0-10 0-10 0-10 0-10 0-10 0-10 0-10 0-10 0-10 0-10 0-10 0-10 0-10 0-10 0-10 0-10 0-10 0-10 0-10 0-10 0-10 0-10 0-10 0-10 0-10 0 0 10 0 10 0 10 0 10 0 10 0 10 0 10 0 10 0 10 0 10 0 10 0 10 0 10 0 10 0 10 0 10 0 10 0 10 0 10 0 10 0 10 0 10 0 10 0 10 0 10 0 10 0 10 0 10 0 10 0 10 0 10 0 10 0 10 0 10 0 10 0 10 0 10 0 10 0 10 0 10 0 10 0 10 0 10 0 10 0 10 0 10 0 10 0 10 0 10 0 10 0 10 0 10 0 10 0 10 0 10 0 10 0 10 0 10 0 10 0 10 0 10 0 10 0 10 0 10 0 10 0 10 0 10 0 10 0 10 0 10 0 10 0 10 0 10 0 10 0 10 0 10 0 10 0 10 0 10 0 10 0 10 0 10 0 10 0 10 0 10 0 10 0 10 0 10 0 10 0 10 0 10 0 10 0 10 0 10 0 10 0 10 0 10 0 10 0 10 0 10 0 10 0 10 0 10 0 10 0 10 0 10 0 10 0 10 0 10 0 10 0 10 0 10 0 10 0 10 0 10 0 10 0 10 0 10 0 10 0 10 0 10 0 10 0 10 0 10 0 10 0 10 0 10 0 10 0 10 0 10 0 10 0 10 0 10 0 10 0 10 0 10 0 10 0 10 0 10 0 10 0 10 0 10 0 10 0 10 0 10 0 10 0 10 0 10 0 10 0 10 0 10 0 10 0 10 0 10 0 10 0 10 0 10 0 10 0 10 0 10 0 10 0 10 0 10 0 10 0 10 0 10 0 10 0 10 0 10 0 10 0 10 0 10 0 10 0 10 0 10 0 10 0 10 0 10 0 10 0 10 0 10 0 10 0 10 0 10 0 10 0 10 0 10 0 10 0 10 0 10 0 10 0 10 0 10 0 10 0 10 0 10 0 10 0 10 0 10 0 10 0 10 0 10 0 10 0 10 0 10 0 10 0 10 0 10 0 10 0 10 0 10 0 10 0 10 0 10 0 10 0 10 0 10 0 10 0 10 0 10 0 10 0 10 0 10 0 10 0 10 0 10 0 10 0 10 0 10 0 10 0 10 0 10 0 10 0 10 0 10 0 10 0 10 0 10 0 10 0 10 0 10 0 10 0 10 0 10 0 10 0 10 0 10 0 10 0 10 0 10zM1787 5133l-7-2-13-3-10-2-10-3-10-3-10-3-10-4-10-4-10-4-7-4-13-6-8-4-12-6-6-4-14-8-10-7-6-5-14-9-10-8-10-8-5-5-5-4-7-6-11-10-10-10-11-10-9-10-10-10-8-10-4-4-5-6-5-5-3-5-7-8-10-12-8-10-8-10-4-4-4-6-6-8-8-12-8-10-4-5-3-5-7-8-8-12-7-10-5-7-9-13-7-10-4-6-9-14-6-10-5-8-7-12-7-10-6-8-7-12-6-10-6-10-6-10-5-7-8-13-6-10-6-8-7-12-6-10-6-10-6-10-5-8-7-12-6-10-6-10-6-10-5-7-7-13-6-10-6-10-6-10-5-9-6-11-4-6-9-14-6-10-5-7-8-13-7-10-5-7-8-13-7-10-5-6-9-14-7-10-4-6-9-14-6-10-5-6-9-14-6-10-5-7-8-13-6-10-6-9-7-11-3-5-3-5-6-10-6-10-5-8-6-12-4-6-8-14-6-10-5-10-6-10-5-8-6-12-4-6-8-14-6-10-6-9-5-11-5-8-6-12-4-6-8-14-5-10-6-10-6-10-5-10-5-10-5-10-5-10-5-9-5-11-5-9-5-11-5-9-5-11-4-10-5-10-4-10-5-10-4-10-3-5-6-15-4-8-4-12-4-10-4-10-4-10-4-10-3-10-4-10-3-8-4-12-3-10-3-7-4-13-3-10-3-10-2-10-3-10-3-10-2-7-3-13-2-10-3-10-2-7-3-13-2-10-2-10-1-10-2-6-2-14-2-10-2-10-1-10-1-10-1-10-1-10-1-10-1-10-1-10-1-10-1-10 0-10-1-10-1-10-1-10-1-10 0-10 0-10 0-10 0-10 0-10 1-10 0-10 1-10 0-10 1-10 1-10 1-10 1-10 2-10 2-10 2-10 3-10 2-10 2-6 4-14 4-10 2-6 5-14 5-10 5-10 5-10 6-10 4-6 10-13 9-11 8-10 10-10 10-10 12-10 11-9 10-7 7-4 13-7 5-3 5-3 10-4 5-3 15-6 10-4 10-4 10-4 6-2 14-4 10-3 10-2 10-3 10-2 10-3 10-2 7-1 13-2 10-2 10-2 10-1 10-2 9-1 11-1 10-1 10 0 10-1 10 0 10-1 10-1 10 0 10 0 10 0 10 0 10 0 10 0 10 0 10 1 10 0 10 0 10 0 10 1 10 1 10 1 10 0 10 0 10-1 10-1 10-2 10-1 10-1 10 0 10-1 10-1 9-1 11-1 10-1 10 0 10 0 10-1 10 0 10 0 10 1 10 0 10 0 10 0 10 1 10 0 10 0 10 1 10 1 10 0 10 1 10 1 10 1 10 1 10 1 10 1 10 2 10 1 10 2 10 1 10 2 10 2 10 2 8 1 12 3 10 3 10 2 7 2 13 4 10 3 9 3 11 4 10 4 6 2 14 6 10 4 10 5 10 5 10 5 9 5 11 8 10 6 10 6 10 6 6 4 14 10 10 8 10 7 7 5 13 10 10 8 10 9 10 8 6 5 4 4 7 6 13 10 10 9 10 9 10 8 5 4 5 5 6 5 4 5 6 5 4 4 7 6 10 10 9 10 4 5 5 5 5 6 4 4 6 8 9 12 8 10 3 5 4 5 6 8 9 12 6 10 5 7 8 13 7 10 5 9 7 11 3 5 4 5 6 10 6 10 4 7 8 13 5 10 6 10 5 10 6 10 5 10 5 10 5 10 5 10 4 10 5 10 5 10 5 10 5 10 4 10 5 10 4 10 3 8 5 12 4 10 4 10 4 10 3 8 5 12 3 10 4 10 4 10 4 10 4 10 4 10 2 8 5 12 4 10 3 10 4 10 4 10 3 10 4 10 3 9 4 11 3 10 3 10 3 10 4 10 3 10 3 10 3 10 3 10 3 10 3 10 3 10 2 9 3 11 3 10 3 10 1 7 4 13 2 10 3 10 1 7 3 13 3 10 2 10 2 10 2 10 2 10 1 10 2 10 1 10 1 10 1 9 2 11 1 10 1 10 1 10 1 10 1 10 1 10 2 10 1 10 0 10 1 10 0 10 1 10 0 10 0 10 0 10 1 10 0 10 0 10 0 10 0 10 0 10-1 10-1 10 0 10-1 10 0 10-1 7-1 13-2 10-1 10-1 10-1 10-2 10-1 10-3 10-2 10-2 10-2 10-2 7-3 13-2 10-3 10-2 7-4 13-3 10-3 8-4 12-4 10-2 6-6 14-4 9-5 11-4 10-5 10-5 10-6 10-5 10-5 10-5 8-7 12-3 5-3 5-6 10-6 10-5 8-7 12-3 5-3 5-7 9-7 11-3 5-3 5-6 10-6 10-5 7-9 13-8 10-3 5-4 5-6 9-8 11-8 10-4 5-4 5-6 7-10 12-10 11-9 10-11 10-10 10-10 9-10 9-10 9-10 9-6 4-4 4-9 6-11 8-10 7-7 5-13 9-10 7-6 4-14 9-10 5-10 5-10 5-10 5-10 4-10 4-8 3-12 4-10 3-9 3-11 3-10 3-10 2-7 2-13 3-10 2-10 1-10 1-10 1-10 1-10 0-10 1-10 0-10 0-10-1-10 0-10-1-10-1-10-2-10-2-10-1z" fill="#8bd646" fill-rule="evenodd"/>
<path d="M527 5271l10 0 10 0 10 0 10 0 10 0 10 0 10 0 10 0 10 0 10 0 10 0 10 0 10 0 10 0 10 0 10 0 10 0 10 0 10 0 10 0 10 0 10 0 10 0 10 0 10 0 10 0 10 0 10 0 10 0 10 0 10 0 10 0 10 0 10 0 10 0 10 0 10 0 10 0 10 0 10 0 10 0 10 0 10 0 10 0 10 0 10 0 10 0 10 0 10 0 10 0 10 0 10 0 10 0 10 0 10 0 10 0 10 0 10 0 10 0 10 0 10 0 10 0 10 0 10 0 10 0 10 0 10 0 10 0 10 0 10 0 10 0 10 0 10 0 10 0 10 0 10 0 10 0 10 0 10 0 10 0 10 0 10 0 10 0 10 0 10 0 10 0 10 0 10 0 10 0 10 0 10 0 10 0 10 0 10 0 10 0 10 0 10 0 10 0 10 0 10 0 10 0 10 0 10 0 10 0 10 0 10 0 10 0 10 0 10 0 10 0 10 0 10 0 10 0 10 0 10 0 10 0 10 0 10 0 10 0 10 0 10 0 10 0 10 0 10 0 10 0 10 0 10 0 10 0 10 0 10 0 10 0 10 0 10 0 10 0 10 0 10 0 10 0 10 0 10 0 10 0 10 0 10 0 10 0 10 0 10 0 10 0 10 0 10 0 10 0 10 0 10 0 10 0 10 0 10 0 10 0 10 0 10 0 10 0 10 0 10 0 10 0 10 0 10 0 10 0 10 0 10 0 10 0 10 0 10 0 10 0 10 0 10 0 10 0 10 0 10 0 10 0 10 0 10 0 10 0 10 0 10 0 10 0 10 0 10 0 10 0 10 0 10 0 10 0 10 0 10 0 10 0 10 0 10 0 10 0 10 0 10 0 10 0 10 0 10 0 10 0 10 0 10 0 10 0 10 0 10 0 10 0 10 0 10 0 10 0 10 0 10 0 10 0 10 0 10 0 10 0 10 0 10 0 10 0 10 0 10 0 10 0 10 0 10 0 10 0 10 0 10 0 10 0 10 0 0-10 0-10 0-10 0-10 0-10 0-10 0-10 0-10 0-10 0-10 0-10 0-10 0-10 0-10 0-10 0-10 0-10 0-10 0-10 0-10 0-10 0-10 0-10 0-10 0-10 0-10 0-10 0-10 0-10 0-10 0-10 0-10 0-10 0-10 0-10 0-10 0-10 0-10 0-10 0-10 0-10 0-10 0-10 0-10 0-10 0-10 0-10 0-10 0-10 0-10 0-10 0-10 0-10 0-10 0-10 0-10 0-10 0-10 0-10 0-10 0-10 0-10 0-10 0-10 0-10 0-10 0-10 0-10 0-10 0-10 0-10 0-10 0-10 0-10 0-10 0-10 0-10 0-10 0-10 0-10 0-10 0-10 0-10 0-10 0-10 0-10 0-10 0-10 0-10 0-10 0-10 0-10 0-10 0-10 0-10 0-10 0-10 0-10 0-10 0-10 0-10 0-10 0-10 0-10 0-10 0-10 0-10 0-10 0-10 0-10 0-10 0-10 0-10 0-10 0-10 0-10 0-10 0-10 0-10 0-10 0-10 0-10 0-10 0-10 0-10 0-10 0-10 0-10 0-10 0-10 0-10 0-10 0-10 0-10 0-10 0-10 0-10 0-10 0-10 0-10 0-10 0-10 0-10 0-10 0-10 0-10 0-10 0-10 0-10 0-10 0-10 0-10 0-10 0-10 0-10 0-10 0-10 0-10 0-10 0-10 0-10 0-10 0-10 0-10 0-10 0-10 0-10 0-10 0-10 0-10 0-10 0-10 0-10 0-10 0-10 0-10 0-10 0-10 0-10 0-10 0-10 0-10 0-10 0-10 0-10 0-10 0-10 0-10 0-10 0-10 0-10 0-10 0-10 0-10 0-10 0-10 0-10 0-10 0-10 0-10 0-10 0-10 0-10 0-10 0-10 0-10 0-10 0-10 0-10 0-10 0-10 0-10 0-10 0-10 0-10 0-10 0-10 0-10 0-10 0-10 0-10 0-10 0-10 0-10 0-10 0-10 0-10 0-10 0-10 0-10 0-10 0-10 0-10 0-10 0-10 0-10 0-10 0-10 0-10 0-10 0-10 0-10 0-10 0-10 0-10 0-10 0-10 0-10 0-10 0-10-10 0-10 0-10 0-10 0-10 0-10 0-10 0-10 0-10 0-10 0-10 0-10 0-10 0-10 0-10 0-10 0-10 0-10 0-10 0-10 0-10 0-10 0-10 0-10 0-10 0-10 0-10 0-10 0-10 0-10 0-10 0-10 0-10 0-10 0-10 0-10 0-10 0-10 0-10 0-10 0-10 0-10 0-10 0-10 0-10 0-10 0-10 0-10 0-10 0-10 0-10 0-10 0-10 0-10 0-10 0-10 0-10 0-10 0-10 0-10 0-10 0-10 0-10 0-10 0-10 0-10 0-10 0-10 0-10 0-10 0-10 0-10 0-10 0-10 0-10 0-10 0-10 0-10 0-10 0-10 0-10 0-10 0-10 0-10 0-10 0-10 0-10 0-10 0-10 0-10 0-10 0-10 0-10 0-10 0-10 0-10 0-10 0-10 0-10 0-10 0-10 0-10 0-10 0-10 0-10 0-10 0-10 0-10 0-10 0-10 0-10 0-10 0-10 0-10 0-10 0-10 0-10 0-10 0-10 0-10 0-10 0-10 0-10 0-10 0-10 0-10 0-10 0-10 0-10 0-10 0-10 0-10 0-10 0-10 0-10 0-10 0-10 0-10 0-10 0-10 0-10 0-10 0-10 0-10 0-10 0-10 0-10 0-10 0-10 0-10 0-10 0-10 0-10 0-10 0-10 0-10 0-10 0-10 0-10 0-10 0-10 0-10 0-10 0-10 0-10 0-10 0-10 0-10 0-10 0-10 0-10 0-10 0-10 0-10 0-10 0-10 0-10 0-10 0-10 0-10 0-10 0-10 0-10 0-10 0-10 0-10 0-10 0-10 0-10 0-10 0-10 0-10 0-10 0-10 0-10 0-10 0-10 0-10 0-10 0-10 0-10 0-10 0-10 0-10 0-10 0-10 0-10 0-10 0-10 0-10 0-10 0-10 0-10 0-10 0-10 0-10 0-10 0-10 0-10 0-10 0-10 0-10 0-10 0-10 0-10 0-10 0-10 0-10 0 0 10 0 10 0 10 0 10 0 10 0 10 0 10 0 10 0 10 0 10 0 10 0 10 0 10 0 10 0 10 0 10 0 10 0 10 0 10 0 10 0 10 0 10 0 10 0 10 0 10 0 10 0 10 0 10 0 10 0 10 0 10 0 10 0 10 0 10 0 10 0 10 0 10 0 10 0 10 0 10 0 10 0 10 0 10 0 10 0 10 0 10 0 10 0 10 0 10 0 10 0 10 0 10 0 10 0 10 0 10 0 10 0 10 0 10 0 10 0 10 0 10 0 10 0 10 0 10 0 10 0 10 0 10 0 10 0 10 0 10 0 10 0 10 0 10 0 10 0 10 0 10 0 10 0 10 0 10 0 10 0 10 0 10 0 10 0 10 0 10 0 10 0 10 0 10 0 10 0 10 0 10 0 10 0 10 0 10 0 10 0 10 0 10 0 10 0 10 0 10 0 10 0 10 0 10 0 10 0 10 0 10 0 10 0 10 0 10 0 10 0 10 0 10 0 10 0 10 0 10 0 10 0 10 0 10 0 10 0 10 0 10 0 10 0 10 0 10 0 10 0 10 0 10 0 10 0 10 0 10 0 10 0 10 0 10 0 10 0 10 0 10 0 10 0 10 0 10 0 10 0 10 0 10 0 10 0 10 0 10 0 10 0 10 0 10 0 10 0 10 0 10 0 10 0 10 0 10 0 10 0 10 0 10 0 10 0 10 0 10 0 10 0 10 0 10 0 10 0 10 0 10 0 10 0 10 0 10 0 10 0 10 0 10 0 10 0 10 0 10 0 10 0 10 0 10 0 10 0 10 0 10 0 10 0 10 0 10 0 10 0 10 0 10 0 10 0 10 0 10 0 10 0 10 0 10 0 10 0 10 0 10 0 10 0 10 0 10 0 10 0 10 0 10 0 10 0 10 0 10 0 10 0 10 0 10 0 10 0 10 0 10 0 10 0 10 0 10 0 10 0 10 0 10 0 10 0 10 0 10 0 10 0 10 0 10 0 10 0 10 0 10 0 10 0 10 0 10 0 10 0 10 0 10 0 10 0 10 0 10 0 10 0 10 0 10 0 10 0 10 0 10 0 10 0 10 0 10 0 10 0 10 0 10 0 10 0 10 0 10zM1777 5151l-10-2-10-2-10-3-9-3-11-3-10-3-9-4-11-4-10-5-10-4-10-5-10-5-10-6-10-6-7-5-13-8-10-7-6-5-13-10-11-8-10-9-10-9-4-4-6-5-5-5-5-4-6-6-4-4-5-6-5-4-5-6-5-5-4-5-6-6-10-12-9-12-8-10-9-10-4-4-4-6-6-7-9-13-8-10-7-10-6-7-9-13-7-10-4-5-4-5-6-9-8-11-7-10-5-7-8-13-6-10-6-8-7-12-6-10-7-9-7-11-7-10-6-10-6-10-4-6-8-14-7-10-5-7-8-13-6-10-6-9-6-11-4-5-9-15-6-10-5-8-7-12-6-10-6-10-7-10-4-7-7-13-6-10-6-10-6-10-5-7-8-13-6-10-6-9-7-11-7-10-6-9-7-11-6-10-7-9-7-11-7-10-6-9-7-11-3-5-3-5-7-10-6-10-4-5-3-5-6-10-6-10-5-8-7-12-6-10-6-10-6-10-5-7-7-13-3-5-8-15-6-10-6-10-5-10-5-8-7-12-3-5-8-15-6-10-6-9-6-11-4-6-7-14-3-5-8-15-6-10-6-10-5-10-5-8-6-12-4-7-6-13-4-7-7-13-3-5-7-15-3-5-7-15-3-6-6-14-4-7-5-13-5-9-5-11-4-10-5-10-4-10-4-10-4-10-4-10-3-10-4-10-3-6-5-14-3-10-4-10-4-10-3-10-3-10-3-10-3-10-2-6-4-14-3-10-2-10-3-10-2-10-3-10-2-10-3-10-2-10-2-10-2-10-2-10-2-10-1-10-2-10-2-10-1-10-1-10-1-8-1-12-1-10-1-10-1-10-1-10 0-10-1-10-1-10-1-10 0-10-1-10 0-10 0-10 0-10 0-10 1-10 0-10 0-10 1-10 1-10 0-10 1-10 2-10 1-10 2-10 1-10 3-10 2-10 2-10 2-6 4-14 4-10 2-8 4-12 4-10 5-10 5-10 6-10 6-10 6-10 4-5 4-5 6-8 10-12 9-10 10-10 11-10 10-8 10-8 6-4 14-8 10-6 10-5 10-5 10-5 10-4 10-3 9-4 11-4 10-4 6-2 14-4 10-2 10-3 10-2 10-3 10-2 10-2 10-2 10-2 10-2 10-1 10-2 10-1 10-1 10-2 10-1 10 0 10-1 10 0 10-1 10-1 10-1 10 0 10 0 10 0 10-1 10 1 10 0 10 0 10 0 10 0 10 0 10 1 10 0 10 1 10 0 10 0 10-1 10-1 10-2 10-1 10 0 10 0 10-1 10 0 10-1 10 0 10-1 10 0 10 0 10 0 10 0 10 0 10 1 10 0 10 0 10 1 10 0 10 1 10 0 10 1 10 0 10 1 10 1 10 1 10 1 10 1 10 1 10 1 9 1 11 2 10 1 10 2 10 1 10 2 10 2 10 2 10 2 10 3 10 2 10 3 10 3 10 3 7 2 13 5 10 4 10 4 10 4 10 3 10 5 10 4 10 6 10 5 10 7 6 3 14 9 10 7 8 4 12 9 10 7 6 4 14 10 10 8 10 8 6 4 13 10 11 10 10 9 10 8 10 8 7 5 12 10 11 10 10 8 10 10 10 9 10 9 4 4 6 6 4 4 6 7 10 11 10 11 9 11 7 10 4 6 4 4 6 9 9 11 7 10 4 7 9 13 6 10 5 8 8 12 6 10 6 10 7 10 3 6 9 14 6 10 5 10 6 10 4 8 7 12 3 8 7 12 3 8 7 12 3 8 6 12 4 8 6 12 4 9 5 11 5 10 4 10 5 10 4 10 4 10 3 9 5 11 4 10 4 10 3 10 4 10 4 10 4 10 2 6 6 14 4 10 3 10 4 10 3 9 4 11 4 10 4 10 4 10 4 10 3 10 4 10 3 10 3 10 3 10 3 10 3 10 3 10 3 10 2 8 4 12 3 10 3 10 3 10 3 10 2 10 2 9 3 11 3 10 2 10 2 9 3 11 2 10 2 10 3 10 2 10 2 10 1 10 2 10 1 10 1 10 2 10 1 10 1 10 2 10 1 10 1 10 1 10 1 10 1 7 2 13 1 10 1 10 0 10 1 10 0 10 0 10 1 10 0 10 0 10 1 10 0 10 0 10 0 10 0 10-1 10-1 10 0 10-1 10 0 10-1 10-1 10-1 10-2 10-1 10-1 10-1 10-2 10-2 10-2 9-2 11-2 10-3 10-2 10-2 10-3 10-3 10-3 10-3 10-3 10-3 10-4 10-4 10-3 7-6 13-4 10-5 10-4 10-5 10-6 10-5 10-5 9-6 11-4 7-8 13-6 10-6 9-6 11-4 6-8 14-7 10-5 7-8 13-6 10-6 9-7 11-7 10-6 8-8 12-7 10-5 6-10 14-8 10-8 10-4 5-4 5-6 7-10 12-10 10-10 10-10 10-10 9-10 9-10 9-5 4-5 5-6 5-12 10-12 9-10 7-6 4-14 10-10 7-10 7-9 6-11 7-6 3-14 7-6 3-14 7-7 3-13 6-10 4-10 3-10 3-10 3-10 3-10 3-10 2-10 3-10 2-10 2-10 1-10 2-10 1-10 1-10 0-10 1-10 0-10 0-10 0-10 0-10-1-10-1-10-1-10-1-10-2-10-2-10-2z" fill="#addc30" fill-rule="evenodd"/>
<path d="M527 5271l10 0 10 0 10 0 10 0 10 0 10 0 10 0 10 0 10 0 10 0 10 0 10 0 10 0 10 0 10 0 10 0 10 0 10 0 10 0 10 0 10 0 10 0 10 0 10 0 10 0 10 0 10 0 10 0 10 0 10 0 10 0 10 0 10 0 10 0 10 0 10 0 10 0 10 0 10 0 10 0 10 0 10 0 10 0 10 0 10 0 10 0 10 0 10 0 10 0 10 0 10 0 10 0 10 0 10 0 10 0 10 0 10 0 10 0 10 0 10 0 10 0 10 0 10 0 10 0 10 0 10 0 10 0 10 0 10 0 10 0 10 0 10 0 10 0 10 0 10 0 10 0 10 0 10 0 10 0 10 0 10 0 10 0 10 0 10 0 10 0 10 0 10 0 10 0 10 0 10 0 10 0 10 0 10 0 10 0 10 0 10 0 10 0 10 0 10 0 10 0 10 0 10 0 10 0 10 0 10 0 10 0 10 0 10 0 10 0 10 0 10 0 10 0 10 0 10 0 10 0 10 0 10 0 10 0 10 0 10 0 10 0 10 0 10 0 10 0 10 0 10 0 10 0 10 0 10 0 10 0 10 0 10 0 10 0 10 0 10 0 10 0 10 0 10 0 10 0 10 0 10 0 10 0 10 0 10 0 10 0 10 0 10 0 10 0 10 0 10 0 10 0 10 0 10 0 10 0 10 0 10 0 10 0 10 0 10 0 10 0 10 0 10 0 10 0 10 0 10 0 10 0 10 0 10 0 10 0 10 0 10 0 10 0 10 0 10 0 10 0 10 0 10 0 10 0 10 0 10 0 10 0 10 0 10 0 10 0 10 0 10 0 10 0 10 0 10 0 10 0 10 0 10 0 10 0 10 0 10 0 10 0 10 0 10 0 10 0 10 0 10 0 10 0 10 0 10 0 10 0 10 0 10 0 10 0 10 0 10 0 10 0 10 0 10 0 10 0 10 0 10 0 10 0 10 0 10 0 10 0 10 0 10 0 10 0 10 0 10 0 10 0 10 0 10 0 0-10 0-10 0-10 0-10 0-10 0-10 0-10 0-10 0-10 0-10 0-10 0-10 0-10 0-10 0-10 0-10 0-10 0-10 0-10 0-10 0-10 0-10 0-10 0-10 0-10 0-10 0-10 0-10 0-10 0-10 0-10 0-10 0-10 0-10 0-10 0-10 0-10 0-10 0-10 0-10 0-10 0-10 0-10 0-10 0-10 0-10 0-10 0-10 0-10 0-10 0-10 0-10 0-10 0-10 0-10 0-10 0-10 0-10 0-10 0-10 0-10 0-10 0-10 0-10 0-10 0-10 0-10 0-10 0-10 0-10 0-10 0-10 0-10 0-10 0-10 0-10 0-10 0-10 0-10 0-10 0-10 0-10 0-10 0-10 0-10 0-10 0-10 0-10 0-10 0-10 0-10 0-10 0-10 0-10 0-10 0-10 0-10 0-10 0-10 0-10 0-10 0-10 0-10 0-10 0-10 0-10 0-10 0-10 0-10 0-10 0-10 0-10 0-10 0-10 0-10 0-10 0-10 0-10 0-10 0-10 0-10 0-10 0-10 0-10 0-10 0-10 0-10 0-10 0-10 0-10 0-10 0-10 0-10 0-10 0-10 0-10 0-10 0-10 0-10 0-10 0-10 0-10 0-10 0-10 0-10 0-10 0-10 0-10 0-10 0-10 0-10 0-10 0-10 0-10 0-10 0-10 0-10 0-10 0-10 0-10 0-10 0-10 0-10 0-10 0-10 0-10 0-10 0-10 0-10 0-10 0-10 0-10 0-10 0-10 0-10 0-10 0-10 0-10 0-10 0-10 0-10 0-10 0-10 0-10 0-10 0-10 0-10 0-10 0-10 0-10 0-10 0-10 0-10 0-10 0-10 0-10 0-10 0-10 0-10 0-10 0-10 0-10 0-10 0-10 0-10 0-10 0-10 0-10 0-10 0-10 0-10 0-10 0-10 0-10 0-10 0-10 0-10 0-10 0-10 0-10 0-10 0-10 0-10 0-10 0-10 0-10 0-10 0-10 0-10 0-10 0-10 0-10 0-10 0-10 0-10 0-10 0-10 0-10 0-10 0-10 0-10 0-10 0-10 0-10 0-10 0-10 0-10 0-10 0-10 0-10-10 0-10 0-10 0-10 0-10 0-10 0-10 0-10 0-10 0-10 0-10 0-10 0-10 0-10 0-10 0-10 0-10 0-10 0-10 0-10 0-10 0-10 0-10 0-10 0-10 0-10 0-10 0-10 0-10 0-10 0-10 0-10 0-10 0-10 0-10 0-10 0-10 0-10 0-10 0-10 0-10 0-10 0-10 0-10 0-10 0-10 0-10 0-10 0-10 0-10 0-10 0-10 0-10 0-10 0-10 0-10 0-10 0-10 0-10 0-10 0-10 0-10 0-10 0-10 0-10 0-10 0-10 0-10 0-10 0-10 0-10 0-10 0-10 0-10 0-10 0-10 0-10 0-10 0-10 0-10 0-10 0-10 0-10 0-10 0-10 0-10 0-10 0-10 0-10 0-10 0-10 0-10 0-10 0-10 0-10 0-10 0-10 0-10 0-10 0-10 0-10 0-10 0-10 0-10 0-10 0-10 0-10 0-10 0-10 0-10 0-10 0-10 0-10 0-10 0-10 0-10 0-10 0-10 0-10 0-10 0-10 0-10 0-10 0-10 0-10 0-10 0-10 0-10 0-10 0-10 0-10 0-10 0-10 0-10 0-10 0-10 0-10 0-10 0-10 0-10 0-10 0-10 0-10 0-10 0-10 0-10 0-10 0-10 0-10 0-10 0-10 0-10 0-10 0-10 0-10 0-10 0-10 0-10 0-10 0-10 0-10 0-10 0-10 0-10 0-10 0-10 0-10 0-10 0-10 0-10 0-10 0-10 0-10 0-10 0-10 0-10 0-10 0-10 0-10 0-10 0-10 0-10 0-10 0-10 0-10 0-10 0-10 0-10 0-10 0-10 0-10 0-10 0-10 0-10 0-10 0-10 0-10 0-10 0-10 0-10 0-10 0-10 0-10 0-10 0-10 0-10 0-10 0-10 0-10 0-10 0-10 0-10 0-10 0-10 0-10 0-10 0-10 0-10 0-10 0-10 0-10 0-10 0-10 0-10 0-10 0-10 0-10 0-10 0 0 10 0 10 0 10 0 10 0 10 0 10 0 10 0 10 0 10 0 10 0 10 0 10 0 10 0 10 0 10 0 10 0 10 0 10 0 10 0 10 0 10 0 10 0 10 0 10 0 10 0 10 0 10 0 10 0 10 0 10 0 10 0 10 0 10 0 10 0 10 0 10 0 10 0 10 0 10 0 10 0 10 0 10 0 10 0 10 0 10 0 10 0 10 0 10 0 10 0 10 0 10 0 10 0 10 0 10 0 10 0 10 0 10 0 10 0 10 0 10 0 10 0 10 0 10 0 10 0 10 0 10 0 10 0 10 0 10 0 10 0 10 0 10 0 10 0 10 0 10 0 10 0 10 0 10 0 10 0 10 0 10 0 10 0 10 0 10 0 10 0 10 0 10 0 10 0 10 0 10 0 10 0 10 0 10 0 10 0 10 0 10 0 10 0 10 0 10 0 10 0 10 0 10 0 10 0 10 0 10 0 10 0 10 0 10 0 10 0 10 0 10 0 10 0 10 0 10 0 10 0 10 0 10 0 10 0 10 0 10 0 10 0 10 0 10 0 10 0 10 0 10 0 10 0 10 0 10 0 10 0 10 0 10 0 10 0 10 0 10 0 10 0 10 0 10 0 10 0 10 0 10 0 10 0 10 0 10 0 10 0 10 0 10 0 10 0 10 0 10 0 10 0 10 0 10 0 10 0 10 0 10 0 10 0 10 0 10 0 10 0 10 0 10 0 10 0 10 0 10 0 10 0 10 0 10 0 10 0 10 0 10 0 10 0 10 0 10 0 10 0 10 0 10 0 10 0 10 0 10 0 10 0 10 0 10 0 10 0 10 0 10 0 10 0 10 0 10 0 10 0 10 0 10 0 10 0 10 0 10 0 10 0 10 0 10 0 10 0 10 0 10 0 10 0 10 0 10 0 10 0 10 0 10 0 10 0 10 0 10 0 10 0 10 0 10 0 10 0 10 0 10 0 10 0 10 0 10 0 10 0 10 0 10 0 10 0 10 0 10 0 10 0 10 0 10 0 10 0 10 0 10 0 10 0 10 0 10 0 10 0 10 0 10 0 10 0 10 0 10 0 10 0 10 0 10 0 10 0 10 0 10 0 10 0 10 0 10 0 10zM1857 5182l-7-1-13 0-10-1-10-1-10-2-10-1-10-2-10-2-10-2-10-2-10-3-10-3-10-3-10-3-10-3-10-4-10-4-7-4-13-6-8-4-12-6-7-4-13-7-10-7-8-6-12-8-10-7-5-5-5-3-8-7-12-10-10-9-10-9-10-9-10-10-10-10-10-11-10-11-9-11-8-10-8-10-5-5-3-5-7-7-10-12-8-11-7-10-5-6-10-14-7-10-8-10-5-7-9-13-7-10-4-5-3-5-7-9-7-11-7-10-6-9-7-11-3-5-3-5-7-10-6-10-4-5-3-5-7-9-6-11-4-5-9-15-6-10-5-6-9-14-6-10-5-7-8-13-6-10-6-9-6-11-4-5-9-15-6-10-5-7-8-13-6-10-6-9-6-11-4-6-8-14-6-10-6-9-7-11-6-10-6-10-7-10-4-6-9-14-6-10-5-7-9-13-7-10-4-7-8-13-6-10-6-8-7-12-7-10-6-10-6-10-4-6-8-14-6-10-6-9-6-11-4-6-8-14-5-10-6-10-5-10-6-9-6-11-4-7-7-13-3-5-3-5-5-10-6-10-6-9-6-11-4-6-8-14-5-10-5-10-6-10-6-9-6-11-4-7-7-13-3-5-7-15-3-5-8-15-5-10-6-10-5-10-5-10-5-10-5-10-4-10-5-10-4-10-5-10-3-5-7-15-3-6-6-14-3-10-4-10-4-10-3-6-5-14-4-10-4-10-3-10-4-9-4-11-3-10-3-9-3-11-3-10-3-10-3-10-3-10-3-10-2-6-3-14-2-10-3-10-2-6-3-14-2-10-2-10-2-10-2-10-2-10-2-10-1-10-2-10-1-10-1-10-1-10-1-10-1-10-1-10-1-10-1-10 0-10-1-10 0-10-1-10-1-10 0-10 0-10-1-10 1-10 0-10 1-10 0-10 1-10 0-10 1-10 1-10 1-10 1-10 1-10 2-10 2-10 2-10 2-10 3-10 2-10 3-10 3-10 3-9 4-11 3-10 3-7 6-13 4-8 7-12 3-5 3-5 7-10 7-10 8-10 5-7 10-11 10-11 10-9 10-9 10-8 7-5 13-9 10-6 9-5 11-6 9-4 11-5 10-4 10-4 10-4 7-3 13-5 10-3 7-2 13-3 10-3 10-2 6-2 14-3 10-2 10-2 10-2 10-2 10-2 10-2 10-2 10-1 10-1 10-1 10-1 10-1 10-1 10 0 10-1 10-1 10-1 10-1 10 0 10 0 10-1 10 0 10 0 10 0 10 0 10 0 10 0 10 0 10 1 10 0 10 0 10 0 10-1 10-1 10-1 10-1 10 0 10 0 10 0 10 0 10 0 10-1 10 0 10 0 10 0 10 0 10 1 10 0 10 1 10 0 10 0 10 1 10 1 10 0 10 1 10 0 10 1 10 1 10 1 10 1 10 1 10 1 10 1 10 1 10 1 10 1 10 2 10 1 10 2 10 1 10 2 10 2 10 3 10 2 10 2 10 3 10 3 10 3 10 3 10 3 10 4 10 4 10 4 8 3 12 5 10 5 10 4 10 6 10 6 8 4 12 8 10 7 9 5 11 7 10 7 9 6 11 9 10 7 6 4 14 10 10 8 10 8 5 4 5 4 7 6 12 10 11 9 10 8 10 8 7 5 12 10 11 10 10 10 10 9 10 10 10 10 10 11 10 10 8 10 8 10 4 6 10 14 8 10 8 10 4 7 9 13 7 10 4 7 9 13 6 10 5 9 8 11 6 10 6 10 6 10 4 8 8 12 5 10 6 10 5 10 5 10 5 10 5 10 5 10 5 10 5 10 5 10 4 10 5 10 5 10 4 10 3 7 6 13 4 10 4 10 4 10 5 10 4 10 3 9 4 11 4 10 2 6 6 14 4 10 4 10 4 10 2 6 6 14 4 10 3 10 4 10 3 8 5 12 4 10 4 10 3 10 3 10 3 10 3 10 3 10 2 6 5 14 2 10 3 10 3 10 4 10 3 10 2 10 3 10 3 10 2 10 3 10 3 10 2 10 2 10 2 10 3 10 2 10 2 10 2 10 2 10 2 10 2 10 1 10 2 10 1 10 1 10 2 10 1 10 2 10 1 10 1 10 1 9 2 11 1 10 1 10 1 10 1 10 0 10 1 10 1 10 0 10 0 10 0 10 1 10 1 10 0 10 0 10 0 10-1 10 0 10-1 10 0 10-1 10 0 10-1 10-1 10-1 10-1 10-1 10-1 10-1 10-2 10-2 10-2 10-2 10-2 7-3 13-2 10-2 10-3 10-3 10-2 10-3 10-4 10-3 10-4 10-3 10-4 10-4 8-5 12-5 10-5 10-5 10-5 10-5 10-6 10-4 8-7 12-3 5-3 5-6 10-6 10-5 8-8 12-5 10-6 10-7 10-4 6-10 14-6 10-4 6-9 14-7 10-4 6-10 14-7 10-7 10-6 8-9 12-8 10-9 10-4 5-4 5-6 7-10 11-10 10-10 10-10 9-10 9-4 4-6 5-6 5-4 4-7 6-11 10-12 9-10 8-5 3-5 4-9 6-11 8-10 7-7 5-13 9-10 6-10 5-10 5-10 5-10 5-10 5-10 4-10 4-6 2-14 4-10 4-8 2-12 4-10 2-10 2-8 2-12 3-10 2-10 1-10 1-10 2-10 0-10 1-10 0-10 0-10 1-10 0z" fill="#cde11d" fill-rule="evenodd"/>
<path d="M527 5271l10 0 10 0 10 0 10 0 10 0 10 0 10 0 10 0 10 0 10 0 10 0 10 0 10 0 10 0 10 0 10 0 10 0 10 0 10 0 10 0 10 0 10 0 10 0 10 0 10 0 10 0 10 0 10 0 10 0 10 0 10 0 10 0 10 0 10 0 10 0 10 0 10 0 10 0 10 0 10 0 10 0 10 0 10 0 10 0 10 0 10 0 10 0 10 0 10 0 10 0 10 0 10 0 10 0 10 0 10 0 10 0 10 0 10 0 10 0 10 0 10 0 10 0 10 0 10 0 10 0 10 0 10 0 10 0 10 0 10 0 10 0 10 0 10 0 10 0 10 0 10 0 10 0 10 0 10 0 10 0 10 0 10 0 10 0 10 0 10 0 10 0 10 0 10 0 10 0 10 0 10 0 10 0 10 0 10 0 10 0 10 0 10 0 10 0 10 0 10 0 10 0 10 0 10 0 10 0 10 0 10 0 10 0 10 0 10 0 10 0 10 0 10 0 10 0 10 0 10 0 10 0 10 0 10 0 10 0 10 0 10 0 10 0 10 0 10 0 10 0 10 0 10 0 10 0 10 0 10 0 10 0 10 0 10 0 10 0 10 0 10 0 10 0 10 0 10 0 10 0 10 0 10 0 10 0 10 0 10 0 10 0 10 0 10 0 10 0 10 0 10 0 10 0 10 0 10 0 10 0 10 0 10 0 10 0 10 0 10 0 10 0 10 0 10 0 10 0 10 0 10 0 10 0 10 0 10 0 10 0 10 0 10 0 10 0 10 0 10 0 10 0 10 0 10 0 10 0 10 0 10 0 10 0 10 0 10 0 10 0 10 0 10 0 10 0 10 0 10 0 10 0 10 0 10 0 10 0 10 0 10 0 10 0 10 0 10 0 10 0 10 0 10 0 10 0 10 0 10 0 10 0 10 0 10 0 10 0 10 0 10 0 10 0 10 0 10 0 10 0 10 0 10 0 10 0 10 0 10 0 10 0 10 0 10 0 10 0 10 0 10 0 10 0 10 0 0-10 0-10 0-10 0-10 0-10 0-10 0-10 0-10 0-10 0-10 0-10 0-10 0-10 0-10 0-10 0-10 0-10 0-10 0-10 0-10 0-10 0-10 0-10 0-10 0-10 0-10 0-10 0-10 0-10 0-10 0-10 0-10 0-10 0-10 0-10 0-10 0-10 0-10 0-10 0-10 0-10 0-10 0-10 0-10 0-10 0-10 0-10 0-10 0-10 0-10 0-10 0-10 0-10 0-10 0-10 0-10 0-10 0-10 0-10 0-10 0-10 0-10 0-10 0-10 0-10 0-10 0-10 0-10 0-10 0-10 0-10 0-10 0-10 0-10 0-10 0-10 0-10 0-10 0-10 0-10 0-10 0-10 0-10 0-10 0-10 0-10 0-10 0-10 0-10 0-10 0-10 0-10 0-10 0-10 0-10 0-10 0-10 0-10 0-10 0-10 0-10 0-10 0-10 0-10 0-10 0-10 0-10 0-10 0-10 0-10 0-10 0-10 0-10 0-10 0-10 0-10 0-10 0-10 0-10 0-10 0-10 0-10 0-10 0-10 0-10 0-10 0-10 0-10 0-10 0-10 0-10 0-10 0-10 0-10 0-10 0-10 0-10 0-10 0-10 0-10 0-10 0-10 0-10 0-10 0-10 0-10 0-10 0-10 0-10 0-10 0-10 0-10 0-10 0-10 0-10 0-10 0-10 0-10 0-10 0-10 0-10 0-10 0-10 0-10 0-10 0-10 0-10 0-10 0-10 0-10 0-10 0-10 0-10 0-10 0-10 0-10 0-10 0-10 0-10 0-10 0-10 0-10 0-10 0-10 0-10 0-10 0-10 0-10 0-10 0-10 0-10 0-10 0-10 0-10 0-10 0-10 0-10 0-10 0-10 0-10 0-10 0-10 0-10 0-10 0-10 0-10 0-10 0-10 0-10 0-10 0-10 0-10 0-10 0-10 0-10 0-10 0-10 0-10 0-10 0-10 0-10 0-10 0-10 0-10 0-10 0-10 0-10 0-10 0-10 0-10 0-10 0-10 0-10 0-10 0-10 0-10 0-10 0-10 0-10 0-10 0-10 0-10 0-10 0-10 0-10 0-10 0-10 0-10 0-10 0-10-10 0-10 0-10 0-10 0-10 0-10 0-10 0-10 0-10 0-10 0-10 0-10 0-10 0-10 0-10 0-10 0-10 0-10 0-10 0-10 0-10 0-10 0-10 0-10 0-10 0-10 0-10 0-10 0-10 0-10 0-10 0-10 0-10 0-10 0-10 0-10 0-10 0-10 0-10 0-10 0-10 0-10 0-10 0-10 0-10 0-10 0-10 0-10 0-10 0-10 0-10 0-10 0-10 0-10 0-10 0-10 0-10 0-10 0-10 0-10 0-10 0-10 0-10 0-10 0-10 0-10 0-10 0-10 0-10 0-10 0-10 0-10 0-10 0-10 0-10 0-10 0-10 0-10 0-10 0-10 0-10 0-10 0-10 0-10 0-10 0-10 0-10 0-10 0-10 0-10 0-10 0-10 0-10 0-10 0-10 0-10 0-10 0-10 0-10 0-10 0-10 0-10 0-10 0-10 0-10 0-10 0-10 0-10 0-10 0-10 0-10 0-10 0-10 0-10 0-10 0-10 0-10 0-10 0-10 0-10 0-10 0-10 0-10 0-10 0-10 0-10 0-10 0-10 0-10 0-10 0-10 0-10 0-10 0-10 0-10 0-10 0-10 0-10 0-10 0-10 0-10 0-10 0-10 0-10 0-10 0-10 0-10 0-10 0-10 0-10 0-10 0-10 0-10 0-10 0-10 0-10 0-10 0-10 0-10 0-10 0-10 0-10 0-10 0-10 0-10 0-10 0-10 0-10 0-10 0-10 0-10 0-10 0-10 0-10 0-10 0-10 0-10 0-10 0-10 0-10 0-10 0-10 0-10 0-10 0-10 0-10 0-10 0-10 0-10 0-10 0-10 0-10 0-10 0-10 0-10 0-10 0-10 0-10 0-10 0-10 0-10 0-10 0-10 0-10 0-10 0-10 0-10 0-10 0-10 0-10 0-10 0-10 0-10 0-10 0-10 0-10 0-10 0-10 0-10 0-10 0-10 0-10 0-10 0-10 0-10 0-10 0-10 0-10 0 0 10 0 10 0 10 0 10 0 10 0 10 0 10 0 10 0 10 0 10 0 10 0 10 0 10 0 10 0 10 0 10 0 10 0 10 0 10 0 10 0 10 0 10 0 10 0 10 0 10 0 10 0 10 0 10 0 10 0 10 0 10 0 10 0 10 0 10 0 10 0 10 0 10 0 10 0 10 0 10 0 10 0 10 0 10 0 10 0 10 0 10 0 10 0 10 0 10 0 10 0 10 0 10 0 10 0 10 0 10 0 10 0 10 0 10 0 10 0 10 0 10 0 10 0 10 0 10 0 10 0 10 0 10 0 10 0 10 0 10 0 10 0 10 0 10 0 10 0 10 0 10 0 10 0 10 0 10 0 10 0 10 0 10 0 10 0 10 0 10 0 10 0 10 0 10 0 10 0 10 0 10 0 10 0 10 0 10 0 10 0 10 0 10 0 10 0 10 0 10 0 10 0 10 0 10 0 10 0 10 0 10 0 10 0 10 0 10 0 10 0 10 0 10 0 10 0 10 0 10 0 10 0 10 0 10 0 10 0 10 0 10 0 10 0 10 0 10 0 10 0 10 0 10 0 10 0 10 0 10 0 10 0 10 0 10 0 10 0 10 0 10 0 10 0 10 0 10 0 10 0 10 0 10 0 10 0 10 0 10 0 10 0 10 0 10 0 10 0 10 0 10 0 10 0 10 0 10 0 10 0 10 0 10 0 10 0 10 0 10 0 10 0 10 0 10 0 10 0 10 0 10 0 10 0 10 0 10 0 10 0 10 0 10 0 10 0 10 0 10 0 10 0 10 0 10 0 10 0 10 0 10 0 10 0 10 0 10 0 10 0 10 0 10 0 10 0 10 0 10 0 10 0 10 0 10 0 10 0 10 0 10 0 10 0 10 0 10 0 10 0 10 0 10 0 10 0 10 0 10 0 10 0 10 0 10 0 10 0 10 0 10 0 10 0 10 0 10 0 10 0 10 0 10 0 10 0 10 0 10 0 10 0 10 0 10 0 10 0 10 0 10 0 10 0 10 0 10 0 10 0 10 0 10 0 10 0 10 0 10 0 10 0 10 0 10 0 10 0 10 0 10 0 10 0 10 0 10 0 10 0 10 0 10 0 10 0 10 0 10zM1847 5201l-10 0-10-1-10-1-10-1-10-2-10-1-10-2-9-2-11-2-10-3-10-3-6-2-14-4-10-3-8-3-12-4-10-5-10-5-10-5-10-5-10-5-10-5-9-6-11-7-10-7-8-6-12-9-10-7-4-4-6-4-6-6-11-10-11-10-11-10-11-10-9-10-9-10-9-10-9-10-4-4-5-6-5-6-10-12-9-12-9-10-8-10-4-5-4-5-6-8-8-12-8-10-4-5-3-5-7-9-8-11-7-10-5-7-9-13-7-10-4-5-3-5-7-10-6-10-4-6-9-14-7-10-4-6-10-14-6-10-4-5-3-5-6-10-6-10-5-6-9-14-7-10-4-6-9-14-6-10-5-8-7-12-7-10-6-9-6-11-4-5-3-5-6-10-7-10-4-6-8-14-6-10-6-8-6-12-4-5-9-15-7-10-4-6-8-14-6-10-6-8-7-12-7-10-6-9-7-11-7-10-6-10-6-10-4-6-8-14-6-10-6-8-7-12-3-5-3-5-6-10-6-10-5-8-6-12-4-5-8-15-6-10-6-10-5-10-5-8-6-12-4-6-7-14-6-10-6-10-5-10-6-9-6-11-4-6-8-14-5-10-6-10-5-10-6-9-6-11-4-6-8-14-5-10-5-10-5-10-6-10-5-10-6-10-5-10-5-8-5-12-5-9-5-11-5-9-5-11-4-10-5-10-5-10-5-10-5-10-4-10-4-10-3-7-5-13-4-10-4-10-4-10-3-8-4-12-4-10-4-10-3-10-3-10-3-10-3-10-4-10-2-7-4-13-3-10-2-10-3-10-2-10-3-10-2-10-3-10-2-10-2-10-2-10-2-9-2-11-2-10-2-10-1-10-2-10-1-7-1-13-1-10-1-10-1-10-1-10-1-10 0-10-1-10 0-10-1-10-1-10 0-10 0-10 0-10 0-10 0-10 0-10 1-10 1-10 0-10 1-10 1-10 0-10 1-10 1-10 2-10 1-10 2-10 2-10 3-10 2-10 2-10 3-10 3-10 3-9 4-11 3-10 3-9 5-11 5-10 5-10 5-10 6-10 4-6 10-14 8-10 8-10 4-5 4-5 6-6 4-4 6-6 5-4 5-5 6-5 4-4 7-6 13-9 10-6 7-5 13-7 6-3 14-7 6-3 14-6 10-4 10-3 10-4 7-3 13-5 10-3 9-2 11-2 10-3 10-3 8-2 12-3 10-2 10-1 10-2 7-2 13-3 10-1 10-2 10-1 10-2 8-1 12-1 10-1 10-1 10 0 10-1 10-2 10 0 10-1 10-1 10 0 10 0 10-1 10 0 10 0 10-1 10 0 10 0 10 0 10 0 10 0 10 0 10 0 10-1 10-1 10 0 10-1 10 0 10 0 10 1 10 0 10 0 10 0 10 0 10 0 10 0 10 1 10 0 10 1 10 1 10 0 10 1 10 0 10 1 10 1 10 0 10 1 10 1 10 1 10 0 10 2 10 1 10 1 10 0 10 1 10 2 10 1 10 1 10 2 10 1 10 2 10 2 10 2 10 2 10 2 10 3 10 2 10 3 10 3 10 3 10 3 10 4 10 4 10 4 7 2 13 6 10 4 10 4 10 5 10 6 9 5 11 7 5 3 5 4 10 6 10 7 6 3 14 10 10 7 5 3 5 4 9 6 11 9 10 7 6 4 13 10 11 9 10 9 10 8 6 4 4 4 9 6 11 9 10 8 10 8 6 5 4 4 7 6 11 10 11 10 11 10 9 10 9 10 9 10 8 10 5 7 10 13 8 10 7 10 5 7 9 13 7 10 4 6 9 14 6 10 5 8 8 12 7 10 5 9 7 11 3 6 9 14 6 10 5 10 6 10 4 10 6 10 4 9 6 11 4 9 6 11 4 10 6 10 4 10 5 10 5 10 4 10 5 10 4 10 5 10 2 7 6 13 4 10 4 10 4 10 4 10 4 10 4 10 4 10 4 10 5 10 4 10 3 10 4 10 4 10 2 6 6 14 4 10 4 10 4 10 2 7 5 13 3 10 2 7 4 13 4 10 2 8 4 12 3 10 3 10 3 10 3 10 3 10 3 10 3 10 2 10 3 10 2 10 3 10 2 10 3 10 2 10 2 10 3 10 2 10 1 7 3 13 2 10 2 10 1 10 2 10 1 10 2 10 1 10 1 10 2 10 1 10 2 10 1 10 1 10 2 10 1 10 2 10 0 10 1 10 1 10 0 10 1 10 0 10 0 10 1 10 1 10 0 10 0 10 0 10 0 10 0 10 0 10-1 10-1 10 0 10 0 10-1 10-1 10-1 10-1 10-1 10-1 10-1 10-2 10-1 7-2 13-3 10-2 10-2 10-2 10-3 10-2 10-3 10-2 10-3 10-3 10-3 8-4 12-4 10-4 10-4 10-4 9-5 11-5 10-5 10-5 10-5 10-5 9-6 11-4 7-8 13-5 10-6 10-7 10-4 6-9 14-6 10-5 9-7 11-7 10-6 8-8 12-6 10-6 10-7 10-7 10-6 8-9 12-7 10-4 5-3 5-7 9-9 11-9 10-8 10-4 5-5 5-5 6-4 4-6 6-4 4-6 6-4 4-6 6-5 4-5 5-6 5-4 4-7 6-11 10-11 10-11 9-10 8-10 7-8 6-12 9-10 7-6 4-14 10-10 7-5 3-5 3-10 5-10 5-10 5-10 5-10 5-10 5-10 3-10 4-10 3-10 3-10 3-10 3-10 3-10 2-10 2-10 3-10 2-10 1-10 2-10 1-10 1-10 1-10 0-10 0-10 1-10 0-10 0-10-1z" fill="#efe51c" fill-rule="evenodd"/>
</g></g>
<circle cx="130.1" cy="429.9" r="29.4" fill="none" stroke="#000" stroke-width="1.1" stroke-dasharray="4.1 1.8"/>
<circle cx="130.1" cy="429.9" r="58.8" fill="none" stroke="#000" stroke-width="1.1" stroke-dasharray="4.1 1.8"/>
<circle cx="130.1" cy="429.9" r="88.2" fill="none" stroke="#000" stroke-width="1.1" stroke-dasharray="4.1 1.8"/>
<circle cx="130.1" cy="429.9" r="117.7" fill="none" stroke="#000" stroke-width="1.1" stroke-dasharray="4.1 1.8"/>
<circle cx="130.1" cy="429.9" r="147.1" fill="none" stroke="#000" stroke-width="1.1" stroke-dasharray="4.1 1.8"/>
<path d="M130.1 301.0V521.9M56.6 429.9H277.2" stroke="#000" stroke-width="1.4" fill="none"/>
<g fill="#000"><circle cx="93.4" cy="325.3" r="1.6"/><circle cx="103.3" cy="327.4" r="1.6"/><circle cx="118.6" cy="331.0" r="1.6"/><circle cx="105.0" cy="336.9" r="1.6"/><circle cx="105.4" cy="346.1" r="1.6"/><circle cx="104.2" cy="347.3" r="1.6"/><circle cx="102.9" cy="354.5" r="1.6"/><circle cx="113.8" cy="356.2" r="1.6"/><circle cx="150.5" cy="324.3" r="1.6"/><circle cx="154.3" cy="323.0" r="1.6"/><circle cx="143.8" cy="339.0" r="1.6"/><circle cx="157.1" cy="344.7" r="1.6"/><circle cx="139.6" cy="350.5" r="1.6"/><circle cx="144.5" cy="352.6" r="1.6"/><circle cx="149.5" cy="354.5" r="1.6"/><circle cx="139.2" cy="356.6" r="1.6"/><circle cx="141.3" cy="358.7" r="1.6"/><circle cx="127.6" cy="356.6" r="1.6"/><circle cx="154.3" cy="356.6" r="1.6"/><circle cx="148.0" cy="361.1" r="1.6"/><circle cx="158.5" cy="358.7" r="1.6"/><circle cx="127.0" cy="364.2" r="1.6"/><circle cx="129.7" cy="366.3" r="1.6"/><circle cx="140.3" cy="370.9" r="1.6"/><circle cx="154.3" cy="373.0" r="1.6"/><circle cx="156.4" cy="375.1" r="1.6"/><circle cx="136.5" cy="376.2" r="1.6"/><circle cx="128.1" cy="377.6" r="1.6"/><circle cx="135.4" cy="381.4" r="1.6"/><circle cx="153.3" cy="380.4" r="1.6"/><circle cx="155.4" cy="382.5" r="1.6"/><circle cx="139.2" cy="382.5" r="1.6"/><circle cx="168.4" cy="330.0" r="1.6"/><circle cx="178.9" cy="328.9" r="1.6"/><circle cx="174.3" cy="337.3" r="1.6"/><circle cx="204.1" cy="360.0" r="1.6"/><circle cx="192.6" cy="361.1" r="1.6"/><circle cx="170.5" cy="352.0" r="1.6"/><circle cx="161.1" cy="357.3" r="1.6"/><circle cx="164.6" cy="355.8" r="1.6"/><circle cx="162.5" cy="358.7" r="1.6"/><circle cx="179.5" cy="358.7" r="1.6"/><circle cx="183.1" cy="361.1" r="1.6"/><circle cx="182.1" cy="365.7" r="1.6"/><circle cx="173.7" cy="372.0" r="1.6"/><circle cx="181.6" cy="378.3" r="1.6"/><circle cx="180.6" cy="381.4" r="1.6"/><circle cx="183.5" cy="383.5" r="1.6"/><circle cx="175.8" cy="383.5" r="1.6"/><circle cx="197.8" cy="379.7" r="1.6"/><circle cx="134.2" cy="383.2" r="1.6"/><circle cx="151.0" cy="383.8" r="1.6"/><circle cx="143.6" cy="386.3" r="1.6"/><circle cx="133.1" cy="388.4" r="1.6"/><circle cx="125.1" cy="392.2" r="1.6"/><circle cx="141.5" cy="392.6" r="1.6"/><circle cx="137.3" cy="395.8" r="1.6"/><circle cx="160.4" cy="394.3" r="1.6"/><circle cx="147.8" cy="397.9" r="1.6"/><circle cx="141.1" cy="399.3" r="1.6"/><circle cx="148.9" cy="401.0" r="1.6"/><circle cx="136.3" cy="403.1" r="1.6"/><circle cx="159.8" cy="405.6" r="1.6"/><circle cx="147.4" cy="405.6" r="1.6"/><circle cx="172.6" cy="410.0" r="1.6"/><circle cx="156.6" cy="414.0" r="1.6"/><circle cx="154.1" cy="417.8" r="1.6"/><circle cx="152.0" cy="419.9" r="1.6"/><circle cx="173.0" cy="420.3" r="1.6"/><circle cx="130.6" cy="424.1" r="1.6"/><circle cx="162.1" cy="430.4" r="1.6"/><circle cx="174.1" cy="432.5" r="1.6"/><circle cx="177.2" cy="434.2" r="1.6"/><circle cx="173.0" cy="436.3" r="1.6"/><circle cx="183.5" cy="435.0" r="1.6"/><circle cx="179.3" cy="438.4" r="1.6"/><circle cx="182.5" cy="439.9" r="1.6"/><circle cx="162.5" cy="442.6" r="1.6"/><circle cx="160.4" cy="448.3" r="1.6"/><circle cx="158.7" cy="450.4" r="1.6"/><circle cx="179.3" cy="446.8" r="1.6"/><circle cx="181.4" cy="449.3" r="1.6"/><circle cx="194.5" cy="385.9" r="1.6"/><circle cx="186.1" cy="388.4" r="1.6"/><circle cx="186.1" cy="400.6" r="1.6"/><circle cx="209.8" cy="397.2" r="1.6"/><circle cx="211.9" cy="400.0" r="1.6"/><circle cx="218.2" cy="398.9" r="1.6"/><circle cx="207.7" cy="411.9" r="1.6"/><circle cx="190.3" cy="414.7" r="1.6"/><circle cx="219.7" cy="415.7" r="1.6"/><circle cx="186.1" cy="428.7" r="1.6"/><circle cx="188.2" cy="430.4" r="1.6"/><circle cx="201.4" cy="430.8" r="1.6"/><circle cx="227.0" cy="436.3" r="1.6"/><circle cx="194.5" cy="436.3" r="1.6"/><circle cx="190.9" cy="439.9" r="1.6"/><circle cx="195.5" cy="438.4" r="1.6"/><circle cx="200.8" cy="442.0" r="1.6"/><circle cx="205.6" cy="444.1" r="1.6"/><circle cx="194.5" cy="448.3" r="1.6"/><circle cx="209.8" cy="448.9" r="1.6"/><circle cx="197.6" cy="452.5" r="1.6"/><circle cx="186.7" cy="443.0" r="1.6"/><circle cx="159.5" cy="456.8" r="1.6"/><circle cx="163.7" cy="468.4" r="1.6"/><circle cx="174.8" cy="462.1" r="1.6"/><circle cx="217.2" cy="457.9" r="1.6"/><circle cx="207.8" cy="462.1" r="1.6"/><circle cx="206.3" cy="464.8" r="1.6"/><circle cx="186.1" cy="461.0" r="1.6"/><circle cx="182.6" cy="463.5" r="1.6"/><circle cx="187.8" cy="466.3" r="1.6"/><circle cx="183.6" cy="466.9" r="1.6"/><circle cx="186.8" cy="470.5" r="1.6"/><circle cx="181.5" cy="474.7" r="1.6"/><circle cx="181.1" cy="477.4" r="1.6"/><circle cx="173.1" cy="477.8" r="1.6"/><circle cx="193.7" cy="479.9" r="1.6"/><circle cx="200.8" cy="477.4" r="1.6"/><circle cx="197.9" cy="494.2" r="1.6"/></g>
<path d="M121.6 368.4h17M130.1 360.2v16.5" stroke="#f00" stroke-width="1.8" fill="none"/>
</g>
<rect x="56.6" y="301.0" width="220.6" height="220.9" fill="none" stroke="#000" stroke-width="0.8"/>
<text x="56.6" y="541.3" font-size="12.9" text-anchor="middle"><tspan textLength="9.6" lengthAdjust="spacingAndGlyphs">−</tspan>10</text>
<text x="130.1" y="541.3" font-size="12.9" text-anchor="middle">0</text>
<text x="203.7" y="541.3" font-size="12.9" text-anchor="middle">10</text>
<text x="277.2" y="541.3" font-size="12.9" text-anchor="middle">20</text>
<text x="47.3" y="324.1" font-size="12.9" text-anchor="end">15</text>
<text x="47.3" y="360.9" font-size="12.9" text-anchor="end">10</text>
<text x="47.3" y="397.7" font-size="12.9" text-anchor="end">5</text>
<text x="47.3" y="434.6" font-size="12.9" text-anchor="end">0</text>
<text x="47.3" y="471.4" font-size="12.9" text-anchor="end"><tspan textLength="9.6" lengthAdjust="spacingAndGlyphs">−</tspan>5</text>
<text x="47.3" y="508.2" font-size="12.9" text-anchor="end"><tspan textLength="9.6" lengthAdjust="spacingAndGlyphs">−</tspan>10</text>
<rect x="292.8" y="510.85" width="11.4" height="11.04" fill="#460a5d"/>
<rect x="292.8" y="499.81" width="11.4" height="11.34" fill="#481c6e"/>
<rect x="292.8" y="488.76" width="11.4" height="11.34" fill="#472d7b"/>
<rect x="292.8" y="477.72" width="11.4" height="11.34" fill="#443b84"/>
<rect x="292.8" y="466.67" width="11.4" height="11.34" fill="#3e4a89"/>
<rect x="292.8" y="455.63" width="11.4" height="11.34" fill="#38598c"/>
<rect x="292.8" y="444.58" width="11.4" height="11.34" fill="#31668e"/>
<rect x="292.8" y="433.54" width="11.4" height="11.34" fill="#2c728e"/>
<rect x="292.8" y="422.50" width="11.4" height="11.34" fill="#277e8e"/>
<rect x="292.8" y="411.45" width="11.4" height="11.34" fill="#238a8d"/>
<rect x="292.8" y="400.40" width="11.4" height="11.34" fill="#1f968b"/>
<rect x="292.8" y="389.36" width="11.4" height="11.34" fill="#1fa287"/>
<rect x="292.8" y="378.31" width="11.4" height="11.34" fill="#28ae80"/>
<rect x="292.8" y="367.27" width="11.4" height="11.34" fill="#38b977"/>
<rect x="292.8" y="356.23" width="11.4" height="11.34" fill="#50c46a"/>
<rect x="292.8" y="345.18" width="11.4" height="11.34" fill="#6ccd5a"/>
<rect x="292.8" y="334.13" width="11.4" height="11.34" fill="#8bd646"/>
<rect x="292.8" y="323.09" width="11.4" height="11.34" fill="#addc30"/>
<rect x="292.8" y="312.05" width="11.4" height="11.34" fill="#cde11d"/>
<rect x="292.8" y="301.00" width="11.4" height="11.34" fill="#efe51c"/>
<rect x="292.8" y="301.0" width="11.4" height="220.9" fill="none" stroke="#000" stroke-width="0.8"/>
<text x="314.2" y="526.6" font-size="12.9">900</text>
<text x="314.2" y="482.4" font-size="12.9">1020</text>
<text x="314.2" y="438.2" font-size="12.9">1140</text>
<text x="314.2" y="394.1" font-size="12.9">1260</text>
<text x="314.2" y="349.9" font-size="12.9">1380</text>
<text x="314.2" y="305.7" font-size="12.9">1500</text>
<path d="M56.6 521.9v3.5M130.1 521.9v3.5M203.7 521.9v3.5M277.2 521.9v3.5M56.6 319.4h-3.5M56.6 356.2h-3.5M56.6 393.0h-3.5M56.6 429.9h-3.5M56.6 466.7h-3.5M56.6 503.5h-3.5M304.2 521.9h3.5M304.2 477.7h3.5M304.2 433.5h3.5M304.2 389.4h3.5M304.2 345.2h3.5M304.2 301.0h3.5" stroke="#000" stroke-width="0.6" fill="none"/>
<text x="166.3" y="557.9" font-size="13" text-anchor="middle" textLength="44"><tspan font-style="italic">X</tspan> (kpc)</text>
<text transform="translate(16.4 411.8) rotate(-90)" font-size="13" text-anchor="middle" textLength="41"><tspan font-style="italic">Y</tspan> (kpc)</text>
<text transform="translate(352.4 411.8) rotate(-90)" font-size="13" text-anchor="middle" textLength="97"><tspan font-style="italic">T</tspan><tspan font-style="italic" font-size="9.2" dy="2.2">e</tspan><tspan dy="-2.2"> Std. Dev. (K)</tspan></text>
</svg>
</body></html>
